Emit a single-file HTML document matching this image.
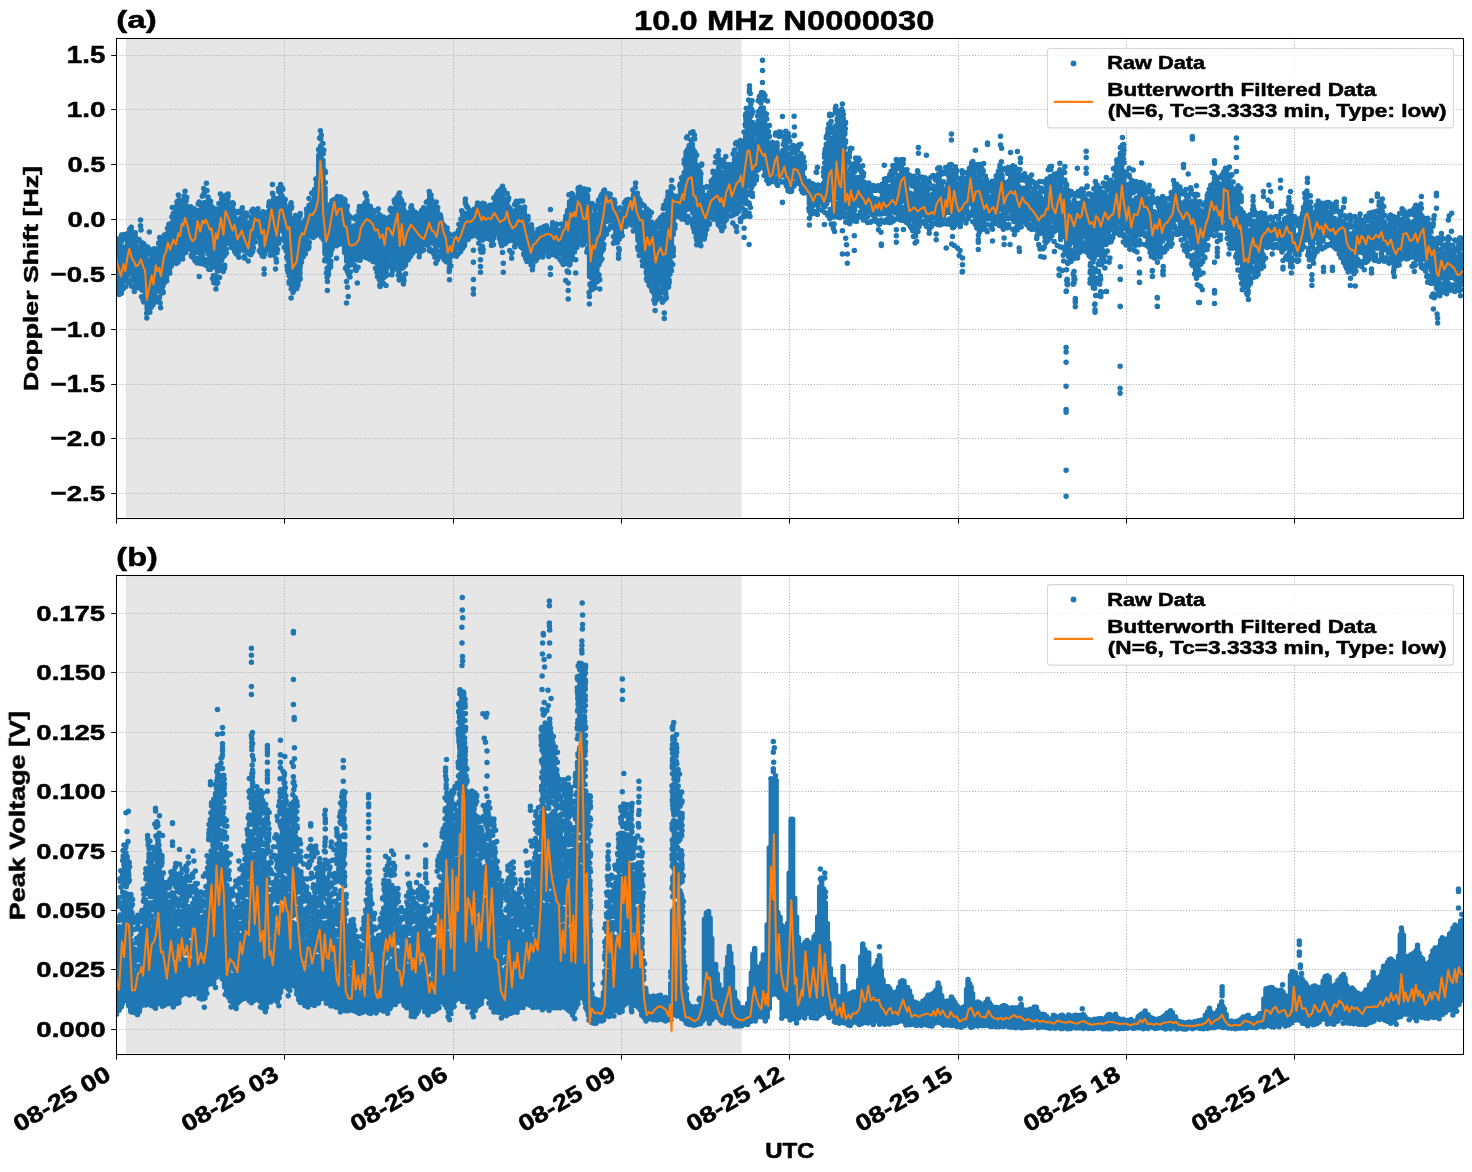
<!DOCTYPE html>
<html><head><meta charset="utf-8"><title>10.0 MHz N0000030</title><style>html,body{margin:0;padding:0;background:#fff}svg{display:block}</style></head><body>
<svg width="1472" height="1172" viewBox="0 0 1472 1172" font-family="Liberation Sans, sans-serif" font-weight="bold" fill="#000">
<rect width="1472" height="1172" fill="#fff"/>
<rect x="116.5" y="38.5" width="1347.0" height="480.0" fill="#fff"/>
<rect x="126.1" y="38.5" width="615.5" height="478.7" fill="#e6e6e6"/>
<rect x="126.0" y="38.5" width="1" height="478.7" fill="#dfdfdf"/>
<path d="M284.50 38.5V518.5M453.50 38.5V518.5M621.50 38.5V518.5M789.50 38.5V518.5M958.50 38.5V518.5M1126.50 38.5V518.5M1294.50 38.5V518.5M116.5 55.50H1463.5M116.5 109.50H1463.5M116.5 164.50H1463.5M116.5 219.50H1463.5M116.5 274.50H1463.5M116.5 329.50H1463.5M116.5 384.50H1463.5M116.5 438.50H1463.5M116.5 493.50H1463.5" stroke="#b0b0b0" stroke-width="1.1" stroke-dasharray="1.1 1.83" fill="none"/>
<rect x="116.5" y="575.5" width="1347.0" height="479.0" fill="#fff"/>
<rect x="126.1" y="575.5" width="615.5" height="477.7" fill="#e6e6e6"/>
<rect x="126.0" y="575.5" width="1" height="477.7" fill="#dfdfdf"/>
<path d="M284.50 575.5V1054.5M453.50 575.5V1054.5M621.50 575.5V1054.5M789.50 575.5V1054.5M958.50 575.5V1054.5M1126.50 575.5V1054.5M1294.50 575.5V1054.5M116.5 613.50H1463.5M116.5 672.50H1463.5M116.5 732.50H1463.5M116.5 791.50H1463.5M116.5 851.50H1463.5M116.5 910.50H1463.5M116.5 969.50H1463.5M116.5 1029.50H1463.5" stroke="#b0b0b0" stroke-width="1.1" stroke-dasharray="1.1 1.83" fill="none"/>
<clipPath id="ca"><rect x="116.6" y="38.4" width="1346.9" height="480"/></clipPath><g clip-path="url(#ca)" fill="none" stroke-linecap="round" stroke-linejoin="round"><path d="M116.8 246.5V279.9M118.3 246.7V282.6M119.8 246.8V286.3M121.6 247.0V287.2M123.5 247.3V281.2M125.6 247.6V279.9M127.5 239.4V275.7M129.7 234.0V273.2M131.3 235.6V272.8M133.3 238.8V279.4M135.1 242.0V281.7M137.1 248.7V279.1M138.6 247.3V280.1M140.3 247.0V281.2M142.1 248.2V285.9M143.7 251.8V290.3M145.5 254.2V298.6M147.2 263.4V308.9M148.6 261.8V301.6M150.6 259.7V300.6M152.0 257.4V297.1M154.0 260.4V292.1M155.6 255.0V290.3M157.1 253.0V291.1M159.0 251.9V290.9M161.0 250.3V292.4M162.8 246.0V286.2M164.2 242.1V273.4M166.4 242.7V271.7M168.0 233.3V266.7M169.8 230.4V264.7M171.8 222.9V260.8M173.3 221.3V256.0M175.4 217.1V257.6M177.5 214.3V253.1M179.3 210.8V249.7M181.0 209.0V247.9M182.6 208.2V245.7M184.3 206.0V241.8M186.4 206.0V243.4M188.3 208.9V241.9M190.2 216.1V248.1M191.9 221.0V250.5M193.6 220.9V253.2M195.6 220.7V252.4M197.1 212.7V250.5M198.8 210.4V252.7M200.6 209.7V253.8M202.3 205.9V251.4M204.2 202.8V249.8M206.1 202.6V250.4M208.1 206.1V253.9M210.2 211.3V258.1M212.0 215.6V261.5M213.7 219.5V266.5M215.8 217.2V266.8M217.5 215.2V271.2M219.6 209.5V262.2M221.2 206.7V256.9M222.9 209.9V257.3M224.4 203.7V255.7M226.3 199.9V243.2M227.8 200.4V234.8M229.4 208.7V238.3M231.4 209.1V242.2M232.9 212.9V243.6M234.4 212.4V244.0M236.4 219.6V249.1M238.6 220.3V252.2M240.6 218.1V248.4M242.3 215.5V247.5M244.2 219.4V250.8M245.8 222.0V248.5M247.9 227.9V252.9M250.0 222.5V248.5M251.8 217.6V240.3M253.3 214.6V240.8M254.8 211.3V235.8M256.8 212.7V232.8M258.9 213.6V237.7M260.9 217.9V246.1M262.9 218.1V249.0M264.6 221.7V254.0M266.8 219.8V250.6M268.9 211.1V246.7M270.5 205.8V235.9M272.4 204.1V236.8M274.2 204.5V248.2M275.8 208.0V252.0M277.3 203.8V240.0M278.8 198.6V227.6M280.9 193.8V230.2M282.4 196.6V231.0M284.5 203.2V240.7M286.2 209.3V250.9M287.9 213.3V259.8M289.4 212.1V266.1M291.1 220.0V281.4M293.2 229.4V283.4M294.6 230.3V282.0M296.1 229.4V279.5M298.2 226.8V273.6M300.1 222.9V266.9M301.9 223.1V253.1M303.4 222.6V250.4M305.1 220.0V247.3M307.0 212.1V238.5M309.1 205.3V235.3M311.2 204.1V231.7M312.8 201.9V231.1M314.8 194.0V230.4M316.6 183.3V225.8M318.8 155.1V213.4M320.8 145.8V214.2M322.9 160.2V236.1M325.0 188.0V253.7M326.9 215.7V260.8M328.6 215.3V262.2M330.6 210.2V254.8M332.2 206.6V240.3M333.7 202.8V232.8M335.2 199.9V234.7M337.0 201.8V235.6M338.7 203.9V229.5M340.7 200.9V230.7M342.7 205.4V241.8M344.7 208.1V252.5M346.7 211.3V261.2M348.7 220.9V266.1M350.5 231.5V263.3M352.2 230.2V258.2M353.9 225.9V259.8M355.9 225.7V253.7M357.6 223.8V259.7M359.4 218.6V254.7M361.5 219.1V250.0M362.9 211.5V244.0M365.0 202.9V246.0M366.7 206.5V246.6M368.5 208.6V247.3M370.0 216.8V248.6M371.9 214.7V246.7M373.7 217.6V252.5M375.5 217.2V257.4M377.6 217.0V263.8M379.7 221.1V268.8M381.7 224.4V270.4M383.3 228.2V269.2M384.8 226.2V268.1M386.7 224.3V264.5M388.6 217.7V255.1M390.5 216.5V252.7M392.7 213.2V260.6M394.8 208.0V252.8M396.3 206.5V252.1M397.9 203.0V259.5M399.6 209.0V266.8M401.7 210.8V262.7M403.3 214.3V267.5M405.4 221.6V265.3M407.1 221.0V255.6M408.7 217.4V249.5M410.8 212.1V246.4M412.6 215.0V243.9M414.1 217.9V243.2M415.6 218.0V244.4M417.7 221.4V244.5M419.8 219.8V249.0M421.9 218.7V246.0M423.8 218.0V244.6M425.8 212.2V244.4M427.5 208.7V245.2M429.5 203.2V243.0M431.1 206.2V242.3M432.6 210.6V243.3M434.1 210.1V240.6M435.9 211.6V250.9M437.4 214.7V245.8M439.0 217.9V243.5M441.0 218.1V244.0M442.5 223.8V248.6M444.3 225.8V252.3M446.3 232.8V256.8M447.8 237.6V261.5M449.5 240.4V263.8M451.3 240.8V256.3M453.2 240.0V252.2M455.0 235.9V249.7M456.6 235.8V246.7M458.5 230.3V247.5M460.4 225.0V246.5M462.4 219.9V242.8M464.3 213.5V232.9M466.4 214.7V235.6M468.4 213.0V233.8M469.9 215.8V232.1M471.9 218.5V231.5M473.9 212.6V229.4M475.5 209.6V227.6M477.1 206.3V225.1M478.9 206.7V232.4M480.9 208.9V239.6M482.7 207.7V240.1M484.5 208.0V237.6M486.4 209.7V232.1M488.1 209.4V228.3M489.9 212.9V233.1M491.8 207.3V236.4M493.6 204.5V237.7M495.5 202.1V230.3M497.1 202.6V226.8M498.8 200.5V229.4M500.3 199.4V236.1M502.1 199.3V239.8M503.6 198.6V242.2M505.1 199.7V239.4M506.8 200.6V233.1M508.5 206.8V235.6M510.3 208.7V240.5M512.3 214.5V237.2M514.3 211.5V241.3M516.3 209.8V237.0M518.4 207.4V236.3M520.0 207.4V238.2M522.1 211.0V241.8M524.2 211.7V246.3M526.0 216.3V250.2M527.8 226.1V252.7M529.7 232.1V258.7M531.4 234.0V261.1M533.0 235.5V256.0M534.6 235.3V256.9M536.2 234.7V253.4M538.0 233.3V252.5M539.8 233.1V251.2M541.4 231.6V250.2M542.9 230.5V248.8M544.7 231.2V245.0M546.9 228.6V246.3M548.9 229.2V248.4M550.7 231.1V248.7M552.7 228.0V248.0M554.8 227.6V247.3M556.3 229.5V246.4M558.2 231.5V248.9M560.2 230.2V253.8M562.1 229.8V253.4M563.6 225.1V253.4M565.7 220.0V256.2M567.6 210.5V260.2M569.6 201.8V254.6M571.6 199.5V244.5M573.0 201.1V244.2M574.7 208.8V240.5M576.3 201.2V238.3M578.3 194.1V232.0M580.3 193.5V231.7M582.2 195.2V235.3M583.7 206.3V236.3M585.7 199.1V241.0M587.5 195.5V238.9M589.6 206.1V276.6M591.7 215.2V278.0M593.5 218.2V275.9M595.3 217.4V276.0M596.8 216.0V271.4M598.8 214.3V265.0M600.3 209.0V261.2M601.8 206.2V251.4M603.3 199.9V238.0M605.4 197.7V220.7M607.2 195.8V221.3M608.8 197.0V220.9M610.6 199.2V218.0M612.1 199.4V220.6M614.2 204.7V227.8M615.8 209.1V233.2M617.8 215.4V236.9M619.3 213.6V239.0M621.3 214.3V235.6M623.2 210.9V226.8M624.9 208.3V224.3M626.9 203.7V216.2M628.4 201.7V216.8M630.0 199.7V217.1M632.2 198.8V220.8M633.7 194.5V219.9M635.8 193.7V228.7M637.9 202.2V240.1M639.3 207.3V243.1M641.3 212.5V248.0M642.8 212.6V252.5M644.6 222.2V263.9M646.5 218.3V268.0M648.2 220.6V270.9M649.7 221.7V269.6M651.7 222.3V276.1M653.4 224.6V278.3M655.1 231.1V287.9M657.0 233.2V285.2M658.9 233.3V280.0M661.0 224.8V283.4M662.7 224.4V288.8M664.4 221.8V290.6M665.9 215.3V285.2M668.0 205.8V270.1M669.5 202.4V265.5M671.4 196.7V256.1M673.2 197.4V234.6M675.1 196.1V217.2M677.2 196.8V207.3M679.0 196.6V212.1M680.6 188.6V211.8M682.1 183.2V210.4M684.3 172.6V213.2M686.1 151.9V209.0M687.5 149.8V209.3M689.2 145.4V208.2M690.8 144.7V205.0M692.8 148.5V212.8M694.8 151.7V217.5M696.2 165.1V225.8M698.4 172.8V230.4M700.3 176.9V227.4M702.3 187.5V231.5M704.0 198.0V225.3M705.5 195.8V226.8M707.0 195.4V222.4M709.2 192.6V217.9M711.3 186.3V213.9M713.4 179.1V211.7M715.0 173.1V211.4M717.0 171.4V209.9M718.6 167.2V215.9M720.5 171.7V219.8M722.1 172.6V221.4M723.9 174.2V222.3M725.8 170.5V212.9M727.4 170.5V205.8M729.4 170.7V202.4M731.0 171.5V208.8M733.2 164.2V215.1M734.7 158.4V209.8M736.6 157.4V213.4M738.5 154.5V211.4M740.5 151.9V207.2M742.1 156.0V202.4M744.0 147.8V200.0M745.6 136.0V190.7M747.5 126.2V180.8M749.2 118.2V180.3M750.8 122.8V182.0M752.3 127.5V181.7M754.3 146.6V176.5M756.2 141.7V171.0M758.1 121.3V159.9M759.6 121.4V158.5M761.4 119.7V159.5M763.2 122.2V162.6M764.8 123.2V164.2M766.9 128.1V172.4M769.1 143.3V174.0M771.2 154.4V178.6M773.1 156.3V176.3M775.1 146.5V171.5M777.0 143.0V168.2M779.0 153.7V178.4M780.8 154.8V176.1M782.9 150.4V172.9M784.6 152.3V173.1M786.2 152.5V179.6M788.3 154.4V181.8M789.7 157.4V187.8M791.6 163.4V181.9M793.7 158.1V175.7M795.6 158.4V176.4M797.2 156.7V174.9M799.1 159.2V177.6M800.9 168.3V185.1M802.4 165.8V186.8M804.2 177.8V188.2M805.8 182.4V188.3M807.9 188.6V192.7M809.4 190.3V203.7M811.3 189.7V205.4M813.1 194.3V205.6M814.9 191.0V202.8M817.0 189.9V204.1M818.5 190.2V198.7M820.0 192.1V199.7M821.7 191.0V201.7M823.5 183.4V205.6M825.1 177.3V206.4M826.8 160.3V203.6M828.4 148.4V194.7M829.9 141.4V195.5M831.6 138.7V199.9M833.7 153.1V217.0M835.8 141.7V195.9M837.9 138.0V197.4M840.0 142.3V202.7M841.8 137.6V197.5M843.4 131.1V188.6M845.0 154.6V207.2M847.1 173.1V207.1M849.2 177.9V212.6M850.7 174.9V204.5M852.5 177.3V209.2M854.6 181.4V210.3M856.2 177.5V204.9M857.9 182.0V204.7M859.9 177.3V205.8M861.8 180.9V207.6M863.5 192.3V205.1M865.1 192.8V210.4M866.9 193.1V210.8M868.8 194.0V210.5M870.9 195.4V213.3M872.5 200.5V215.0M874.3 198.6V216.1M875.9 198.7V213.9M877.5 200.3V212.1M879.0 203.7V214.0M880.7 198.9V214.0M882.4 195.0V213.8M884.2 191.6V213.4M886.1 194.3V213.6M887.8 192.8V214.2M889.9 189.7V212.4M891.4 186.2V210.1M892.9 183.1V206.6M894.6 181.6V212.5M896.4 180.1V211.1M898.0 175.8V209.1M899.9 175.3V204.4M901.7 170.1V199.8M903.5 169.7V201.0M905.0 174.5V198.7M906.8 180.4V209.4M908.7 193.1V216.0M910.5 193.3V219.2M912.3 197.7V212.9M914.2 194.5V222.9M916.2 190.6V224.5M917.8 190.6V221.6M919.8 191.7V217.3M921.7 194.0V215.3M923.4 192.1V215.1M925.5 193.3V215.1M927.1 194.2V219.5M929.1 195.5V220.7M931.0 195.0V219.0M933.1 194.2V217.2M934.6 192.2V217.3M936.2 189.9V215.3M938.2 183.7V212.3M939.6 182.6V212.8M941.7 185.7V214.8M943.6 191.4V218.7M945.6 189.8V212.7M947.6 184.4V211.4M949.2 179.1V207.0M950.7 185.1V208.0M952.7 183.5V216.2M954.8 179.6V210.8M956.6 186.4V216.5M958.5 195.2V217.9M960.7 191.2V217.4M962.8 187.7V215.2M964.8 189.1V211.9M966.5 187.1V212.6M968.1 182.8V198.3M969.6 177.2V203.4M971.2 173.2V203.3M973.2 180.3V211.7M975.1 176.7V210.4M976.7 177.4V210.4M978.4 180.8V214.6M979.9 177.9V215.3M981.4 180.1V216.1M983.3 182.9V217.7M985.0 189.5V218.4M986.7 192.9V216.7M988.5 199.2V219.1M990.3 197.1V218.6M991.8 196.8V217.7M993.5 193.0V217.5M995.2 196.9V217.0M996.9 190.5V214.1M998.8 183.1V209.5M1000.5 174.1V206.1M1002.0 174.9V208.1M1003.5 182.3V213.0M1005.2 184.1V215.7M1007.3 182.6V211.8M1009.2 180.7V210.9M1010.7 177.4V206.6M1012.6 178.4V211.3M1014.3 182.4V214.0M1015.9 181.3V214.4M1017.6 184.0V216.6M1019.4 187.2V218.7M1021.4 190.0V214.4M1023.3 188.2V211.6M1024.9 188.3V213.2M1026.4 189.5V213.7M1027.9 189.7V216.3M1029.7 192.2V218.6M1031.4 193.2V215.8M1033.4 197.1V220.6M1035.2 197.1V222.2M1037.0 200.2V230.5M1038.5 198.8V227.6M1040.6 197.0V233.3M1042.7 200.8V232.9M1044.6 199.4V231.1M1046.6 193.8V227.5M1048.3 188.6V225.2M1050.4 176.5V213.3M1051.9 181.9V219.1M1053.7 188.8V221.9M1055.3 194.6V221.7M1057.0 189.8V217.4M1058.6 184.8V216.1M1060.7 183.5V219.9M1062.7 188.7V236.5M1064.7 189.4V235.9M1066.8 209.5V250.7M1068.8 202.0V240.5M1070.9 204.4V239.6M1072.3 206.3V242.5M1074.2 208.6V239.6M1075.7 207.0V241.2M1077.2 203.6V237.0M1079.1 203.6V236.0M1080.8 203.0V231.9M1083.0 198.5V231.1M1084.9 196.5V225.1M1087.0 200.6V233.7M1088.8 203.8V244.9M1090.7 208.5V253.4M1092.6 206.8V255.4M1094.2 211.0V258.5M1095.8 196.2V251.1M1097.9 198.6V254.5M1099.8 204.3V252.8M1101.5 207.5V251.6M1103.6 199.5V244.5M1105.5 195.3V239.8M1107.1 197.0V237.7M1108.8 198.4V231.4M1110.9 194.9V229.7M1112.9 191.6V227.1M1114.7 184.3V220.7M1116.7 176.8V212.0M1118.2 181.8V218.8M1120.1 173.9V219.6M1121.7 164.8V215.2M1123.8 171.6V220.2M1125.8 186.2V228.6M1127.7 192.0V231.5M1129.5 192.4V232.8M1131.2 202.9V239.5M1132.9 201.0V235.7M1134.8 199.9V226.5M1136.4 197.9V235.4M1138.1 198.1V231.8M1139.7 193.0V230.8M1141.4 190.7V217.3M1143.4 194.2V219.5M1145.5 198.2V223.1M1147.4 198.0V226.8M1148.8 198.4V229.1M1150.4 199.9V236.8M1152.1 211.6V244.4M1153.9 211.8V241.7M1155.7 214.0V242.7M1157.8 212.8V242.5M1159.4 208.4V235.6M1161.0 209.4V242.2M1163.0 211.6V240.5M1164.9 211.1V237.7M1166.6 212.9V235.8M1168.4 209.7V235.6M1169.9 208.7V232.0M1171.5 204.8V228.0M1173.1 196.7V225.1M1174.8 188.7V219.9M1176.7 187.2V219.1M1178.2 196.0V219.8M1180.3 202.7V224.3M1181.9 204.7V228.8M1183.5 203.2V233.8M1185.1 201.5V232.2M1186.6 200.9V235.2M1188.6 202.4V235.4M1190.3 203.7V238.7M1192.2 204.7V243.8M1193.8 204.3V247.3M1195.5 209.5V243.4M1197.2 212.9V255.9M1198.8 217.9V256.0M1200.5 217.1V248.5M1202.6 219.2V247.8M1204.3 219.3V246.0M1206.1 214.1V237.3M1207.6 207.5V231.7M1209.4 201.1V223.7M1211.1 194.1V216.0M1212.6 191.5V219.9M1214.4 189.9V222.9M1216.4 188.9V222.6M1218.4 196.5V227.2M1220.2 195.6V227.9M1221.9 195.3V227.3M1224.0 179.4V210.4M1226.1 178.0V212.6M1227.8 178.7V217.3M1229.8 190.6V227.9M1231.9 196.4V233.7M1233.9 206.3V239.6M1235.4 206.6V240.3M1237.2 203.3V245.2M1238.9 207.8V253.0M1240.7 209.2V255.8M1242.7 227.1V268.4M1244.6 237.9V275.6M1246.7 236.5V275.5M1248.4 236.4V278.3M1250.3 230.8V267.5M1252.4 224.5V259.5M1254.3 225.4V261.4M1256.0 228.1V261.5M1258.0 230.9V262.2M1259.9 229.9V261.1M1261.6 224.4V255.2M1263.6 225.5V245.8M1265.6 223.5V245.8M1267.2 223.3V237.9M1269.2 226.1V235.1M1271.0 229.7V239.8M1272.6 224.5V239.6M1274.6 223.7V236.4M1276.3 224.3V238.6M1278.2 225.2V238.9M1280.3 223.6V241.7M1282.4 222.9V244.7M1284.4 221.8V244.9M1286.1 218.4V243.3M1288.0 217.0V244.6M1289.5 219.8V248.7M1291.2 219.4V249.5M1293.3 228.1V250.2M1295.2 235.5V253.9M1297.3 236.4V254.9M1299.0 234.4V255.1M1300.7 230.1V249.7M1302.1 224.0V244.1M1303.6 221.7V236.3M1305.6 203.3V235.0M1307.5 202.2V236.8M1308.9 204.1V239.8M1310.6 210.6V243.2M1312.4 217.5V246.6M1314.5 216.7V238.4M1316.2 213.9V236.5M1318.1 213.9V238.2M1319.7 213.9V239.1M1321.4 214.6V237.1M1323.0 217.3V241.0M1325.0 214.6V235.6M1327.0 213.4V233.3M1328.8 219.2V235.9M1330.6 216.2V237.5M1332.6 217.9V237.9M1334.6 218.4V239.6M1336.4 220.4V241.9M1338.4 220.8V240.8M1339.8 219.3V243.1M1341.4 221.4V240.7M1343.5 221.2V245.7M1345.1 223.7V246.7M1346.7 231.4V252.3M1348.6 235.5V261.3M1350.4 234.1V264.3M1352.4 234.2V262.3M1354.2 232.2V263.1M1355.7 234.4V260.7M1357.7 225.0V252.3M1359.7 228.0V252.0M1361.6 225.6V252.0M1363.4 230.4V253.2M1365.3 231.3V253.1M1367.3 226.6V249.1M1369.4 225.9V247.2M1370.9 226.0V246.3M1372.5 230.1V249.3M1374.3 222.4V248.2M1376.0 217.4V243.1M1377.6 217.8V248.3M1379.2 217.8V246.2M1381.2 217.2V247.4M1382.7 220.4V249.4M1384.7 222.4V249.5M1386.6 225.9V248.3M1388.4 227.6V252.9M1390.6 228.2V252.7M1392.0 230.8V254.9M1393.7 232.4V260.1M1395.5 235.2V259.4M1397.2 239.0V258.9M1398.8 230.3V253.6M1400.3 228.6V255.4M1402.1 225.7V249.1M1403.9 222.3V244.5M1405.4 222.8V246.1M1406.8 225.6V246.2M1408.3 225.2V249.0M1410.3 226.2V252.6M1412.2 223.6V251.8M1414.1 221.3V252.8M1415.9 220.3V251.2M1417.7 224.0V251.6M1419.6 228.9V250.9M1421.7 221.6V249.7M1423.8 224.4V251.4M1425.3 232.6V259.2M1427.4 236.8V266.6M1429.1 236.5V265.1M1431.2 237.7V270.6M1433.1 238.7V277.5M1434.7 239.8V276.1M1436.7 255.0V284.3M1438.8 255.8V285.1M1440.9 249.8V275.6M1442.8 253.8V277.5M1444.8 252.8V279.4M1446.4 253.9V278.8M1448.1 251.3V278.0M1449.6 249.5V277.1M1451.3 250.9V277.2M1453.4 252.9V276.2M1455.1 259.1V279.1M1457.0 259.0V282.8M1458.9 255.6V278.9M1460.3 254.6V285.3M1462.5 254.3V284.1" stroke="#1f77b4" stroke-width="5.5"/><path d="M116.8 286.5h0M117.0 288.9h0M118.7 241.9h0M118.3 241.9h0M118.9 288.9h0M119.5 292.0h0M119.2 294.4h0M121.2 242.3h0M121.3 240.0h0M122.0 239.9h0M121.7 236.1h0M122.1 234.7h0M121.4 290.9h0M123.3 288.7h0M125.0 238.8h0M125.9 237.5h0M125.2 234.6h0M127.8 233.4h0M127.5 281.1h0M127.0 281.3h0M129.7 229.2h0M129.7 282.0h0M131.2 228.7h0M131.3 227.2h0M131.6 280.1h0M131.7 286.2h0M132.8 232.9h0M132.9 286.4h0M135.2 235.9h0M134.5 287.2h0M134.7 288.4h0M137.5 285.3h0M138.2 283.9h0M139.9 241.5h0M140.3 288.6h0M141.7 243.4h0M142.6 242.9h0M142.2 290.2h0M141.5 296.7h0M141.7 296.8h0M143.3 244.4h0M143.7 300.4h0M143.8 302.0h0M145.3 250.7h0M147.5 247.7h0M146.6 313.2h0M148.2 253.5h0M150.2 254.3h0M150.5 249.8h0M150.8 304.5h0M150.6 305.8h0M151.0 307.4h0M151.9 305.9h0M154.4 253.5h0M154.0 248.7h0M154.2 299.9h0M153.6 300.2h0M155.4 296.1h0M156.0 297.5h0M156.1 301.8h0M156.6 248.9h0M157.5 299.5h0M158.7 243.8h0M158.7 243.4h0M159.5 297.4h0M158.7 300.2h0M160.6 247.2h0M160.5 239.2h0M163.1 242.1h0M163.3 241.7h0M163.3 239.7h0M162.5 290.5h0M162.3 293.1h0M164.3 238.1h0M163.7 283.5h0M166.5 233.9h0M166.6 277.4h0M167.5 228.3h0M169.5 270.7h0M169.5 272.5h0M171.9 216.8h0M171.3 265.2h0M171.3 266.3h0M173.7 217.2h0M173.8 214.4h0M173.3 213.4h0M173.9 260.5h0M173.7 261.2h0M175.9 211.1h0M175.8 209.6h0M175.9 208.9h0M175.1 208.7h0M177.1 204.6h0M177.0 201.8h0M177.2 261.8h0M178.0 262.2h0M179.2 204.7h0M179.0 202.9h0M179.5 202.8h0M179.4 200.1h0M179.1 199.7h0M179.0 255.8h0M180.4 204.5h0M181.0 201.6h0M181.2 254.1h0M182.5 203.5h0M183.1 200.3h0M182.8 250.6h0M182.1 250.8h0M183.1 253.6h0M182.9 254.6h0M184.5 199.8h0M184.7 250.6h0M186.1 201.0h0M186.7 197.6h0M186.6 197.3h0M186.4 247.9h0M186.7 248.7h0M187.0 248.9h0M188.6 248.8h0M191.7 215.1h0M192.4 214.6h0M192.1 254.6h0M191.5 256.6h0M193.5 215.3h0M193.7 215.2h0M194.0 211.6h0M193.3 210.3h0M193.7 257.1h0M193.8 258.3h0M196.0 210.1h0M195.4 259.4h0M195.1 261.0h0M197.7 259.6h0M197.1 260.4h0M198.2 203.9h0M198.5 258.3h0M199.1 260.4h0M200.0 204.6h0M200.7 203.4h0M200.6 263.5h0M202.9 195.5h0M202.5 255.6h0M202.2 258.4h0M202.2 258.4h0M202.2 260.9h0M204.2 193.1h0M204.4 259.6h0M204.1 264.2h0M206.5 260.6h0M205.9 265.3h0M208.5 199.7h0M208.0 197.2h0M208.1 196.9h0M207.9 259.8h0M207.5 264.1h0M210.3 202.6h0M209.8 201.3h0M209.7 262.7h0M210.2 269.6h0M212.2 207.1h0M212.1 265.7h0M212.1 266.7h0M212.3 267.5h0M214.1 212.0h0M214.1 211.8h0M213.6 275.6h0M214.0 281.3h0M213.8 282.7h0M215.9 208.9h0M215.4 275.9h0M216.1 276.5h0M216.1 278.4h0M216.1 279.8h0M217.0 209.8h0M216.9 208.9h0M217.1 282.5h0M217.7 282.7h0M219.8 266.0h0M219.5 266.4h0M219.4 268.9h0M219.3 269.7h0M219.5 277.5h0M221.7 198.8h0M221.5 260.5h0M221.0 267.5h0M221.3 270.2h0M223.4 203.3h0M222.5 203.3h0M222.4 199.2h0M222.5 196.6h0M223.4 268.7h0M222.4 269.0h0M223.8 200.2h0M224.7 196.4h0M224.6 265.3h0M224.5 268.2h0M226.1 249.2h0M226.4 253.3h0M228.2 196.2h0M228.0 194.1h0M228.0 243.2h0M231.3 247.4h0M232.8 208.5h0M233.4 203.9h0M232.9 203.7h0M234.0 248.8h0M236.1 212.0h0M236.2 253.8h0M238.5 212.5h0M241.8 209.9h0M242.3 207.8h0M244.0 214.6h0M244.2 256.6h0M244.7 257.4h0M246.3 216.8h0M247.4 215.5h0M250.6 254.7h0M251.4 211.2h0M251.8 253.0h0M252.8 210.9h0M252.9 246.6h0M253.5 247.9h0M255.3 242.1h0M254.7 242.2h0M260.5 252.4h0M263.3 212.4h0M262.3 255.9h0M264.0 214.4h0M264.4 213.7h0M266.8 213.0h0M268.7 206.2h0M269.0 203.3h0M270.3 249.5h0M271.0 251.8h0M272.3 245.2h0M272.2 251.6h0M274.0 200.7h0M273.6 198.7h0M273.9 197.8h0M273.9 255.0h0M275.7 199.9h0M276.1 259.1h0M276.4 262.1h0M276.7 199.9h0M277.3 198.8h0M277.6 249.6h0M278.8 191.5h0M279.3 189.6h0M278.9 238.9h0M279.0 240.9h0M278.5 241.5h0M278.8 243.2h0M280.7 188.4h0M280.6 184.4h0M282.9 189.2h0M282.4 188.2h0M284.2 247.3h0M286.7 257.5h0M287.5 270.0h0M288.1 271.9h0M289.9 205.8h0M289.0 273.5h0M289.1 275.7h0M289.1 281.5h0M289.2 283.3h0M291.3 208.3h0M290.9 284.6h0M291.2 288.9h0M292.7 224.7h0M292.9 224.1h0M293.2 223.7h0M293.2 218.8h0M292.8 288.0h0M293.6 291.3h0M294.1 224.2h0M294.8 223.0h0M294.7 286.8h0M294.0 289.8h0M295.6 222.1h0M296.4 221.8h0M295.9 221.3h0M295.6 219.7h0M295.7 219.5h0M296.7 216.6h0M296.4 285.5h0M296.2 286.7h0M296.7 288.5h0M298.6 219.1h0M298.4 216.7h0M298.2 281.8h0M298.0 285.2h0M299.7 216.4h0M300.0 215.2h0M299.8 270.7h0M300.0 273.6h0M299.6 276.1h0M300.2 278.9h0M301.7 257.9h0M301.5 262.0h0M305.0 252.1h0M305.2 252.6h0M305.3 254.1h0M306.8 249.5h0M309.0 198.4h0M309.2 242.2h0M309.0 242.4h0M309.3 242.6h0M308.5 242.6h0M308.6 243.1h0M308.9 246.5h0M312.7 193.7h0M313.2 192.8h0M313.3 235.6h0M313.0 237.4h0M314.6 189.5h0M315.1 236.1h0M316.8 230.9h0M316.4 233.5h0M319.2 150.6h0M319.0 149.9h0M318.6 149.4h0M319.1 223.4h0M318.7 226.4h0M320.8 139.0h0M321.3 135.3h0M320.6 217.8h0M320.2 218.2h0M320.4 218.5h0M321.0 224.0h0M320.5 231.7h0M321.3 233.0h0M323.2 153.8h0M322.9 143.5h0M323.3 239.6h0M325.3 182.6h0M325.5 172.4h0M325.1 171.1h0M325.3 259.1h0M327.0 207.3h0M327.3 205.9h0M327.1 205.2h0M327.1 268.3h0M327.5 271.2h0M326.4 273.0h0M329.2 208.9h0M328.7 267.1h0M328.6 269.4h0M328.2 271.9h0M328.5 274.8h0M331.1 203.8h0M330.9 261.3h0M330.2 263.1h0M330.5 264.6h0M330.6 266.5h0M330.2 267.6h0M332.1 200.7h0M332.3 247.3h0M331.9 249.5h0M333.9 237.4h0M333.3 241.0h0M335.8 242.0h0M335.6 244.1h0M335.5 245.6h0M337.0 198.0h0M337.4 196.6h0M337.3 244.4h0M336.5 245.8h0M339.1 237.3h0M338.4 241.0h0M338.7 242.2h0M339.2 242.9h0M341.0 196.9h0M340.3 237.3h0M341.0 238.2h0M340.7 240.0h0M340.5 244.1h0M345.0 204.1h0M344.7 203.6h0M344.1 201.3h0M345.0 200.0h0M346.7 208.3h0M347.3 206.1h0M346.8 266.4h0M346.4 269.1h0M347.2 271.1h0M349.1 215.9h0M348.3 215.1h0M348.2 273.6h0M349.3 276.3h0M350.3 272.1h0M352.2 264.5h0M354.4 265.0h0M356.0 216.5h0M355.3 269.5h0M357.7 216.7h0M358.0 267.3h0M359.2 212.7h0M359.9 211.8h0M358.9 211.1h0M359.4 209.5h0M361.6 214.7h0M362.0 253.9h0M361.5 257.0h0M362.4 207.4h0M363.2 206.0h0M362.7 251.7h0M363.2 254.2h0M363.4 255.9h0M364.5 256.3h0M367.0 200.4h0M366.8 249.6h0M367.1 253.5h0M367.2 256.2h0M366.2 257.7h0M368.0 204.9h0M369.1 252.0h0M368.2 257.0h0M370.0 207.0h0M370.3 207.0h0M370.4 206.6h0M370.0 206.5h0M370.0 252.6h0M369.9 254.4h0M369.6 259.2h0M371.3 255.8h0M371.4 255.9h0M372.1 260.1h0M373.6 212.7h0M374.2 261.7h0M375.7 210.9h0M375.5 268.2h0M377.9 209.6h0M377.3 268.8h0M377.0 272.3h0M378.0 275.2h0M377.5 276.7h0M379.6 214.8h0M380.0 274.6h0M380.0 274.7h0M379.4 280.0h0M379.5 280.1h0M381.2 218.3h0M381.2 277.2h0M382.2 282.4h0M383.6 219.8h0M383.4 217.1h0M383.2 275.0h0M383.2 277.9h0M384.9 219.8h0M384.6 276.0h0M384.4 276.9h0M386.7 268.6h0M386.2 272.9h0M386.8 275.3h0M388.6 260.5h0M388.0 261.8h0M388.1 263.3h0M388.6 266.6h0M390.4 210.6h0M390.1 209.5h0M390.1 264.9h0M393.0 210.1h0M392.1 263.6h0M392.5 266.4h0M392.1 266.5h0M392.3 267.6h0M392.7 269.4h0M392.4 271.3h0M394.6 202.7h0M394.2 200.3h0M395.1 260.4h0M394.4 261.5h0M396.7 200.8h0M395.7 200.1h0M396.1 198.7h0M396.6 260.1h0M395.8 264.5h0M396.6 265.7h0M396.8 266.4h0M397.6 197.7h0M397.6 197.6h0M397.7 196.6h0M398.1 270.1h0M398.3 275.2h0M400.1 198.3h0M399.1 272.6h0M400.1 278.5h0M401.7 202.4h0M401.6 200.5h0M401.3 267.6h0M401.8 268.3h0M402.0 275.9h0M401.7 276.8h0M403.4 210.4h0M403.7 209.7h0M403.2 208.2h0M403.7 204.4h0M403.5 278.4h0M402.9 278.8h0M406.0 215.4h0M405.8 212.4h0M405.6 273.8h0M406.8 217.9h0M408.6 212.8h0M409.2 255.2h0M408.1 259.6h0M408.2 260.1h0M410.8 207.8h0M411.2 252.3h0M410.7 255.9h0M412.5 209.7h0M412.3 209.4h0M412.3 248.2h0M412.5 248.9h0M412.5 249.1h0M412.8 253.0h0M414.2 212.1h0M414.7 250.3h0M413.9 250.4h0M415.2 212.2h0M415.9 249.2h0M417.7 214.3h0M417.2 250.8h0M419.6 215.6h0M419.6 253.1h0M421.8 215.2h0M421.8 251.1h0M423.6 209.9h0M423.7 207.7h0M426.4 202.3h0M427.5 201.4h0M429.5 199.2h0M429.8 196.2h0M429.6 195.4h0M429.7 195.1h0M429.7 248.8h0M430.7 201.7h0M431.5 199.3h0M431.7 250.2h0M431.1 251.2h0M430.8 251.3h0M433.8 205.4h0M433.9 253.9h0M436.0 207.3h0M436.2 258.0h0M437.3 211.5h0M437.7 207.5h0M437.8 256.6h0M437.8 259.1h0M437.7 259.5h0M437.3 260.1h0M438.6 214.1h0M438.9 251.3h0M441.1 253.5h0M443.0 253.9h0M442.0 254.3h0M443.0 257.2h0M446.8 228.5h0M446.7 260.7h0M446.2 261.7h0M447.6 234.1h0M447.5 232.6h0M447.8 232.6h0M449.4 267.8h0M449.4 270.1h0M454.6 254.6h0M457.1 254.4h0M456.4 256.2h0M458.2 253.8h0M460.9 218.9h0M462.6 214.2h0M462.7 212.4h0M462.8 247.9h0M462.3 248.4h0M464.2 242.8h0M464.4 245.8h0M467.0 207.0h0M467.0 206.4h0M466.5 205.8h0M466.0 205.1h0M468.0 208.0h0M468.3 239.2h0M469.7 211.4h0M470.3 210.8h0M469.8 236.3h0M472.2 234.6h0M472.3 234.8h0M472.3 235.6h0M474.2 209.3h0M474.1 235.5h0M475.3 232.9h0M477.0 232.2h0M478.8 237.7h0M478.8 243.3h0M480.3 249.0h0M481.1 251.9h0M482.9 203.3h0M482.1 246.2h0M482.5 246.7h0M482.1 249.2h0M483.1 249.5h0M484.5 203.9h0M486.3 238.3h0M487.6 234.1h0M488.6 234.6h0M488.3 235.2h0M490.1 205.2h0M489.8 239.2h0M490.0 239.4h0M492.4 241.0h0M491.9 243.6h0M491.4 245.4h0M493.8 197.9h0M493.5 244.7h0M494.9 197.1h0M496.0 196.4h0M496.8 194.3h0M497.7 193.7h0M498.4 193.0h0M499.2 238.5h0M500.9 194.6h0M500.4 190.0h0M500.6 189.3h0M500.6 242.5h0M502.3 191.9h0M501.6 190.9h0M501.5 190.3h0M502.4 245.0h0M501.7 245.7h0M503.3 192.3h0M503.7 191.6h0M504.0 190.1h0M505.0 193.2h0M505.4 243.4h0M505.2 243.5h0M507.3 193.4h0M506.5 242.0h0M508.2 200.1h0M509.7 250.5h0M514.7 246.3h0M514.7 247.0h0M515.9 202.7h0M516.4 201.3h0M516.5 242.2h0M518.7 201.9h0M520.1 201.1h0M520.1 242.6h0M520.4 243.9h0M520.3 244.4h0M520.2 245.2h0M522.6 200.9h0M522.4 246.8h0M522.4 248.2h0M524.5 208.4h0M524.6 252.8h0M523.7 254.0h0M526.1 254.9h0M525.4 256.5h0M525.4 256.8h0M525.7 258.5h0M528.0 219.8h0M528.0 259.4h0M531.9 228.4h0M531.1 264.4h0M531.1 265.1h0M532.7 265.9h0M538.0 229.4h0M537.4 258.3h0M539.9 255.2h0M540.8 228.1h0M543.3 253.5h0M542.5 254.4h0M545.3 226.6h0M544.4 226.5h0M546.4 225.8h0M546.9 249.6h0M546.3 250.4h0M546.6 251.8h0M548.9 253.0h0M549.4 254.9h0M548.4 256.1h0M548.7 256.4h0M552.6 224.7h0M552.2 253.7h0M553.0 254.6h0M554.9 224.1h0M554.3 251.9h0M556.7 223.9h0M556.4 252.6h0M555.9 254.9h0M560.1 259.7h0M562.7 258.6h0M561.9 262.1h0M563.5 257.8h0M563.1 261.0h0M565.7 263.3h0M567.2 271.0h0M567.8 272.0h0M569.3 259.2h0M569.1 259.2h0M569.8 263.0h0M569.9 264.2h0M569.4 265.1h0M571.8 193.6h0M571.7 252.6h0M573.1 197.0h0M572.5 251.1h0M574.1 248.3h0M574.5 251.9h0M576.3 197.7h0M576.7 242.0h0M576.8 243.0h0M576.8 247.5h0M578.3 188.1h0M578.8 238.1h0M578.7 238.4h0M577.9 244.0h0M580.0 187.2h0M580.1 240.5h0M580.6 242.8h0M582.6 189.1h0M581.6 239.6h0M581.9 243.7h0M583.2 194.1h0M583.3 241.9h0M583.3 243.7h0M583.8 244.2h0M586.0 194.0h0M585.9 193.0h0M586.2 192.4h0M587.3 190.6h0M587.7 248.6h0M587.2 251.3h0M586.9 252.3h0M590.2 283.7h0M589.9 284.4h0M589.1 292.5h0M592.0 203.4h0M592.1 283.5h0M591.6 284.1h0M592.0 286.8h0M591.2 287.0h0M591.3 289.4h0M594.0 207.1h0M593.6 279.8h0M594.0 285.3h0M595.0 214.3h0M595.1 209.7h0M595.0 205.8h0M595.0 287.8h0M596.6 207.9h0M597.0 274.7h0M596.5 278.3h0M598.9 206.0h0M598.6 200.0h0M599.1 275.0h0M600.5 199.6h0M600.6 196.8h0M602.1 196.5h0M601.7 194.4h0M602.3 194.2h0M601.9 259.0h0M603.9 192.8h0M603.5 191.2h0M603.9 244.5h0M602.9 246.7h0M603.2 247.6h0M605.6 228.8h0M606.7 230.8h0M608.3 193.7h0M608.3 229.8h0M612.4 226.9h0M612.5 227.4h0M614.3 199.9h0M616.0 242.4h0M617.2 208.5h0M617.3 242.5h0M625.1 201.7h0M626.6 200.1h0M627.3 223.7h0M627.9 220.8h0M628.5 222.1h0M632.5 224.1h0M631.8 225.3h0M633.3 231.0h0M635.3 187.4h0M638.4 198.0h0M637.6 247.2h0M639.7 201.2h0M639.9 200.2h0M639.1 249.1h0M639.2 255.4h0M641.1 204.2h0M641.7 203.9h0M641.3 253.8h0M641.0 255.4h0M641.4 255.5h0M643.3 205.0h0M642.3 261.0h0M643.0 261.7h0M645.0 213.5h0M646.0 212.3h0M646.9 210.7h0M646.7 209.1h0M646.3 271.8h0M646.3 273.2h0M647.0 274.8h0M646.5 278.7h0M648.1 214.9h0M648.7 210.7h0M647.8 276.7h0M649.7 216.3h0M649.6 214.8h0M649.8 214.3h0M649.1 278.2h0M649.5 279.2h0M649.9 281.5h0M649.1 284.9h0M649.6 285.0h0M650.0 286.2h0M651.4 212.5h0M651.6 279.4h0M651.9 290.5h0M653.5 286.1h0M653.0 288.7h0M652.9 291.9h0M655.7 225.8h0M654.6 295.3h0M655.3 299.5h0M655.5 301.0h0M654.8 303.2h0M656.8 227.1h0M656.6 226.9h0M656.7 225.7h0M656.9 225.5h0M657.0 225.4h0M656.9 225.4h0M656.6 225.0h0M657.3 290.0h0M657.2 294.2h0M657.3 297.9h0M656.9 299.7h0M656.4 299.8h0M659.4 225.3h0M658.8 223.5h0M658.4 222.8h0M659.0 220.0h0M658.5 289.4h0M659.3 293.6h0M658.6 295.5h0M661.3 220.2h0M660.7 217.4h0M660.5 290.5h0M660.6 291.5h0M660.6 293.2h0M661.2 298.4h0M663.1 214.9h0M662.4 302.3h0M664.1 214.9h0M664.4 207.5h0M664.5 206.4h0M663.9 205.3h0M664.0 300.1h0M666.0 207.8h0M666.2 200.8h0M665.7 290.0h0M665.8 293.7h0M665.8 294.8h0M666.3 297.7h0M666.1 298.3h0M668.4 201.3h0M668.1 201.1h0M667.6 200.7h0M667.8 196.2h0M667.5 275.6h0M668.0 277.2h0M668.4 283.9h0M668.5 287.0h0M669.1 193.4h0M668.9 272.8h0M669.9 274.3h0M669.3 274.5h0M669.1 280.0h0M671.0 193.3h0M671.5 188.0h0M671.3 186.6h0M670.9 262.0h0M671.0 264.5h0M671.1 269.5h0M671.5 270.8h0M673.1 247.5h0M673.3 247.9h0M673.3 248.7h0M673.3 251.2h0M673.3 255.7h0M675.0 224.8h0M674.9 228.3h0M678.6 216.4h0M681.0 184.3h0M680.3 183.9h0M681.1 216.8h0M681.9 178.8h0M681.5 177.7h0M681.8 216.4h0M682.1 216.8h0M684.2 163.4h0M684.2 160.0h0M684.2 219.2h0M685.7 217.0h0M687.1 137.7h0M687.2 136.8h0M687.5 216.4h0M688.1 216.8h0M691.0 140.2h0M691.2 219.6h0M692.4 144.5h0M693.4 139.0h0M693.0 131.8h0M692.4 221.7h0M692.7 225.1h0M692.9 226.0h0M694.6 139.1h0M694.7 225.1h0M694.3 232.0h0M696.4 155.6h0M696.6 155.0h0M695.8 230.6h0M696.7 235.7h0M696.0 237.3h0M698.3 169.3h0M698.7 233.3h0M698.8 236.0h0M700.9 173.7h0M700.0 171.7h0M700.2 236.2h0M700.2 237.8h0M700.3 239.2h0M700.0 242.5h0M699.9 242.5h0M704.4 237.2h0M703.5 238.0h0M704.2 238.9h0M705.0 233.2h0M705.3 234.5h0M705.1 234.5h0M706.8 187.2h0M706.9 186.4h0M706.8 229.2h0M709.5 223.5h0M711.6 182.6h0M713.1 172.5h0M713.0 171.3h0M713.3 218.7h0M713.8 219.3h0M715.3 162.4h0M715.5 216.9h0M714.6 217.8h0M716.4 216.1h0M718.6 162.3h0M718.1 158.7h0M718.9 220.8h0M718.1 222.6h0M718.3 224.7h0M720.6 162.8h0M720.6 162.0h0M720.7 161.7h0M720.6 160.0h0M720.6 227.3h0M722.7 166.5h0M722.4 163.5h0M721.7 227.3h0M724.3 166.0h0M723.6 162.3h0M723.7 225.9h0M724.0 226.9h0M725.8 166.6h0M726.2 219.8h0M725.2 220.4h0M727.8 166.8h0M727.5 164.9h0M726.9 164.7h0M727.5 210.6h0M727.1 212.0h0M729.0 166.1h0M729.7 209.7h0M733.1 154.0h0M732.8 222.9h0M734.8 151.0h0M734.4 149.9h0M736.8 144.1h0M737.1 142.6h0M736.3 142.5h0M736.4 226.8h0M738.4 145.9h0M739.1 143.3h0M740.0 147.9h0M740.1 145.3h0M740.1 141.2h0M740.4 218.8h0M742.3 150.7h0M742.1 146.9h0M741.8 144.6h0M742.1 207.9h0M742.5 217.2h0M744.6 144.3h0M744.2 141.9h0M744.0 131.9h0M744.0 213.1h0M745.5 126.1h0M745.6 125.9h0M745.1 124.5h0M745.8 123.4h0M746.0 120.4h0M745.8 118.5h0M745.4 115.7h0M745.9 113.8h0M745.9 199.8h0M745.8 203.6h0M745.2 210.2h0M747.6 120.7h0M748.0 119.2h0M747.4 117.6h0M747.5 115.7h0M748.0 114.5h0M748.0 112.8h0M747.8 185.3h0M746.9 195.0h0M748.6 114.0h0M748.6 99.9h0M749.3 92.1h0M749.6 192.5h0M749.3 192.6h0M749.0 202.9h0M749.3 204.2h0M749.0 204.4h0M750.8 116.2h0M750.2 115.3h0M750.5 112.4h0M750.3 107.6h0M750.8 104.1h0M750.2 93.6h0M751.3 188.0h0M751.2 194.9h0M752.5 122.4h0M751.9 113.9h0M752.7 111.8h0M751.8 109.5h0M752.0 100.8h0M752.3 186.1h0M752.2 192.9h0M754.5 142.0h0M753.7 134.6h0M754.4 132.1h0M754.7 130.7h0M754.0 129.2h0M754.7 180.8h0M754.1 183.8h0M756.2 133.2h0M755.8 131.5h0M756.1 125.4h0M756.6 176.5h0M755.8 179.2h0M757.7 115.9h0M758.3 112.1h0M758.1 100.7h0M758.3 169.7h0M759.1 111.6h0M759.1 111.6h0M759.1 111.3h0M759.7 101.6h0M760.2 101.1h0M759.8 96.1h0M760.0 163.8h0M761.4 109.2h0M760.8 108.6h0M760.9 102.9h0M761.5 92.5h0M761.6 163.4h0M761.9 164.1h0M761.1 167.3h0M762.7 115.4h0M763.8 114.6h0M762.7 110.3h0M762.8 109.5h0M763.4 107.9h0M763.3 93.0h0M765.1 115.9h0M764.9 115.2h0M764.3 112.5h0M764.4 99.6h0M764.9 95.5h0M764.5 168.9h0M765.1 170.9h0M765.3 174.7h0M765.2 175.9h0M766.8 119.0h0M766.4 114.1h0M767.5 177.3h0M766.7 177.3h0M766.8 180.5h0M769.4 136.4h0M768.6 131.8h0M769.4 125.4h0M768.5 183.6h0M771.5 149.2h0M771.6 146.6h0M773.6 151.1h0M773.5 149.8h0M773.4 146.5h0M775.3 135.0h0M775.7 133.1h0M774.9 178.9h0M777.4 179.0h0M776.8 184.0h0M779.2 136.6h0M780.9 135.2h0M780.4 134.5h0M780.3 132.0h0M783.3 144.4h0M782.7 136.0h0M785.0 145.7h0M785.1 143.7h0M785.0 143.4h0M784.3 140.2h0M785.0 136.3h0M785.0 181.5h0M785.8 147.9h0M785.8 147.4h0M785.9 145.0h0M785.7 138.8h0M786.7 136.9h0M786.6 184.0h0M786.0 184.0h0M786.1 184.7h0M787.7 137.9h0M788.7 136.9h0M788.2 133.5h0M788.7 190.2h0M788.0 190.3h0M788.0 190.7h0M789.3 148.1h0M789.8 141.2h0M789.8 191.2h0M791.9 152.7h0M791.4 149.4h0M792.1 146.5h0M791.7 189.1h0M793.7 152.2h0M793.3 145.4h0M793.2 183.6h0M794.0 185.9h0M795.5 152.2h0M795.4 149.7h0M797.4 149.7h0M797.3 146.5h0M797.6 180.1h0M796.7 182.1h0M798.8 147.1h0M800.8 155.2h0M801.1 153.8h0M800.9 144.2h0M801.2 189.4h0M802.1 161.1h0M801.9 159.0h0M802.4 192.2h0M803.8 168.5h0M804.4 168.2h0M804.5 166.1h0M803.7 191.4h0M804.3 191.5h0M808.2 182.0h0M809.9 183.8h0M809.9 183.3h0M808.9 208.2h0M809.2 208.4h0M809.2 211.1h0M809.8 211.2h0M810.9 184.1h0M811.6 209.3h0M810.9 214.2h0M813.1 186.7h0M812.6 183.8h0M812.6 211.7h0M813.0 212.3h0M814.7 187.4h0M814.9 211.6h0M815.1 212.1h0M818.4 185.3h0M818.1 206.0h0M818.6 209.6h0M823.7 176.3h0M823.5 172.0h0M823.9 168.0h0M824.7 162.8h0M824.5 157.2h0M824.5 154.2h0M825.2 149.1h0M824.9 212.4h0M826.8 149.2h0M826.6 146.4h0M826.3 144.2h0M826.3 138.0h0M826.4 136.2h0M828.9 142.9h0M828.3 136.0h0M827.8 132.7h0M828.0 128.7h0M828.8 124.0h0M828.7 213.3h0M830.3 131.6h0M829.4 128.7h0M830.0 124.6h0M829.7 114.3h0M830.2 209.2h0M830.5 217.5h0M829.7 218.6h0M831.1 132.3h0M831.6 132.1h0M831.3 130.5h0M831.1 130.4h0M831.6 129.5h0M831.6 128.2h0M831.1 121.6h0M831.9 115.0h0M831.2 224.0h0M831.8 224.7h0M833.7 149.0h0M833.3 148.1h0M834.2 147.8h0M834.1 145.7h0M834.1 139.4h0M834.0 137.6h0M834.2 134.4h0M834.2 128.0h0M833.5 224.1h0M834.1 224.1h0M833.3 228.6h0M835.5 133.4h0M835.4 133.4h0M836.0 132.1h0M836.3 132.1h0M836.3 127.5h0M835.9 125.8h0M835.4 112.5h0M835.4 111.6h0M835.4 108.8h0M835.4 108.3h0M835.8 207.3h0M836.1 210.2h0M836.4 214.4h0M837.9 131.7h0M838.4 128.6h0M838.4 123.3h0M838.1 122.4h0M837.3 120.5h0M837.8 120.4h0M837.7 119.1h0M837.4 118.8h0M838.2 116.7h0M838.2 111.3h0M838.0 203.3h0M837.7 204.4h0M838.3 211.0h0M837.6 212.1h0M837.9 217.1h0M839.8 138.8h0M839.5 136.9h0M839.8 129.3h0M839.7 127.8h0M840.1 115.7h0M839.6 206.2h0M839.9 208.3h0M839.6 209.0h0M839.5 209.4h0M839.7 210.3h0M840.1 212.2h0M842.0 133.4h0M842.0 130.9h0M841.5 128.7h0M841.4 126.8h0M842.4 125.2h0M842.0 124.0h0M841.7 109.2h0M841.4 201.5h0M841.8 212.2h0M841.3 215.1h0M843.8 120.9h0M843.0 119.2h0M843.2 118.4h0M843.0 115.6h0M843.3 114.5h0M843.8 194.0h0M843.2 194.4h0M843.2 196.4h0M843.4 200.6h0M843.7 205.3h0M843.9 205.9h0M843.7 210.5h0M843.3 212.3h0M845.1 147.7h0M845.5 142.5h0M845.6 140.9h0M844.9 133.9h0M844.8 132.6h0M845.3 128.8h0M844.5 124.3h0M845.6 123.3h0M845.5 122.3h0M845.2 216.9h0M846.8 158.2h0M847.4 154.3h0M847.7 214.0h0M846.7 214.2h0M846.9 215.0h0M849.0 162.3h0M849.5 157.1h0M849.5 152.7h0M849.6 217.9h0M849.7 218.3h0M849.1 221.4h0M850.5 169.2h0M850.9 166.5h0M851.3 164.8h0M850.8 218.0h0M850.4 221.5h0M852.9 173.9h0M852.9 168.1h0M852.2 167.6h0M852.6 166.1h0M852.9 214.8h0M852.7 215.0h0M852.3 217.3h0M854.5 171.8h0M854.6 171.5h0M855.1 165.2h0M854.6 163.5h0M854.3 214.8h0M854.8 217.1h0M856.6 161.2h0M856.2 217.3h0M857.4 168.7h0M858.3 166.8h0M858.4 166.3h0M857.4 162.9h0M857.4 215.8h0M859.9 169.9h0M860.3 169.3h0M860.4 212.1h0M859.3 217.1h0M861.6 172.4h0M862.0 171.5h0M861.9 217.4h0M864.0 182.1h0M863.2 176.2h0M863.6 216.6h0M865.7 185.6h0M865.2 185.3h0M865.5 214.6h0M865.2 217.7h0M865.4 219.9h0M866.9 188.7h0M867.0 188.7h0M866.5 184.8h0M867.3 217.1h0M870.6 190.2h0M870.7 186.1h0M870.4 222.0h0M870.6 222.2h0M872.5 190.6h0M872.7 190.3h0M872.8 185.5h0M874.8 190.2h0M873.7 189.1h0M874.1 189.0h0M874.5 219.9h0M875.7 190.5h0M876.3 189.5h0M875.4 218.9h0M875.8 219.6h0M876.4 221.7h0M877.6 222.5h0M878.7 190.2h0M878.7 222.5h0M879.6 224.3h0M881.2 191.4h0M881.2 219.9h0M881.0 222.0h0M882.2 188.9h0M882.4 187.5h0M882.4 184.0h0M884.1 186.6h0M883.9 183.2h0M884.5 178.9h0M886.2 189.0h0M885.8 184.4h0M886.5 219.7h0M888.2 186.8h0M888.0 186.4h0M887.8 180.5h0M887.3 178.3h0M887.8 219.4h0M887.6 220.5h0M887.4 222.1h0M890.0 179.3h0M889.8 174.5h0M889.7 218.2h0M889.8 219.4h0M891.5 176.6h0M891.2 175.8h0M891.4 174.9h0M891.2 171.2h0M891.8 217.4h0M891.0 219.3h0M891.2 222.2h0M893.2 178.3h0M892.4 176.3h0M893.4 169.5h0M893.3 220.9h0M895.1 172.3h0M896.0 167.7h0M896.0 167.3h0M896.0 165.3h0M896.7 160.5h0M897.6 168.3h0M897.7 168.2h0M897.6 213.7h0M898.0 215.3h0M899.5 168.6h0M900.0 168.4h0M899.7 166.6h0M899.3 164.3h0M899.5 161.2h0M900.4 159.7h0M899.8 212.8h0M900.4 215.1h0M900.4 219.9h0M901.4 166.6h0M901.7 208.0h0M902.3 209.9h0M903.1 163.7h0M903.4 159.6h0M903.9 208.4h0M903.2 214.4h0M903.3 219.5h0M904.5 207.2h0M905.4 209.9h0M905.2 214.4h0M904.4 214.7h0M906.7 174.5h0M906.5 174.0h0M906.3 172.7h0M907.0 169.8h0M907.1 218.7h0M906.9 221.1h0M906.6 222.5h0M908.6 183.1h0M909.1 177.7h0M908.1 176.3h0M908.6 219.3h0M908.2 220.5h0M910.9 180.4h0M910.9 179.9h0M910.1 178.2h0M910.5 226.5h0M911.0 227.3h0M912.3 186.0h0M912.6 180.8h0M912.6 180.5h0M911.9 228.4h0M912.4 228.7h0M912.7 230.7h0M914.0 186.2h0M913.6 184.2h0M914.2 181.3h0M913.9 228.0h0M916.5 186.3h0M916.7 184.8h0M916.6 179.0h0M916.2 232.1h0M917.8 185.2h0M917.9 184.2h0M918.0 183.4h0M918.3 178.8h0M918.0 172.4h0M918.0 231.5h0M920.2 186.5h0M919.5 177.1h0M919.7 220.2h0M920.3 221.3h0M919.7 221.9h0M921.5 187.9h0M921.7 183.8h0M921.6 222.5h0M924.0 186.7h0M923.8 184.6h0M923.3 181.8h0M923.2 223.0h0M925.4 181.3h0M925.0 177.7h0M925.7 220.7h0M925.1 220.8h0M927.7 190.3h0M926.7 189.3h0M927.0 188.3h0M927.3 186.5h0M927.2 183.2h0M926.6 226.4h0M929.2 182.6h0M929.6 226.7h0M931.1 188.0h0M931.1 177.2h0M931.4 224.4h0M930.7 225.7h0M931.3 226.8h0M933.3 188.9h0M933.3 186.1h0M933.7 223.3h0M935.0 176.0h0M935.7 180.0h0M936.6 218.7h0M936.3 223.6h0M937.8 178.3h0M938.4 175.2h0M938.5 174.2h0M937.6 168.7h0M938.2 168.0h0M938.6 216.7h0M938.2 221.0h0M938.3 224.7h0M939.2 178.9h0M939.7 175.4h0M939.8 174.3h0M939.4 218.3h0M941.8 174.0h0M942.2 172.6h0M941.5 171.8h0M941.8 221.6h0M943.5 181.7h0M943.6 173.6h0M943.3 223.7h0M945.9 172.2h0M948.2 175.3h0M947.6 170.8h0M947.7 168.7h0M947.9 168.0h0M948.0 220.7h0M948.1 223.3h0M948.7 168.9h0M949.7 164.8h0M949.3 212.4h0M949.3 218.9h0M950.9 179.5h0M950.6 179.3h0M951.1 177.5h0M951.1 175.8h0M951.3 170.0h0M950.4 223.0h0M950.6 224.4h0M953.0 175.8h0M952.1 171.0h0M952.7 222.6h0M952.7 224.0h0M952.7 227.7h0M954.5 174.3h0M954.7 173.9h0M955.1 173.3h0M954.8 216.6h0M954.2 218.1h0M955.0 222.5h0M954.7 225.7h0M956.9 177.3h0M956.0 172.4h0M956.4 171.3h0M956.3 169.9h0M956.4 220.1h0M956.8 222.2h0M958.3 188.9h0M958.4 183.8h0M958.8 183.7h0M958.4 222.4h0M958.9 222.9h0M960.1 185.4h0M961.0 183.9h0M960.6 180.6h0M960.3 221.7h0M960.4 223.7h0M963.4 183.1h0M963.0 181.7h0M962.2 177.7h0M962.6 173.4h0M965.0 182.2h0M965.1 179.1h0M964.5 218.9h0M966.0 223.0h0M968.0 176.2h0M967.8 172.4h0M968.6 216.0h0M968.0 218.8h0M969.4 168.3h0M970.0 216.0h0M971.4 166.3h0M971.6 164.3h0M971.2 212.3h0M973.7 175.7h0M973.4 174.1h0M972.9 169.9h0M972.8 161.6h0M973.1 215.1h0M975.7 171.0h0M974.7 164.7h0M975.3 219.9h0M975.4 224.5h0M977.1 167.8h0M976.4 216.5h0M978.2 168.9h0M978.6 222.3h0M978.5 222.5h0M978.4 235.3h0M979.4 174.4h0M979.9 172.4h0M979.8 169.9h0M979.9 164.4h0M979.5 220.6h0M980.5 225.6h0M979.4 232.1h0M981.9 169.3h0M981.6 168.9h0M981.7 168.9h0M981.9 168.8h0M981.1 164.7h0M981.2 220.0h0M981.0 224.0h0M982.9 174.4h0M983.3 170.8h0M983.0 221.6h0M982.9 225.4h0M983.0 227.1h0M984.5 184.8h0M984.9 184.3h0M985.4 175.9h0M984.5 223.5h0M985.4 224.3h0M984.9 229.4h0M986.7 181.8h0M986.3 179.4h0M986.7 224.5h0M986.6 230.5h0M988.0 189.8h0M988.2 186.5h0M988.5 185.8h0M990.5 190.8h0M990.6 189.7h0M990.5 184.3h0M992.1 189.6h0M991.5 186.3h0M992.1 181.2h0M991.6 224.5h0M991.2 227.1h0M991.6 227.5h0M993.3 221.1h0M995.4 188.9h0M995.7 188.2h0M995.4 184.2h0M994.7 223.6h0M996.6 185.9h0M997.1 182.1h0M996.5 178.7h0M997.4 174.9h0M997.2 220.2h0M997.5 224.0h0M998.5 175.6h0M998.9 173.1h0M998.4 171.2h0M998.5 220.9h0M998.4 223.9h0M999.9 167.0h0M1000.0 165.1h0M1000.5 215.4h0M1000.6 216.0h0M1000.6 217.2h0M1000.7 226.0h0M1001.6 220.0h0M1002.5 225.8h0M1003.2 169.7h0M1003.2 219.7h0M1003.9 220.4h0M1003.1 224.8h0M1003.3 229.2h0M1005.7 169.7h0M1005.0 224.2h0M1005.5 226.9h0M1007.7 173.6h0M1007.0 170.5h0M1007.4 225.2h0M1007.5 227.7h0M1009.7 169.9h0M1008.7 218.6h0M1008.7 224.6h0M1010.3 173.2h0M1011.0 172.3h0M1010.1 167.7h0M1010.8 216.0h0M1012.3 171.6h0M1012.1 216.6h0M1012.2 218.3h0M1012.6 229.3h0M1014.2 173.7h0M1013.9 167.5h0M1014.5 166.8h0M1013.7 220.8h0M1013.9 221.6h0M1014.4 230.2h0M1015.8 177.7h0M1016.4 174.0h0M1015.3 174.0h0M1016.1 218.9h0M1016.4 221.0h0M1016.1 228.1h0M1017.7 179.6h0M1018.1 178.6h0M1017.7 224.9h0M1017.3 229.9h0M1019.4 174.4h0M1019.5 226.4h0M1021.4 180.1h0M1021.3 176.7h0M1021.7 221.7h0M1021.0 226.6h0M1022.9 215.5h0M1023.4 215.7h0M1023.8 217.5h0M1023.8 218.1h0M1023.1 218.4h0M1023.7 221.4h0M1025.4 180.8h0M1024.8 180.3h0M1024.4 176.4h0M1026.8 181.3h0M1026.7 177.3h0M1026.4 223.1h0M1026.8 224.7h0M1027.8 184.2h0M1027.6 179.0h0M1027.4 220.5h0M1029.4 187.1h0M1029.4 184.9h0M1029.3 177.6h0M1031.7 182.4h0M1031.6 180.8h0M1031.1 180.4h0M1030.8 224.7h0M1031.6 224.9h0M1031.8 229.6h0M1033.8 188.5h0M1033.5 182.2h0M1035.0 192.5h0M1034.7 189.3h0M1035.1 189.0h0M1035.2 188.3h0M1035.5 186.4h0M1035.8 186.0h0M1035.0 183.0h0M1037.0 193.2h0M1036.9 185.3h0M1037.0 235.8h0M1037.0 236.2h0M1036.7 238.6h0M1038.8 194.1h0M1038.8 244.4h0M1038.9 245.3h0M1040.4 192.0h0M1040.9 190.1h0M1040.9 189.7h0M1040.5 188.0h0M1043.0 191.5h0M1042.9 190.1h0M1042.9 189.0h0M1043.1 248.8h0M1044.1 191.0h0M1045.0 237.2h0M1045.0 241.4h0M1046.1 188.4h0M1046.2 184.8h0M1046.4 182.7h0M1046.3 181.4h0M1047.0 178.9h0M1047.1 230.9h0M1047.1 231.5h0M1046.7 233.4h0M1047.1 237.6h0M1046.1 242.4h0M1048.3 169.8h0M1048.0 232.0h0M1047.8 232.8h0M1047.8 238.2h0M1048.0 240.4h0M1050.8 169.4h0M1050.3 228.1h0M1050.4 228.5h0M1050.9 228.5h0M1050.4 230.9h0M1051.5 166.2h0M1052.1 226.9h0M1051.9 235.6h0M1053.7 184.9h0M1053.2 180.2h0M1054.0 179.8h0M1053.1 179.4h0M1054.3 174.3h0M1055.4 187.9h0M1054.9 182.5h0M1055.7 175.4h0M1055.8 225.8h0M1055.3 230.3h0M1055.6 230.5h0M1057.1 185.3h0M1057.2 184.5h0M1056.6 183.1h0M1056.7 179.1h0M1057.0 173.5h0M1057.5 223.5h0M1057.4 227.0h0M1058.4 179.3h0M1058.8 172.6h0M1059.1 172.5h0M1059.0 222.8h0M1058.6 222.9h0M1059.0 230.1h0M1061.2 176.1h0M1060.7 171.8h0M1060.8 233.8h0M1060.7 237.1h0M1060.6 239.6h0M1060.2 247.0h0M1062.8 181.9h0M1063.3 181.6h0M1063.2 180.4h0M1062.6 247.3h0M1062.2 247.6h0M1063.2 255.2h0M1064.9 182.7h0M1065.1 182.2h0M1064.7 180.1h0M1064.6 172.6h0M1065.2 250.8h0M1065.0 251.0h0M1066.9 204.7h0M1066.9 199.2h0M1066.4 199.0h0M1066.2 189.2h0M1066.5 184.4h0M1068.3 197.4h0M1069.2 195.1h0M1068.5 192.1h0M1068.3 190.5h0M1069.3 245.2h0M1068.9 250.1h0M1068.2 254.5h0M1068.7 256.9h0M1069.4 257.2h0M1068.7 262.1h0M1070.4 195.2h0M1071.3 250.0h0M1070.7 251.2h0M1071.1 254.4h0M1072.2 252.4h0M1072.1 252.9h0M1071.9 256.4h0M1074.3 204.0h0M1074.1 200.1h0M1074.0 251.7h0M1074.0 256.1h0M1074.0 258.6h0M1075.2 195.2h0M1075.6 246.2h0M1075.9 253.7h0M1076.3 254.3h0M1076.7 241.9h0M1076.8 244.0h0M1077.0 246.2h0M1076.8 250.8h0M1077.7 254.4h0M1077.5 256.8h0M1078.8 196.1h0M1079.6 242.4h0M1079.4 243.4h0M1079.4 243.6h0M1079.3 244.1h0M1079.3 244.4h0M1079.1 247.6h0M1078.7 253.2h0M1080.8 240.6h0M1080.4 244.9h0M1080.4 250.0h0M1080.2 251.8h0M1082.5 193.3h0M1083.2 191.5h0M1082.9 236.1h0M1082.6 244.8h0M1085.1 232.6h0M1085.3 234.9h0M1084.9 235.4h0M1085.2 235.6h0M1085.0 236.8h0M1085.3 243.0h0M1084.7 247.5h0M1086.7 187.3h0M1087.0 239.8h0M1087.1 240.1h0M1087.3 246.5h0M1086.5 251.1h0M1087.6 252.7h0M1088.5 193.7h0M1089.0 251.7h0M1089.2 255.7h0M1091.0 202.3h0M1090.4 201.2h0M1091.2 196.1h0M1090.5 194.7h0M1090.4 193.9h0M1091.0 257.5h0M1090.5 263.5h0M1090.3 265.8h0M1090.4 270.7h0M1090.8 271.3h0M1090.2 272.8h0M1090.2 279.3h0M1092.7 200.6h0M1092.8 200.0h0M1092.9 261.9h0M1092.8 268.1h0M1092.9 269.7h0M1092.9 271.8h0M1092.6 274.1h0M1092.7 279.5h0M1092.1 280.8h0M1094.3 200.2h0M1094.8 194.8h0M1094.8 271.8h0M1094.3 279.6h0M1094.7 281.9h0M1094.1 285.1h0M1096.1 191.0h0M1096.4 184.6h0M1095.4 181.5h0M1095.4 269.3h0M1095.8 278.3h0M1097.4 193.3h0M1097.6 192.8h0M1098.4 191.6h0M1098.3 191.4h0M1098.5 191.1h0M1097.6 185.4h0M1098.3 263.8h0M1098.4 264.5h0M1098.4 271.3h0M1098.4 271.7h0M1097.5 281.5h0M1099.4 199.4h0M1100.2 197.2h0M1099.5 196.2h0M1100.0 193.0h0M1099.6 261.0h0M1100.0 262.8h0M1100.3 275.7h0M1101.2 192.8h0M1100.9 191.7h0M1101.7 256.4h0M1101.4 264.8h0M1103.3 195.8h0M1104.2 194.2h0M1103.2 192.5h0M1103.8 251.2h0M1103.6 258.9h0M1104.9 186.6h0M1106.0 244.4h0M1105.0 244.6h0M1105.1 255.1h0M1107.4 189.9h0M1107.5 186.0h0M1107.1 183.7h0M1107.3 251.0h0M1107.1 251.2h0M1106.9 251.3h0M1108.3 190.0h0M1109.2 242.2h0M1110.9 191.8h0M1111.2 191.8h0M1111.3 191.2h0M1110.9 189.7h0M1110.5 189.5h0M1111.1 189.4h0M1110.5 189.3h0M1111.5 187.0h0M1111.0 183.1h0M1110.3 180.4h0M1111.0 180.2h0M1110.7 236.6h0M1111.5 239.0h0M1111.4 240.7h0M1113.3 187.3h0M1113.1 183.2h0M1112.8 237.6h0M1114.4 175.4h0M1114.7 175.1h0M1115.2 174.7h0M1114.3 229.2h0M1114.5 233.5h0M1116.4 172.7h0M1116.4 172.6h0M1116.2 166.9h0M1117.1 164.8h0M1117.2 164.0h0M1117.0 161.9h0M1116.5 220.0h0M1116.6 223.6h0M1116.7 226.9h0M1116.8 227.8h0M1116.6 230.3h0M1117.8 178.4h0M1118.1 168.4h0M1118.5 168.3h0M1118.3 160.7h0M1118.8 160.3h0M1118.4 159.9h0M1118.2 230.4h0M1120.1 161.4h0M1120.1 157.3h0M1120.3 153.6h0M1120.3 229.4h0M1120.5 230.0h0M1119.7 235.0h0M1121.9 154.8h0M1121.9 154.2h0M1121.7 148.7h0M1121.9 218.8h0M1121.7 219.2h0M1122.2 219.9h0M1121.5 221.7h0M1121.9 222.6h0M1121.9 223.8h0M1121.3 227.6h0M1121.3 228.6h0M1122.0 228.9h0M1121.9 233.6h0M1124.1 162.7h0M1123.3 158.8h0M1123.5 154.2h0M1123.9 150.2h0M1123.6 148.4h0M1124.1 235.1h0M1123.6 236.2h0M1126.2 172.6h0M1126.3 237.0h0M1125.9 237.8h0M1125.8 242.6h0M1126.0 244.9h0M1128.0 184.6h0M1128.0 175.2h0M1128.3 240.2h0M1127.2 241.7h0M1127.9 242.8h0M1127.1 243.5h0M1129.0 187.1h0M1129.3 184.0h0M1129.5 176.9h0M1129.7 238.0h0M1130.1 246.3h0M1130.1 248.5h0M1130.1 249.3h0M1130.7 192.0h0M1130.8 189.7h0M1131.7 181.6h0M1131.8 180.4h0M1131.3 243.5h0M1131.0 243.7h0M1133.2 192.7h0M1133.1 189.3h0M1133.2 186.5h0M1132.9 186.3h0M1132.3 185.0h0M1133.2 241.0h0M1135.4 191.1h0M1135.3 188.6h0M1135.4 183.7h0M1134.6 239.1h0M1135.1 245.4h0M1136.1 187.4h0M1136.0 241.2h0M1136.2 243.3h0M1136.4 244.7h0M1137.0 252.1h0M1138.1 191.0h0M1138.4 186.0h0M1138.4 240.7h0M1138.1 241.0h0M1138.6 241.4h0M1139.6 188.5h0M1139.8 234.7h0M1139.9 234.7h0M1139.4 240.4h0M1139.2 244.8h0M1141.1 186.5h0M1142.0 183.9h0M1141.2 182.6h0M1141.7 228.5h0M1141.0 229.9h0M1141.9 232.5h0M1143.7 188.7h0M1142.8 186.2h0M1143.3 184.8h0M1142.9 183.8h0M1143.6 223.9h0M1143.6 225.5h0M1143.1 228.8h0M1146.1 193.1h0M1144.9 192.4h0M1145.6 233.4h0M1145.1 234.9h0M1145.1 236.0h0M1147.8 188.1h0M1147.0 236.6h0M1147.7 237.1h0M1147.9 240.8h0M1147.9 242.4h0M1148.9 191.4h0M1148.4 190.3h0M1149.2 185.3h0M1148.9 235.5h0M1149.2 235.6h0M1149.2 247.3h0M1150.7 192.4h0M1150.4 242.2h0M1149.9 245.0h0M1150.7 247.2h0M1150.0 248.9h0M1150.1 252.6h0M1151.7 200.5h0M1152.3 196.5h0M1152.0 192.3h0M1152.3 247.7h0M1151.6 249.1h0M1152.0 251.7h0M1151.9 251.9h0M1151.7 253.5h0M1154.2 202.3h0M1153.8 199.6h0M1153.4 248.4h0M1153.5 248.8h0M1154.4 248.9h0M1153.9 249.3h0M1153.5 253.5h0M1155.2 246.0h0M1156.0 246.0h0M1156.0 247.9h0M1155.3 251.9h0M1155.5 253.6h0M1158.3 205.9h0M1157.9 203.0h0M1157.2 247.4h0M1159.2 203.8h0M1159.4 202.0h0M1159.0 250.3h0M1159.5 251.7h0M1159.0 251.8h0M1159.6 257.0h0M1160.6 204.8h0M1160.9 202.3h0M1161.0 200.7h0M1160.4 246.9h0M1160.6 253.2h0M1163.2 207.6h0M1163.2 205.8h0M1162.8 248.5h0M1162.8 251.6h0M1162.5 252.7h0M1165.4 204.2h0M1164.9 202.3h0M1165.3 198.8h0M1164.5 250.0h0M1164.7 251.8h0M1166.4 207.8h0M1166.6 245.7h0M1167.9 205.3h0M1168.8 205.1h0M1168.7 205.1h0M1168.5 239.6h0M1168.1 244.4h0M1169.4 198.9h0M1171.3 199.4h0M1171.1 196.8h0M1171.2 192.5h0M1171.6 236.9h0M1171.3 238.7h0M1172.1 243.7h0M1174.4 184.5h0M1174.4 226.1h0M1174.3 227.3h0M1174.2 233.6h0M1176.6 184.2h0M1176.2 230.2h0M1178.2 191.4h0M1177.9 187.0h0M1178.1 228.7h0M1178.3 231.8h0M1178.4 234.3h0M1180.4 193.4h0M1180.3 189.7h0M1179.7 188.2h0M1180.4 230.5h0M1182.5 193.8h0M1182.3 192.7h0M1183.4 193.5h0M1183.2 245.3h0M1183.0 245.6h0M1185.4 194.5h0M1184.7 192.3h0M1184.8 238.6h0M1185.4 246.9h0M1184.5 250.3h0M1186.5 196.5h0M1187.1 243.0h0M1186.8 252.2h0M1188.5 197.0h0M1188.5 247.4h0M1188.2 249.4h0M1189.0 255.4h0M1188.1 255.7h0M1190.7 193.5h0M1190.6 187.8h0M1189.9 248.8h0M1190.6 256.1h0M1192.2 201.3h0M1192.6 247.3h0M1191.9 258.3h0M1192.6 262.5h0M1193.9 194.4h0M1194.2 255.1h0M1194.1 257.4h0M1193.3 258.8h0M1194.2 264.4h0M1195.4 200.7h0M1195.0 195.9h0M1195.6 260.0h0M1195.6 269.8h0M1195.1 273.3h0M1197.7 207.6h0M1197.2 206.0h0M1197.7 195.0h0M1196.8 194.2h0M1196.8 262.8h0M1197.1 264.7h0M1198.4 210.8h0M1198.7 209.0h0M1198.4 263.3h0M1198.5 264.9h0M1200.5 211.5h0M1200.4 203.2h0M1200.5 253.9h0M1200.0 261.0h0M1200.8 264.2h0M1203.0 214.1h0M1202.5 211.5h0M1202.2 211.1h0M1202.2 254.3h0M1203.0 259.9h0M1202.5 261.7h0M1204.8 210.8h0M1204.0 250.2h0M1204.7 257.1h0M1204.9 257.8h0M1206.6 207.6h0M1205.6 205.0h0M1206.6 203.8h0M1205.9 202.0h0M1206.6 246.4h0M1208.2 198.3h0M1207.3 198.1h0M1207.2 195.5h0M1207.6 237.6h0M1207.1 238.6h0M1208.0 245.6h0M1209.9 194.9h0M1209.8 194.5h0M1209.3 189.2h0M1209.7 234.8h0M1211.5 186.3h0M1210.8 185.3h0M1211.7 222.9h0M1211.6 228.0h0M1210.9 231.8h0M1212.7 184.5h0M1212.9 225.6h0M1213.0 226.0h0M1214.3 183.7h0M1214.1 182.6h0M1214.7 179.1h0M1214.4 178.4h0M1214.6 175.6h0M1217.0 186.0h0M1215.9 184.1h0M1216.7 181.4h0M1216.4 178.0h0M1216.7 229.3h0M1215.9 230.6h0M1218.6 193.0h0M1218.1 191.4h0M1218.1 188.9h0M1217.8 187.2h0M1218.3 185.7h0M1218.3 183.2h0M1218.7 235.2h0M1218.4 235.3h0M1220.1 188.6h0M1220.5 235.3h0M1220.3 239.6h0M1219.8 239.8h0M1222.0 192.3h0M1222.4 191.9h0M1221.4 190.8h0M1221.7 190.2h0M1221.9 188.8h0M1221.3 184.7h0M1221.6 176.3h0M1222.1 174.9h0M1223.6 171.9h0M1224.1 215.0h0M1226.6 173.8h0M1226.0 219.0h0M1225.9 225.1h0M1227.4 169.3h0M1227.4 220.3h0M1227.9 221.2h0M1228.1 221.4h0M1227.8 222.0h0M1227.7 222.4h0M1228.1 224.5h0M1227.4 229.0h0M1227.6 233.3h0M1229.9 182.3h0M1230.1 181.9h0M1230.3 176.6h0M1230.1 175.1h0M1230.3 236.2h0M1230.1 236.3h0M1231.3 187.0h0M1231.9 174.8h0M1231.6 240.2h0M1234.4 202.8h0M1233.7 202.2h0M1234.1 197.6h0M1234.0 195.5h0M1233.4 193.8h0M1233.8 191.7h0M1233.3 243.3h0M1233.9 245.9h0M1235.7 194.5h0M1235.6 189.1h0M1235.8 246.2h0M1235.7 256.8h0M1237.0 200.1h0M1237.7 199.9h0M1236.9 190.6h0M1237.5 249.6h0M1237.8 250.2h0M1236.7 254.1h0M1237.0 258.5h0M1237.4 263.0h0M1238.7 201.8h0M1239.3 200.5h0M1238.7 198.5h0M1239.0 193.6h0M1239.0 191.1h0M1238.9 190.1h0M1239.2 270.1h0M1241.2 201.5h0M1241.2 198.3h0M1241.1 195.8h0M1241.2 260.7h0M1240.5 271.0h0M1240.7 276.1h0M1241.2 277.8h0M1242.9 222.9h0M1242.7 222.1h0M1243.1 220.4h0M1242.3 218.6h0M1242.6 217.3h0M1242.7 213.5h0M1242.8 212.4h0M1242.7 212.3h0M1242.3 274.6h0M1242.6 274.7h0M1242.4 282.6h0M1243.2 286.0h0M1244.8 231.4h0M1244.1 227.6h0M1244.6 225.2h0M1244.5 217.6h0M1244.2 279.6h0M1244.0 283.9h0M1244.7 285.0h0M1246.7 231.3h0M1246.2 229.1h0M1246.5 224.5h0M1246.4 224.4h0M1246.8 280.4h0M1246.3 282.2h0M1246.3 286.5h0M1247.2 287.9h0M1246.7 293.2h0M1248.1 232.8h0M1249.0 231.3h0M1248.3 222.7h0M1248.6 221.6h0M1248.3 219.1h0M1248.2 216.7h0M1248.2 282.5h0M1248.3 282.6h0M1248.7 285.6h0M1248.1 290.6h0M1250.3 224.2h0M1249.9 223.2h0M1250.1 219.1h0M1250.6 214.5h0M1250.7 271.4h0M1250.7 278.7h0M1250.5 280.6h0M1250.5 283.2h0M1252.5 213.0h0M1252.6 209.7h0M1252.9 268.8h0M1252.2 269.9h0M1252.9 271.0h0M1252.4 271.8h0M1254.1 222.1h0M1253.8 221.9h0M1254.7 221.2h0M1254.2 215.0h0M1254.8 211.7h0M1253.9 273.1h0M1254.4 274.8h0M1256.3 265.6h0M1256.4 274.4h0M1256.1 276.6h0M1256.3 276.6h0M1257.6 226.5h0M1257.7 220.7h0M1258.5 217.5h0M1257.4 267.8h0M1257.9 271.4h0M1257.5 271.4h0M1257.5 272.8h0M1260.0 225.7h0M1259.3 223.8h0M1259.9 219.3h0M1260.0 218.2h0M1260.4 213.7h0M1259.4 266.1h0M1262.2 220.5h0M1262.2 218.0h0M1261.3 212.7h0M1261.6 261.6h0M1261.8 262.0h0M1262.0 262.7h0M1261.3 265.5h0M1261.2 268.5h0M1263.7 214.5h0M1263.1 254.8h0M1263.3 260.7h0M1263.1 265.3h0M1265.6 219.7h0M1265.1 217.3h0M1265.6 257.9h0M1267.4 218.2h0M1267.1 247.4h0M1268.9 241.6h0M1268.8 241.9h0M1269.3 242.9h0M1268.6 243.9h0M1269.5 245.9h0M1270.6 216.9h0M1270.4 246.6h0M1272.3 220.3h0M1272.1 219.6h0M1272.0 244.7h0M1274.3 245.1h0M1276.2 244.5h0M1278.4 219.0h0M1278.7 217.7h0M1278.5 217.5h0M1278.3 216.4h0M1280.9 213.4h0M1279.9 247.0h0M1282.0 248.7h0M1283.0 250.0h0M1281.9 251.1h0M1284.6 219.0h0M1283.8 248.0h0M1283.8 248.8h0M1284.3 249.0h0M1286.5 256.3h0M1287.4 211.7h0M1288.3 204.6h0M1287.9 254.7h0M1287.6 255.6h0M1287.8 256.8h0M1288.2 258.5h0M1288.3 259.4h0M1289.8 208.8h0M1289.6 208.1h0M1289.7 205.6h0M1289.4 252.7h0M1289.1 255.1h0M1289.8 257.3h0M1290.0 259.1h0M1291.2 215.3h0M1290.8 213.9h0M1290.9 210.4h0M1291.3 208.6h0M1291.4 206.8h0M1291.4 258.1h0M1290.8 260.1h0M1290.6 262.9h0M1291.3 263.0h0M1294.7 223.0h0M1294.9 222.4h0M1295.7 220.0h0M1295.1 218.4h0M1295.2 260.0h0M1297.5 219.6h0M1297.3 261.3h0M1298.5 225.9h0M1299.3 218.9h0M1298.6 260.5h0M1300.1 222.3h0M1300.2 218.5h0M1302.6 213.2h0M1301.8 249.0h0M1301.9 249.2h0M1303.7 209.7h0M1303.4 207.8h0M1303.9 207.0h0M1303.6 246.6h0M1306.2 199.2h0M1306.0 199.0h0M1305.7 199.0h0M1305.8 239.9h0M1307.0 197.0h0M1307.6 194.5h0M1306.9 191.1h0M1307.9 254.6h0M1308.7 248.2h0M1308.7 251.2h0M1308.8 254.9h0M1309.0 255.7h0M1310.8 207.4h0M1310.6 202.1h0M1310.9 253.6h0M1311.0 254.8h0M1312.4 255.0h0M1312.3 255.5h0M1312.2 257.0h0M1312.1 257.8h0M1314.2 212.7h0M1314.2 250.1h0M1314.3 250.4h0M1314.5 254.2h0M1314.5 254.7h0M1316.7 210.1h0M1316.1 249.4h0M1318.4 208.4h0M1317.7 205.7h0M1318.2 201.1h0M1318.4 242.5h0M1318.0 243.3h0M1319.4 209.5h0M1319.9 208.0h0M1319.4 205.5h0M1320.0 244.0h0M1319.5 247.2h0M1321.0 205.0h0M1321.4 247.9h0M1321.2 248.8h0M1323.1 210.4h0M1323.3 203.4h0M1325.2 210.1h0M1324.9 206.2h0M1325.4 206.0h0M1324.7 247.3h0M1327.2 205.0h0M1326.9 202.4h0M1326.9 244.7h0M1329.2 206.4h0M1331.1 213.3h0M1330.2 211.7h0M1330.9 204.3h0M1330.8 243.7h0M1332.8 209.7h0M1333.0 207.4h0M1332.2 204.6h0M1332.7 241.5h0M1332.2 245.6h0M1334.7 211.5h0M1334.8 207.1h0M1336.2 210.0h0M1336.4 209.3h0M1336.2 206.4h0M1336.2 206.0h0M1335.8 204.3h0M1336.4 246.2h0M1336.9 248.6h0M1335.8 248.8h0M1338.2 211.5h0M1338.3 247.1h0M1338.7 249.2h0M1338.8 249.9h0M1340.4 216.1h0M1340.3 213.9h0M1339.9 247.0h0M1340.4 248.1h0M1339.8 251.0h0M1340.2 251.0h0M1341.1 215.4h0M1342.0 250.8h0M1340.9 257.5h0M1342.9 250.3h0M1342.9 252.3h0M1343.6 255.1h0M1343.5 255.8h0M1343.9 259.9h0M1343.5 261.7h0M1344.8 215.7h0M1345.6 256.7h0M1345.3 258.3h0M1345.1 261.2h0M1345.5 265.7h0M1346.3 218.6h0M1346.2 266.1h0M1346.4 266.6h0M1346.5 268.2h0M1348.7 227.3h0M1348.6 226.4h0M1349.1 225.7h0M1349.0 225.5h0M1349.0 224.4h0M1348.8 265.9h0M1348.1 271.9h0M1350.0 226.3h0M1349.9 224.0h0M1350.6 221.6h0M1350.3 218.9h0M1350.3 216.2h0M1350.0 270.2h0M1350.8 270.6h0M1352.1 227.1h0M1352.5 268.1h0M1352.2 269.5h0M1352.6 269.6h0M1352.9 271.4h0M1354.8 227.2h0M1354.7 266.3h0M1355.1 225.6h0M1356.0 222.8h0M1355.9 218.9h0M1356.1 266.2h0M1355.9 271.2h0M1358.2 220.2h0M1357.6 219.5h0M1357.9 259.4h0M1357.8 264.4h0M1359.9 223.6h0M1359.4 218.8h0M1359.6 218.4h0M1359.9 262.1h0M1361.9 220.3h0M1361.3 264.8h0M1361.7 266.4h0M1363.6 224.0h0M1363.8 223.1h0M1363.4 261.2h0M1365.2 257.0h0M1365.4 259.4h0M1364.9 262.3h0M1367.2 220.7h0M1366.8 255.7h0M1367.2 260.7h0M1367.4 261.3h0M1369.0 217.6h0M1369.9 252.3h0M1371.0 221.4h0M1371.3 216.7h0M1371.1 212.7h0M1370.4 253.3h0M1371.3 255.7h0M1373.0 220.8h0M1372.8 252.3h0M1373.0 252.5h0M1372.6 257.0h0M1373.0 257.8h0M1374.0 215.5h0M1374.7 255.7h0M1374.7 256.9h0M1376.2 211.8h0M1375.4 254.8h0M1375.4 257.2h0M1377.1 211.1h0M1379.5 213.1h0M1378.9 211.9h0M1379.0 205.6h0M1379.2 261.0h0M1381.3 211.6h0M1380.9 211.2h0M1380.7 209.1h0M1381.2 208.0h0M1381.4 203.8h0M1381.5 252.4h0M1381.2 253.6h0M1381.6 254.6h0M1381.3 258.0h0M1382.2 215.2h0M1382.3 211.5h0M1382.2 205.4h0M1382.6 257.8h0M1385.0 215.4h0M1384.5 259.7h0M1386.1 257.7h0M1386.2 259.3h0M1388.7 218.5h0M1388.0 259.2h0M1388.2 261.6h0M1390.3 222.2h0M1391.0 216.9h0M1391.1 258.3h0M1390.0 259.5h0M1392.5 225.2h0M1392.1 223.2h0M1392.1 222.7h0M1392.4 221.5h0M1391.7 218.4h0M1391.5 260.0h0M1392.5 261.2h0M1393.4 226.4h0M1393.4 224.8h0M1393.8 221.5h0M1394.0 219.6h0M1394.2 263.7h0M1394.1 267.3h0M1395.8 230.6h0M1395.0 226.7h0M1395.1 226.2h0M1395.7 222.9h0M1395.1 218.9h0M1395.6 218.2h0M1395.7 266.1h0M1397.0 219.6h0M1397.6 217.6h0M1397.8 217.6h0M1397.6 262.4h0M1398.5 224.1h0M1398.5 221.7h0M1399.2 264.9h0M1400.4 220.0h0M1400.5 219.7h0M1399.8 260.2h0M1402.0 212.4h0M1402.4 209.2h0M1402.1 208.8h0M1402.7 255.5h0M1401.5 257.9h0M1404.2 216.7h0M1404.1 211.0h0M1405.8 212.9h0M1405.4 253.9h0M1405.8 257.5h0M1405.1 257.5h0M1407.0 219.1h0M1407.0 218.8h0M1406.2 214.4h0M1406.3 250.7h0M1406.7 259.1h0M1408.7 221.6h0M1408.3 214.7h0M1408.0 252.6h0M1408.4 255.1h0M1409.8 214.2h0M1409.8 211.4h0M1410.8 257.1h0M1411.8 213.4h0M1412.2 212.2h0M1412.0 266.3h0M1414.4 215.3h0M1414.3 208.4h0M1414.6 257.4h0M1413.9 263.5h0M1414.5 263.5h0M1414.5 265.8h0M1416.4 210.4h0M1415.3 206.6h0M1415.8 205.2h0M1416.0 256.3h0M1416.1 258.4h0M1417.8 218.6h0M1417.2 218.4h0M1418.1 214.4h0M1418.2 214.2h0M1417.9 256.3h0M1417.5 259.3h0M1419.7 218.5h0M1419.4 218.4h0M1420.1 218.1h0M1420.0 212.8h0M1419.8 212.2h0M1419.4 212.2h0M1420.2 260.3h0M1421.8 218.2h0M1422.0 216.0h0M1421.3 254.6h0M1421.2 257.5h0M1421.4 267.2h0M1421.8 267.5h0M1423.4 217.9h0M1423.8 259.1h0M1423.6 265.6h0M1423.4 268.7h0M1425.2 222.2h0M1425.1 219.9h0M1424.8 269.5h0M1425.5 270.9h0M1427.3 231.4h0M1427.8 228.8h0M1427.5 225.6h0M1426.9 225.2h0M1427.6 218.3h0M1426.8 276.5h0M1428.9 228.6h0M1429.7 223.9h0M1429.7 276.5h0M1429.2 279.7h0M1431.0 231.9h0M1431.2 227.8h0M1431.5 276.1h0M1430.7 283.2h0M1432.9 226.3h0M1433.3 224.0h0M1433.0 281.0h0M1433.1 283.3h0M1433.0 294.0h0M1434.2 280.8h0M1435.2 295.1h0M1436.2 247.0h0M1436.5 287.8h0M1436.9 289.1h0M1438.9 249.5h0M1439.0 243.1h0M1438.9 239.4h0M1438.4 292.3h0M1441.2 243.5h0M1441.1 240.7h0M1440.6 238.7h0M1441.3 289.4h0M1440.7 293.0h0M1440.4 293.2h0M1443.0 246.5h0M1442.6 239.1h0M1442.3 284.3h0M1443.2 289.1h0M1442.8 292.0h0M1445.0 285.6h0M1446.3 248.3h0M1446.5 244.4h0M1446.8 283.4h0M1446.1 286.9h0M1447.5 245.3h0M1448.2 243.6h0M1447.9 240.3h0M1448.0 282.4h0M1447.9 289.4h0M1449.4 238.8h0M1449.2 285.0h0M1449.5 285.5h0M1449.9 287.4h0M1451.4 285.6h0M1450.9 288.4h0M1450.7 290.3h0M1452.9 245.3h0M1453.1 284.9h0M1455.4 250.3h0M1454.7 248.7h0M1457.6 250.8h0M1456.7 249.3h0M1457.5 241.6h0M1456.9 286.8h0M1457.4 287.2h0M1459.4 246.9h0M1458.9 245.3h0M1458.8 245.2h0M1459.1 290.6h0M1460.5 249.0h0M1460.4 244.1h0M1460.3 243.9h0M1460.9 242.4h0M1460.7 238.1h0M1459.8 238.0h0M1459.7 289.3h0M1460.7 289.9h0M1462.6 244.2h0M116.8 238.8h0M121.4 235.3h0M125.6 235.4h0M131.2 227.2h0M135.3 232.7h0M139.0 239.6h0M144.0 244.1h0M147.7 247.0h0M151.7 251.1h0M158.7 243.0h0M164.3 235.0h0M168.9 224.3h0M174.5 207.8h0M178.9 200.2h0M184.1 196.0h0M190.5 206.8h0M193.6 208.6h0M199.2 202.0h0M202.3 196.3h0M207.0 190.6h0M210.6 201.3h0M213.6 209.5h0M218.9 203.5h0M222.3 195.8h0M225.9 195.2h0M232.6 202.7h0M237.9 211.4h0M241.7 210.2h0M246.0 213.0h0M253.0 209.3h0M258.0 208.7h0M263.2 211.7h0M269.4 201.7h0M272.8 194.1h0M278.5 188.5h0M285.2 199.5h0M291.7 206.7h0M295.4 215.4h0M300.2 213.4h0M306.5 209.3h0M311.7 193.1h0M315.8 179.1h0M319.6 138.1h0M323.8 149.9h0M330.2 205.5h0M334.1 199.6h0M340.0 198.7h0M344.3 199.2h0M350.7 217.4h0M355.0 219.1h0M359.4 206.4h0M362.8 206.6h0M366.4 195.8h0M372.9 210.3h0M378.2 209.0h0M384.6 220.1h0M390.7 208.3h0M394.6 200.3h0M399.0 193.9h0M402.9 204.2h0M406.3 214.2h0M411.5 205.8h0M417.2 213.5h0M421.7 210.5h0M426.4 202.2h0M431.0 195.1h0M436.2 201.9h0M440.4 215.1h0M447.1 227.9h0M450.6 235.1h0M454.9 234.1h0M458.9 224.2h0M465.3 202.5h0M470.7 214.4h0M477.5 203.1h0M481.5 204.1h0M488.2 207.0h0M494.9 197.1h0M498.1 191.4h0M502.3 187.9h0M508.7 197.9h0M514.7 204.5h0M517.9 202.2h0M524.6 207.1h0M528.0 216.6h0M531.4 224.7h0M534.6 233.2h0M540.0 229.2h0M546.7 227.7h0M552.6 222.7h0M557.0 224.6h0M561.5 224.0h0M565.8 216.2h0M568.9 194.7h0M572.5 194.3h0M578.1 189.6h0M584.8 189.1h0M588.5 189.7h0M594.7 206.1h0M598.3 201.2h0M604.5 190.1h0M610.2 194.2h0M614.9 202.7h0M620.1 207.8h0M624.4 203.2h0M628.0 199.5h0M632.8 190.0h0M637.4 193.2h0M644.3 206.1h0M650.5 212.2h0M657.4 221.7h0M663.2 208.5h0M668.0 192.1h0M672.9 188.0h0M679.8 186.1h0M686.5 137.8h0M690.8 132.7h0M694.4 135.0h0M700.1 165.7h0M706.6 187.0h0M711.2 180.9h0M718.1 155.1h0M723.6 160.3h0M729.5 164.8h0M735.5 143.8h0M740.5 140.4h0M746.3 108.2h0M749.5 88.9h0M754.9 129.3h0M759.3 96.8h0M762.8 92.9h0M767.5 101.1h0M772.3 142.2h0M779.0 132.0h0M785.7 131.3h0M792.7 147.7h0M798.7 144.9h0M803.3 156.9h0M808.8 181.2h0M814.8 185.1h0M818.0 184.9h0M821.7 185.5h0M824.9 151.7h0M829.6 115.7h0M835.9 106.2h0M842.8 110.9h0M849.5 152.6h0M855.6 158.1h0M859.5 160.0h0M863.6 173.5h0M868.8 183.1h0M873.9 185.7h0M878.2 185.7h0M881.6 186.2h0M886.6 178.7h0M892.9 165.6h0M896.3 159.4h0M902.9 159.8h0M909.4 174.9h0M914.0 176.2h0M917.5 170.8h0M921.8 177.1h0M928.7 178.9h0M933.0 175.6h0M939.9 167.7h0M945.7 167.5h0M951.3 164.6h0M955.3 166.7h0M961.9 170.7h0M966.5 172.5h0M971.6 163.1h0M978.0 164.6h0M983.7 163.4h0M990.6 184.8h0M996.2 176.0h0M1001.4 161.7h0M1004.9 168.4h0M1008.2 167.6h0M1012.9 165.8h0M1016.1 168.7h0M1019.9 169.6h0M1024.7 173.8h0M1031.6 175.0h0M1035.3 183.2h0M1039.7 181.6h0M1042.8 181.8h0M1049.7 166.7h0M1055.9 176.2h0M1059.9 169.7h0M1063.4 171.3h0M1066.7 185.3h0M1071.2 191.5h0M1075.0 193.7h0M1078.3 191.6h0M1081.7 188.9h0M1087.2 185.9h0M1093.8 188.7h0M1099.8 188.1h0M1103.3 183.0h0M1106.3 177.4h0M1109.7 180.6h0M1113.4 168.7h0M1116.8 160.1h0M1120.4 147.4h0M1123.7 144.5h0M1129.2 174.9h0M1132.6 181.6h0M1135.8 181.6h0M1138.9 182.6h0M1143.6 183.9h0M1148.7 187.2h0M1152.6 191.0h0M1157.7 198.6h0M1162.7 196.4h0M1168.8 198.5h0M1173.5 180.6h0M1179.9 187.0h0M1185.9 189.5h0M1191.3 189.7h0M1196.4 185.7h0M1200.0 201.8h0M1203.1 205.1h0M1208.1 193.4h0M1213.5 173.1h0M1219.4 177.4h0M1225.4 168.3h0M1229.4 167.1h0M1233.1 182.1h0M1237.2 187.8h0M1243.2 212.8h0M1246.8 215.9h0M1250.3 214.4h0M1253.7 208.8h0M1258.6 213.8h0M1264.8 213.8h0M1270.0 218.4h0M1275.8 216.5h0M1281.1 211.3h0M1284.9 210.9h0M1289.1 201.4h0M1294.5 216.4h0M1301.3 217.6h0M1305.0 197.7h0M1310.3 195.8h0M1316.1 205.5h0M1321.8 203.3h0M1328.6 202.6h0M1331.7 204.2h0M1336.3 202.1h0M1341.0 211.2h0M1346.2 217.5h0M1349.9 215.2h0M1354.8 216.5h0M1360.1 214.1h0M1365.9 216.4h0M1369.2 213.2h0M1373.8 212.1h0M1379.2 201.9h0M1383.8 206.5h0M1390.5 214.9h0M1393.9 216.8h0M1399.5 213.6h0M1406.0 214.0h0M1409.9 211.3h0M1413.9 209.0h0M1419.5 208.0h0M1424.6 218.8h0M1428.0 218.8h0M1433.7 219.3h0M1437.9 238.0h0M1443.1 238.5h0M1448.4 236.9h0M1454.8 240.0h0M1461.2 239.8h0M116.8 292.6h0M121.4 293.3h0M125.8 286.5h0M129.7 283.0h0M136.3 287.7h0M143.0 299.9h0M149.8 312.2h0M153.0 304.7h0M157.8 299.1h0M163.3 292.4h0M166.7 281.0h0M169.7 273.2h0M176.4 263.4h0M179.4 258.1h0M182.5 255.4h0M185.7 252.5h0M191.3 255.2h0M197.2 263.1h0M200.3 263.1h0M203.4 264.0h0M208.7 269.2h0M212.5 278.5h0M216.8 283.8h0M223.2 271.4h0M227.8 242.8h0M234.7 251.7h0M238.8 257.2h0M244.4 257.9h0M248.2 261.0h0M252.7 251.2h0M259.3 250.8h0M263.7 256.4h0M270.3 255.2h0M276.9 252.7h0M280.8 239.3h0M287.0 266.1h0M293.0 292.4h0M296.6 288.2h0M303.1 256.9h0M308.7 248.2h0M312.5 237.3h0M316.5 235.0h0M321.5 237.3h0M324.6 260.8h0M327.7 273.2h0M334.6 244.5h0M340.2 243.0h0M345.5 268.3h0M350.0 277.1h0M356.1 270.5h0M360.1 260.3h0M366.9 256.0h0M372.9 261.6h0M379.8 285.2h0M383.3 283.5h0M387.1 274.7h0M394.0 267.8h0M399.3 279.9h0M404.0 280.5h0M409.3 257.6h0M413.8 250.6h0M419.2 256.7h0M423.8 249.9h0M429.6 250.8h0M434.9 257.3h0M441.4 256.1h0M444.4 260.0h0M450.8 266.0h0M456.7 255.0h0M460.6 251.8h0M464.6 243.9h0M467.8 239.5h0M471.8 236.2h0M477.6 232.4h0M482.9 251.9h0M488.0 233.9h0M492.0 245.1h0M496.7 233.8h0M502.5 252.4h0M507.7 240.1h0M512.1 252.7h0M515.7 244.2h0M520.7 246.7h0M523.9 254.8h0M526.9 261.6h0M532.8 265.2h0M535.8 260.7h0M542.7 257.0h0M548.6 256.0h0M553.6 252.7h0M556.8 256.6h0M563.2 264.4h0M568.7 272.6h0M572.2 256.8h0M578.6 244.2h0M582.1 245.1h0M586.8 252.0h0M592.3 289.4h0M597.1 281.8h0M603.4 249.0h0M606.5 234.3h0M610.5 225.9h0M614.8 241.0h0M618.7 248.3h0M622.2 235.8h0M625.8 226.6h0M632.3 224.4h0M638.3 250.1h0M642.6 265.7h0M647.1 280.5h0M653.9 299.7h0M658.6 296.1h0M662.5 301.8h0M669.2 282.8h0M672.8 264.6h0M676.3 213.9h0M681.8 219.0h0M687.4 222.5h0M693.5 228.5h0M698.8 239.8h0M704.3 237.8h0M709.2 224.5h0M715.2 217.8h0M721.8 230.7h0M726.6 217.6h0M730.8 216.0h0M735.7 226.5h0M740.6 221.5h0M745.5 216.2h0M750.4 207.4h0M756.3 179.9h0M760.6 166.2h0M764.1 175.6h0M768.5 182.5h0M771.8 181.7h0M777.7 185.4h0M782.1 182.1h0M787.0 186.8h0M791.5 191.2h0M797.3 183.2h0M803.7 193.1h0M806.9 192.8h0M812.7 213.5h0M817.3 214.4h0M822.3 210.6h0M827.7 215.2h0M834.5 231.4h0M840.0 217.8h0M845.7 222.3h0M849.6 223.8h0M853.3 220.7h0M856.5 221.6h0M863.3 220.0h0M867.5 222.6h0M872.3 221.1h0M878.9 224.2h0M884.6 222.2h0M890.0 222.7h0M896.7 219.1h0M903.0 220.4h0M909.1 224.4h0M915.6 236.1h0M919.0 226.7h0M925.4 224.4h0M929.3 229.2h0M935.4 223.8h0M940.5 224.8h0M946.9 224.1h0M953.4 227.6h0M960.3 226.6h0M966.0 221.5h0M972.8 221.8h0M976.8 228.0h0M981.0 230.1h0M987.2 231.8h0M992.5 229.3h0M999.3 225.5h0M1002.9 227.1h0M1008.6 226.3h0M1014.4 234.5h0M1021.2 227.0h0M1025.8 223.2h0M1029.2 228.0h0M1034.8 228.7h0M1040.0 249.0h0M1044.2 247.0h0M1050.1 238.0h0M1054.2 231.5h0M1058.5 228.6h0M1063.6 261.1h0M1067.8 263.6h0M1071.0 261.6h0M1077.5 258.0h0M1083.7 250.9h0M1090.6 279.5h0M1095.1 283.9h0M1100.1 280.0h0M1104.9 261.4h0M1111.0 241.7h0M1117.3 229.1h0M1123.3 242.1h0M1129.8 249.2h0M1134.6 250.5h0M1141.3 243.9h0M1147.7 246.3h0M1151.3 256.5h0M1154.4 257.9h0M1160.2 257.0h0M1166.7 248.9h0M1170.8 246.2h0M1176.2 234.3h0M1181.2 240.1h0M1187.9 256.1h0M1192.7 265.8h0M1198.7 269.8h0M1202.5 261.9h0M1207.1 249.5h0M1214.1 235.8h0M1217.3 241.5h0M1224.0 228.2h0M1227.1 238.4h0M1232.6 248.3h0M1237.9 270.1h0M1241.5 283.5h0M1247.3 294.7h0M1254.0 277.2h0M1258.1 274.5h0M1263.6 266.5h0M1268.3 245.9h0M1273.4 248.0h0M1278.6 247.8h0M1282.0 252.0h0M1285.5 257.6h0M1292.3 267.1h0M1297.4 261.6h0M1303.6 247.0h0M1307.8 255.3h0M1312.8 259.4h0M1317.1 251.4h0M1322.0 248.9h0M1327.4 245.8h0M1330.4 243.9h0M1334.2 246.9h0M1339.2 254.0h0M1343.6 262.6h0M1350.5 278.3h0M1354.1 273.7h0M1360.9 266.0h0M1365.7 262.6h0M1369.2 259.2h0M1374.7 260.4h0M1378.8 261.5h0M1384.3 261.3h0M1389.0 263.3h0M1393.9 269.4h0M1397.9 264.4h0M1403.5 258.1h0M1408.5 258.3h0M1415.2 265.3h0M1420.5 263.7h0M1427.3 275.2h0M1434.3 297.7h0M1439.8 295.8h0M1446.7 293.8h0M1451.7 289.4h0M1454.8 291.5h0M1460.5 295.7h0M140.5 219.9h0M140.5 225.7h0M141.0 229.9h0M149.3 231.9h0M159.6 237.4h0M172.3 207.4h0M178.4 194.9h0M185.1 191.3h0M206.4 183.3h0M203.7 188.6h0M220.4 194.1h0M272.5 184.6h0M272.5 193.2h0M134.3 291.5h0M160.6 307.8h0M160.1 303.1h0M182.6 259.0h0M200.1 263.2h0M199.2 276.5h0M264.1 269.0h0M264.1 274.0h0M275.5 269.0h0M291.1 298.1h0M288.3 268.1h0M327.1 277.3h0M327.4 281.5h0M327.4 290.6h0M336.5 258.2h0M346.5 303.1h0M348.2 296.4h0M347.4 287.3h0M346.5 281.5h0M357.3 283.1h0M355.7 268.1h0M291.1 202.7h0M320.4 130.8h0M215.9 289.0h0M146.8 318.1h0M465.4 199.1h0M461.7 210.7h0M550.4 209.6h0M503.3 263.2h0M503.3 272.3h0M473.4 250.2h0M473.4 262.3h0M473.4 279.5h0M473.4 289.0h0M473.4 293.9h0M480.5 266.5h0M480.5 272.3h0M480.5 259.8h0M449.5 279.8h0M449.2 271.5h0M370.2 258.2h0M550.4 268.1h0M550.4 274.5h0M568.2 283.1h0M568.2 290.6h0M568.2 298.9h0M565.7 280.6h0M575.7 273.1h0M575.7 259.8h0M571.6 259.8h0M589.4 296.4h0M589.4 303.9h0M599.8 289.0h0M599.8 279.8h0M511.6 253.2h0M511.6 258.2h0M532.4 269.8h0M380.1 286.5h0M386.0 285.6h0M403.4 284.0h0M429.2 191.6h0M365.2 193.2h0M399.6 192.9h0M502.5 186.3h0M391.8 274.8h0M435.9 263.2h0M635.6 182.9h0M671.7 180.3h0M718.4 150.8h0M715.9 156.6h0M725.8 156.6h0M664.3 318.4h0M655.1 310.6h0M664.3 313.1h0M618.5 254.0h0M618.5 258.2h0M619.3 249.8h0M613.5 243.2h0M613.5 236.5h0M696.7 239.9h0M696.7 244.8h0M700.9 245.7h0M736.7 231.5h0M744.1 228.2h0M744.1 237.4h0M749.1 244.5h0M750.0 216.6h0M749.1 213.2h0M782.4 202.4h0M809.4 224.9h0M809.4 218.2h0M824.4 224.5h0M842.4 230.7h0M845.7 238.2h0M846.5 244.8h0M842.4 254.0h0M847.3 254.0h0M847.3 263.2h0M817.4 167.5h0M816.6 172.4h0M794.1 135.8h0M804.1 161.6h0M850.7 148.3h0M701.7 165.0h0M752.5 196.6h0M762.5 82.4h0M762.5 70.4h0M762.5 60.3h0M782.4 116.5h0M794.1 116.2h0M794.4 127.0h0M794.4 135.3h0M782.4 202.2h0M842.4 104.0h0M850.7 149.0h0M817.4 167.3h0M816.1 172.3h0M701.7 164.0h0M749.5 85.7h0M851.8 148.6h0M884.3 165.2h0M918.4 147.4h0M918.4 153.3h0M926.4 155.3h0M951.4 134.1h0M951.4 139.9h0M987.5 142.9h0M987.5 144.6h0M975.5 150.3h0M1000.5 136.3h0M1000.5 144.9h0M1001.6 148.3h0M1010.5 152.4h0M1017.4 151.6h0M1020.4 158.3h0M1020.4 162.4h0M1077.4 168.2h0M1086.2 151.3h0M1086.2 157.4h0M1086.2 168.2h0M1086.2 173.2h0M854.3 235.7h0M854.3 250.6h0M878.5 229.8h0M881.0 232.3h0M881.3 244.0h0M881.3 245.6h0M896.3 229.8h0M896.3 235.7h0M896.3 242.3h0M903.4 229.5h0M913.4 236.5h0M915.1 243.1h0M916.7 241.5h0M929.2 233.2h0M936.2 234.0h0M936.2 239.8h0M952.5 236.5h0M951.7 244.0h0M946.2 248.1h0M954.2 245.6h0M957.5 248.1h0M960.0 250.6h0M959.2 255.6h0M962.5 258.1h0M962.5 264.8h0M962.5 271.4h0M978.3 239.8h0M978.3 242.3h0M978.3 249.5h0M992.5 241.1h0M1004.1 238.1h0M1004.1 244.5h0M1010.0 244.5h0M1019.1 248.1h0M1019.4 251.5h0M1040.7 256.5h0M1044.1 257.3h0M1054.1 241.5h0M1057.4 245.6h0M1054.4 251.5h0M1059.1 268.9h0M1062.4 270.6h0M1066.5 269.8h0M1059.4 275.6h0M1074.0 271.4h0M1074.0 278.9h0M1067.4 279.8h0M1067.4 284.8h0M1074.0 283.1h0M1066.2 291.4h0M858.5 158.3h0M862.7 165.7h0M1059.9 163.2h0M1064.9 166.6h0M1122.4 137.5h0M1122.4 145.0h0M1141.6 162.9h0M1129.1 168.3h0M1133.2 169.9h0M1192.3 136.6h0M1192.3 139.1h0M1183.5 164.6h0M1183.5 167.4h0M1188.2 174.1h0M1212.3 172.4h0M1214.5 160.8h0M1214.5 163.3h0M1236.4 138.0h0M1236.4 147.5h0M1236.4 157.5h0M1236.4 171.6h0M1238.1 185.7h0M1240.6 188.2h0M1253.1 196.6h0M1253.1 200.7h0M1253.1 205.7h0M1263.4 191.6h0M1263.4 196.6h0M1268.9 184.9h0M1270.6 191.6h0M1268.1 199.9h0M1271.4 203.2h0M1271.4 206.6h0M1280.5 180.3h0M1280.5 187.9h0M1290.5 191.6h0M1288.9 197.4h0M1288.9 201.6h0M1304.7 193.2h0M1096.6 295.6h0M1100.8 296.4h0M1106.6 291.4h0M1101.6 292.3h0M1095.0 303.9h0M1095.0 309.7h0M1095.0 312.2h0M1104.9 268.1h0M1109.9 258.1h0M1109.1 262.3h0M1120.3 266.8h0M1120.3 279.5h0M1120.3 306.4h0M1139.4 259.0h0M1139.4 272.3h0M1139.4 282.3h0M1144.9 244.8h0M1152.4 270.6h0M1152.4 276.5h0M1157.4 262.3h0M1163.2 266.5h0M1163.2 270.6h0M1163.2 274.8h0M1157.4 298.1h0M1157.4 306.4h0M1191.5 264.0h0M1197.3 284.8h0M1200.6 286.4h0M1202.3 289.8h0M1196.5 273.1h0M1199.8 274.8h0M1203.1 273.1h0M1199.5 302.6h0M1214.5 290.6h0M1214.5 293.1h0M1214.5 303.6h0M1214.5 262.3h0M1217.3 248.2h0M1217.3 252.3h0M1217.3 256.5h0M1228.9 244.0h0M1230.1 248.2h0M1228.9 254.0h0M1248.4 299.4h0M1248.1 293.1h0M1242.3 289.8h0M1272.2 254.0h0M1283.0 260.6h0M1283.0 267.3h0M1283.0 269.0h0M1291.4 273.1h0M1290.5 266.5h0M1066.3 291.1h0M1075.3 298.9h0M1075.3 302.3h0M1075.3 306.4h0M1066.7 280.6h0M1067.5 283.9h0M1074.1 271.5h0M1074.1 276.5h0M1073.3 283.1h0M1090.0 283.1h0M1093.3 288.1h0M1307.4 178.3h0M1307.4 182.4h0M1306.1 194.1h0M1344.3 199.1h0M1344.3 201.6h0M1343.5 207.4h0M1371.5 200.7h0M1377.3 194.1h0M1377.3 196.6h0M1382.3 199.1h0M1421.4 196.6h0M1420.9 204.1h0M1421.4 208.2h0M1436.4 193.2h0M1436.4 195.7h0M1436.4 208.2h0M1434.2 215.7h0M1441.4 233.5h0M1449.2 215.7h0M1451.7 213.2h0M1448.4 219.9h0M1451.4 231.2h0M1309.4 253.2h0M1309.4 259.8h0M1309.4 266.5h0M1313.6 257.3h0M1313.6 263.2h0M1311.9 274.8h0M1311.9 279.8h0M1311.9 285.6h0M1323.5 267.3h0M1323.5 271.5h0M1332.4 267.3h0M1332.4 270.6h0M1350.2 285.6h0M1355.2 286.0h0M1364.3 269.8h0M1371.5 269.0h0M1371.5 273.1h0M1394.3 276.5h0M1393.4 272.3h0M1414.3 271.5h0M1427.6 282.3h0M1433.4 308.9h0M1437.1 313.9h0M1437.6 318.1h0M1437.6 323.1h0M1431.7 296.4h0M1066.1 347.4h0M1066.1 351.9h0M1066.1 362.3h0M1066.1 386.2h0M1066.1 409.6h0M1066.1 412.2h0M1066.1 470.3h0M1066.1 496.2h0M1120.1 366.2h0M1120.1 388.2h0M1120.1 393.3h0M1120.1 306.3h0M1120.1 279.2h0M962.2 272.0h0M1059.0 275.1h0M1067.1 279.2h0M1067.1 284.3h0M1066.1 291.4h0M1073.2 284.3h0M1074.9 279.2h0M1075.3 298.5h0M1075.3 301.6h0M1075.3 306.7h0M1073.2 274.1h0M1090.5 283.2h0M1094.6 288.3h0M1095.6 295.5h0M1100.7 296.5h0M1100.7 291.4h0M1106.2 291.4h0M1094.6 304.6h0M1095.0 309.7h0M1095.0 311.8h0M1099.7 284.3h0M1100.7 279.2h0M1091.6 276.1h0M1095.6 278.2h0M1139.5 273.1h0M1139.5 282.6h0M1152.3 276.5h0M1152.3 271.0h0M1157.2 297.5h0M1157.2 306.3h0M1162.9 274.1h0M1162.9 271.0h0M1198.6 285.3h0M1198.6 302.6h0M1196.5 278.2h0M1194.5 274.1h0" stroke="#1f77b4" stroke-width="5.5"/><path d="M116.0 258.2L118.5 267.9L121.0 276.3L123.5 264.1L125.2 271.3L127.7 255.9L129.3 249.1L131.8 258.2L134.3 261.8L136.0 266.3L138.5 264.6L141.0 259.3L143.5 267.6L145.1 270.1L146.8 299.9L149.3 287.1L151.8 275.2L153.5 284.5L155.9 265.2L157.6 271.2L159.3 267.9L160.9 276.2L164.3 255.0L165.9 252.8L167.9 242.5L170.1 249.6L173.4 239.5L175.9 244.6L178.4 233.4L180.1 236.0L181.7 223.7L183.4 225.4L185.1 217.7L187.6 226.0L190.1 236.9L192.6 241.2L195.1 239.0L197.6 221.1L200.1 231.4L202.6 220.6L204.2 223.3L205.9 219.6L208.4 225.7L210.0 229.9L211.7 228.3L214.2 249.9L215.9 233.3L217.5 238.6L220.9 217.9L223.4 234.8L225.5 211.1L227.5 215.4L230.0 222.8L232.5 230.6L234.5 224.9L237.5 239.5L241.7 230.7L245.0 240.4L248.3 248.4L250.8 230.1L252.5 229.9L255.0 218.6L257.5 220.8L259.1 219.9L261.6 233.7L264.1 230.0L264.6 246.3L268.3 229.7L271.6 209.2L274.1 223.5L276.6 235.8L279.9 210.1L282.1 209.3L284.1 216.7L287.4 229.2L289.4 226.9L292.4 268.7L296.6 261.7L299.9 238.0L302.1 233.2L304.1 234.6L307.4 223.1L309.9 214.2L312.4 215.1L315.7 209.7L318.2 199.8L320.4 160.9L321.6 171.5L323.2 214.0L326.1 241.6L329.0 232.1L331.5 216.6L334.4 201.9L336.5 215.0L339.0 209.0L341.5 208.5L344.0 225.5L346.5 227.1L349.0 244.4L351.5 245.7L355.7 244.0L359.0 239.3L361.0 227.6L361.0 227.7L363.5 223.4L366.8 219.2L370.2 221.2L372.7 223.9L375.1 230.5L377.6 229.4L380.1 238.0L382.6 234.3L384.6 244.9L386.8 228.0L388.5 228.0L390.1 230.2L392.6 235.4L395.1 223.5L397.6 213.3L399.8 245.9L401.8 224.1L403.9 245.1L406.8 233.5L410.9 224.5L414.3 228.6L419.3 235.4L423.9 239.3L426.7 231.4L429.2 222.8L431.7 230.4L434.2 231.9L436.7 236.9L439.2 222.8L441.4 221.3L443.4 232.1L445.9 238.2L447.6 252.8L450.0 246.1L451.7 251.7L454.2 239.8L456.2 236.6L458.4 241.2L460.9 235.3L465.0 223.2L467.5 221.1L470.0 222.2L472.5 220.4L475.0 217.1L477.2 208.5L480.0 216.6L481.7 220.2L483.3 216.7L485.8 219.8L488.3 217.8L490.8 219.2L494.2 212.9L496.7 216.7L500.0 222.2L502.5 220.5L505.0 219.0L507.0 211.5L509.1 221.3L512.5 228.5L515.8 225.6L518.3 220.2L520.8 221.9L522.8 220.4L525.8 233.3L528.3 242.8L530.8 253.1L533.3 244.6L535.8 243.1L538.3 239.4L540.8 236.5L543.3 236.0L545.8 234.2L548.3 234.0L551.6 235.1L554.1 239.2L556.1 235.8L558.2 240.9L560.7 238.9L563.2 231.0L564.9 229.4L566.6 221.6L568.2 230.6L570.4 213.3L572.4 216.7L574.0 212.1L575.7 216.3L577.9 201.4L580.7 206.2L583.2 219.0L585.7 219.0L587.7 205.2L589.4 236.0L590.7 261.5L592.7 245.3L594.9 248.7L597.4 238.0L599.8 234.9L603.2 216.6L606.0 196.7L606.0 196.0L608.0 202.8L611.0 199.7L613.5 209.9L616.0 213.7L618.5 219.9L621.3 230.0L623.5 217.5L626.0 216.4L628.5 207.1L630.6 201.1L632.3 209.9L634.3 196.6L636.8 212.3L640.1 220.3L642.6 220.2L645.1 250.3L647.3 237.2L649.6 245.5L652.6 237.0L655.6 262.7L657.9 253.0L660.6 247.7L662.9 254.9L665.6 253.6L668.4 229.6L670.6 239.1L672.6 200.1L675.1 201.8L677.6 202.0L680.1 203.2L682.6 193.7L683.9 199.9L685.9 185.9L688.4 178.5L691.7 177.3L693.4 195.0L695.9 197.1L697.5 206.6L700.0 203.4L703.4 213.6L705.5 218.3L707.9 211.2L710.9 201.0L714.2 198.1L717.5 195.4L720.0 201.8L721.7 198.1L723.8 206.5L726.2 192.4L729.5 184.2L731.7 196.5L734.2 189.8L736.7 183.1L739.2 181.4L740.8 175.4L742.8 186.7L745.0 168.2L747.5 150.9L749.5 150.8L752.1 170.0L754.1 165.8L756.1 165.0L758.3 145.1L760.8 151.3L763.3 155.8L765.0 153.6L767.5 166.4L769.9 176.8L772.4 174.3L774.9 161.5L777.1 156.1L779.4 178.2L781.6 174.3L784.4 166.5L786.6 177.0L788.3 177.5L790.8 186.1L793.7 169.0L797.4 170.0L799.9 175.8L802.4 183.7L805.7 187.9L808.2 191.7L810.7 194.9L813.2 201.5L815.7 194.8L819.0 193.7L822.0 196.1L824.0 202.0L826.5 193.9L829.0 174.1L831.5 170.0L834.0 212.6L836.5 161.5L839.0 183.3L841.0 187.2L843.2 148.8L845.2 202.0L847.3 193.6L849.0 205.3L851.0 190.4L851.0 191.9L853.5 200.8L856.0 198.3L858.5 190.9L861.0 195.9L863.5 199.0L866.0 204.4L868.5 198.5L871.0 202.9L873.1 211.4L875.6 204.8L877.6 208.3L879.3 202.5L881.3 209.8L883.5 202.3L886.0 206.8L888.5 205.2L892.6 199.9L895.6 204.7L898.4 195.2L900.9 181.2L904.3 177.3L906.8 195.7L909.3 211.1L911.8 209.6L914.2 207.3L917.6 211.5L920.9 208.8L924.2 206.9L926.7 213.6L929.2 214.1L931.7 212.2L934.2 214.3L936.7 203.6L940.9 197.3L943.4 216.7L945.5 200.1L947.2 206.9L949.2 186.6L951.4 212.9L954.2 190.8L956.7 204.7L958.9 211.5L961.7 208.8L964.2 203.6L967.5 201.5L970.5 178.4L973.3 201.8L975.8 191.7L979.2 191.0L981.7 199.7L984.2 208.9L986.7 204.9L989.1 212.4L991.6 208.7L993.6 207.2L995.8 213.7L998.3 201.3L1001.6 182.1L1004.1 203.6L1006.6 196.3L1010.8 191.2L1013.3 193.9L1014.9 191.1L1017.4 201.0L1019.4 206.9L1022.4 197.1L1024.9 202.4L1027.4 203.2L1029.9 208.1L1032.4 210.2L1035.8 215.1L1038.7 220.5L1041.6 215.9L1044.1 215.7L1046.6 208.7L1048.2 209.3L1050.4 185.6L1052.4 206.9L1055.4 213.5L1057.4 204.5L1060.4 194.1L1062.4 213.2L1064.0 199.8L1066.5 239.9L1068.7 214.2L1070.7 216.1L1074.0 226.2L1077.4 213.7L1079.9 217.9L1081.5 216.0L1084.0 201.9L1086.5 213.4L1089.8 224.1L1092.3 222.0L1094.3 227.5L1096.0 215.8L1096.0 216.2L1098.3 218.6L1100.8 226.7L1104.9 212.3L1108.3 219.6L1110.8 215.5L1113.3 214.2L1116.6 193.9L1119.1 217.7L1121.9 185.4L1124.1 203.9L1126.6 220.1L1128.6 207.0L1131.2 227.4L1134.1 214.2L1137.4 215.0L1139.6 207.5L1141.6 198.0L1144.1 207.0L1146.6 206.7L1149.9 213.5L1152.4 235.5L1154.9 224.2L1157.4 229.1L1159.5 219.1L1162.0 232.8L1164.5 224.5L1167.4 222.5L1169.9 218.2L1172.4 215.0L1175.7 194.4L1178.2 209.8L1180.7 213.5L1183.2 219.2L1186.5 212.4L1189.0 215.2L1191.5 224.3L1193.2 219.5L1195.7 228.2L1198.1 243.3L1200.6 228.5L1203.1 237.5L1205.6 224.7L1208.1 218.2L1211.5 201.5L1214.0 210.1L1216.1 206.1L1219.0 215.6L1220.6 211.0L1222.3 224.2L1223.9 188.8L1226.4 191.1L1227.8 191.0L1229.8 218.3L1232.3 219.6L1233.9 226.6L1236.4 216.5L1238.9 228.5L1240.6 225.5L1242.8 246.5L1243.9 261.9L1246.4 258.7L1248.4 262.5L1250.6 248.3L1253.1 238.0L1254.7 246.3L1256.7 245.6L1258.9 251.8L1261.4 238.2L1263.9 233.9L1266.4 231.8L1268.1 228.1L1270.6 232.1L1273.0 231.0L1275.0 227.6L1277.2 237.2L1279.4 229.5L1281.4 236.8L1283.9 235.3L1286.7 226.3L1288.9 232.7L1291.4 232.9L1293.0 243.0L1294.7 242.4L1297.7 251.3L1299.7 245.1L1302.2 235.0L1305.0 218.7L1305.2 216.6L1307.2 213.3L1309.4 221.1L1312.2 238.5L1314.4 232.0L1316.9 222.2L1319.4 228.9L1321.5 226.2L1323.5 234.7L1325.5 224.0L1328.2 229.2L1331.0 231.0L1333.2 228.7L1335.2 234.3L1337.7 230.6L1340.2 228.6L1342.3 227.2L1344.8 229.6L1346.8 242.6L1349.3 248.1L1351.8 250.3L1353.8 250.2L1355.2 254.2L1357.2 236.2L1359.3 244.2L1361.5 235.7L1363.5 238.0L1366.0 244.3L1368.1 235.7L1370.5 238.7L1373.1 239.3L1376.0 234.9L1378.8 237.8L1381.5 231.9L1383.5 240.1L1386.0 241.1L1387.6 245.1L1390.9 239.5L1393.4 248.4L1395.9 254.3L1398.4 248.5L1400.9 249.3L1403.4 234.0L1406.8 233.2L1410.1 241.0L1413.1 239.4L1415.4 233.5L1417.6 242.5L1420.1 235.0L1423.4 228.6L1425.1 242.7L1426.7 259.8L1428.7 246.2L1431.7 255.4L1434.2 249.9L1436.7 273.5L1438.4 275.9L1441.4 260.5L1444.2 269.6L1447.5 263.2L1450.9 265.2L1454.2 268.1L1457.5 275.0L1460.0 274.4L1463.0 270.7" stroke="#ff7f0e" stroke-width="2.1"/></g>
<path d="M116.50 518.5v5.1M284.50 518.5v5.1M453.50 518.5v5.1M621.50 518.5v5.1M789.50 518.5v5.1M958.50 518.5v5.1M1126.50 518.5v5.1M1294.50 518.5v5.1M116.5 55.50h-5.3M116.5 109.50h-5.3M116.5 164.50h-5.3M116.5 219.50h-5.3M116.5 274.50h-5.3M116.5 329.50h-5.3M116.5 384.50h-5.3M116.5 438.50h-5.3M116.5 493.50h-5.3" stroke="#000" stroke-width="1" fill="none"/>
<rect x="116.5" y="38.5" width="1347.0" height="480.0" fill="none" stroke="#000" stroke-width="1.05"/>
<rect x="1047.5" y="48.5" width="405.9000000000001" height="79.4" rx="2.8" fill="#fff" fill-opacity="0.8" stroke="#ccc" stroke-opacity="0.8" stroke-width="1.1"/>
<circle cx="1073.5" cy="63.4" r="2.9" fill="#1f77b4"/>
<path d="M1053.9 101.9H1093.1" stroke="#ff7f0e" stroke-width="2.1" fill="none"/>
<clipPath id="cb"><rect x="116.6" y="575.4" width="1346.9" height="478.8"/></clipPath><g clip-path="url(#cb)" fill="none" stroke-linecap="round" stroke-linejoin="round"><path d="M116.6 982.5V1008.9M118.7 972.2V1007.4M120.6 971.9V1006.9M122.4 962.0V1003.6M124.1 954.2V1000.8M125.7 953.4V1000.0M127.1 952.5V999.4M128.7 955.1V1002.4M130.7 969.9V1009.9M132.5 981.9V1011.4M134.0 982.8V1009.7M136.1 982.9V1012.0M137.9 985.7V1010.3M139.7 981.6V1008.5M141.7 977.3V1005.6M143.7 970.5V1002.7M145.5 964.7V1001.7M147.1 957.1V1001.6M148.9 959.0V999.6M150.4 954.0V999.8M152.0 954.2V1001.5M154.0 950.9V1000.6M155.9 940.5V1001.9M157.7 947.4V1002.6M159.5 949.0V1003.2M161.4 955.9V1003.9M162.9 960.6V1004.6M164.5 969.1V1004.9M166.3 973.8V1002.7M168.1 973.5V1003.7M169.9 969.7V1002.3M171.7 965.9V1002.2M173.3 969.2V1002.3M175.4 964.7V1000.9M176.9 966.4V1001.9M178.8 961.8V999.2M180.6 960.0V995.7M182.4 959.6V994.4M184.5 960.9V993.2M186.1 960.3V993.6M187.6 962.8V992.4M189.4 960.1V995.0M191.4 962.0V991.2M193.2 960.9V991.7M194.8 958.3V989.4M196.5 957.4V989.2M198.4 960.9V990.1M199.9 962.9V994.2M201.8 964.6V995.3M203.5 967.8V998.7M205.7 971.1V991.5M207.7 942.1V985.0M209.2 932.3V981.3M211.0 930.8V978.7M212.6 919.7V978.5M214.1 917.0V979.1M215.6 914.4V977.6M217.3 913.1V974.1M219.0 909.1V969.1M221.1 909.7V970.7M222.7 913.9V977.9M224.6 919.0V986.9M226.6 933.6V992.7M228.6 965.3V997.2M230.4 981.1V1001.0M231.9 975.5V1001.5M234.0 975.7V1005.8M235.8 973.3V1005.1M237.7 971.4V1002.9M239.6 967.7V1001.0M241.1 964.3V999.7M242.9 968.1V998.7M244.4 954.6V997.6M245.8 951.6V997.7M247.9 943.2V995.4M249.6 930.5V997.3M251.5 925.1V997.9M253.3 937.0V997.7M254.9 928.2V998.9M257.1 926.3V999.1M259.2 929.2V1000.4M260.9 927.8V1001.8M262.6 936.2V1003.5M264.2 935.8V1004.2M266.3 942.1V1003.5M267.8 945.0V1002.6M269.8 957.0V1000.0M271.5 963.8V997.1M273.4 969.2V999.7M275.1 963.4V998.0M276.8 952.5V997.4M278.6 944.1V998.3M280.5 928.4V992.5M282.2 925.3V986.7M284.0 918.2V981.5M285.7 920.2V983.8M287.9 928.8V988.4M289.5 931.2V985.5M291.5 934.1V985.6M293.2 922.8V983.5M295.3 933.0V986.4M297.0 924.2V991.5M299.1 941.3V997.1M300.8 955.7V998.3M302.8 970.7V1001.4M304.6 972.4V1001.4M306.7 969.4V1004.1M308.5 969.0V1004.7M310.0 975.3V1003.8M312.0 964.5V1001.9M313.7 972.2V999.7M315.2 964.0V1001.3M316.9 958.6V999.8M319.0 956.6V1000.1M320.6 958.1V999.0M322.5 957.9V998.3M324.1 959.2V998.5M325.9 958.9V999.5M327.6 957.4V1000.4M329.3 957.6V999.9M331.4 963.9V1002.9M332.8 968.2V1003.8M334.9 974.3V1006.2M337.0 961.2V1007.3M339.1 949.7V1007.6M341.0 936.7V1006.1M342.7 935.7V1006.2M344.4 937.4V1006.8M345.9 970.8V1007.7M348.1 994.6V1008.4M349.8 979.3V1007.8M351.4 984.8V1009.7M353.3 983.6V1010.4M354.8 980.9V1011.0M356.5 993.6V1011.8M358.4 981.5V1012.7M360.5 986.7V1012.4M362.3 984.1V1011.2M364.3 982.7V1010.6M366.0 977.6V1009.7M367.8 972.3V1008.9M369.9 968.8V1009.2M371.6 977.3V1009.0M373.7 980.9V1008.0M375.3 982.4V1009.1M376.9 980.7V1009.6M378.8 979.7V1008.3M380.4 981.9V1009.1M382.2 976.2V1010.0M384.1 967.5V1008.9M385.7 968.9V1009.3M387.3 968.7V1009.1M389.1 965.8V1008.0M390.7 962.6V1006.7M392.2 960.9V1004.6M394.3 957.6V1002.7M396.2 962.4V1001.3M398.1 973.7V1001.2M399.9 972.2V999.2M401.9 975.7V1001.1M404.0 975.1V1002.8M405.7 979.2V1004.5M407.7 971.3V1005.2M409.7 969.8V1005.8M411.4 972.2V1012.3M413.2 975.4V1012.8M414.8 972.0V1013.8M416.7 970.4V1013.4M418.2 967.8V1011.1M420.1 974.4V1006.6M421.9 967.4V1004.7M423.6 968.2V1005.1M425.7 975.4V1008.3M427.6 979.7V1010.8M429.3 984.0V1012.1M431.2 986.2V1011.5M432.8 980.3V1009.5M434.5 987.1V1007.7M436.0 968.5V1007.7M437.7 954.3V1004.9M439.4 952.0V1002.8M441.5 946.3V998.0M443.4 944.5V1001.4M444.8 933.9V1004.7M446.6 932.9V1007.5M448.4 936.7V1011.7M449.9 934.8V1012.0M451.4 934.1V1008.5M453.3 932.6V1003.6M454.8 926.5V1001.0M456.8 926.2V998.7M458.6 892.9V997.8M460.1 886.4V998.2M461.9 886.5V995.5M463.3 889.4V997.9M465.0 888.7V998.8M466.5 922.9V1001.8M468.6 930.8V1002.6M470.0 929.8V1004.9M471.6 931.1V1006.6M473.1 931.6V1009.1M474.7 930.6V1009.3M476.5 932.8V1007.0M478.0 942.1V1004.5M479.9 940.9V1004.3M481.6 940.0V999.8M483.8 932.3V996.5M485.8 926.1V993.2M487.7 932.5V996.5M489.2 930.9V998.1M491.3 936.5V1003.9M493.3 948.2V1007.4M495.1 944.2V1008.7M497.1 954.3V1010.1M498.9 966.8V1012.5M500.8 969.4V1012.8M502.6 991.3V1012.4M504.7 982.6V1012.8M506.6 979.7V1011.8M508.7 972.8V1013.6M510.5 973.1V1013.3M512.6 978.2V1012.6M514.0 974.6V1010.9M516.0 974.2V1008.4M517.7 971.8V1008.8M519.8 971.3V1007.1M522.0 969.5V1006.1M523.7 966.6V1003.0M525.4 971.5V1003.0M527.2 966.9V1003.6M529.0 965.2V1004.7M530.8 970.0V1005.2M532.7 964.1V1004.9M534.6 968.1V1005.6M536.3 949.0V1005.1M537.9 933.0V1003.6M539.6 954.4V1006.0M541.7 904.5V1005.6M543.5 907.4V1004.2M545.1 905.6V1005.2M546.9 904.7V1005.7M548.7 906.1V1006.1M550.2 906.9V1006.1M551.7 907.3V1006.1M553.4 912.8V1005.6M555.1 918.3V1004.6M556.8 920.7V1004.8M558.4 934.6V1004.5M560.0 926.5V1005.6M562.1 930.7V1005.4M564.2 925.4V1004.5M566.1 927.0V1004.2M568.2 931.0V1006.9M570.3 930.5V1006.8M572.0 943.0V1008.8M573.9 945.6V1011.4M575.8 923.8V1007.7M577.7 880.6V1000.7M579.8 876.5V991.6M581.5 877.3V995.4M583.2 881.9V997.6M585.1 883.4V1003.2M587.0 934.9V1010.1M588.5 938.4V1015.2M590.1 939.2V1017.0M591.8 992.7V1022.6M593.9 998.4V1023.2M596.0 999.4V1023.2M597.8 1000.9V1021.3M599.9 1000.3V1020.4M601.7 1003.3V1020.9M603.5 992.7V1016.3M605.1 987.4V1015.8M606.7 976.7V1012.6M608.7 971.6V1011.7M610.3 972.8V1009.8M612.0 970.3V1006.7M613.5 978.0V1010.6M615.7 964.2V1010.6M617.5 971.7V1009.5M619.0 950.0V1009.5M620.8 942.3V1009.8M622.5 937.5V1007.0M624.0 934.8V1004.5M626.1 937.0V999.6M627.9 929.9V996.4M629.5 933.2V1000.2M631.5 937.9V1004.8M633.0 944.6V1005.6M634.7 951.0V1004.0M636.7 957.7V1000.4M638.6 962.6V1003.1M640.1 972.8V1009.4M641.8 994.1V1015.2M644.0 988.8V1017.2M646.0 992.5V1021.1M648.2 997.8V1017.2M649.7 996.7V1018.6M651.4 1000.9V1019.0M653.4 996.0V1019.7M655.2 998.1V1017.3M656.8 998.0V1020.1M658.5 995.7V1019.5M660.4 995.3V1012.5M662.4 999.2V1019.6M663.9 1002.0V1015.3M665.4 997.6V1021.0M667.0 998.3V1020.3M668.7 1002.3V1017.9M670.8 983.4V1015.4M672.6 911.1V1013.7M674.3 909.0V1013.8M676.4 911.4V1012.4M678.0 931.5V1014.6M679.9 937.1V1015.9M681.6 946.3V1016.4M683.1 979.7V1015.4M684.8 984.8V1017.8M686.3 993.8V1023.3M687.9 1002.7V1024.1M690.0 1006.1V1024.6M691.8 1006.8V1024.1M693.6 1009.5V1025.2M695.6 1008.7V1024.8M697.4 1008.3V1024.2M699.0 1008.3V1023.0M700.5 1005.0V1023.6M702.4 1001.7V1020.9M704.5 919.3V1018.0M706.4 912.8V1018.5M708.5 911.5V1017.9M710.1 918.1V1018.2M711.7 938.5V1016.4M713.5 967.9V1017.5M715.6 964.6V1016.6M717.2 974.1V1016.6M718.9 984.4V1018.2M720.7 991.7V1020.8M722.2 992.4V1022.3M724.2 989.6V1021.9M726.2 968.9V1017.4M727.8 956.9V1018.7M729.3 946.5V1019.7M730.8 953.6V1020.4M732.4 967.2V1019.2M734.4 992.0V1025.9M735.9 1000.2V1025.4M737.8 1002.8V1026.0M739.7 1008.4V1025.7M741.7 1007.7V1025.7M743.8 1008.1V1023.9M745.5 1008.5V1024.0M747.7 1003.4V1024.5M749.5 988.8V1016.5M751.4 972.7V1018.8M752.9 954.0V1017.9M754.7 948.4V1018.2M756.5 966.5V1015.1M758.4 971.6V1016.7M759.8 975.3V1016.5M761.8 963.2V1016.8M763.4 955.0V1016.0M765.5 970.3V1016.3M767.2 924.8V1016.9M769.3 847.8V1008.2M771.3 781.7V994.3M772.8 781.6V988.3M774.2 780.1V990.8M776.1 780.6V991.9M777.9 912.6V992.4M780.0 917.2V994.1M782.1 925.8V1014.5M784.3 939.1V1014.2M786.0 934.5V1012.7M787.6 923.4V1012.9M789.2 873.0V1013.9M791.1 819.3V1016.0M792.6 819.2V1017.7M794.7 898.2V1018.1M796.5 917.1V1016.6M798.3 937.6V1017.3M800.0 953.2V1016.2M802.1 951.6V1014.7M803.5 944.8V1014.9M805.1 942.4V1014.3M807.1 940.5V1013.1M808.8 945.3V1012.3M810.2 944.9V1013.3M812.0 942.8V1013.2M814.1 936.7V1013.6M815.9 934.5V1012.5M817.7 917.1V1012.7M819.7 887.1V1012.9M821.6 877.9V1011.5M823.7 889.1V1011.4M825.3 902.9V1011.1M827.3 923.6V1014.0M828.8 943.3V1013.2M830.3 968.4V1015.6M832.0 978.8V1014.1M833.8 979.4V1016.7M835.6 985.1V1022.3M837.4 996.2V1021.0M839.3 998.5V1023.3M841.0 996.4V1022.2M843.1 966.4V1019.9M844.7 985.1V1020.1M846.7 999.1V1019.0M848.3 998.2V1025.1M850.2 993.4V1025.4M851.8 993.1V1023.3M853.4 992.1V1018.9M855.3 993.7V1014.0M856.8 991.7V1022.4M858.8 979.9V1020.7M860.8 957.1V1019.8M862.8 944.1V1019.0M864.7 949.6V1020.0M866.7 953.0V1020.1M868.7 953.0V1019.6M870.8 970.5V1020.0M872.7 969.7V1019.8M874.5 967.8V1017.4M876.2 965.2V1019.5M877.8 960.3V1019.9M879.8 957.8V1019.9M881.3 970.6V1018.3M883.0 980.0V1018.1M884.7 987.6V1024.2M886.5 986.7V1023.0M888.0 986.4V1023.8M889.6 988.5V1024.0M891.4 991.8V1021.1M893.0 993.9V1022.4M894.9 995.5V1022.5M896.5 991.8V1022.4M898.6 987.4V1021.6M900.5 982.1V1017.1M902.1 980.7V1019.4M904.0 981.3V1019.2M905.9 992.2V1025.0M907.5 987.6V1023.8M909.5 991.1V1024.7M911.2 996.5V1024.2M912.7 1004.5V1023.0M914.7 1002.0V1024.6M916.2 1005.3V1025.6M917.7 1003.2V1024.8M919.5 1004.1V1024.5M921.2 1004.3V1025.5M923.0 1001.0V1023.2M924.6 1001.1V1023.8M926.1 998.8V1024.7M928.0 995.2V1025.2M930.1 994.9V1025.7M932.0 994.0V1026.0M933.5 995.5V1019.5M935.1 991.5V1023.0M936.6 989.7V1021.2M938.1 983.1V1021.0M939.6 987.4V1021.2M941.7 995.8V1023.4M943.7 1003.8V1025.3M945.5 1001.4V1021.2M947.6 1001.1V1024.9M949.2 1002.8V1023.9M951.4 997.1V1025.5M953.1 999.4V1022.8M954.9 1002.4V1025.6M957.0 1005.8V1026.5M959.2 1009.2V1024.7M961.1 1008.0V1027.2M962.6 1007.5V1026.0M964.7 1006.6V1025.8M966.6 989.4V1022.3M968.0 979.6V1021.6M969.7 983.8V1021.5M971.1 986.9V1027.3M972.6 993.7V1026.7M974.1 1002.4V1023.5M975.9 1004.6V1025.0M977.9 1001.9V1026.1M979.9 1003.0V1024.5M981.8 1005.0V1025.6M984.0 1005.6V1025.4M985.8 1002.2V1025.2M987.7 999.3V1024.6M989.4 1002.7V1026.1M990.9 1005.3V1026.4M993.1 1007.1V1026.2M994.9 1008.4V1023.5M996.4 1007.4V1026.7M998.2 1007.9V1026.4M1000.1 1010.9V1026.6M1001.9 1006.6V1025.7M1003.6 1005.4V1026.6M1005.7 1006.3V1022.3M1007.2 1007.6V1023.3M1008.7 1010.3V1027.1M1010.2 1009.6V1024.3M1012.1 1007.8V1027.2M1014.2 1008.6V1026.5M1015.9 1008.0V1027.7M1017.5 1010.6V1027.1M1019.6 1007.1V1026.0M1021.2 1004.2V1027.7M1022.8 1009.6V1027.8M1024.9 1010.4V1027.2M1026.8 1010.3V1027.3M1028.5 1010.0V1027.3M1030.2 1009.2V1024.8M1032.2 1009.9V1026.9M1034.3 1007.1V1024.9M1036.2 1007.2V1024.9M1037.9 1011.7V1027.8M1039.8 1014.1V1027.3M1041.5 1015.2V1024.5M1043.0 1014.2V1027.0M1044.6 1014.7V1027.0M1046.7 1016.5V1027.6M1048.7 1019.1V1028.1M1050.3 1019.0V1028.3M1051.9 1021.5V1026.2M1053.5 1015.2V1021.3M1055.1 1016.1V1028.3M1056.9 1017.2V1027.2M1058.6 1017.8V1025.6M1060.8 1015.4V1028.6M1062.4 1015.3V1028.4M1064.0 1016.9V1026.8M1065.4 1017.4V1026.6M1067.2 1020.0V1028.7M1068.7 1015.1V1028.6M1070.7 1015.9V1028.6M1072.7 1016.2V1027.6M1074.4 1015.5V1023.4M1076.2 1015.3V1028.0M1078.1 1016.9V1027.8M1079.7 1015.4V1027.8M1081.6 1015.3V1025.2M1083.3 1014.5V1028.5M1085.0 1016.7V1026.7M1086.6 1019.4V1027.6M1088.6 1019.6V1028.5M1090.6 1021.0V1028.0M1092.6 1019.9V1028.6M1094.4 1019.2V1028.2M1096.5 1021.1V1027.0M1098.2 1018.7V1027.8M1099.7 1020.1V1026.7M1101.2 1018.6V1027.8M1102.9 1019.4V1028.7M1104.9 1019.0V1028.4M1106.4 1017.0V1028.6M1108.2 1014.7V1028.8M1109.9 1014.4V1028.8M1111.9 1017.0V1028.4M1113.6 1016.5V1028.0M1115.4 1014.2V1027.5M1117.3 1017.8V1026.5M1119.3 1019.0V1028.7M1121.4 1020.1V1027.6M1123.1 1019.2V1028.6M1125.2 1020.2V1028.1M1127.3 1020.4V1028.3M1129.0 1020.4V1027.6M1131.0 1019.6V1027.0M1132.9 1022.6V1028.2M1134.5 1023.5V1028.3M1136.5 1020.4V1027.1M1138.2 1016.8V1027.7M1139.8 1015.6V1023.1M1141.6 1014.0V1028.0M1143.3 1013.7V1028.7M1145.1 1011.0V1022.1M1146.6 1015.4V1027.3M1148.1 1014.8V1028.6M1150.2 1017.6V1025.8M1151.6 1017.9V1026.2M1153.2 1018.6V1027.5M1155.2 1019.6V1028.4M1156.7 1020.4V1027.5M1158.2 1019.1V1028.0M1160.1 1018.4V1026.1M1161.9 1018.0V1027.5M1163.6 1016.6V1028.2M1165.6 1014.9V1028.9M1167.3 1013.0V1025.8M1168.8 1012.6V1027.1M1170.5 1010.8V1028.8M1172.3 1012.8V1026.5M1173.9 1017.9V1027.5M1175.5 1016.9V1028.0M1177.0 1021.0V1029.0M1179.0 1021.5V1026.9M1180.5 1021.9V1028.2M1182.1 1022.3V1028.7M1184.1 1023.2V1028.9M1186.0 1022.7V1029.1M1187.6 1022.8V1028.3M1189.2 1022.1V1027.1M1190.8 1022.5V1027.2M1192.5 1022.9V1028.7M1194.4 1021.7V1025.3M1196.5 1024.3V1027.8M1198.2 1020.7V1027.1M1200.3 1020.4V1028.5M1201.9 1020.0V1027.4M1203.4 1020.7V1028.7M1205.4 1015.3V1027.8M1207.5 1012.1V1028.4M1209.4 1008.3V1021.3M1211.0 1012.2V1027.4M1212.8 1015.7V1027.4M1214.8 1014.1V1027.6M1216.4 1012.9V1026.8M1217.9 1010.6V1024.0M1219.7 1005.7V1026.4M1221.2 1004.0V1023.8M1222.6 1006.2V1027.6M1224.2 1008.8V1027.2M1226.1 1014.4V1026.6M1227.9 1020.9V1028.1M1229.8 1027.3V1027.3M1231.5 1020.9V1028.2M1233.5 1022.2V1027.7M1235.5 1021.7V1028.7M1237.4 1021.1V1028.2M1239.1 1020.7V1027.9M1241.2 1019.1V1027.9M1243.2 1016.9V1026.8M1244.7 1017.7V1027.9M1246.4 1016.2V1028.3M1248.2 1015.2V1026.9M1250.3 1018.7V1027.3M1252.3 1018.7V1027.3M1254.1 1018.4V1024.7M1256.2 1017.9V1027.8M1257.9 1016.3V1026.8M1259.8 1013.7V1025.3M1261.9 1017.7V1026.3M1263.9 998.9V1026.7M1266.0 988.8V1025.8M1267.5 990.2V1024.1M1269.0 988.1V1024.4M1270.6 987.6V1026.3M1272.3 987.8V1026.5M1273.9 990.1V1027.0M1275.5 990.1V1025.6M1277.4 992.1V1021.0M1279.2 990.7V1026.7M1281.1 989.9V1023.7M1283.0 992.1V1019.7M1285.2 995.5V1025.9M1286.9 996.9V1022.8M1288.5 998.3V1024.9M1290.5 975.3V1020.3M1292.0 971.6V1020.1M1293.8 972.3V1020.1M1295.4 973.1V1020.0M1297.2 977.5V1019.6M1298.9 980.7V1018.7M1300.5 978.3V1018.9M1302.0 978.8V1018.5M1304.1 982.0V1020.0M1305.8 983.7V1020.5M1307.7 986.8V1025.8M1309.6 995.1V1022.1M1311.6 992.7V1023.8M1313.2 986.3V1024.8M1315.1 986.0V1024.0M1317.1 988.0V1023.6M1319.2 987.5V1022.0M1321.1 992.1V1019.6M1323.2 980.8V1017.4M1325.1 976.7V1019.2M1327.2 975.7V1020.0M1329.1 977.2V1020.2M1330.5 985.4V1022.8M1332.4 987.2V1023.7M1333.9 986.0V1024.3M1336.0 984.6V1021.6M1337.9 980.7V1017.8M1339.9 979.0V1018.2M1341.4 976.5V1017.8M1343.5 974.5V1016.7M1345.0 978.2V1018.4M1346.8 985.7V1022.8M1348.4 992.4V1023.0M1350.1 989.7V1023.3M1352.1 988.1V1022.6M1353.7 990.1V1023.7M1355.5 991.9V1018.9M1357.0 993.0V1022.6M1358.5 993.4V1024.2M1360.2 994.4V1024.2M1362.0 997.5V1018.4M1364.1 992.9V1024.5M1365.9 990.0V1024.5M1367.7 989.9V1023.4M1369.5 984.9V1022.5M1371.6 982.0V1017.9M1373.5 978.8V1016.8M1375.2 977.8V1017.7M1376.7 978.3V1016.3M1378.3 978.8V1014.5M1380.1 976.5V1016.6M1382.1 971.8V1016.8M1383.6 966.3V1017.7M1385.5 967.9V1018.2M1387.5 962.7V1018.3M1389.2 959.7V1019.6M1390.8 958.9V1020.0M1392.7 961.0V1020.5M1394.7 965.9V1020.5M1396.6 962.8V1017.1M1398.6 956.1V1017.1M1400.3 934.7V1015.9M1401.8 931.4V1013.1M1403.4 935.2V1014.0M1405.4 956.4V1011.8M1407.3 957.9V1014.0M1409.3 955.9V1014.3M1410.9 954.7V1014.6M1412.6 954.0V1015.9M1414.1 953.0V1015.3M1416.0 951.0V1016.6M1417.5 948.0V1015.9M1419.1 953.3V1016.4M1421.1 957.6V1016.4M1422.7 959.1V1017.0M1424.2 962.9V1015.9M1426.1 971.5V1015.1M1427.8 971.8V1014.0M1429.6 962.0V1013.9M1431.1 956.2V1013.2M1432.9 950.7V1015.1M1435.1 947.9V1015.3M1437.0 953.3V1015.9M1438.9 947.1V1014.7M1440.7 940.6V1013.9M1442.3 937.8V1012.6M1444.0 939.6V1011.8M1446.1 941.4V1011.3M1447.5 938.7V1008.8M1449.6 933.9V1009.3M1451.2 932.7V1010.1M1453.0 928.0V1010.3M1455.1 924.9V1008.5M1457.2 926.9V1005.3M1459.0 927.2V1004.3M1460.7 921.1V1000.5M1462.5 920.3V999.1" stroke="#1f77b4" stroke-width="5.5"/><path d="M116.6 978.5h0M116.1 977.3h0M116.0 975.5h0M116.1 973.9h0M116.5 973.7h0M116.1 968.8h0M116.8 968.1h0M116.7 959.6h0M117.2 958.0h0M117.0 957.8h0M116.2 956.7h0M116.4 956.3h0M116.2 950.8h0M116.8 947.8h0M116.7 946.1h0M116.1 945.9h0M116.8 945.0h0M116.4 943.0h0M116.5 939.6h0M117.0 938.2h0M116.3 933.4h0M116.6 929.7h0M116.9 920.3h0M119.1 967.7h0M118.7 967.2h0M118.9 967.1h0M118.8 963.3h0M118.5 957.6h0M118.9 954.2h0M118.7 951.6h0M119.3 946.1h0M118.9 944.1h0M119.0 943.9h0M119.3 940.6h0M118.5 934.9h0M118.9 933.2h0M118.7 933.1h0M118.3 932.5h0M119.1 932.3h0M118.4 931.8h0M119.2 930.0h0M118.7 929.7h0M119.2 926.8h0M119.2 920.5h0M118.6 919.2h0M119.2 917.4h0M118.3 904.3h0M118.4 903.4h0M118.7 902.1h0M118.5 897.7h0M118.6 897.7h0M120.8 959.0h0M121.1 958.8h0M121.0 954.8h0M120.5 950.4h0M120.1 949.0h0M120.1 946.1h0M120.2 945.9h0M120.4 945.4h0M120.0 945.2h0M120.1 944.7h0M120.0 943.4h0M120.7 937.3h0M120.3 936.8h0M120.4 935.5h0M121.0 935.0h0M120.6 919.4h0M120.1 917.0h0M120.4 916.7h0M121.0 915.5h0M120.0 914.9h0M120.6 903.8h0M120.6 903.1h0M120.6 903.0h0M121.0 887.2h0M120.3 881.4h0M120.2 879.1h0M122.1 954.5h0M123.0 950.0h0M122.8 944.8h0M122.7 940.1h0M122.4 939.3h0M121.9 938.0h0M122.2 938.0h0M122.6 937.1h0M122.4 927.8h0M123.0 919.2h0M122.3 908.9h0M122.1 908.0h0M122.1 907.2h0M122.9 903.6h0M122.4 896.7h0M122.8 892.5h0M122.6 892.1h0M122.8 882.2h0M122.4 875.8h0M122.8 874.9h0M122.8 872.9h0M123.7 949.7h0M124.6 949.3h0M123.7 944.9h0M124.7 940.2h0M124.0 937.2h0M123.7 934.9h0M124.7 934.9h0M124.2 931.9h0M124.1 923.9h0M124.5 917.6h0M123.8 916.9h0M123.8 915.8h0M123.9 912.9h0M123.7 911.1h0M124.0 903.0h0M124.2 900.9h0M124.0 892.4h0M124.1 882.8h0M124.2 879.7h0M124.1 879.6h0M123.5 878.7h0M123.7 871.8h0M124.4 868.8h0M123.9 865.0h0M124.2 861.4h0M125.4 947.9h0M125.7 944.0h0M126.0 941.7h0M125.6 935.1h0M125.7 932.4h0M125.9 930.3h0M125.7 928.5h0M126.2 926.6h0M126.1 923.0h0M125.4 914.3h0M126.2 911.6h0M125.2 905.6h0M125.6 905.1h0M125.3 904.9h0M125.9 904.6h0M126.1 899.3h0M125.9 898.7h0M125.2 894.8h0M126.2 886.7h0M126.2 885.7h0M125.6 883.7h0M126.1 864.9h0M125.6 864.0h0M125.5 860.4h0M125.4 859.3h0M127.3 946.7h0M126.6 944.8h0M127.5 933.5h0M126.6 923.3h0M126.6 922.4h0M126.8 917.8h0M127.0 917.4h0M127.5 909.7h0M126.7 908.7h0M127.2 900.3h0M126.6 896.0h0M127.3 895.7h0M126.6 893.7h0M127.3 883.2h0M126.6 876.6h0M126.6 868.2h0M127.1 858.9h0M127.2 856.8h0M128.4 950.1h0M128.3 949.8h0M128.4 949.6h0M128.5 948.6h0M128.5 944.8h0M128.4 942.9h0M128.2 941.7h0M128.2 940.9h0M128.8 937.2h0M128.7 936.6h0M128.3 928.7h0M128.7 923.6h0M129.1 921.4h0M128.8 919.8h0M129.3 916.1h0M129.1 914.7h0M128.9 910.6h0M128.6 908.8h0M128.3 908.6h0M129.0 908.4h0M128.3 907.3h0M129.2 907.0h0M128.9 899.8h0M128.4 898.6h0M128.7 897.3h0M128.7 896.6h0M129.3 895.4h0M128.8 881.5h0M129.3 880.3h0M128.6 878.6h0M128.6 878.6h0M128.7 875.7h0M128.8 874.7h0M128.5 874.7h0M128.6 874.2h0M128.2 874.0h0M128.4 872.3h0M128.8 868.1h0M131.2 962.9h0M130.9 962.5h0M130.1 959.8h0M131.1 954.9h0M130.9 952.2h0M130.2 947.4h0M130.7 945.2h0M131.0 939.9h0M130.8 934.5h0M130.9 927.4h0M130.3 923.4h0M130.2 923.3h0M130.2 921.7h0M130.7 915.3h0M130.8 911.6h0M130.6 907.2h0M131.0 907.2h0M130.7 901.7h0M130.8 898.4h0M130.9 898.1h0M130.1 896.9h0M130.9 895.5h0M130.9 894.5h0M132.7 976.2h0M132.6 972.3h0M131.9 969.5h0M132.2 969.0h0M132.2 965.2h0M131.9 962.7h0M132.2 962.6h0M132.7 959.2h0M132.2 955.7h0M132.4 953.4h0M132.0 951.4h0M132.1 943.9h0M133.0 930.1h0M132.4 930.1h0M133.0 922.8h0M132.2 920.0h0M133.0 918.9h0M132.6 917.7h0M132.5 916.9h0M133.7 972.6h0M134.0 966.2h0M133.4 966.2h0M133.9 964.0h0M133.6 962.9h0M133.8 961.5h0M133.4 955.2h0M134.4 949.6h0M134.5 949.0h0M136.0 978.1h0M136.2 960.2h0M136.0 958.7h0M135.5 957.6h0M136.5 957.3h0M136.6 956.1h0M135.8 955.1h0M135.7 952.6h0M136.6 950.9h0M136.5 942.8h0M136.6 938.5h0M138.2 978.2h0M137.7 975.4h0M138.4 975.3h0M137.9 974.9h0M137.7 973.8h0M138.5 970.1h0M138.1 969.2h0M138.0 968.2h0M137.5 966.7h0M137.6 966.2h0M137.9 959.2h0M138.4 958.4h0M137.9 940.3h0M137.5 939.7h0M137.7 939.4h0M137.6 939.0h0M138.0 937.8h0M138.2 929.0h0M137.8 926.6h0M137.8 923.1h0M137.4 921.0h0M138.5 919.4h0M139.4 971.2h0M139.4 970.3h0M139.7 968.9h0M140.1 960.3h0M139.1 954.0h0M140.0 953.9h0M139.7 946.6h0M139.1 943.5h0M140.2 941.7h0M140.1 935.3h0M139.4 921.1h0M139.3 920.5h0M139.9 916.9h0M141.1 969.9h0M141.4 965.8h0M141.9 958.8h0M141.2 957.7h0M141.8 956.9h0M141.2 953.3h0M141.7 953.1h0M141.5 950.3h0M141.8 949.5h0M141.4 949.5h0M142.2 947.5h0M142.1 944.1h0M141.4 942.0h0M142.2 941.0h0M141.4 936.7h0M141.7 936.6h0M141.6 932.5h0M141.9 931.4h0M141.3 921.2h0M141.5 921.1h0M141.9 918.7h0M142.0 917.6h0M141.7 911.4h0M142.2 910.2h0M144.0 966.4h0M144.2 965.5h0M143.3 963.7h0M143.6 963.0h0M144.2 960.0h0M143.6 959.6h0M144.3 958.9h0M143.2 958.5h0M143.6 958.3h0M144.2 951.9h0M144.3 948.0h0M143.5 939.8h0M144.2 939.1h0M143.1 934.5h0M143.6 930.7h0M143.5 929.0h0M143.1 928.4h0M143.5 927.2h0M143.3 915.5h0M143.4 901.3h0M144.1 899.0h0M145.1 955.2h0M145.9 954.0h0M145.4 953.9h0M145.8 949.2h0M144.9 949.1h0M146.0 948.9h0M145.8 948.1h0M145.3 941.4h0M146.0 940.5h0M145.2 937.5h0M145.2 933.5h0M144.9 932.5h0M146.0 927.8h0M146.0 924.4h0M145.1 924.3h0M146.0 922.0h0M145.3 911.0h0M145.4 909.8h0M146.0 907.0h0M145.8 906.2h0M145.8 900.5h0M145.6 893.8h0M145.2 891.9h0M145.8 889.6h0M145.1 889.2h0M147.1 954.1h0M147.7 953.1h0M147.7 947.4h0M146.6 946.5h0M147.1 946.3h0M147.0 942.8h0M147.0 942.1h0M147.3 939.3h0M147.5 935.4h0M146.6 932.1h0M146.8 926.6h0M146.9 923.9h0M146.7 919.6h0M146.8 918.7h0M147.5 918.1h0M146.9 915.2h0M147.7 913.5h0M146.8 911.0h0M147.3 905.2h0M146.6 887.7h0M147.5 884.9h0M147.6 876.6h0M146.8 876.4h0M146.7 875.8h0M148.6 948.0h0M149.5 944.0h0M149.1 943.7h0M148.6 941.1h0M148.5 939.8h0M148.6 939.2h0M149.1 936.6h0M148.3 936.0h0M149.2 934.8h0M148.7 934.3h0M149.3 933.6h0M148.4 931.3h0M148.8 931.0h0M149.1 928.7h0M148.5 928.4h0M148.8 924.8h0M148.7 923.8h0M148.7 914.4h0M148.8 911.7h0M149.4 909.9h0M148.8 890.7h0M149.2 889.8h0M148.3 889.0h0M148.8 879.8h0M148.8 872.4h0M148.9 862.6h0M148.4 861.7h0M149.1 857.5h0M150.4 947.6h0M150.2 947.2h0M151.0 945.2h0M150.4 944.9h0M151.0 940.5h0M150.0 939.9h0M151.0 932.0h0M149.9 930.1h0M150.3 922.5h0M150.6 915.3h0M150.0 909.6h0M150.1 904.5h0M150.9 902.7h0M150.1 896.5h0M150.3 895.6h0M150.3 892.9h0M150.1 892.4h0M150.9 887.5h0M150.5 887.3h0M149.9 881.7h0M150.0 874.1h0M150.5 870.1h0M150.2 865.5h0M150.5 862.9h0M150.6 860.2h0M150.4 857.1h0M150.6 857.0h0M152.0 947.3h0M151.6 947.0h0M151.6 945.5h0M152.1 944.0h0M152.2 943.8h0M152.3 943.6h0M152.1 939.6h0M152.1 939.4h0M152.6 938.1h0M152.5 937.7h0M152.3 922.2h0M151.7 917.1h0M152.0 904.5h0M152.5 893.8h0M152.4 893.1h0M151.5 883.2h0M152.4 881.4h0M152.5 880.7h0M152.4 879.4h0M152.1 878.8h0M151.7 868.3h0M152.1 866.9h0M151.5 865.1h0M151.6 864.1h0M154.3 942.0h0M154.0 941.7h0M153.8 939.0h0M154.0 933.5h0M154.4 931.1h0M154.6 930.8h0M153.9 928.0h0M153.7 923.5h0M154.1 910.0h0M154.3 908.6h0M153.6 906.7h0M153.4 902.4h0M153.7 896.8h0M154.6 893.3h0M154.2 890.3h0M153.4 888.9h0M153.6 888.8h0M153.9 885.4h0M154.5 882.8h0M153.7 882.3h0M153.4 878.3h0M153.8 878.3h0M153.8 877.9h0M154.1 876.9h0M153.6 873.4h0M153.9 869.6h0M154.5 869.0h0M153.6 867.8h0M154.1 867.4h0M154.3 858.9h0M153.7 856.6h0M154.2 856.6h0M153.8 852.8h0M153.9 847.9h0M155.8 935.0h0M155.4 934.3h0M155.4 930.3h0M156.5 928.1h0M155.6 927.7h0M156.0 925.1h0M156.3 922.3h0M155.7 921.7h0M155.4 920.7h0M156.3 914.5h0M155.4 910.8h0M156.2 905.2h0M156.2 903.3h0M155.6 901.4h0M155.6 901.1h0M155.7 901.0h0M156.2 896.6h0M156.2 890.6h0M156.0 889.6h0M156.3 887.7h0M155.7 885.2h0M156.5 881.6h0M156.4 880.8h0M155.7 880.7h0M156.2 879.8h0M156.2 869.5h0M156.4 868.0h0M155.6 866.5h0M156.1 857.3h0M156.1 852.5h0M155.9 836.1h0M156.2 827.3h0M157.5 939.2h0M157.8 938.6h0M158.2 938.4h0M157.1 937.9h0M158.2 937.6h0M157.3 936.5h0M157.2 936.4h0M157.9 933.2h0M158.0 930.0h0M157.8 929.8h0M158.1 928.5h0M158.2 923.7h0M158.1 923.5h0M158.2 916.5h0M157.3 916.1h0M157.1 915.8h0M158.1 910.1h0M158.1 907.0h0M157.4 903.9h0M157.2 903.5h0M157.3 899.0h0M157.6 897.7h0M157.4 897.7h0M158.0 896.6h0M157.5 895.0h0M157.7 883.8h0M157.8 876.9h0M157.6 876.8h0M158.0 874.6h0M157.9 873.0h0M157.4 870.0h0M157.2 862.1h0M157.3 854.8h0M157.3 854.8h0M158.3 848.4h0M157.7 848.4h0M158.1 845.2h0M157.7 844.2h0M158.1 842.1h0M158.2 840.6h0M157.4 838.9h0M159.7 941.9h0M159.7 937.7h0M159.4 936.5h0M160.0 935.1h0M160.0 934.9h0M159.1 934.8h0M160.0 934.0h0M159.4 932.0h0M159.2 925.9h0M159.5 924.1h0M159.8 919.9h0M159.3 916.8h0M159.1 915.6h0M159.7 909.8h0M159.1 905.5h0M159.8 903.6h0M159.1 900.7h0M160.0 898.6h0M159.1 897.6h0M159.7 896.4h0M159.1 889.9h0M159.2 889.2h0M159.5 887.8h0M159.3 887.1h0M160.1 886.3h0M159.0 881.4h0M159.0 868.7h0M160.1 866.6h0M159.8 859.6h0M159.1 857.0h0M159.0 852.1h0M159.4 851.0h0M159.4 850.8h0M161.4 948.8h0M161.6 948.4h0M161.7 947.0h0M161.4 940.6h0M161.7 938.2h0M161.1 936.7h0M161.9 933.0h0M161.7 928.6h0M161.7 922.9h0M161.4 919.7h0M161.6 918.5h0M161.3 918.2h0M161.7 913.3h0M161.1 910.0h0M161.4 908.1h0M161.3 904.8h0M162.0 900.8h0M161.6 900.1h0M161.3 894.6h0M162.0 892.0h0M161.5 891.8h0M161.8 891.2h0M161.5 880.1h0M161.5 879.6h0M161.7 876.3h0M161.6 873.1h0M161.5 865.0h0M162.0 862.4h0M161.7 861.2h0M161.8 858.6h0M162.0 857.9h0M162.8 955.6h0M162.7 952.5h0M162.6 951.6h0M163.4 947.9h0M162.6 945.9h0M162.8 941.3h0M162.5 940.6h0M163.3 936.2h0M162.9 933.2h0M162.6 930.7h0M162.7 920.3h0M163.3 916.9h0M162.9 911.0h0M163.0 909.8h0M163.3 909.3h0M163.3 907.7h0M162.8 906.5h0M162.8 905.4h0M162.3 904.6h0M162.7 899.7h0M162.7 898.6h0M162.8 896.0h0M163.1 891.8h0M163.4 889.9h0M162.4 881.4h0M163.4 873.0h0M163.9 959.3h0M165.0 959.2h0M164.2 956.4h0M164.0 956.1h0M164.8 955.4h0M164.0 954.2h0M164.8 947.7h0M164.9 947.2h0M164.8 944.4h0M164.9 941.2h0M164.9 936.4h0M164.7 935.7h0M164.8 933.3h0M164.9 931.5h0M164.2 928.8h0M164.0 927.9h0M163.9 925.6h0M164.0 923.5h0M164.5 921.1h0M164.9 918.3h0M164.9 918.3h0M164.5 916.0h0M164.9 911.9h0M164.4 910.1h0M164.0 897.2h0M164.6 892.6h0M164.6 892.5h0M165.0 887.0h0M165.0 884.9h0M166.1 962.8h0M166.1 957.5h0M166.3 955.7h0M165.9 951.5h0M166.2 949.9h0M166.6 947.5h0M166.6 946.4h0M166.3 944.9h0M166.3 943.9h0M166.4 932.5h0M166.0 927.1h0M166.0 925.7h0M166.4 922.5h0M165.7 916.7h0M166.7 911.6h0M165.7 908.2h0M165.7 906.6h0M166.8 905.7h0M166.4 901.4h0M166.7 894.0h0M168.3 965.2h0M167.8 962.1h0M168.1 959.0h0M167.7 955.0h0M167.6 954.4h0M168.6 950.0h0M168.0 946.7h0M168.5 941.3h0M167.8 938.6h0M168.0 937.3h0M168.1 936.0h0M168.7 932.4h0M168.2 932.2h0M167.7 932.1h0M168.2 926.1h0M168.1 916.3h0M168.0 916.3h0M168.7 912.4h0M169.5 965.0h0M169.3 965.0h0M169.5 961.9h0M169.4 952.8h0M169.5 946.9h0M170.2 946.8h0M170.2 946.0h0M169.4 945.3h0M170.2 940.7h0M170.2 934.5h0M170.1 934.2h0M169.9 930.0h0M169.6 920.5h0M170.2 907.4h0M169.3 907.4h0M170.3 902.6h0M169.7 902.2h0M169.5 895.8h0M171.8 961.8h0M171.9 960.3h0M172.1 959.8h0M171.9 958.6h0M171.6 955.9h0M172.1 954.6h0M172.0 946.5h0M171.5 944.0h0M172.3 943.8h0M172.1 940.1h0M171.8 938.9h0M172.1 926.9h0M171.5 923.7h0M172.2 921.7h0M171.9 919.9h0M172.2 916.5h0M171.4 910.1h0M171.4 910.1h0M171.8 907.8h0M172.2 900.6h0M172.1 900.4h0M172.1 892.7h0M173.2 955.3h0M173.4 955.0h0M173.0 950.6h0M173.9 946.7h0M173.5 945.9h0M173.3 942.6h0M173.1 941.9h0M173.7 937.6h0M172.8 935.7h0M173.7 930.5h0M173.4 929.6h0M173.8 921.9h0M173.3 919.3h0M173.0 916.0h0M173.0 915.2h0M173.2 910.6h0M173.2 907.2h0M172.9 904.2h0M173.9 904.0h0M172.9 902.0h0M173.7 897.5h0M173.5 896.8h0M173.4 894.8h0M172.8 894.7h0M175.1 958.1h0M175.3 954.1h0M175.7 946.1h0M176.0 941.1h0M174.9 940.2h0M175.0 939.5h0M174.9 939.3h0M175.9 936.8h0M175.9 934.9h0M174.9 927.2h0M175.3 924.2h0M176.0 923.7h0M175.5 922.7h0M176.0 919.1h0M175.3 915.1h0M175.0 912.9h0M176.0 899.9h0M174.9 898.8h0M175.2 897.5h0M175.9 887.1h0M176.3 948.6h0M177.2 948.2h0M177.1 940.2h0M177.0 939.1h0M176.4 934.8h0M176.6 933.6h0M176.9 933.2h0M176.6 932.6h0M177.1 932.1h0M177.1 932.0h0M176.3 931.3h0M176.5 922.9h0M177.3 913.4h0M176.4 905.1h0M176.4 902.7h0M177.3 891.6h0M176.8 886.8h0M177.3 884.7h0M178.2 958.0h0M178.8 954.7h0M179.2 954.2h0M178.7 953.4h0M178.5 952.9h0M178.6 947.9h0M178.8 947.4h0M179.3 946.3h0M179.3 946.0h0M179.2 945.8h0M178.4 942.6h0M178.5 940.7h0M178.4 939.8h0M179.4 938.5h0M179.3 919.5h0M178.5 919.1h0M178.2 911.0h0M178.5 906.1h0M178.2 890.6h0M178.6 882.7h0M178.2 881.9h0M180.7 956.1h0M180.2 955.7h0M180.8 951.8h0M180.1 951.2h0M180.7 950.9h0M180.3 949.0h0M180.7 948.4h0M181.0 945.0h0M180.2 942.5h0M180.9 942.3h0M180.9 940.7h0M181.0 940.6h0M181.0 939.4h0M180.6 933.4h0M181.1 933.4h0M181.0 931.4h0M180.2 930.4h0M180.4 924.7h0M180.4 924.1h0M180.0 921.0h0M180.5 918.5h0M180.1 915.9h0M181.0 911.4h0M180.4 903.8h0M180.5 898.7h0M180.1 892.7h0M181.1 883.2h0M181.8 952.9h0M182.1 943.7h0M181.9 943.2h0M182.8 942.3h0M181.9 942.3h0M182.0 938.8h0M182.5 938.7h0M182.4 936.2h0M181.9 932.5h0M182.7 926.2h0M182.0 926.1h0M182.4 923.8h0M181.9 922.7h0M182.0 921.0h0M182.8 917.9h0M182.5 917.3h0M182.0 912.5h0M182.9 906.0h0M182.3 904.0h0M182.4 896.7h0M182.9 894.4h0M182.2 887.7h0M182.2 886.4h0M183.0 883.5h0M185.0 952.0h0M184.2 944.7h0M184.7 943.2h0M184.5 941.9h0M184.4 941.7h0M183.9 939.7h0M185.1 939.2h0M185.0 934.8h0M184.9 931.8h0M185.0 925.1h0M184.7 924.9h0M184.7 923.9h0M184.6 922.9h0M184.6 914.2h0M184.5 913.1h0M185.0 911.0h0M184.3 909.8h0M184.0 905.8h0M185.0 902.2h0M184.2 899.2h0M184.5 896.5h0M184.0 895.8h0M184.3 895.2h0M184.2 892.9h0M184.0 891.6h0M184.9 887.9h0M184.6 883.3h0M186.1 952.8h0M186.0 950.3h0M185.8 949.3h0M186.1 948.6h0M186.2 947.3h0M185.9 947.2h0M185.8 941.7h0M186.1 939.4h0M186.7 938.4h0M186.4 937.4h0M185.6 936.9h0M186.0 930.7h0M186.0 930.5h0M186.4 928.7h0M185.8 928.3h0M186.4 918.0h0M185.9 917.4h0M186.3 915.8h0M186.5 912.4h0M186.1 906.0h0M186.4 900.6h0M186.1 894.6h0M186.3 887.6h0M187.6 952.6h0M187.7 943.8h0M188.0 942.3h0M187.7 936.3h0M187.6 934.9h0M187.9 933.0h0M187.5 931.9h0M187.5 929.4h0M188.0 928.1h0M187.6 922.0h0M187.2 920.0h0M187.2 918.7h0M187.7 915.7h0M188.1 915.4h0M188.0 914.0h0M188.2 907.2h0M187.5 906.3h0M187.0 896.7h0M187.7 896.5h0M188.1 893.4h0M187.7 886.5h0M189.3 952.5h0M189.5 951.3h0M190.0 950.1h0M189.5 947.1h0M189.3 946.8h0M189.5 945.3h0M189.9 942.9h0M189.4 933.3h0M189.6 931.5h0M189.2 913.9h0M189.8 911.1h0M189.2 910.4h0M189.8 895.6h0M189.0 892.3h0M191.0 953.5h0M191.4 952.6h0M191.0 950.7h0M191.5 950.2h0M191.2 947.7h0M191.5 933.6h0M191.3 933.5h0M191.1 928.6h0M190.8 924.8h0M191.8 923.6h0M191.6 920.6h0M191.4 919.9h0M191.1 917.1h0M191.4 913.3h0M191.5 891.4h0M190.9 888.9h0M191.7 888.0h0M190.9 887.5h0M191.4 886.5h0M192.7 953.9h0M193.0 950.0h0M193.1 946.6h0M193.0 946.1h0M193.7 945.8h0M193.1 943.3h0M193.1 941.6h0M193.7 941.5h0M193.8 938.9h0M193.4 937.2h0M192.7 936.4h0M193.7 928.3h0M193.7 927.1h0M193.0 921.5h0M193.8 918.4h0M193.8 915.9h0M193.1 914.9h0M192.9 910.2h0M193.7 908.8h0M193.6 906.2h0M192.9 905.1h0M192.9 903.3h0M193.0 888.4h0M194.3 953.5h0M194.6 948.9h0M194.4 948.1h0M194.5 947.2h0M195.0 947.1h0M194.4 946.0h0M194.3 942.6h0M195.2 941.6h0M194.7 941.3h0M195.1 936.0h0M194.6 935.5h0M194.6 931.6h0M194.4 921.5h0M194.8 911.1h0M194.7 910.1h0M195.0 909.6h0M195.2 908.4h0M194.6 904.9h0M194.9 903.7h0M195.2 902.7h0M194.8 902.1h0M194.5 898.8h0M194.6 892.2h0M194.9 887.0h0M196.9 953.9h0M196.7 952.9h0M196.6 952.6h0M196.5 951.4h0M196.0 950.5h0M196.2 949.4h0M196.8 949.1h0M196.4 948.2h0M196.8 941.5h0M196.9 935.3h0M196.2 934.8h0M196.7 934.7h0M196.3 931.4h0M196.7 929.7h0M196.2 925.8h0M196.3 919.4h0M196.1 915.9h0M197.0 915.4h0M196.7 910.4h0M195.9 910.3h0M196.1 909.6h0M196.3 908.1h0M196.3 908.0h0M196.1 903.8h0M196.6 895.9h0M196.2 889.9h0M198.2 953.1h0M198.8 953.0h0M197.9 950.4h0M198.0 949.7h0M198.1 945.3h0M198.7 938.2h0M198.7 937.9h0M198.7 936.4h0M198.2 930.8h0M199.0 930.5h0M198.9 928.7h0M198.7 924.7h0M198.6 918.5h0M197.9 916.3h0M198.3 911.7h0M198.9 908.8h0M198.7 908.2h0M198.7 908.0h0M198.1 901.1h0M199.0 897.4h0M198.5 892.5h0M199.5 957.6h0M199.5 956.7h0M200.1 953.4h0M199.6 952.6h0M199.8 950.6h0M199.7 942.9h0M200.4 941.8h0M200.0 941.3h0M200.3 940.1h0M200.2 937.7h0M200.1 937.1h0M199.9 934.2h0M200.3 929.4h0M199.7 929.0h0M199.6 927.5h0M199.6 927.3h0M200.1 926.5h0M199.4 924.4h0M199.9 923.0h0M199.5 921.4h0M199.3 921.1h0M200.2 903.1h0M200.2 902.7h0M201.8 961.0h0M202.3 960.9h0M201.9 958.2h0M201.9 950.8h0M201.4 950.0h0M201.2 949.6h0M202.2 945.2h0M201.4 944.2h0M202.2 941.1h0M201.4 932.9h0M202.1 927.7h0M201.5 922.9h0M202.1 922.1h0M201.6 920.7h0M201.6 917.6h0M201.4 910.5h0M201.8 910.3h0M202.1 905.9h0M202.2 900.3h0M203.3 962.9h0M203.0 960.6h0M203.1 957.4h0M204.1 955.8h0M203.0 955.5h0M203.2 953.9h0M203.0 950.3h0M204.0 944.9h0M203.5 940.2h0M203.7 939.1h0M203.5 936.8h0M203.5 935.4h0M203.9 931.7h0M203.1 923.6h0M203.5 922.3h0M203.4 919.1h0M203.1 918.2h0M203.5 916.6h0M204.0 902.1h0M205.9 960.1h0M205.4 957.6h0M206.2 955.3h0M205.9 953.5h0M205.5 952.5h0M205.1 946.4h0M205.9 945.8h0M205.2 944.0h0M205.5 940.8h0M205.6 938.1h0M205.8 935.6h0M205.2 934.0h0M206.2 933.3h0M205.2 930.6h0M205.4 923.7h0M205.7 923.4h0M205.7 922.3h0M205.4 919.2h0M205.2 915.8h0M205.8 912.9h0M205.6 912.5h0M205.6 912.2h0M205.8 903.5h0M207.9 926.7h0M208.1 926.4h0M207.3 925.0h0M207.8 915.8h0M207.2 911.2h0M207.1 906.5h0M207.5 905.6h0M207.8 905.6h0M207.4 904.8h0M207.6 900.7h0M207.8 893.2h0M207.8 885.8h0M208.1 876.1h0M208.0 875.4h0M208.0 873.6h0M208.1 868.7h0M207.5 868.1h0M208.2 862.0h0M207.1 855.7h0M209.4 920.7h0M208.8 919.9h0M209.6 918.3h0M208.7 915.9h0M208.7 915.8h0M208.8 911.3h0M208.9 909.0h0M209.0 905.6h0M209.6 905.1h0M209.4 902.8h0M209.7 897.8h0M209.0 897.8h0M209.2 897.2h0M209.5 890.8h0M208.8 890.6h0M209.4 885.1h0M209.2 883.4h0M209.6 882.8h0M209.6 881.0h0M208.7 877.7h0M208.8 876.3h0M209.3 868.2h0M208.8 868.0h0M209.1 866.3h0M209.1 862.9h0M208.6 861.2h0M209.0 857.6h0M209.1 857.6h0M208.6 839.5h0M209.4 838.7h0M208.9 837.1h0M208.9 833.6h0M210.4 907.4h0M211.3 905.1h0M211.3 899.3h0M211.2 896.3h0M210.7 895.0h0M211.5 890.2h0M211.2 881.6h0M211.3 880.4h0M211.0 876.0h0M210.8 872.6h0M210.9 869.9h0M210.8 869.7h0M211.6 868.3h0M210.8 866.0h0M210.7 865.0h0M210.6 863.4h0M211.5 863.4h0M210.9 861.2h0M210.8 858.1h0M210.5 857.4h0M210.8 856.0h0M211.1 851.0h0M210.8 840.0h0M211.1 828.9h0M210.6 828.5h0M211.6 824.3h0M211.3 822.1h0M211.4 819.3h0M211.0 818.9h0M212.9 915.4h0M212.5 914.8h0M212.8 914.2h0M212.8 908.9h0M212.9 908.3h0M212.8 899.3h0M213.0 899.0h0M212.5 893.1h0M212.3 892.6h0M213.1 890.4h0M213.2 887.3h0M212.4 886.6h0M212.8 882.4h0M212.9 880.7h0M212.1 879.4h0M212.1 877.7h0M212.4 874.6h0M212.8 872.4h0M212.6 871.4h0M213.2 871.3h0M213.2 868.6h0M212.8 868.4h0M212.4 864.0h0M212.2 863.7h0M213.0 863.1h0M213.0 862.8h0M212.7 860.9h0M212.7 857.7h0M212.8 853.9h0M212.9 852.4h0M212.9 851.3h0M213.0 845.8h0M213.0 844.4h0M212.6 829.4h0M212.7 828.0h0M212.2 815.4h0M212.6 815.4h0M213.0 810.1h0M213.2 807.7h0M213.0 806.4h0M212.1 805.9h0M213.7 910.4h0M214.0 902.9h0M213.7 902.5h0M214.6 898.8h0M213.6 898.3h0M213.8 894.0h0M214.1 882.5h0M213.9 879.4h0M214.1 874.5h0M214.6 873.2h0M214.4 872.9h0M214.3 872.6h0M214.6 871.0h0M214.2 870.8h0M214.6 869.1h0M214.3 859.7h0M213.8 858.8h0M214.0 857.7h0M213.8 856.8h0M214.3 851.9h0M214.7 850.6h0M214.2 849.7h0M214.6 849.1h0M213.8 841.7h0M214.5 836.3h0M213.9 835.0h0M214.6 832.4h0M214.3 831.7h0M214.1 827.9h0M214.6 824.3h0M214.6 823.3h0M214.5 821.4h0M213.7 812.6h0M214.7 803.3h0M213.6 801.5h0M214.7 800.9h0M214.6 800.8h0M214.4 800.0h0M213.7 799.4h0M216.2 905.0h0M215.3 904.9h0M215.9 900.7h0M215.6 900.6h0M215.6 899.9h0M215.1 899.5h0M215.4 886.6h0M215.2 880.4h0M215.2 878.4h0M215.2 876.7h0M215.2 873.1h0M215.6 868.9h0M215.5 868.5h0M216.1 866.3h0M215.3 864.9h0M216.1 853.7h0M215.4 849.1h0M215.4 848.4h0M215.1 848.2h0M215.5 845.6h0M215.5 842.7h0M215.9 842.6h0M215.7 838.7h0M215.9 835.7h0M216.1 820.0h0M215.5 814.5h0M215.5 812.8h0M215.5 796.4h0M215.5 793.9h0M216.2 793.1h0M215.8 793.1h0M216.9 906.8h0M216.8 906.2h0M217.6 901.3h0M216.7 894.8h0M217.0 891.5h0M217.3 888.5h0M217.8 887.5h0M217.6 887.5h0M217.3 881.9h0M217.9 879.2h0M217.4 878.4h0M217.1 874.3h0M217.1 870.5h0M217.4 868.1h0M217.0 864.5h0M217.3 861.3h0M217.4 860.4h0M217.7 859.4h0M217.5 857.3h0M217.2 854.8h0M216.8 853.9h0M217.3 844.9h0M217.3 842.2h0M216.9 836.0h0M217.6 835.2h0M217.4 832.8h0M217.7 825.9h0M216.7 817.6h0M217.7 815.5h0M216.8 808.0h0M217.0 807.2h0M217.1 806.7h0M217.3 799.0h0M216.8 796.0h0M217.9 793.4h0M219.2 904.3h0M219.0 903.1h0M218.9 902.4h0M218.9 901.3h0M218.7 901.2h0M218.5 899.0h0M219.3 898.5h0M218.8 897.6h0M219.4 896.8h0M219.2 896.6h0M218.7 891.2h0M219.4 889.7h0M218.9 887.0h0M219.0 886.8h0M219.3 885.5h0M218.9 884.5h0M219.4 881.5h0M218.9 880.2h0M219.5 877.7h0M219.6 877.0h0M218.9 873.3h0M218.8 869.9h0M219.3 869.7h0M219.1 868.2h0M219.5 866.0h0M218.5 861.5h0M219.0 858.6h0M219.4 856.5h0M219.0 854.7h0M218.9 847.2h0M219.0 844.8h0M219.2 838.5h0M218.9 833.5h0M219.2 833.3h0M219.3 830.2h0M218.6 824.4h0M218.5 823.3h0M218.5 816.2h0M219.3 815.8h0M218.5 812.2h0M219.3 807.0h0M218.5 803.9h0M218.9 798.3h0M219.6 793.8h0M221.1 905.5h0M221.7 905.5h0M220.8 904.6h0M220.8 903.6h0M221.2 898.4h0M221.0 896.5h0M220.9 896.3h0M221.5 890.8h0M220.8 885.3h0M220.6 884.6h0M220.9 882.4h0M221.1 880.5h0M220.9 877.9h0M220.7 873.0h0M221.2 865.3h0M220.9 865.1h0M221.0 862.6h0M220.9 859.9h0M221.4 858.8h0M221.3 857.7h0M221.2 852.2h0M221.6 850.1h0M221.5 848.1h0M221.0 847.9h0M220.5 844.2h0M220.6 837.0h0M220.7 833.6h0M221.2 823.6h0M221.1 816.9h0M221.3 812.0h0M220.7 810.4h0M220.7 802.0h0M222.6 903.0h0M222.4 900.0h0M222.9 893.5h0M222.1 893.0h0M222.1 889.7h0M222.4 884.4h0M222.8 883.6h0M222.7 882.5h0M223.2 882.0h0M223.1 880.8h0M223.0 880.3h0M222.5 868.4h0M222.5 868.3h0M222.3 865.0h0M222.2 862.5h0M223.0 860.4h0M222.9 858.5h0M223.1 858.1h0M223.2 857.6h0M223.2 838.7h0M222.4 835.9h0M223.0 834.2h0M223.2 831.5h0M222.7 831.1h0M222.8 823.1h0M222.2 819.9h0M222.4 819.2h0M223.1 809.5h0M223.2 808.3h0M222.8 808.2h0M222.5 792.1h0M224.5 915.1h0M224.9 914.3h0M224.9 913.8h0M224.1 912.8h0M224.1 910.7h0M224.9 908.5h0M224.5 906.0h0M224.6 905.9h0M224.8 905.7h0M224.7 905.3h0M224.4 904.1h0M224.2 901.1h0M225.1 900.6h0M225.0 899.4h0M224.6 893.6h0M224.1 893.1h0M224.1 887.0h0M224.6 885.0h0M224.6 884.6h0M224.6 884.0h0M224.4 881.9h0M224.5 881.2h0M224.1 880.5h0M225.0 879.7h0M225.1 877.6h0M225.1 877.5h0M224.9 875.4h0M224.8 872.8h0M224.9 871.9h0M224.3 871.4h0M224.5 871.3h0M224.3 869.0h0M224.1 861.8h0M224.3 858.9h0M224.9 855.8h0M224.1 851.5h0M224.7 850.5h0M224.0 836.0h0M224.8 832.2h0M224.4 825.6h0M224.5 818.7h0M224.0 807.7h0M224.5 794.6h0M224.1 792.0h0M226.2 927.6h0M226.4 927.0h0M227.2 917.1h0M226.5 912.8h0M226.9 910.8h0M226.9 904.0h0M226.2 901.0h0M227.0 898.1h0M226.1 893.4h0M226.4 889.5h0M227.1 888.9h0M226.9 885.3h0M227.0 884.9h0M227.0 875.8h0M227.0 871.1h0M226.7 865.4h0M226.9 863.3h0M227.0 857.6h0M227.1 856.3h0M227.1 853.3h0M227.1 852.8h0M226.3 846.7h0M226.2 839.1h0M226.5 838.2h0M226.5 837.0h0M226.8 826.3h0M226.4 820.3h0M229.0 952.2h0M228.1 950.8h0M229.0 947.8h0M228.7 946.6h0M228.9 941.3h0M228.6 941.3h0M228.1 941.3h0M228.5 936.2h0M228.5 933.3h0M228.2 931.9h0M229.0 930.5h0M228.3 927.3h0M228.3 927.0h0M228.5 922.8h0M228.9 919.0h0M228.8 918.5h0M229.0 918.3h0M228.3 917.6h0M228.4 905.6h0M229.0 904.5h0M229.0 900.4h0M228.6 898.1h0M230.4 966.7h0M230.0 966.7h0M230.3 959.0h0M230.1 954.4h0M229.9 953.1h0M230.8 950.7h0M230.2 948.5h0M230.8 940.4h0M229.9 936.8h0M230.3 933.4h0M230.2 922.1h0M230.5 917.7h0M230.4 915.6h0M230.9 910.7h0M230.2 907.4h0M231.9 965.2h0M232.2 963.6h0M232.1 957.6h0M231.3 953.6h0M231.4 952.4h0M232.3 943.3h0M232.0 942.8h0M231.3 940.0h0M232.2 938.3h0M231.6 934.8h0M231.6 929.7h0M231.8 926.7h0M232.0 911.9h0M232.1 904.3h0M234.1 969.4h0M234.3 964.8h0M233.6 963.6h0M234.4 961.6h0M234.3 961.1h0M233.8 960.6h0M233.7 960.4h0M234.5 959.0h0M233.6 949.7h0M234.5 948.5h0M233.8 947.8h0M233.5 946.0h0M233.9 945.0h0M234.5 943.5h0M233.6 942.4h0M233.9 934.5h0M234.2 928.0h0M233.8 922.2h0M234.3 921.5h0M234.1 918.9h0M234.3 914.2h0M233.8 912.7h0M235.5 967.1h0M235.3 963.2h0M235.9 958.3h0M236.3 957.1h0M235.5 956.2h0M235.9 955.9h0M236.0 951.8h0M236.2 950.2h0M235.6 949.8h0M236.4 946.6h0M236.0 943.4h0M235.7 938.6h0M236.1 928.9h0M235.7 927.3h0M235.6 920.9h0M236.3 920.1h0M235.8 916.9h0M236.3 912.0h0M235.6 911.4h0M235.7 911.0h0M236.2 907.8h0M238.0 962.4h0M237.2 957.4h0M238.0 954.3h0M238.1 952.2h0M238.0 945.4h0M237.8 940.0h0M237.2 933.1h0M237.9 928.7h0M237.4 925.2h0M237.8 925.0h0M237.4 918.3h0M237.3 917.3h0M237.9 916.8h0M238.0 901.3h0M239.4 960.0h0M239.8 960.0h0M239.3 959.5h0M239.5 959.4h0M240.0 957.2h0M240.0 957.0h0M239.3 956.7h0M239.4 953.9h0M239.7 952.8h0M240.0 952.1h0M240.0 951.4h0M239.7 946.6h0M239.9 946.5h0M239.6 946.4h0M239.1 944.7h0M239.9 941.6h0M239.5 938.8h0M239.7 936.5h0M240.1 935.6h0M240.0 917.3h0M239.4 904.1h0M241.4 956.9h0M240.9 955.3h0M241.0 954.7h0M240.7 953.8h0M241.1 950.2h0M240.7 948.6h0M240.7 945.1h0M241.2 944.2h0M241.7 940.6h0M241.6 936.4h0M241.4 928.5h0M240.6 924.2h0M240.5 923.4h0M241.4 916.5h0M240.8 912.7h0M240.7 911.0h0M241.7 907.1h0M240.6 905.6h0M240.9 904.8h0M241.5 895.1h0M240.6 892.2h0M240.7 891.6h0M243.2 947.3h0M243.3 945.5h0M242.4 945.1h0M242.9 942.8h0M242.6 942.2h0M243.4 942.1h0M243.4 938.6h0M242.8 927.2h0M242.7 923.0h0M243.3 917.6h0M242.3 917.1h0M243.0 916.3h0M242.3 914.7h0M243.2 908.5h0M242.3 906.3h0M242.9 898.1h0M242.7 897.8h0M243.3 893.9h0M243.0 891.1h0M242.6 890.2h0M242.7 880.0h0M243.0 879.4h0M242.5 878.8h0M243.0 875.8h0M243.1 870.7h0M244.6 947.3h0M244.1 943.9h0M244.6 941.1h0M243.9 939.4h0M244.5 932.7h0M244.1 932.5h0M244.0 920.0h0M244.7 918.4h0M244.5 912.9h0M243.8 908.4h0M244.9 908.1h0M243.8 902.5h0M244.1 902.4h0M244.0 892.8h0M244.9 888.6h0M244.9 884.5h0M244.0 883.2h0M244.7 883.2h0M244.9 882.7h0M244.0 877.5h0M244.0 870.2h0M243.9 866.8h0M244.8 859.2h0M246.2 941.9h0M246.0 940.1h0M246.2 937.6h0M245.3 937.4h0M245.6 935.3h0M245.2 933.9h0M245.2 930.1h0M246.2 925.0h0M245.4 923.2h0M245.5 920.1h0M245.3 918.4h0M245.9 907.0h0M245.3 905.6h0M246.2 901.3h0M245.3 894.8h0M245.6 893.2h0M245.4 888.0h0M246.4 884.5h0M245.2 878.9h0M245.3 878.6h0M245.9 873.8h0M245.8 870.7h0M245.9 868.5h0M246.3 863.9h0M246.2 857.8h0M247.8 932.3h0M247.5 926.7h0M247.8 918.7h0M247.6 915.2h0M247.7 914.1h0M247.4 913.0h0M248.4 911.2h0M248.4 908.0h0M248.3 903.6h0M248.2 887.4h0M247.6 886.3h0M247.3 884.4h0M248.3 883.5h0M247.6 874.4h0M248.2 868.8h0M248.2 860.1h0M247.4 857.0h0M247.6 849.4h0M247.7 844.9h0M248.4 841.2h0M247.9 840.3h0M247.9 835.1h0M250.1 918.6h0M249.2 918.3h0M250.1 917.4h0M249.3 917.4h0M250.2 914.0h0M249.5 913.5h0M249.8 910.4h0M249.9 906.6h0M249.3 905.8h0M249.8 905.7h0M249.3 905.1h0M249.8 895.7h0M249.8 893.1h0M249.8 890.5h0M249.1 889.4h0M249.0 889.2h0M249.2 887.8h0M249.6 887.5h0M249.8 877.0h0M249.9 876.0h0M249.1 875.4h0M249.5 874.2h0M249.5 870.5h0M249.1 866.3h0M249.4 857.4h0M249.0 851.3h0M249.3 845.0h0M250.0 838.0h0M249.3 833.8h0M249.2 833.7h0M249.2 824.6h0M249.7 820.3h0M249.2 815.7h0M249.1 815.1h0M249.4 797.6h0M249.7 792.6h0M249.1 791.3h0M250.0 791.2h0M250.1 790.5h0M251.6 920.8h0M251.2 920.5h0M251.3 916.3h0M251.9 915.0h0M251.2 914.3h0M251.4 913.6h0M251.7 912.4h0M252.0 910.6h0M251.7 910.5h0M251.2 905.5h0M251.5 905.4h0M251.5 905.1h0M251.1 901.6h0M251.5 901.3h0M251.2 900.7h0M251.1 899.1h0M251.4 898.9h0M252.1 897.0h0M251.0 894.7h0M251.8 894.0h0M252.0 891.5h0M252.0 881.8h0M252.1 881.5h0M251.2 879.2h0M252.0 878.6h0M251.0 877.8h0M252.1 876.9h0M251.8 874.9h0M251.5 874.7h0M251.2 873.5h0M251.4 870.0h0M252.1 869.6h0M251.2 867.5h0M251.7 867.4h0M251.0 865.1h0M251.8 862.9h0M251.2 860.4h0M251.7 858.0h0M251.1 854.4h0M252.1 848.7h0M252.0 843.9h0M252.0 842.2h0M251.2 841.5h0M252.0 838.1h0M251.2 837.8h0M251.5 837.6h0M251.2 837.1h0M251.6 831.8h0M251.4 820.8h0M251.0 816.1h0M251.2 803.5h0M251.6 800.5h0M253.0 919.7h0M253.0 914.9h0M253.3 893.9h0M253.9 893.2h0M253.2 892.0h0M253.5 890.8h0M253.2 890.7h0M253.7 890.2h0M253.5 890.2h0M253.3 889.3h0M253.6 886.8h0M253.0 886.4h0M253.9 886.0h0M252.9 885.5h0M253.4 883.3h0M252.8 876.6h0M252.9 875.7h0M253.3 873.0h0M253.8 871.3h0M253.8 867.8h0M253.1 857.5h0M253.2 847.7h0M253.8 847.5h0M252.8 847.1h0M253.1 845.9h0M253.8 833.5h0M253.4 831.4h0M253.7 824.0h0M253.4 819.7h0M253.0 819.1h0M253.4 814.6h0M253.8 807.7h0M253.0 793.0h0M253.8 792.6h0M254.9 921.3h0M254.4 918.3h0M255.1 914.7h0M255.1 913.0h0M254.3 908.6h0M255.1 906.8h0M255.1 903.4h0M255.5 902.8h0M254.6 898.4h0M255.5 896.8h0M254.8 896.1h0M255.4 886.7h0M255.2 885.9h0M255.1 884.5h0M254.5 880.1h0M254.6 879.3h0M254.4 878.3h0M254.8 877.9h0M254.4 876.2h0M255.4 873.4h0M254.7 870.6h0M254.8 866.7h0M254.9 866.1h0M255.1 866.0h0M254.8 865.4h0M255.2 854.6h0M255.1 848.3h0M255.2 844.7h0M254.5 832.3h0M254.7 826.6h0M255.3 825.4h0M255.3 821.7h0M255.0 813.1h0M254.3 812.1h0M255.2 808.8h0M254.4 807.4h0M254.5 807.4h0M254.3 802.0h0M254.6 800.8h0M255.5 795.0h0M254.4 794.9h0M257.1 922.1h0M257.0 921.1h0M256.8 919.3h0M256.6 919.2h0M256.6 918.7h0M257.3 916.1h0M257.4 915.3h0M256.9 911.7h0M256.7 909.9h0M257.1 902.6h0M256.6 902.4h0M256.9 899.1h0M256.7 895.4h0M257.4 890.8h0M257.2 890.5h0M257.3 889.8h0M257.4 885.0h0M256.6 884.2h0M257.1 880.9h0M256.7 880.4h0M256.6 877.7h0M256.7 874.5h0M257.0 873.6h0M257.3 871.1h0M257.3 871.0h0M256.8 870.2h0M257.3 866.9h0M257.5 863.8h0M256.8 863.0h0M256.8 859.4h0M256.7 858.8h0M257.4 853.8h0M257.6 849.3h0M256.8 843.7h0M257.3 842.3h0M257.2 842.1h0M256.5 841.8h0M256.6 839.1h0M257.5 829.0h0M256.7 826.5h0M257.1 826.0h0M256.9 823.1h0M257.1 817.9h0M256.6 811.6h0M256.9 811.3h0M256.8 808.4h0M256.7 803.5h0M257.0 801.7h0M257.4 796.0h0M257.0 793.7h0M258.9 921.4h0M259.7 921.3h0M258.7 914.9h0M259.3 913.2h0M258.6 912.2h0M259.5 908.4h0M258.7 906.8h0M258.7 905.4h0M258.6 896.0h0M259.5 895.1h0M258.7 894.6h0M258.8 894.4h0M259.6 892.2h0M258.8 891.6h0M259.1 887.3h0M258.7 886.1h0M259.7 885.2h0M258.9 884.9h0M259.6 880.7h0M259.1 873.5h0M259.3 863.4h0M259.1 862.3h0M259.4 858.1h0M258.8 857.6h0M258.7 846.7h0M259.0 840.6h0M258.9 839.5h0M259.8 837.2h0M259.6 836.6h0M258.8 835.1h0M259.0 829.9h0M259.1 829.0h0M259.6 822.2h0M258.6 818.7h0M259.3 812.7h0M259.7 802.7h0M259.6 800.9h0M258.9 793.0h0M259.0 790.8h0M261.4 924.1h0M261.0 922.7h0M261.2 916.9h0M261.4 916.1h0M261.5 911.7h0M261.2 908.1h0M260.6 903.4h0M260.7 900.4h0M260.4 895.1h0M260.7 892.8h0M260.7 887.8h0M261.3 882.2h0M260.4 875.6h0M261.2 866.8h0M261.1 863.1h0M261.3 862.9h0M260.8 860.2h0M261.2 858.8h0M261.3 853.6h0M260.7 852.8h0M260.4 851.8h0M260.3 850.4h0M260.5 844.7h0M260.4 844.4h0M260.5 839.5h0M260.8 837.2h0M261.4 831.0h0M261.0 829.6h0M260.8 820.7h0M261.2 811.2h0M261.3 809.6h0M260.4 805.9h0M261.3 801.9h0M260.9 798.5h0M261.3 796.0h0M260.5 790.8h0M262.0 919.0h0M262.5 916.6h0M262.5 913.1h0M262.6 912.9h0M262.9 908.1h0M262.2 906.9h0M262.9 903.1h0M263.0 902.4h0M262.5 888.4h0M262.8 887.0h0M262.2 878.9h0M262.4 877.8h0M262.2 873.6h0M262.6 871.1h0M262.1 867.5h0M263.2 857.2h0M262.9 854.3h0M263.1 853.6h0M262.9 850.8h0M262.4 843.6h0M262.2 834.2h0M262.6 834.1h0M263.1 825.3h0M262.6 812.9h0M262.6 801.2h0M262.7 800.5h0M262.5 793.0h0M264.2 930.8h0M263.7 929.2h0M264.0 929.1h0M264.5 925.8h0M263.9 925.0h0M263.8 923.1h0M264.7 920.6h0M264.3 919.9h0M264.5 916.4h0M264.5 912.9h0M264.6 912.0h0M263.7 904.6h0M264.1 896.1h0M263.7 895.8h0M264.4 890.9h0M264.2 890.4h0M264.8 887.2h0M264.5 885.9h0M263.8 885.0h0M264.1 884.4h0M264.0 881.3h0M263.9 880.7h0M263.8 880.4h0M264.2 879.2h0M264.2 878.5h0M264.8 876.5h0M264.7 874.3h0M263.8 872.1h0M263.8 869.0h0M263.7 868.4h0M264.8 864.1h0M264.0 862.3h0M264.0 860.3h0M264.1 855.9h0M264.6 855.3h0M263.6 852.1h0M264.5 844.8h0M264.4 843.1h0M264.1 832.8h0M264.0 830.3h0M264.4 826.8h0M264.7 820.8h0M264.0 820.0h0M264.6 811.0h0M264.4 806.5h0M266.8 937.0h0M265.8 932.7h0M266.3 931.7h0M266.2 929.8h0M266.1 923.7h0M266.8 921.6h0M266.3 918.7h0M266.2 917.5h0M266.7 914.8h0M266.2 914.0h0M266.2 912.5h0M266.4 905.3h0M266.1 904.3h0M265.9 899.0h0M265.7 895.3h0M265.8 894.6h0M265.9 889.3h0M265.8 888.4h0M266.6 887.4h0M266.8 883.1h0M266.4 873.0h0M265.8 863.6h0M266.2 853.5h0M266.6 852.6h0M266.2 844.4h0M266.8 844.0h0M266.4 837.7h0M267.2 941.8h0M267.9 938.5h0M267.4 938.2h0M267.9 937.7h0M268.4 934.7h0M268.4 933.4h0M267.7 931.9h0M267.5 931.1h0M268.4 920.9h0M267.4 917.3h0M267.4 916.7h0M268.1 915.4h0M267.8 915.2h0M267.2 911.8h0M268.1 910.0h0M267.7 907.3h0M267.9 900.6h0M267.7 899.2h0M268.2 889.7h0M267.9 881.1h0M267.4 880.5h0M268.0 878.7h0M268.2 878.7h0M267.8 872.9h0M268.1 872.8h0M268.0 870.7h0M268.1 867.4h0M268.3 865.2h0M268.3 852.3h0M267.6 847.9h0M267.5 845.6h0M269.6 947.3h0M269.5 943.5h0M269.4 940.9h0M269.8 935.5h0M270.3 934.6h0M270.3 934.3h0M269.4 930.2h0M269.9 926.0h0M269.9 918.8h0M270.3 917.0h0M270.1 916.7h0M269.5 916.3h0M270.2 915.9h0M270.1 914.0h0M270.1 913.1h0M269.3 909.6h0M270.1 907.3h0M270.0 906.4h0M269.6 905.3h0M270.3 896.4h0M269.7 873.2h0M270.2 869.3h0M269.7 862.4h0M271.1 951.8h0M271.1 948.2h0M271.0 945.1h0M271.6 932.7h0M271.1 928.7h0M271.4 925.5h0M271.9 924.6h0M271.5 924.5h0M272.0 924.2h0M271.0 917.1h0M271.5 915.0h0M271.8 910.6h0M272.0 909.1h0M271.1 908.4h0M271.1 902.3h0M271.5 901.5h0M271.1 899.9h0M271.5 889.6h0M271.2 883.0h0M271.2 871.8h0M273.8 955.6h0M272.9 954.0h0M273.8 947.4h0M273.7 944.2h0M273.4 943.4h0M274.0 938.4h0M273.0 930.6h0M273.5 927.0h0M273.0 925.2h0M273.4 924.8h0M273.1 922.5h0M273.5 920.9h0M273.5 915.9h0M273.9 915.3h0M274.0 913.6h0M273.0 898.8h0M274.0 895.0h0M273.5 892.9h0M272.8 891.1h0M273.0 890.1h0M273.6 888.5h0M273.9 884.5h0M275.2 950.5h0M275.3 945.2h0M275.2 944.0h0M275.7 943.0h0M275.7 942.2h0M274.5 942.0h0M274.8 939.8h0M274.7 937.7h0M275.3 932.5h0M275.6 929.0h0M275.3 914.0h0M274.5 909.7h0M275.0 909.6h0M274.9 897.1h0M274.5 893.7h0M275.6 891.5h0M275.5 887.8h0M274.8 887.7h0M275.5 886.9h0M275.6 886.4h0M275.6 885.0h0M274.9 881.8h0M276.4 936.3h0M276.6 932.4h0M276.7 932.0h0M277.4 928.9h0M277.4 914.0h0M277.0 910.9h0M277.1 910.3h0M276.7 907.7h0M276.6 900.0h0M276.4 899.4h0M277.0 898.9h0M276.4 893.1h0M276.9 890.5h0M276.7 887.4h0M276.3 884.4h0M276.8 884.1h0M277.2 883.0h0M277.2 881.9h0M276.4 880.8h0M276.7 878.1h0M277.2 876.4h0M277.0 875.3h0M276.8 867.6h0M277.4 864.4h0M276.5 860.0h0M276.3 859.6h0M276.4 857.6h0M279.1 938.5h0M278.2 937.7h0M278.4 936.8h0M278.8 930.3h0M278.2 928.8h0M278.1 928.6h0M278.8 923.4h0M278.7 922.9h0M278.6 922.7h0M278.1 921.6h0M278.8 917.6h0M278.2 915.5h0M278.5 912.2h0M278.1 908.9h0M278.0 901.6h0M278.5 900.8h0M278.1 900.1h0M279.2 896.2h0M278.3 894.9h0M278.3 891.1h0M278.8 889.3h0M278.2 887.3h0M278.6 887.1h0M279.1 870.4h0M278.6 870.0h0M278.2 867.3h0M278.6 862.7h0M278.3 855.7h0M279.0 843.4h0M278.2 840.2h0M278.1 836.7h0M280.9 920.2h0M280.3 919.9h0M280.6 919.7h0M280.3 916.3h0M280.4 913.1h0M280.3 909.6h0M280.5 898.9h0M280.0 898.9h0M281.0 895.1h0M280.1 892.1h0M280.8 885.8h0M280.4 885.5h0M279.9 882.0h0M280.4 881.8h0M281.1 875.2h0M281.0 873.9h0M281.0 868.8h0M281.1 865.7h0M281.1 862.1h0M280.2 859.2h0M280.5 856.5h0M280.4 855.0h0M280.6 852.4h0M280.3 851.4h0M280.5 848.8h0M280.7 846.7h0M280.6 845.9h0M280.9 844.6h0M280.9 839.8h0M280.2 836.8h0M280.5 826.0h0M280.3 823.9h0M280.8 821.5h0M280.5 813.6h0M280.2 807.1h0M280.4 804.0h0M281.9 915.5h0M282.6 914.8h0M282.4 912.0h0M282.5 909.2h0M281.7 908.4h0M281.7 907.1h0M282.3 898.1h0M282.8 894.8h0M281.9 890.0h0M281.8 888.8h0M282.5 884.0h0M282.1 881.9h0M282.2 880.9h0M282.7 877.0h0M282.7 870.9h0M282.1 869.0h0M282.8 867.7h0M281.8 867.1h0M282.7 865.9h0M282.0 859.4h0M282.7 852.6h0M281.9 850.5h0M282.1 845.0h0M282.7 844.5h0M282.1 842.2h0M281.9 838.7h0M282.1 838.6h0M281.6 836.7h0M282.5 834.8h0M282.4 833.1h0M281.9 829.0h0M282.4 828.9h0M282.0 824.8h0M282.7 823.8h0M281.9 813.0h0M282.3 808.7h0M281.7 806.8h0M282.4 804.8h0M283.9 913.7h0M283.6 907.6h0M283.7 895.9h0M283.7 890.3h0M283.9 887.7h0M284.4 887.6h0M283.8 882.6h0M284.0 878.0h0M283.5 864.3h0M283.7 862.7h0M284.4 859.3h0M284.1 852.9h0M284.4 851.1h0M283.7 850.7h0M284.0 845.6h0M283.5 826.7h0M283.7 824.0h0M283.5 824.0h0M283.9 823.6h0M284.0 821.1h0M284.3 819.6h0M284.6 816.3h0M284.1 815.4h0M283.9 812.2h0M283.7 802.7h0M285.8 913.9h0M285.2 913.0h0M285.6 904.7h0M285.9 904.3h0M285.5 902.2h0M286.1 901.1h0M285.6 900.0h0M285.6 891.1h0M285.3 889.5h0M285.9 886.3h0M285.6 884.5h0M286.1 883.7h0M286.1 881.8h0M286.0 880.4h0M285.4 880.3h0M286.0 870.2h0M285.7 866.5h0M285.4 864.4h0M285.9 863.7h0M285.4 859.7h0M285.3 856.1h0M285.3 852.7h0M285.5 850.2h0M285.3 847.2h0M285.9 844.7h0M285.5 844.2h0M285.8 839.9h0M286.1 836.1h0M285.4 832.7h0M286.1 830.3h0M286.0 826.8h0M285.7 824.8h0M286.1 809.7h0M285.3 804.5h0M285.2 799.7h0M288.3 922.3h0M287.3 920.3h0M287.8 914.5h0M288.1 909.6h0M288.3 907.5h0M288.4 906.8h0M287.3 905.7h0M287.4 904.5h0M288.0 904.3h0M287.5 903.9h0M287.6 902.9h0M288.4 895.6h0M288.5 889.5h0M288.2 887.7h0M288.4 886.7h0M288.2 881.5h0M287.4 880.7h0M287.9 872.3h0M288.3 869.0h0M288.1 868.5h0M288.2 866.3h0M287.5 864.2h0M287.6 853.0h0M288.3 847.8h0M288.1 846.7h0M287.5 844.7h0M288.4 843.7h0M287.9 841.9h0M287.3 839.0h0M288.2 833.1h0M287.7 824.0h0M287.7 822.9h0M288.1 816.6h0M287.9 814.0h0M288.4 813.2h0M287.9 809.9h0M289.8 924.1h0M289.2 923.8h0M289.4 921.2h0M289.6 919.9h0M289.4 919.2h0M289.8 919.2h0M289.9 918.4h0M289.6 916.3h0M289.0 913.6h0M289.2 909.4h0M289.8 903.7h0M289.8 900.4h0M289.7 898.7h0M289.1 889.5h0M289.4 889.2h0M289.0 886.9h0M289.9 886.1h0M289.0 884.6h0M289.6 883.9h0M289.4 883.2h0M289.4 880.7h0M289.9 878.4h0M290.0 878.3h0M288.9 877.6h0M289.5 872.6h0M289.1 869.9h0M289.2 864.5h0M289.1 859.8h0M289.6 856.6h0M289.4 854.8h0M289.6 854.5h0M289.0 849.9h0M289.7 846.6h0M289.9 846.2h0M288.9 837.7h0M289.0 836.4h0M289.0 835.1h0M289.2 832.0h0M289.4 830.4h0M289.8 828.2h0M289.0 822.0h0M288.9 820.7h0M289.0 818.6h0M291.4 913.9h0M291.3 906.8h0M290.9 905.8h0M291.5 897.6h0M291.4 895.9h0M291.9 891.6h0M291.1 889.7h0M291.9 888.2h0M291.7 886.6h0M291.4 884.1h0M291.2 881.4h0M291.9 878.9h0M291.3 878.6h0M292.0 871.9h0M291.6 871.9h0M291.9 868.6h0M291.0 866.5h0M291.7 865.3h0M291.1 860.8h0M291.6 857.2h0M290.9 853.4h0M291.2 851.3h0M291.3 847.9h0M291.7 847.4h0M291.8 846.1h0M291.5 844.7h0M291.0 838.4h0M290.9 833.1h0M290.9 821.7h0M291.3 815.9h0M291.3 815.0h0M291.4 811.7h0M291.5 811.1h0M292.0 809.3h0M291.4 806.9h0M292.0 805.6h0M291.6 803.6h0M292.7 915.7h0M293.1 915.5h0M292.8 910.1h0M293.5 908.5h0M292.8 907.6h0M293.1 905.6h0M293.7 897.9h0M293.3 897.1h0M292.6 895.6h0M293.7 893.9h0M293.3 892.8h0M292.7 889.2h0M292.7 881.5h0M293.4 880.4h0M293.0 880.3h0M293.2 879.9h0M292.8 879.8h0M292.7 879.0h0M292.8 878.8h0M292.7 876.5h0M293.1 871.0h0M292.9 870.0h0M292.6 864.0h0M292.7 859.3h0M293.1 849.2h0M293.6 845.8h0M292.7 845.4h0M293.3 840.9h0M292.9 835.9h0M292.8 833.1h0M292.9 830.7h0M292.9 827.0h0M293.4 825.6h0M293.5 825.2h0M292.9 822.2h0M293.2 821.7h0M293.4 818.5h0M293.1 816.4h0M292.9 805.9h0M295.4 914.2h0M295.9 913.6h0M295.6 910.8h0M294.8 908.6h0M294.9 903.1h0M295.4 902.3h0M295.2 901.6h0M294.8 898.1h0M294.8 895.0h0M295.4 893.1h0M294.7 889.6h0M295.8 889.0h0M295.2 887.5h0M295.5 886.1h0M295.4 882.0h0M295.3 880.4h0M294.9 878.1h0M295.8 868.6h0M295.9 863.5h0M295.7 861.4h0M295.6 860.4h0M295.8 856.0h0M295.7 849.6h0M295.6 848.4h0M295.0 846.0h0M295.6 844.2h0M295.7 837.0h0M294.9 832.6h0M295.3 831.9h0M295.1 830.9h0M294.9 830.4h0M294.9 825.1h0M295.1 816.8h0M295.0 807.9h0M295.1 806.4h0M295.2 806.3h0M294.7 803.9h0M296.6 913.0h0M296.4 912.2h0M297.2 911.9h0M297.0 909.5h0M296.7 908.7h0M296.8 899.0h0M297.4 885.8h0M297.4 885.3h0M297.2 885.3h0M297.2 880.1h0M297.4 877.6h0M297.0 877.1h0M296.9 876.1h0M297.2 875.4h0M297.3 872.6h0M297.1 869.3h0M297.3 860.8h0M296.8 857.8h0M296.8 848.4h0M296.8 848.0h0M297.5 843.4h0M297.2 839.3h0M297.3 828.3h0M296.9 825.7h0M296.8 819.5h0M297.1 819.0h0M296.7 811.4h0M297.4 805.8h0M296.5 805.1h0M296.8 801.6h0M299.7 936.6h0M298.6 936.1h0M298.6 934.5h0M299.0 932.8h0M299.0 924.5h0M299.5 919.1h0M298.8 916.6h0M299.1 915.5h0M299.3 914.1h0M298.9 912.0h0M299.7 909.2h0M298.9 908.5h0M298.6 908.5h0M299.0 908.3h0M299.4 902.8h0M299.5 892.1h0M299.2 889.1h0M299.0 889.1h0M299.3 888.0h0M299.2 887.8h0M299.1 886.2h0M298.7 884.4h0M299.5 879.7h0M298.7 876.4h0M299.6 873.0h0M299.4 856.6h0M299.6 856.4h0M298.9 851.7h0M299.5 840.4h0M300.5 949.6h0M300.9 945.8h0M300.8 944.7h0M300.8 937.5h0M300.8 930.5h0M300.2 916.0h0M300.8 914.0h0M301.3 909.7h0M300.7 906.3h0M300.8 902.7h0M301.3 898.3h0M300.5 898.2h0M300.2 890.3h0M300.2 884.0h0M301.1 879.5h0M300.6 878.3h0M301.0 877.1h0M300.9 873.6h0M300.9 871.8h0M302.6 959.1h0M302.4 954.8h0M303.1 952.6h0M302.2 944.9h0M302.7 944.0h0M302.3 935.9h0M302.6 930.1h0M303.3 927.4h0M302.5 927.2h0M302.3 926.6h0M303.0 925.4h0M302.3 922.4h0M302.8 916.7h0M303.1 916.1h0M302.4 909.6h0M303.1 898.4h0M302.2 897.2h0M303.1 887.9h0M303.1 887.4h0M304.4 954.2h0M305.2 949.0h0M304.9 947.9h0M305.1 944.4h0M304.4 941.8h0M304.7 940.9h0M305.1 940.4h0M304.3 933.4h0M304.9 929.3h0M305.0 928.8h0M304.4 923.6h0M304.4 923.2h0M304.6 917.6h0M304.2 910.8h0M304.5 910.3h0M304.2 901.1h0M305.0 900.7h0M304.8 900.2h0M304.3 899.8h0M306.4 964.3h0M307.0 960.1h0M306.8 955.9h0M306.3 952.6h0M306.5 951.1h0M307.0 950.2h0M306.5 949.5h0M307.2 948.5h0M306.7 945.4h0M307.2 944.0h0M306.7 935.3h0M307.2 932.5h0M306.4 931.5h0M306.7 931.1h0M306.3 926.0h0M307.3 924.0h0M306.6 921.5h0M307.2 914.5h0M306.3 912.6h0M307.0 908.3h0M306.9 897.0h0M306.7 895.2h0M309.0 958.2h0M308.5 951.1h0M308.0 941.4h0M308.6 933.4h0M308.4 926.5h0M307.9 909.7h0M308.9 901.7h0M308.9 899.6h0M308.8 898.4h0M308.4 895.3h0M308.8 894.2h0M310.1 961.6h0M310.5 955.7h0M309.8 953.0h0M309.5 952.6h0M310.1 950.6h0M310.6 948.9h0M309.8 947.3h0M309.6 945.7h0M310.1 937.4h0M309.9 934.9h0M309.8 934.0h0M309.9 931.7h0M310.1 918.8h0M309.4 917.9h0M309.8 917.2h0M310.4 911.4h0M310.3 910.3h0M310.0 907.9h0M309.4 904.7h0M310.2 904.4h0M309.8 899.3h0M312.1 960.7h0M311.7 957.9h0M312.0 957.8h0M312.3 957.7h0M311.7 955.0h0M311.7 953.4h0M311.6 952.8h0M312.0 948.1h0M311.8 944.5h0M312.1 939.7h0M311.9 936.4h0M311.6 933.8h0M312.2 922.2h0M312.2 919.5h0M311.8 919.1h0M312.4 918.1h0M311.9 918.1h0M312.4 910.6h0M311.8 905.6h0M312.3 904.5h0M312.3 903.1h0M312.3 901.2h0M312.4 897.5h0M313.8 958.6h0M314.0 957.3h0M313.4 956.3h0M313.8 952.2h0M313.7 948.4h0M314.1 948.3h0M313.7 947.6h0M313.4 947.6h0M314.0 944.5h0M313.7 941.5h0M313.9 937.6h0M313.8 936.9h0M314.0 934.1h0M313.5 933.4h0M313.2 932.1h0M314.0 930.8h0M313.3 928.0h0M313.3 923.7h0M313.3 919.0h0M313.4 918.6h0M313.4 916.0h0M314.3 908.2h0M314.0 906.9h0M313.8 902.2h0M314.3 901.0h0M313.1 887.8h0M313.5 885.9h0M313.6 884.8h0M314.6 955.7h0M314.9 949.7h0M314.7 949.0h0M314.7 947.7h0M314.9 947.2h0M315.1 944.8h0M315.2 943.7h0M315.5 939.5h0M315.7 938.2h0M315.3 933.6h0M315.0 931.6h0M315.6 931.1h0M314.7 928.2h0M315.6 919.8h0M315.4 919.7h0M315.2 918.8h0M315.0 912.6h0M315.4 910.1h0M315.3 909.3h0M315.8 907.2h0M315.4 906.4h0M314.9 906.2h0M314.8 905.8h0M314.8 902.9h0M314.7 896.6h0M315.6 892.4h0M314.8 891.8h0M315.1 885.4h0M317.3 945.7h0M316.9 945.0h0M316.4 937.1h0M317.2 931.6h0M317.0 927.3h0M317.4 927.0h0M317.2 926.6h0M316.6 922.6h0M316.8 918.8h0M316.3 914.1h0M316.7 904.6h0M316.8 898.5h0M316.6 891.8h0M316.3 888.4h0M316.4 885.5h0M317.1 876.6h0M317.4 873.8h0M319.3 950.5h0M318.4 948.0h0M318.9 940.9h0M319.4 938.4h0M318.4 937.4h0M318.7 929.9h0M318.6 929.8h0M319.3 913.6h0M318.6 912.8h0M319.2 904.8h0M318.6 901.6h0M319.5 899.5h0M318.9 899.5h0M319.6 899.3h0M319.5 898.8h0M319.3 891.6h0M319.2 891.4h0M319.0 888.5h0M319.0 887.8h0M318.6 880.8h0M318.9 870.9h0M320.6 948.0h0M321.2 946.1h0M320.0 945.4h0M320.4 944.3h0M320.5 943.9h0M321.1 943.8h0M321.1 942.0h0M320.9 938.6h0M320.4 934.4h0M320.3 930.5h0M320.7 928.1h0M320.2 923.4h0M321.0 922.0h0M321.2 916.7h0M320.3 916.3h0M320.9 915.9h0M320.8 911.2h0M320.6 905.8h0M321.1 902.7h0M320.8 898.7h0M320.6 895.2h0M320.7 889.4h0M320.5 888.8h0M320.5 886.4h0M320.4 882.7h0M320.5 880.4h0M321.2 878.2h0M320.0 877.7h0M320.5 871.4h0M321.9 953.3h0M323.0 947.8h0M322.4 946.9h0M321.9 945.8h0M322.9 939.6h0M322.2 938.8h0M322.8 935.4h0M322.3 933.5h0M322.8 932.7h0M322.9 926.6h0M322.6 926.2h0M322.7 912.8h0M322.0 910.7h0M322.8 910.5h0M322.8 910.2h0M322.4 906.2h0M323.0 897.9h0M322.0 894.1h0M322.4 890.3h0M323.0 889.1h0M322.0 883.3h0M322.3 882.1h0M322.3 878.1h0M322.8 875.2h0M322.7 874.2h0M323.0 872.1h0M324.3 951.6h0M323.6 950.5h0M324.2 950.1h0M323.9 949.6h0M324.6 947.0h0M323.9 945.0h0M323.9 942.5h0M323.7 938.2h0M324.1 937.3h0M323.7 930.3h0M323.7 929.6h0M323.9 928.9h0M324.5 927.3h0M324.1 925.7h0M324.5 924.1h0M324.1 916.5h0M323.8 907.8h0M324.2 893.7h0M324.0 888.9h0M323.7 887.5h0M324.0 877.7h0M325.5 953.6h0M326.1 952.6h0M325.3 950.5h0M325.8 947.1h0M325.6 946.9h0M326.3 946.3h0M325.7 944.1h0M325.7 943.3h0M325.7 942.3h0M326.3 937.9h0M326.4 934.4h0M325.5 931.2h0M325.5 931.1h0M326.0 930.2h0M326.0 924.8h0M325.6 923.0h0M326.2 910.0h0M325.4 908.5h0M325.6 893.8h0M325.5 886.0h0M325.7 881.2h0M327.7 944.2h0M327.3 941.0h0M327.1 940.1h0M327.0 928.1h0M327.4 925.1h0M327.5 924.4h0M327.3 915.9h0M327.7 915.2h0M327.6 911.5h0M328.0 910.8h0M327.2 910.4h0M327.6 909.4h0M327.6 907.1h0M328.0 902.3h0M327.0 899.9h0M327.0 892.9h0M327.1 891.3h0M327.9 887.4h0M327.3 886.8h0M327.8 878.3h0M327.8 877.7h0M329.1 951.6h0M328.9 951.2h0M328.9 949.9h0M329.4 948.5h0M329.2 946.3h0M328.8 941.9h0M329.8 940.8h0M329.8 935.0h0M329.4 930.7h0M329.4 926.0h0M329.0 925.6h0M329.8 925.2h0M329.2 924.0h0M328.8 921.5h0M329.7 917.5h0M329.8 912.1h0M328.9 910.8h0M329.5 905.7h0M329.1 904.0h0M329.7 903.4h0M329.7 901.0h0M329.1 899.4h0M329.6 896.6h0M329.1 888.0h0M329.2 882.8h0M329.6 873.7h0M329.1 869.6h0M331.9 956.6h0M331.8 956.5h0M331.5 954.5h0M331.3 952.4h0M330.9 950.2h0M330.9 943.2h0M331.6 942.8h0M331.8 939.9h0M331.9 936.4h0M330.8 936.2h0M331.7 935.4h0M331.4 934.9h0M331.0 930.4h0M331.9 928.1h0M331.3 923.6h0M331.1 921.5h0M331.7 910.6h0M331.2 906.4h0M331.4 901.3h0M331.2 894.9h0M331.6 885.8h0M331.5 883.0h0M331.4 875.1h0M332.8 956.5h0M332.4 951.4h0M333.1 950.2h0M332.7 945.4h0M333.0 930.5h0M332.4 930.3h0M332.9 930.1h0M332.5 928.8h0M332.3 926.9h0M333.2 918.9h0M332.8 916.0h0M333.0 914.7h0M333.4 913.1h0M333.1 901.5h0M332.3 894.2h0M332.6 893.6h0M332.7 893.0h0M334.6 963.5h0M334.9 963.4h0M335.1 962.5h0M335.0 960.3h0M335.2 959.3h0M335.1 956.1h0M334.8 954.4h0M334.3 953.4h0M335.0 951.7h0M335.3 951.1h0M335.3 945.0h0M334.9 940.0h0M334.6 939.4h0M335.5 935.2h0M334.3 934.8h0M334.7 933.4h0M334.4 930.4h0M334.7 924.1h0M334.7 915.7h0M334.5 914.3h0M335.0 901.2h0M334.3 893.4h0M335.2 889.6h0M337.6 957.0h0M337.5 955.0h0M336.4 954.2h0M336.7 946.3h0M336.8 944.0h0M337.5 941.5h0M337.4 933.0h0M337.4 932.1h0M336.9 932.0h0M336.7 923.1h0M337.1 921.6h0M337.2 920.7h0M336.5 917.1h0M336.5 908.4h0M336.8 904.0h0M336.5 903.5h0M337.3 880.1h0M337.3 877.2h0M339.4 934.6h0M339.5 931.5h0M339.2 930.0h0M338.7 924.7h0M338.5 919.0h0M339.2 916.7h0M339.6 916.2h0M338.7 914.4h0M339.2 912.8h0M338.5 911.1h0M339.3 910.8h0M338.8 910.3h0M339.5 905.2h0M338.7 898.3h0M339.4 898.2h0M338.9 895.2h0M339.0 895.1h0M339.2 894.2h0M338.7 880.6h0M339.3 880.3h0M338.8 879.9h0M339.7 877.7h0M338.9 876.2h0M338.7 873.7h0M339.3 871.6h0M339.4 870.1h0M338.6 869.3h0M339.0 865.2h0M338.6 854.8h0M339.3 848.6h0M338.6 846.3h0M339.4 841.7h0M339.1 838.5h0M340.9 932.0h0M341.4 929.9h0M341.0 915.9h0M340.6 914.8h0M341.3 912.0h0M341.2 911.2h0M340.8 890.7h0M340.9 882.0h0M341.4 878.6h0M340.8 877.8h0M340.5 864.2h0M340.9 862.9h0M341.1 858.0h0M341.2 848.3h0M340.5 848.3h0M340.9 848.2h0M341.0 848.1h0M340.6 844.2h0M340.9 836.6h0M340.8 823.5h0M341.0 819.2h0M341.3 817.8h0M340.7 817.8h0M341.4 816.0h0M340.4 812.8h0M341.1 811.1h0M340.5 803.1h0M343.2 918.8h0M343.0 911.9h0M342.3 908.5h0M343.1 908.4h0M342.8 905.2h0M342.4 904.1h0M342.7 896.7h0M342.5 896.7h0M342.2 895.4h0M343.2 883.9h0M342.1 878.5h0M342.2 876.7h0M343.1 872.5h0M343.0 867.3h0M342.1 866.9h0M343.1 866.5h0M342.7 860.5h0M343.1 859.5h0M342.5 859.1h0M343.3 859.1h0M343.0 857.1h0M342.8 851.3h0M343.0 835.3h0M343.2 824.7h0M343.0 824.4h0M342.5 823.3h0M343.3 821.5h0M342.6 821.2h0M343.3 820.6h0M342.9 817.6h0M343.0 814.3h0M342.6 812.4h0M342.9 806.2h0M344.4 926.4h0M344.4 925.0h0M343.9 924.8h0M343.9 923.8h0M344.6 923.6h0M344.5 920.1h0M344.6 919.5h0M344.5 914.7h0M344.4 914.0h0M344.1 912.6h0M344.8 912.1h0M344.9 909.3h0M344.1 908.8h0M343.8 906.8h0M344.4 905.7h0M344.8 903.8h0M344.5 901.3h0M344.7 898.8h0M343.8 897.4h0M344.7 885.7h0M343.9 885.3h0M344.5 884.5h0M343.8 884.1h0M343.8 881.9h0M344.2 881.0h0M343.8 880.3h0M344.0 879.3h0M344.3 878.0h0M344.1 876.6h0M344.8 876.6h0M344.3 872.2h0M344.0 872.2h0M344.3 864.6h0M344.7 863.8h0M343.9 856.2h0M344.4 853.7h0M344.1 853.3h0M344.6 849.8h0M344.5 846.2h0M343.8 844.4h0M344.8 844.4h0M344.8 836.8h0M344.7 836.5h0M344.2 835.8h0M344.8 834.9h0M344.8 828.2h0M344.9 826.2h0M344.4 824.9h0M344.0 820.3h0M343.9 818.2h0M344.0 811.3h0M344.1 810.7h0M344.5 806.1h0M344.8 802.6h0M344.0 796.0h0M346.4 966.2h0M345.4 963.3h0M346.0 962.7h0M345.3 960.6h0M346.0 960.4h0M345.4 957.8h0M345.6 953.6h0M346.0 951.1h0M346.5 949.8h0M345.8 948.3h0M346.3 946.0h0M346.2 932.4h0M346.2 929.8h0M346.5 926.2h0M346.2 913.3h0M346.0 912.3h0M345.6 909.8h0M345.6 903.2h0M345.9 897.4h0M346.2 894.6h0M347.8 970.6h0M348.1 967.6h0M348.0 959.5h0M347.5 958.0h0M348.1 956.0h0M347.6 954.7h0M347.6 952.5h0M348.0 951.8h0M348.1 950.3h0M347.9 947.5h0M347.5 947.0h0M348.6 943.8h0M347.9 942.4h0M348.4 940.8h0M348.4 937.9h0M347.6 937.9h0M347.9 936.8h0M347.9 934.4h0M350.2 972.0h0M349.3 970.9h0M349.9 962.2h0M349.3 959.5h0M349.7 955.1h0M349.6 951.4h0M349.7 942.1h0M350.3 940.6h0M349.6 939.5h0M350.4 936.3h0M351.3 977.9h0M351.7 973.9h0M351.0 969.5h0M351.2 963.2h0M351.4 958.0h0M351.4 950.7h0M351.0 949.7h0M350.9 947.1h0M351.9 946.5h0M351.9 943.2h0M351.4 942.5h0M350.9 940.0h0M351.9 938.7h0M351.4 933.2h0M351.9 928.7h0M352.9 980.0h0M353.4 978.1h0M353.2 976.4h0M353.5 976.0h0M353.1 973.9h0M353.8 968.8h0M353.9 961.3h0M353.2 961.1h0M353.0 959.2h0M353.8 954.8h0M353.3 954.3h0M353.8 942.5h0M352.8 940.1h0M353.3 937.6h0M352.9 931.0h0M353.9 929.4h0M353.4 929.4h0M353.6 928.9h0M353.8 926.2h0M353.7 924.9h0M354.6 977.7h0M354.6 968.3h0M354.2 964.6h0M354.8 962.3h0M354.9 962.0h0M354.6 960.1h0M355.0 954.3h0M354.3 953.8h0M354.5 953.6h0M355.3 950.0h0M355.2 936.8h0M355.1 936.2h0M356.1 976.6h0M356.7 974.1h0M356.0 968.7h0M357.1 968.7h0M356.3 967.8h0M356.1 961.8h0M357.0 956.6h0M356.7 953.6h0M356.7 953.6h0M356.9 950.0h0M356.1 947.1h0M356.7 946.0h0M356.1 945.6h0M356.9 944.4h0M356.4 940.8h0M358.8 975.8h0M358.3 974.6h0M359.0 972.2h0M358.0 969.3h0M358.2 966.7h0M358.7 964.8h0M358.4 964.7h0M358.5 963.5h0M358.4 958.0h0M358.1 954.4h0M358.4 953.3h0M358.1 950.4h0M358.4 944.5h0M358.1 942.5h0M359.9 974.4h0M360.7 969.1h0M360.4 967.9h0M360.1 964.4h0M360.8 963.0h0M360.6 959.3h0M360.1 958.9h0M359.9 957.9h0M360.6 954.3h0M360.6 944.5h0M362.2 978.7h0M362.3 971.3h0M362.1 971.3h0M362.4 970.7h0M362.2 968.6h0M362.6 960.9h0M361.7 960.6h0M362.4 956.7h0M362.3 953.1h0M362.2 953.0h0M362.4 946.5h0M361.8 946.4h0M362.3 937.1h0M362.5 936.3h0M364.7 975.7h0M363.9 974.6h0M364.6 969.2h0M363.8 969.2h0M364.9 966.9h0M364.8 964.1h0M364.4 963.8h0M364.1 963.2h0M364.3 962.7h0M364.5 962.6h0M364.8 959.4h0M363.8 955.0h0M364.4 948.4h0M364.3 939.0h0M364.6 938.7h0M364.9 937.9h0M364.8 934.9h0M364.1 932.2h0M364.6 927.7h0M364.1 925.0h0M364.6 922.5h0M363.9 921.3h0M364.5 918.1h0M364.1 917.8h0M365.5 970.2h0M366.4 968.4h0M365.4 964.4h0M366.1 961.0h0M366.2 959.1h0M365.6 957.0h0M365.5 953.5h0M366.4 952.4h0M366.0 949.9h0M366.0 946.1h0M366.0 944.5h0M365.8 944.4h0M366.6 944.3h0M366.1 936.5h0M366.4 935.9h0M366.3 934.8h0M366.1 931.1h0M365.7 926.1h0M366.0 919.1h0M366.4 913.2h0M365.9 911.9h0M365.5 909.9h0M366.2 900.2h0M367.8 961.2h0M367.5 959.4h0M368.0 958.7h0M368.3 957.6h0M368.4 951.2h0M367.8 950.3h0M367.6 950.0h0M367.8 949.7h0M368.1 940.6h0M367.5 939.2h0M367.3 930.9h0M368.2 924.7h0M368.3 924.5h0M367.7 920.8h0M367.9 918.8h0M368.2 916.1h0M367.6 907.6h0M368.1 907.6h0M368.0 903.4h0M367.3 903.1h0M367.6 893.4h0M368.4 890.4h0M368.0 889.3h0M367.9 889.0h0M367.4 882.4h0M370.5 957.6h0M370.0 954.2h0M370.3 949.4h0M370.1 946.6h0M369.7 946.0h0M370.4 944.9h0M369.7 940.4h0M369.4 925.1h0M369.7 924.9h0M370.5 924.6h0M369.8 923.1h0M370.0 916.5h0M369.9 912.9h0M370.5 910.6h0M370.0 909.4h0M369.5 906.9h0M369.9 906.3h0M369.8 900.1h0M370.5 899.8h0M370.4 899.2h0M370.1 899.0h0M369.6 898.3h0M370.2 896.0h0M369.8 893.6h0M370.0 891.3h0M370.5 889.8h0M369.5 888.8h0M369.8 885.2h0M369.4 879.0h0M371.7 967.0h0M371.8 966.2h0M371.9 964.7h0M371.6 963.8h0M371.9 961.6h0M371.5 958.7h0M371.2 958.5h0M371.3 958.0h0M371.8 957.4h0M372.1 956.3h0M371.3 955.5h0M371.2 954.9h0M371.7 951.6h0M372.0 950.7h0M371.5 947.4h0M371.8 944.5h0M371.1 942.7h0M372.2 941.3h0M371.8 939.8h0M372.0 939.5h0M371.5 933.0h0M371.6 931.4h0M371.3 930.4h0M371.9 929.9h0M372.2 927.3h0M372.1 915.4h0M372.0 903.7h0M371.2 903.6h0M373.6 973.2h0M373.3 971.7h0M373.4 969.5h0M374.1 969.2h0M374.2 966.8h0M373.8 965.8h0M374.1 964.9h0M373.9 964.2h0M373.5 961.8h0M373.7 961.6h0M374.1 959.4h0M373.3 958.7h0M374.1 957.6h0M373.9 956.8h0M373.2 956.7h0M373.7 952.9h0M373.7 952.5h0M373.6 943.3h0M373.6 940.4h0M373.2 937.8h0M373.8 929.7h0M373.4 927.9h0M374.2 927.1h0M373.6 919.1h0M373.8 914.6h0M373.1 913.5h0M375.4 977.1h0M375.8 974.6h0M375.3 971.7h0M375.8 971.6h0M375.7 969.8h0M375.7 969.6h0M374.9 967.8h0M374.8 966.3h0M374.9 963.7h0M374.9 960.0h0M375.4 956.3h0M375.8 952.2h0M375.5 950.9h0M375.7 949.1h0M375.6 942.8h0M375.0 939.1h0M375.8 929.1h0M377.4 970.6h0M376.9 966.2h0M377.3 964.7h0M377.0 961.5h0M376.4 954.8h0M376.9 954.8h0M377.4 954.4h0M377.4 954.1h0M376.5 953.1h0M377.2 947.8h0M377.1 945.6h0M377.5 942.0h0M379.0 975.1h0M379.1 968.1h0M378.6 965.9h0M378.3 965.6h0M379.2 963.3h0M378.4 957.1h0M379.1 952.4h0M379.2 950.1h0M378.6 949.3h0M379.0 946.5h0M378.5 944.1h0M378.6 935.6h0M380.2 974.3h0M380.4 971.3h0M380.9 971.3h0M380.4 970.3h0M380.0 961.4h0M380.0 961.2h0M380.8 960.7h0M379.8 958.5h0M380.4 957.5h0M380.1 956.9h0M380.3 949.5h0M380.5 948.5h0M380.4 948.1h0M379.9 944.5h0M380.1 941.6h0M380.5 936.5h0M380.5 927.0h0M380.0 926.1h0M380.7 920.5h0M380.3 920.2h0M380.3 918.5h0M382.1 967.5h0M382.3 965.8h0M381.8 962.8h0M381.8 957.8h0M382.6 956.7h0M382.1 944.5h0M381.7 934.7h0M381.9 923.9h0M382.5 923.8h0M382.5 923.1h0M381.8 923.1h0M381.7 921.3h0M382.0 918.8h0M382.2 913.3h0M382.6 898.8h0M382.7 897.8h0M383.8 962.4h0M383.7 961.7h0M383.9 959.2h0M384.2 955.3h0M383.6 950.4h0M384.1 945.1h0M383.7 942.2h0M383.9 938.6h0M384.2 934.6h0M383.8 934.2h0M383.5 929.7h0M384.1 926.4h0M383.9 922.2h0M384.0 919.9h0M383.6 915.0h0M383.8 912.4h0M383.8 909.0h0M383.7 908.1h0M383.9 899.3h0M384.3 890.2h0M384.1 888.8h0M384.6 888.7h0M383.6 884.0h0M384.1 880.3h0M386.2 955.6h0M386.0 954.7h0M386.2 949.3h0M386.1 949.1h0M386.1 948.3h0M385.7 945.0h0M386.1 938.3h0M386.3 922.8h0M386.0 919.9h0M385.6 916.1h0M385.7 913.7h0M385.4 912.8h0M386.1 906.1h0M385.9 901.5h0M385.8 898.7h0M385.1 894.2h0M386.3 891.7h0M385.7 890.7h0M385.4 890.4h0M385.2 882.7h0M386.1 875.1h0M387.3 958.0h0M387.4 950.1h0M386.9 946.9h0M387.1 946.9h0M387.7 946.6h0M387.9 945.7h0M387.0 942.5h0M387.1 938.9h0M386.8 936.7h0M387.7 931.3h0M387.6 928.6h0M386.9 927.2h0M387.6 926.0h0M386.9 923.3h0M387.3 922.4h0M386.8 922.3h0M386.9 920.3h0M386.9 912.9h0M387.7 908.0h0M387.4 906.6h0M387.5 888.4h0M387.9 886.2h0M387.9 884.9h0M387.2 883.2h0M387.5 881.4h0M387.6 871.3h0M387.9 870.2h0M389.5 954.2h0M388.6 951.2h0M388.9 949.5h0M389.0 946.9h0M389.2 945.1h0M389.6 942.6h0M388.9 941.7h0M388.7 941.1h0M389.6 935.6h0M389.0 935.2h0M389.6 928.1h0M389.7 915.9h0M388.6 914.7h0M389.1 913.7h0M388.8 913.6h0M389.4 911.4h0M388.7 910.8h0M388.6 909.3h0M388.7 908.8h0M389.6 903.0h0M389.5 902.8h0M389.3 895.7h0M389.5 894.3h0M388.6 893.9h0M388.8 881.2h0M389.4 869.7h0M388.7 869.5h0M390.4 954.1h0M390.3 952.4h0M390.8 946.9h0M390.8 943.6h0M391.1 943.4h0M390.7 939.1h0M390.7 936.5h0M390.7 932.3h0M390.7 931.3h0M390.1 930.6h0M391.1 928.3h0M390.3 924.3h0M390.8 922.0h0M390.6 919.2h0M390.9 916.8h0M390.7 909.5h0M390.9 904.0h0M390.4 903.5h0M390.5 902.1h0M390.4 899.5h0M391.0 875.6h0M390.9 873.4h0M392.6 950.2h0M391.8 949.1h0M392.1 944.6h0M392.2 943.4h0M392.7 939.7h0M392.6 932.5h0M392.1 931.9h0M391.9 931.9h0M391.9 930.7h0M391.8 928.7h0M392.1 925.4h0M392.5 924.5h0M391.7 923.2h0M392.5 917.3h0M392.0 910.2h0M392.5 909.1h0M392.8 908.6h0M392.3 904.8h0M392.0 904.6h0M392.8 902.5h0M392.4 901.9h0M392.8 901.6h0M392.6 896.4h0M391.9 890.9h0M391.7 889.7h0M391.7 886.3h0M391.8 885.4h0M392.6 874.3h0M392.8 872.7h0M391.8 871.8h0M392.6 869.4h0M392.6 868.9h0M393.8 953.7h0M394.3 950.4h0M393.9 946.5h0M393.9 945.6h0M394.5 940.3h0M394.5 939.8h0M394.2 939.7h0M394.6 938.9h0M394.5 935.2h0M393.7 934.6h0M394.5 931.6h0M394.7 931.5h0M394.1 924.6h0M394.4 922.3h0M394.4 914.0h0M394.6 911.5h0M393.7 909.1h0M394.2 906.3h0M394.1 904.8h0M394.0 903.9h0M394.7 898.8h0M394.7 896.5h0M394.3 895.9h0M394.6 890.5h0M393.9 888.5h0M394.4 874.8h0M394.1 869.6h0M394.3 869.0h0M394.7 866.3h0M396.3 942.8h0M395.9 940.2h0M396.5 939.9h0M396.4 936.1h0M396.2 935.2h0M396.4 930.7h0M395.7 923.0h0M395.7 918.0h0M396.3 914.6h0M396.1 914.3h0M396.7 910.3h0M396.3 910.0h0M395.8 903.9h0M396.8 895.0h0M395.9 893.2h0M395.9 892.5h0M396.5 890.0h0M398.3 961.8h0M398.0 961.8h0M397.6 961.7h0M397.6 957.3h0M398.1 956.4h0M397.5 954.3h0M398.3 954.0h0M397.6 952.5h0M397.9 950.7h0M397.5 928.4h0M397.6 927.7h0M398.6 924.9h0M397.6 919.4h0M397.9 916.4h0M398.3 901.5h0M397.8 897.1h0M398.1 894.2h0M399.9 967.8h0M400.3 964.1h0M399.8 960.4h0M399.6 956.9h0M399.3 954.1h0M399.5 953.5h0M400.2 952.2h0M400.4 952.1h0M400.5 951.8h0M400.1 942.7h0M400.5 936.5h0M400.4 934.4h0M400.3 934.3h0M400.3 930.4h0M399.4 929.8h0M400.1 926.9h0M399.5 922.3h0M400.5 918.7h0M400.3 917.4h0M401.8 970.1h0M401.3 969.7h0M401.5 968.9h0M401.7 962.7h0M401.9 956.7h0M402.3 949.7h0M401.8 945.6h0M401.9 944.6h0M402.2 943.3h0M402.0 943.1h0M401.8 941.6h0M402.4 938.8h0M401.7 919.6h0M404.0 966.4h0M404.5 962.4h0M404.2 959.6h0M403.5 957.3h0M403.5 955.4h0M404.6 954.7h0M403.5 953.2h0M403.5 951.4h0M403.7 948.3h0M404.1 947.5h0M403.4 938.4h0M404.1 933.4h0M403.9 930.6h0M403.8 930.5h0M403.8 927.1h0M406.0 967.4h0M405.7 965.6h0M405.2 960.4h0M405.1 959.7h0M405.6 957.7h0M406.2 948.5h0M405.7 946.8h0M406.0 946.4h0M405.3 944.0h0M405.1 936.8h0M405.6 936.1h0M405.2 914.5h0M406.0 912.9h0M406.2 910.9h0M405.4 910.8h0M408.1 958.6h0M407.7 958.5h0M407.3 957.8h0M408.0 957.0h0M407.3 954.5h0M407.2 953.5h0M408.0 945.9h0M408.3 943.9h0M407.4 931.7h0M407.3 930.6h0M407.8 927.0h0M408.0 924.3h0M407.5 921.4h0M408.3 917.0h0M407.7 916.8h0M408.0 916.2h0M408.1 913.8h0M408.3 909.0h0M407.8 905.0h0M410.2 965.8h0M410.2 965.6h0M409.9 958.4h0M409.9 950.2h0M409.8 946.2h0M409.2 945.4h0M409.7 941.3h0M409.8 940.8h0M409.4 939.9h0M409.9 933.2h0M410.1 928.6h0M409.7 926.6h0M409.6 924.5h0M410.2 919.1h0M410.0 917.7h0M409.1 916.8h0M410.1 912.2h0M410.3 910.6h0M409.5 905.3h0M410.1 899.0h0M410.2 898.3h0M409.5 895.5h0M409.8 893.2h0M411.3 966.2h0M410.8 960.9h0M410.8 960.5h0M411.4 958.3h0M411.4 957.6h0M410.8 957.5h0M411.8 948.2h0M411.6 948.0h0M411.4 945.8h0M411.6 940.2h0M411.6 931.0h0M410.9 922.5h0M411.2 916.0h0M411.7 905.9h0M411.7 891.0h0M413.3 968.7h0M413.5 966.5h0M413.3 965.3h0M413.1 961.8h0M413.7 958.6h0M413.2 957.3h0M413.6 955.4h0M412.9 954.5h0M413.4 953.1h0M413.8 952.6h0M413.5 950.6h0M412.6 949.0h0M413.3 947.5h0M413.8 947.2h0M413.2 944.5h0M412.9 944.5h0M413.4 943.2h0M413.2 942.6h0M413.3 941.6h0M413.2 937.9h0M413.4 933.4h0M413.4 933.1h0M413.5 930.9h0M413.0 921.3h0M412.9 914.2h0M412.6 910.1h0M413.1 902.8h0M413.2 900.1h0M412.9 898.0h0M413.4 892.5h0M412.9 892.2h0M415.4 960.7h0M414.5 960.3h0M414.8 959.8h0M415.1 958.8h0M414.3 952.8h0M414.4 952.7h0M414.4 951.6h0M414.7 950.0h0M415.4 946.1h0M414.8 934.5h0M414.4 931.1h0M415.3 927.9h0M414.4 920.4h0M415.3 919.7h0M415.2 915.2h0M415.0 914.9h0M415.1 914.8h0M414.6 908.7h0M415.1 908.6h0M417.1 965.5h0M416.6 956.3h0M417.3 955.6h0M416.7 954.0h0M417.0 953.0h0M416.7 941.4h0M416.6 935.4h0M417.1 933.6h0M417.0 922.0h0M417.1 917.7h0M417.3 908.3h0M416.6 905.3h0M416.8 905.2h0M416.1 903.4h0M416.5 882.4h0M418.2 961.0h0M418.6 960.7h0M418.2 956.9h0M418.5 954.6h0M418.2 952.7h0M418.5 950.8h0M418.0 947.0h0M418.0 942.6h0M418.0 939.3h0M418.7 932.2h0M418.0 927.3h0M418.1 925.9h0M417.6 922.7h0M418.7 920.0h0M418.7 919.7h0M418.8 916.7h0M418.4 912.0h0M418.1 906.7h0M418.6 906.2h0M418.5 897.7h0M418.2 896.7h0M418.0 893.5h0M418.1 890.5h0M419.7 956.0h0M419.9 952.0h0M420.2 949.4h0M419.8 945.6h0M419.9 942.3h0M420.1 937.7h0M420.7 934.5h0M419.5 933.5h0M420.1 926.2h0M420.5 922.7h0M419.9 915.0h0M419.9 898.9h0M420.5 893.3h0M420.0 891.2h0M419.9 889.1h0M420.5 886.5h0M420.7 886.2h0M421.8 956.7h0M421.6 954.8h0M422.3 954.0h0M421.9 951.1h0M421.5 948.2h0M421.7 948.2h0M421.5 945.7h0M421.7 943.4h0M422.2 942.5h0M422.2 941.2h0M421.8 937.0h0M422.3 936.9h0M422.0 934.3h0M422.0 930.6h0M421.3 922.8h0M422.1 910.5h0M422.4 908.5h0M422.0 899.4h0M422.1 899.3h0M422.0 897.0h0M421.5 888.9h0M423.1 964.6h0M423.6 963.8h0M423.2 956.3h0M423.4 955.4h0M423.4 952.5h0M423.2 949.3h0M423.7 949.2h0M423.1 945.4h0M423.8 945.3h0M424.1 945.1h0M423.2 941.5h0M423.0 939.9h0M423.4 939.6h0M424.1 933.0h0M423.7 928.3h0M423.6 925.3h0M423.6 921.5h0M424.0 919.6h0M423.5 918.3h0M424.1 914.0h0M423.5 912.3h0M423.2 910.2h0M423.9 908.4h0M423.6 907.6h0M423.7 906.2h0M423.1 899.8h0M423.2 896.7h0M423.8 891.8h0M423.3 890.5h0M423.4 888.6h0M425.6 968.2h0M425.2 960.2h0M425.3 958.8h0M425.4 953.5h0M425.1 951.6h0M425.7 948.1h0M425.9 943.1h0M425.4 938.8h0M425.8 937.8h0M426.2 937.6h0M425.6 933.4h0M425.1 931.8h0M426.0 929.0h0M425.2 928.5h0M425.6 924.3h0M425.5 918.4h0M426.1 902.2h0M425.7 900.3h0M425.6 896.0h0M427.6 971.9h0M427.7 969.9h0M428.0 969.8h0M427.2 968.2h0M427.7 963.0h0M427.9 959.2h0M428.1 956.3h0M427.4 956.2h0M427.8 955.6h0M427.0 954.9h0M427.2 954.4h0M427.5 952.1h0M427.0 950.2h0M427.3 947.8h0M427.1 947.5h0M427.5 947.0h0M427.6 946.4h0M427.9 945.8h0M427.4 939.0h0M428.2 938.8h0M427.8 938.5h0M427.6 933.6h0M427.2 925.5h0M428.1 920.4h0M428.0 910.9h0M427.6 908.2h0M429.8 980.1h0M429.1 979.1h0M429.5 969.3h0M428.8 967.7h0M429.1 966.3h0M429.2 957.5h0M429.0 945.8h0M429.8 945.6h0M429.7 945.3h0M429.1 942.0h0M429.2 935.0h0M431.0 969.2h0M431.4 965.8h0M430.6 962.6h0M431.5 958.8h0M430.7 958.1h0M431.2 957.8h0M431.6 957.5h0M431.7 955.6h0M431.1 950.8h0M431.1 950.0h0M431.6 946.2h0M433.2 974.7h0M433.0 970.2h0M432.4 965.3h0M433.0 956.4h0M432.4 956.1h0M432.6 952.6h0M432.6 942.8h0M432.8 940.0h0M434.6 975.4h0M434.9 967.5h0M434.5 963.5h0M434.2 963.3h0M434.0 960.1h0M434.3 956.9h0M434.9 955.3h0M434.8 949.2h0M434.5 947.1h0M435.0 931.7h0M434.0 927.5h0M436.2 961.7h0M436.5 961.3h0M436.1 944.1h0M436.3 931.8h0M436.3 929.6h0M436.2 920.0h0M435.8 919.7h0M435.8 915.1h0M435.9 914.4h0M435.9 913.8h0M436.2 913.4h0M436.5 912.5h0M436.1 912.0h0M435.6 907.8h0M436.0 903.7h0M435.6 899.4h0M436.4 896.4h0M435.7 891.8h0M436.4 889.7h0M435.9 889.5h0M438.1 951.2h0M437.5 949.6h0M437.2 948.0h0M438.1 947.8h0M437.3 944.0h0M437.2 942.9h0M437.7 941.9h0M437.7 938.0h0M438.3 932.7h0M437.2 930.2h0M437.9 929.8h0M438.2 929.4h0M437.2 929.2h0M437.6 912.9h0M437.8 910.2h0M437.5 909.7h0M438.0 908.2h0M437.9 903.0h0M437.7 902.3h0M437.3 893.4h0M437.8 891.8h0M437.1 871.2h0M437.7 865.8h0M438.1 862.1h0M437.8 861.6h0M438.0 859.7h0M439.7 946.6h0M439.1 938.7h0M439.8 935.5h0M439.9 934.6h0M440.0 933.5h0M440.0 931.0h0M439.8 924.7h0M439.4 923.3h0M439.8 920.6h0M439.9 919.0h0M439.5 918.2h0M439.1 917.7h0M438.9 916.6h0M439.6 914.0h0M439.8 912.3h0M439.7 909.8h0M439.2 909.5h0M439.0 909.4h0M439.0 903.1h0M439.3 899.9h0M439.9 896.0h0M440.0 889.5h0M439.3 876.5h0M439.8 857.6h0M439.2 855.9h0M441.7 937.4h0M441.4 935.0h0M441.4 933.7h0M441.4 930.2h0M441.9 926.7h0M440.9 926.4h0M441.1 918.2h0M441.4 913.2h0M440.9 912.4h0M441.6 910.6h0M440.9 910.5h0M442.0 909.4h0M441.2 905.0h0M441.4 903.3h0M441.2 899.2h0M441.5 897.7h0M441.4 896.8h0M441.5 892.0h0M441.3 891.8h0M441.2 888.8h0M441.6 887.0h0M441.1 885.3h0M441.0 877.6h0M441.0 868.2h0M441.6 864.8h0M441.6 862.4h0M441.3 852.8h0M441.1 852.5h0M443.5 935.2h0M443.0 928.7h0M443.6 927.5h0M443.3 920.9h0M442.9 916.5h0M443.2 913.5h0M443.1 910.0h0M443.1 909.4h0M443.6 905.5h0M443.3 897.9h0M443.7 897.7h0M443.6 896.8h0M443.3 894.6h0M443.0 894.5h0M443.3 889.9h0M443.7 882.7h0M443.9 880.0h0M443.3 880.0h0M442.8 877.3h0M442.9 869.8h0M443.1 866.5h0M443.3 864.6h0M443.0 863.2h0M443.5 858.8h0M443.9 858.5h0M443.0 858.0h0M443.2 856.6h0M443.9 853.8h0M443.5 853.4h0M443.1 849.1h0M443.3 847.2h0M443.7 837.4h0M442.9 834.2h0M443.7 831.9h0M443.2 829.0h0M444.4 925.5h0M445.3 924.0h0M444.9 923.2h0M444.9 922.1h0M444.7 920.7h0M445.1 913.7h0M444.6 895.3h0M444.7 893.4h0M444.7 887.3h0M444.5 883.8h0M444.6 881.4h0M444.7 873.6h0M444.9 863.6h0M444.9 862.2h0M445.1 853.0h0M444.9 846.7h0M444.4 843.2h0M445.0 836.4h0M444.6 832.3h0M444.9 826.6h0M445.4 825.0h0M445.1 818.8h0M445.1 810.9h0M445.4 808.7h0M445.0 797.8h0M446.6 927.6h0M446.1 923.3h0M446.3 921.9h0M446.5 919.4h0M447.1 916.8h0M446.2 915.4h0M447.0 915.4h0M446.6 913.6h0M446.2 913.5h0M447.1 913.5h0M446.4 913.4h0M446.7 911.6h0M446.8 910.9h0M447.2 908.0h0M446.4 907.7h0M446.4 907.4h0M446.1 906.7h0M446.4 902.0h0M447.0 898.1h0M446.1 893.4h0M447.1 890.7h0M446.8 887.7h0M447.0 886.0h0M446.5 883.6h0M446.6 881.5h0M446.8 880.9h0M446.8 875.2h0M446.5 875.1h0M446.2 870.5h0M446.9 868.1h0M446.4 865.6h0M446.9 865.5h0M446.8 864.9h0M446.9 862.4h0M447.2 862.0h0M447.1 857.3h0M446.9 856.6h0M446.9 854.9h0M446.5 850.7h0M446.6 840.1h0M446.9 837.7h0M447.1 837.1h0M447.1 835.6h0M446.2 835.0h0M446.3 831.5h0M446.3 829.2h0M446.9 824.1h0M446.2 819.3h0M446.7 819.1h0M446.9 818.8h0M447.2 815.4h0M446.8 808.1h0M446.6 800.3h0M446.1 798.7h0M446.8 792.9h0M448.3 925.8h0M449.0 925.4h0M448.9 921.5h0M448.4 910.0h0M448.4 909.5h0M448.3 907.6h0M448.1 903.1h0M448.1 892.9h0M448.8 891.9h0M448.7 891.1h0M448.3 890.1h0M448.1 888.2h0M449.0 882.9h0M448.0 874.7h0M448.4 874.7h0M448.5 870.3h0M449.0 859.6h0M448.2 855.6h0M447.9 853.8h0M448.7 852.1h0M448.1 850.7h0M448.9 847.9h0M448.0 844.2h0M448.1 842.1h0M448.3 835.8h0M448.9 833.6h0M448.4 832.2h0M448.2 816.9h0M448.6 813.6h0M448.6 811.8h0M448.8 809.5h0M448.7 805.9h0M448.7 802.1h0M448.0 799.8h0M448.2 797.7h0M448.8 797.7h0M448.4 794.2h0M449.9 926.4h0M450.4 917.2h0M449.7 915.8h0M450.3 914.2h0M450.2 912.5h0M450.2 899.2h0M450.2 897.1h0M450.0 895.1h0M450.5 893.4h0M450.0 880.3h0M449.5 877.7h0M450.5 875.0h0M450.3 874.1h0M450.2 873.2h0M450.1 872.1h0M449.4 867.2h0M450.0 861.1h0M449.7 860.1h0M450.2 857.4h0M449.4 856.7h0M450.1 855.8h0M450.3 853.9h0M449.8 849.4h0M449.5 846.1h0M450.1 842.7h0M450.1 841.7h0M450.5 841.1h0M450.4 838.2h0M449.6 834.0h0M450.1 828.8h0M450.2 826.9h0M450.2 821.2h0M450.5 820.2h0M449.9 810.2h0M450.5 798.7h0M449.6 796.8h0M449.9 795.4h0M449.6 794.7h0M451.6 927.6h0M451.4 926.8h0M450.8 926.2h0M451.2 920.9h0M451.9 919.9h0M451.4 918.7h0M451.3 918.3h0M451.8 912.6h0M451.9 907.8h0M450.9 907.1h0M451.6 906.7h0M451.2 904.5h0M451.1 900.9h0M451.3 898.2h0M451.7 897.7h0M451.7 897.1h0M451.3 892.9h0M451.0 891.1h0M451.6 890.7h0M451.5 889.3h0M451.1 887.9h0M451.7 887.3h0M451.0 885.6h0M451.0 879.3h0M451.0 878.4h0M451.7 875.8h0M451.9 875.7h0M451.8 871.9h0M451.3 870.1h0M451.1 869.8h0M451.1 863.1h0M451.8 855.3h0M451.0 846.4h0M451.8 844.4h0M451.1 843.1h0M451.4 843.0h0M451.0 840.1h0M451.5 838.9h0M451.7 838.2h0M451.3 830.5h0M451.5 829.9h0M450.9 828.6h0M451.5 823.7h0M451.1 822.4h0M451.9 817.2h0M451.5 815.3h0M451.3 814.3h0M451.2 810.6h0M451.4 806.6h0M450.9 806.4h0M451.0 804.0h0M451.5 800.4h0M451.9 795.9h0M451.7 791.5h0M451.8 790.9h0M453.2 925.0h0M453.6 921.7h0M453.3 915.7h0M453.1 907.9h0M453.2 907.8h0M453.6 905.6h0M452.7 904.9h0M452.9 901.2h0M453.3 895.8h0M453.3 895.4h0M452.9 891.0h0M452.7 881.7h0M453.4 881.2h0M453.4 877.8h0M452.9 869.7h0M453.3 869.6h0M453.1 868.1h0M453.7 866.5h0M453.5 865.4h0M453.0 862.6h0M453.0 854.5h0M452.9 853.3h0M453.5 849.1h0M452.8 847.5h0M453.1 844.3h0M453.4 841.4h0M452.7 841.4h0M453.7 835.1h0M452.9 834.7h0M453.7 832.6h0M453.8 831.2h0M453.7 830.9h0M453.4 830.6h0M453.5 816.8h0M453.1 806.7h0M453.7 793.1h0M453.6 791.6h0M454.9 918.6h0M454.8 911.9h0M454.4 910.3h0M455.3 909.4h0M455.3 908.6h0M454.9 904.1h0M454.3 903.1h0M455.2 902.8h0M455.4 893.8h0M455.4 892.8h0M454.7 891.1h0M455.2 884.1h0M454.6 880.6h0M454.5 880.3h0M454.5 879.3h0M454.6 876.7h0M455.3 876.0h0M454.3 874.5h0M454.9 874.5h0M454.9 874.4h0M454.8 874.3h0M454.9 871.3h0M455.3 870.5h0M455.2 859.0h0M455.4 850.0h0M454.9 848.4h0M455.2 846.5h0M454.5 845.9h0M454.9 843.8h0M454.7 826.9h0M454.7 826.9h0M454.4 818.7h0M455.0 815.7h0M454.6 808.2h0M455.4 804.2h0M454.9 788.4h0M455.0 786.4h0M456.5 919.5h0M456.8 919.2h0M456.5 918.7h0M456.6 917.8h0M457.3 916.4h0M456.8 914.4h0M456.8 913.0h0M456.8 908.5h0M456.6 906.5h0M456.4 905.9h0M456.5 905.7h0M456.7 905.5h0M456.3 903.2h0M456.7 899.2h0M456.7 896.5h0M457.0 891.9h0M456.8 891.6h0M457.1 890.7h0M456.4 889.3h0M457.4 889.2h0M456.5 888.8h0M456.2 881.0h0M456.7 879.4h0M457.1 875.9h0M456.6 864.5h0M456.4 864.2h0M456.5 864.2h0M457.3 861.1h0M456.5 860.7h0M456.9 853.5h0M456.3 851.8h0M456.4 851.6h0M456.2 848.3h0M457.2 845.9h0M456.5 845.8h0M456.9 844.0h0M457.0 839.3h0M456.6 837.2h0M456.7 833.6h0M456.8 823.8h0M457.0 820.3h0M456.8 817.7h0M456.9 813.3h0M456.5 786.5h0M457.3 783.2h0M458.5 888.7h0M458.5 887.2h0M458.6 886.5h0M458.1 884.2h0M458.9 881.3h0M458.3 880.8h0M458.6 880.7h0M458.5 877.7h0M458.7 875.3h0M458.1 875.2h0M459.1 873.3h0M458.6 869.9h0M458.2 869.1h0M458.9 866.3h0M458.1 864.9h0M458.9 864.1h0M458.5 860.0h0M458.5 854.0h0M458.3 853.9h0M458.9 847.8h0M458.4 847.5h0M458.6 846.1h0M459.1 846.0h0M458.3 843.9h0M458.7 843.8h0M458.9 836.1h0M459.1 830.5h0M458.1 827.3h0M458.7 826.2h0M458.3 824.7h0M459.1 824.5h0M458.4 821.2h0M459.1 819.4h0M458.8 818.9h0M459.1 818.1h0M459.2 813.3h0M458.6 811.9h0M458.4 810.7h0M459.2 801.5h0M459.1 785.8h0M458.8 783.6h0M458.5 776.1h0M459.0 768.0h0M458.4 766.9h0M458.2 763.1h0M458.2 762.1h0M459.1 761.8h0M459.0 741.9h0M458.9 739.5h0M458.5 735.5h0M458.2 732.9h0M458.4 731.9h0M458.8 730.4h0M458.3 729.4h0M459.0 722.1h0M459.0 712.4h0M458.6 711.6h0M459.0 705.0h0M458.6 704.1h0M460.2 881.4h0M459.9 879.4h0M460.4 879.2h0M460.0 875.3h0M460.5 871.4h0M460.4 868.2h0M459.5 859.1h0M460.0 851.4h0M460.3 847.2h0M460.2 847.0h0M460.3 846.7h0M459.9 845.5h0M460.4 844.7h0M459.8 841.8h0M459.7 838.1h0M460.2 833.5h0M460.2 829.4h0M460.3 817.4h0M460.2 815.6h0M459.8 813.1h0M460.4 812.1h0M460.6 807.1h0M460.1 803.7h0M460.3 802.2h0M460.6 799.1h0M459.9 795.0h0M459.5 794.1h0M460.0 789.5h0M459.5 788.0h0M460.5 785.9h0M460.4 785.0h0M460.3 780.6h0M459.8 777.9h0M460.2 774.4h0M460.1 763.9h0M460.6 762.5h0M459.9 759.4h0M459.6 756.1h0M460.5 755.4h0M460.4 753.4h0M460.0 752.7h0M460.4 751.8h0M459.9 748.9h0M459.7 747.3h0M460.3 746.5h0M459.6 745.3h0M460.0 743.8h0M459.9 729.3h0M460.6 727.6h0M460.0 723.4h0M459.7 721.6h0M460.0 721.1h0M459.6 717.6h0M459.7 715.4h0M459.9 712.3h0M460.4 708.5h0M459.9 706.7h0M459.7 706.4h0M460.4 703.1h0M460.6 702.5h0M459.9 694.0h0M460.3 691.2h0M459.9 689.8h0M461.4 880.2h0M461.6 878.5h0M461.9 878.0h0M461.9 874.8h0M462.1 873.0h0M462.4 871.5h0M461.3 870.8h0M462.1 868.6h0M461.7 867.3h0M461.5 866.2h0M462.3 862.0h0M461.9 861.1h0M461.4 859.4h0M461.9 855.8h0M462.3 843.0h0M461.6 836.5h0M462.2 836.2h0M462.1 835.9h0M462.1 835.3h0M461.4 835.2h0M461.9 829.5h0M462.4 827.8h0M461.5 823.4h0M461.7 819.9h0M461.6 818.1h0M461.6 817.4h0M461.5 816.5h0M461.7 810.5h0M462.2 808.1h0M461.4 804.7h0M462.4 795.7h0M461.6 790.3h0M462.0 784.9h0M461.7 784.8h0M461.9 781.2h0M462.2 772.1h0M462.4 766.5h0M462.3 765.2h0M462.2 765.2h0M461.9 764.9h0M461.3 763.1h0M462.2 759.9h0M461.5 759.1h0M461.9 754.4h0M461.6 754.3h0M461.6 745.1h0M461.8 744.0h0M462.2 736.9h0M462.1 735.3h0M461.3 735.2h0M462.0 733.7h0M461.3 733.2h0M461.5 726.8h0M461.4 726.6h0M461.6 726.4h0M462.0 723.5h0M461.9 722.3h0M461.9 721.0h0M462.0 720.6h0M462.4 720.6h0M461.9 719.8h0M461.8 719.1h0M462.0 718.0h0M462.3 712.9h0M461.8 700.3h0M461.7 697.5h0M461.9 696.3h0M463.6 882.4h0M463.1 880.6h0M462.7 879.0h0M463.8 878.7h0M463.2 878.5h0M462.8 875.6h0M463.0 868.4h0M463.3 859.6h0M463.5 857.2h0M463.3 857.0h0M463.7 853.2h0M463.6 849.6h0M463.2 849.2h0M462.8 847.2h0M462.9 843.2h0M463.1 840.9h0M463.9 840.4h0M463.6 837.7h0M463.4 835.1h0M462.8 829.3h0M463.0 827.9h0M463.2 825.3h0M463.0 818.1h0M463.8 817.2h0M463.2 813.5h0M463.6 812.1h0M463.6 811.7h0M463.7 810.9h0M463.8 810.7h0M462.8 804.9h0M463.8 804.4h0M463.1 799.4h0M463.4 794.6h0M463.6 793.7h0M462.9 792.1h0M463.6 786.4h0M463.2 785.5h0M463.2 782.1h0M463.4 781.1h0M462.8 772.0h0M463.3 771.1h0M463.9 758.1h0M463.5 758.0h0M463.0 757.6h0M463.3 757.1h0M463.9 741.1h0M463.8 739.6h0M462.8 735.8h0M463.1 728.1h0M462.9 715.3h0M463.3 707.4h0M463.0 704.9h0M463.6 702.6h0M463.9 699.8h0M463.8 697.1h0M463.6 696.6h0M463.8 693.4h0M463.3 691.9h0M465.1 879.9h0M464.4 878.1h0M464.9 874.3h0M464.8 873.6h0M465.4 873.2h0M465.5 868.9h0M464.6 865.9h0M465.6 864.4h0M464.8 864.4h0M464.6 864.0h0M465.1 863.1h0M465.4 862.9h0M464.6 861.4h0M465.0 861.1h0M465.0 859.9h0M464.8 859.6h0M464.5 857.7h0M465.4 855.8h0M464.5 853.3h0M464.5 850.6h0M464.4 850.2h0M464.6 848.1h0M464.5 847.2h0M464.5 840.9h0M465.3 837.8h0M465.1 836.1h0M465.3 835.0h0M464.5 831.7h0M464.5 828.2h0M464.6 826.4h0M465.1 824.5h0M464.7 820.7h0M464.9 820.5h0M465.0 813.4h0M465.3 810.6h0M465.5 807.6h0M465.2 798.5h0M464.5 793.6h0M465.2 792.7h0M465.4 790.1h0M464.8 785.6h0M465.1 785.0h0M465.0 784.7h0M464.8 783.7h0M465.1 780.4h0M464.4 777.5h0M465.2 770.6h0M465.1 763.2h0M465.4 759.9h0M465.1 755.5h0M464.4 755.4h0M465.4 751.4h0M464.6 749.8h0M465.4 747.9h0M464.5 743.4h0M464.6 742.6h0M464.7 738.1h0M464.9 730.9h0M464.9 730.2h0M465.4 729.7h0M464.9 729.6h0M464.4 728.0h0M465.5 727.2h0M464.9 720.6h0M465.4 713.6h0M465.2 706.9h0M465.0 704.0h0M465.1 699.6h0M466.3 909.5h0M466.6 908.2h0M466.2 898.8h0M466.7 893.6h0M466.3 886.5h0M467.0 883.4h0M466.8 877.2h0M466.7 871.9h0M466.2 869.4h0M467.1 867.2h0M466.0 858.4h0M466.2 857.3h0M466.1 851.5h0M466.2 846.9h0M467.1 845.5h0M466.6 845.1h0M466.8 844.0h0M466.7 843.8h0M467.1 842.8h0M466.7 841.5h0M467.1 841.4h0M467.0 838.1h0M466.0 833.6h0M466.4 828.9h0M467.0 828.2h0M466.3 824.4h0M466.7 824.1h0M466.2 823.9h0M466.1 823.7h0M466.2 818.9h0M466.3 803.5h0M466.8 797.4h0M466.7 793.4h0M466.9 792.8h0M466.6 782.6h0M466.0 781.7h0M467.1 780.5h0M466.3 778.9h0M466.0 775.7h0M466.9 769.0h0M466.0 767.4h0M469.1 923.8h0M468.0 921.1h0M468.8 910.5h0M469.0 910.0h0M468.7 907.5h0M468.2 907.4h0M468.0 903.0h0M468.0 902.4h0M468.1 899.9h0M468.5 895.5h0M469.0 891.0h0M468.2 880.5h0M468.9 879.1h0M469.1 877.8h0M468.7 876.5h0M468.8 875.6h0M468.5 874.6h0M468.9 870.5h0M468.2 870.0h0M468.9 869.3h0M468.8 865.6h0M468.2 860.2h0M468.0 857.9h0M468.7 856.5h0M468.9 855.4h0M468.5 854.6h0M468.2 850.7h0M468.4 846.8h0M468.1 846.7h0M468.9 842.9h0M469.0 838.8h0M468.9 834.7h0M468.7 827.9h0M468.1 824.9h0M468.1 823.9h0M468.4 823.4h0M468.6 822.0h0M468.3 815.0h0M469.0 805.6h0M468.7 804.7h0M468.0 803.7h0M468.2 802.6h0M468.0 802.6h0M469.0 795.2h0M470.3 925.8h0M469.8 923.8h0M469.6 923.4h0M470.5 920.1h0M469.7 920.0h0M469.8 918.0h0M470.0 916.2h0M469.6 915.3h0M470.4 913.8h0M470.1 913.4h0M470.1 908.8h0M470.6 907.6h0M470.6 903.4h0M470.0 902.3h0M470.5 900.6h0M470.1 897.8h0M470.5 895.7h0M469.6 894.4h0M469.7 893.9h0M470.6 893.6h0M470.4 891.1h0M470.1 889.3h0M470.5 888.6h0M469.9 886.9h0M470.5 882.8h0M470.0 864.2h0M470.4 862.4h0M469.7 860.5h0M469.8 858.3h0M470.4 857.3h0M470.2 855.8h0M469.6 854.5h0M470.4 849.2h0M470.2 844.8h0M470.0 844.1h0M470.4 837.6h0M470.2 834.2h0M469.5 833.5h0M469.5 826.2h0M469.9 825.0h0M470.3 820.2h0M470.6 811.8h0M469.7 810.5h0M469.8 809.9h0M470.6 809.4h0M470.0 805.7h0M470.5 805.4h0M470.4 804.1h0M469.8 803.1h0M470.1 802.4h0M470.1 800.9h0M469.7 795.1h0M470.1 794.4h0M470.0 792.0h0M471.8 924.6h0M471.8 921.5h0M471.2 919.6h0M471.6 912.9h0M471.3 911.2h0M472.2 909.9h0M472.0 908.5h0M471.7 908.1h0M471.3 907.2h0M471.5 906.2h0M471.5 903.2h0M471.2 897.6h0M471.5 891.9h0M471.5 887.2h0M472.1 886.3h0M471.9 883.2h0M471.9 880.9h0M471.9 871.1h0M471.4 859.8h0M472.1 858.6h0M472.1 852.4h0M471.5 850.4h0M471.2 839.9h0M471.2 839.3h0M471.5 837.9h0M471.6 836.1h0M471.4 835.9h0M471.1 833.2h0M472.1 830.7h0M472.1 826.6h0M471.6 818.7h0M471.1 818.6h0M472.0 815.1h0M471.2 813.4h0M471.6 807.3h0M471.2 804.5h0M471.7 800.8h0M472.1 795.1h0M472.0 794.8h0M471.5 792.9h0M472.0 790.9h0M473.0 927.1h0M472.5 925.5h0M473.6 925.1h0M473.7 923.1h0M473.6 921.0h0M473.0 917.8h0M472.7 917.7h0M473.3 913.4h0M472.7 912.4h0M473.6 909.6h0M473.7 908.8h0M472.7 906.7h0M473.3 906.1h0M472.7 898.7h0M472.7 897.9h0M472.8 897.2h0M472.8 895.7h0M472.8 892.5h0M473.0 891.6h0M472.6 891.0h0M472.5 890.7h0M472.6 887.4h0M473.6 885.4h0M472.9 882.5h0M473.0 881.0h0M472.6 879.8h0M472.7 879.2h0M472.9 878.5h0M473.2 878.2h0M473.1 877.5h0M473.1 873.8h0M473.4 869.5h0M472.7 867.6h0M473.3 867.5h0M472.8 866.0h0M472.7 865.7h0M473.1 858.4h0M473.5 852.1h0M472.8 851.1h0M472.8 843.6h0M473.6 840.3h0M473.0 838.0h0M473.5 826.5h0M473.3 816.4h0M472.6 815.3h0M473.6 815.2h0M473.6 812.1h0M472.8 799.0h0M475.3 926.6h0M474.6 919.2h0M475.1 917.4h0M475.2 913.0h0M474.4 911.7h0M475.3 909.7h0M475.2 907.1h0M474.7 906.5h0M474.8 899.4h0M475.1 894.9h0M475.0 893.2h0M474.7 889.7h0M475.1 887.5h0M475.3 881.1h0M474.9 879.7h0M475.2 877.2h0M474.7 876.3h0M475.1 875.4h0M474.1 871.5h0M474.3 871.1h0M475.1 868.3h0M474.2 866.9h0M474.9 864.0h0M474.5 862.2h0M474.4 860.8h0M474.6 855.2h0M474.8 850.9h0M474.5 850.0h0M475.2 846.2h0M474.3 837.3h0M474.3 836.2h0M474.6 835.5h0M475.2 830.8h0M474.3 827.4h0M474.3 825.6h0M474.8 824.3h0M474.3 821.6h0M475.2 820.3h0M474.9 816.4h0M474.5 814.8h0M474.1 808.9h0M475.3 804.5h0M474.2 800.1h0M475.1 800.0h0M474.6 799.1h0M474.9 794.4h0M474.9 792.9h0M477.0 925.7h0M477.1 921.6h0M476.7 920.9h0M476.0 920.2h0M477.0 919.1h0M476.3 918.1h0M477.1 911.0h0M476.3 907.0h0M476.0 902.1h0M476.0 902.1h0M476.2 900.9h0M476.4 895.2h0M476.5 889.6h0M476.3 888.2h0M476.5 888.0h0M477.1 878.8h0M476.0 870.3h0M476.9 868.4h0M476.0 867.8h0M476.0 867.1h0M476.8 862.6h0M476.0 847.5h0M476.9 843.1h0M476.0 842.4h0M476.9 827.9h0M476.1 827.6h0M476.1 823.3h0M476.1 821.0h0M476.5 820.6h0M476.9 817.3h0M476.3 817.3h0M476.6 817.0h0M476.3 816.2h0M476.7 801.5h0M476.6 796.4h0M476.7 795.3h0M477.7 933.7h0M478.4 930.8h0M477.6 930.4h0M477.7 928.5h0M478.6 926.6h0M477.9 926.5h0M477.6 925.9h0M478.5 923.5h0M478.1 921.7h0M478.4 918.4h0M477.8 908.8h0M478.5 908.2h0M478.5 905.5h0M478.4 905.0h0M477.6 904.6h0M477.8 904.3h0M478.2 902.7h0M477.9 894.3h0M477.9 891.6h0M477.7 890.0h0M477.7 890.0h0M478.4 885.9h0M477.9 882.1h0M477.6 880.3h0M478.6 879.4h0M477.9 876.4h0M478.0 873.8h0M477.9 872.6h0M478.5 870.6h0M477.8 862.8h0M477.7 860.5h0M477.6 849.1h0M477.4 846.5h0M478.0 843.9h0M477.6 843.9h0M478.0 841.0h0M477.5 839.5h0M477.8 837.8h0M478.1 837.4h0M478.1 836.3h0M477.4 830.9h0M478.2 827.8h0M478.2 817.5h0M480.4 935.8h0M480.4 935.7h0M480.0 934.5h0M479.5 930.2h0M479.3 928.4h0M480.5 928.3h0M479.8 927.6h0M480.4 927.2h0M480.4 925.3h0M479.9 924.4h0M480.0 923.6h0M480.0 920.2h0M479.7 917.7h0M479.4 908.9h0M480.1 908.3h0M480.3 897.5h0M480.5 896.6h0M480.0 894.6h0M480.1 891.2h0M480.4 884.3h0M480.4 883.0h0M480.2 881.7h0M480.1 881.1h0M480.5 879.8h0M479.8 876.0h0M479.5 864.2h0M480.1 858.9h0M479.9 858.8h0M480.5 858.3h0M480.1 857.9h0M479.5 854.8h0M480.0 843.6h0M479.6 839.3h0M479.7 838.5h0M479.6 838.3h0M479.8 835.2h0M479.5 828.4h0M480.0 827.2h0M479.7 821.4h0M479.5 820.1h0M481.5 932.5h0M481.3 928.9h0M482.2 928.8h0M481.4 922.2h0M481.6 921.3h0M482.0 920.6h0M481.9 914.6h0M482.1 913.2h0M481.3 905.2h0M481.2 901.9h0M482.0 888.9h0M481.9 887.2h0M481.1 886.0h0M481.1 883.7h0M482.1 881.6h0M481.4 878.7h0M481.7 877.9h0M482.1 875.4h0M481.6 874.8h0M481.5 872.7h0M481.5 872.0h0M481.3 869.2h0M481.7 867.8h0M481.6 857.4h0M481.1 855.8h0M481.5 852.9h0M481.6 852.4h0M481.5 848.5h0M481.8 843.0h0M481.1 842.8h0M481.8 839.6h0M481.3 836.0h0M481.9 834.1h0M481.7 831.7h0M481.8 830.5h0M481.0 827.5h0M482.0 820.7h0M483.7 923.3h0M483.3 922.3h0M484.0 919.8h0M483.3 915.8h0M483.9 915.2h0M484.2 914.8h0M483.9 907.6h0M483.8 906.7h0M483.6 902.5h0M483.9 899.5h0M484.1 892.4h0M483.8 889.0h0M483.9 882.1h0M483.5 878.4h0M483.8 878.0h0M484.3 877.2h0M484.2 876.4h0M483.4 875.0h0M483.5 872.1h0M483.9 855.0h0M483.5 854.6h0M483.8 854.1h0M483.5 851.3h0M483.7 847.1h0M484.0 840.4h0M484.2 839.2h0M483.4 839.1h0M484.3 838.9h0M484.2 835.8h0M483.3 816.5h0M483.2 805.4h0M486.1 916.3h0M485.5 914.5h0M485.3 914.0h0M485.8 911.9h0M485.8 911.3h0M485.5 911.1h0M485.4 908.0h0M485.3 906.0h0M485.4 899.9h0M486.3 892.2h0M485.5 882.2h0M485.3 878.6h0M486.0 867.1h0M485.3 867.0h0M485.6 866.6h0M486.1 857.2h0M486.1 855.8h0M485.8 855.8h0M485.3 854.0h0M486.0 844.8h0M485.9 824.0h0M485.3 819.7h0M486.2 816.8h0M485.9 813.0h0M485.6 810.1h0M485.4 810.1h0M485.3 809.1h0M486.1 808.8h0M488.1 924.0h0M487.5 923.3h0M487.4 921.3h0M488.0 920.5h0M488.3 916.3h0M487.5 913.4h0M487.8 911.7h0M488.2 909.2h0M488.3 906.8h0M487.7 905.0h0M487.5 904.9h0M487.1 903.0h0M487.3 901.3h0M488.2 900.4h0M487.3 893.2h0M487.7 890.5h0M487.5 890.4h0M487.6 888.0h0M487.2 885.4h0M487.8 882.4h0M487.8 881.8h0M488.2 873.1h0M487.7 869.9h0M487.7 865.2h0M487.6 861.0h0M488.0 858.1h0M487.8 854.9h0M487.5 853.2h0M487.6 849.2h0M487.6 847.0h0M487.9 845.7h0M487.3 837.6h0M487.8 833.3h0M487.9 829.1h0M487.1 826.9h0M487.7 824.9h0M488.2 820.5h0M487.9 815.7h0M488.1 813.6h0M488.2 813.0h0M487.7 809.8h0M487.8 804.0h0M488.9 925.6h0M489.8 924.9h0M489.0 922.9h0M488.9 921.7h0M488.8 920.9h0M489.5 910.8h0M488.8 909.5h0M489.7 899.0h0M489.7 898.7h0M489.8 896.3h0M489.2 894.6h0M489.3 894.5h0M489.7 893.7h0M489.7 892.9h0M489.6 891.7h0M489.8 887.8h0M489.1 885.2h0M488.9 884.2h0M489.0 883.9h0M489.6 882.6h0M489.2 882.6h0M488.8 880.3h0M488.9 876.5h0M488.8 872.0h0M489.0 864.9h0M488.8 864.5h0M488.8 863.7h0M489.8 862.4h0M489.1 860.7h0M488.7 855.7h0M489.7 855.4h0M488.9 853.9h0M489.5 853.2h0M489.1 839.0h0M489.2 833.9h0M489.0 833.0h0M488.9 831.2h0M488.8 824.5h0M489.5 822.3h0M489.8 822.1h0M489.4 817.8h0M488.9 816.8h0M489.8 808.1h0M489.6 808.0h0M488.7 806.9h0M488.8 802.3h0M490.7 929.2h0M490.8 926.0h0M490.9 924.7h0M491.3 924.5h0M491.8 923.5h0M491.6 917.1h0M491.5 915.1h0M491.3 913.9h0M491.2 911.7h0M491.7 910.0h0M491.6 896.9h0M491.1 890.9h0M491.0 890.7h0M491.6 888.5h0M491.8 884.2h0M491.0 879.3h0M491.3 879.1h0M491.7 877.8h0M491.3 869.8h0M491.6 864.5h0M491.2 861.9h0M491.6 850.6h0M491.9 847.3h0M491.6 846.7h0M491.1 843.4h0M491.4 842.9h0M490.9 834.5h0M491.9 824.6h0M491.4 823.6h0M491.1 820.5h0M491.0 819.9h0M493.3 936.1h0M493.2 935.9h0M493.9 933.6h0M493.5 933.4h0M493.9 933.3h0M493.6 932.7h0M493.0 930.0h0M493.2 928.3h0M493.2 927.8h0M493.6 927.6h0M493.4 917.9h0M493.4 916.4h0M493.6 915.9h0M492.9 912.5h0M492.9 911.1h0M492.8 907.6h0M492.8 901.4h0M493.0 895.8h0M493.6 893.4h0M493.8 884.4h0M493.6 883.9h0M492.9 882.0h0M493.9 879.8h0M493.6 879.8h0M493.8 877.1h0M493.0 874.8h0M492.9 868.0h0M493.1 863.7h0M492.9 863.5h0M492.9 856.3h0M492.9 846.3h0M492.8 835.2h0M493.4 830.2h0M493.8 825.9h0M493.9 824.7h0M493.7 820.5h0M493.9 819.0h0M495.6 928.9h0M495.4 925.0h0M495.5 924.5h0M494.6 921.0h0M494.6 920.8h0M495.4 920.1h0M495.3 915.8h0M495.6 914.5h0M494.8 914.0h0M494.8 912.3h0M495.5 908.3h0M494.9 904.1h0M494.9 901.4h0M495.2 898.9h0M495.5 898.4h0M495.4 893.0h0M494.8 892.7h0M495.5 888.1h0M495.6 884.8h0M494.8 882.9h0M494.9 880.6h0M495.5 878.9h0M495.4 877.5h0M494.5 874.3h0M495.6 871.7h0M495.5 867.8h0M495.7 863.9h0M495.0 863.7h0M495.4 862.8h0M495.3 861.5h0M494.5 857.2h0M494.9 853.3h0M495.3 852.1h0M494.8 847.9h0M494.6 842.4h0M495.6 842.2h0M495.6 830.2h0M497.1 947.5h0M497.6 939.9h0M496.7 938.3h0M497.0 936.1h0M497.6 931.5h0M496.6 928.7h0M496.6 926.5h0M497.5 924.2h0M497.0 920.9h0M497.6 920.3h0M497.1 914.1h0M497.3 913.9h0M497.0 912.3h0M496.8 910.8h0M497.3 910.3h0M497.0 907.9h0M497.1 903.4h0M496.8 902.8h0M497.3 900.0h0M497.4 896.6h0M497.4 895.0h0M496.8 891.9h0M497.2 891.4h0M497.6 884.6h0M497.5 878.2h0M496.8 874.6h0M497.5 873.2h0M497.1 871.9h0M496.5 868.6h0M496.7 868.1h0M497.4 861.3h0M496.7 860.9h0M496.7 841.4h0M499.2 955.0h0M499.5 954.9h0M498.9 954.0h0M499.0 952.0h0M498.4 949.7h0M499.0 944.3h0M499.0 944.0h0M498.9 943.4h0M499.3 939.8h0M498.7 939.3h0M499.1 929.1h0M499.1 928.5h0M498.4 927.6h0M498.5 924.2h0M499.2 923.7h0M498.4 912.7h0M498.5 907.8h0M498.4 907.6h0M499.2 907.6h0M498.4 898.9h0M498.4 898.3h0M498.7 896.2h0M499.3 895.4h0M499.1 895.0h0M499.1 894.3h0M498.6 893.8h0M498.7 875.5h0M499.1 872.7h0M501.0 963.4h0M500.6 961.1h0M500.3 956.4h0M500.8 954.2h0M501.1 947.1h0M500.6 946.3h0M500.6 943.6h0M501.4 943.4h0M500.4 941.5h0M500.2 941.0h0M500.4 933.5h0M501.3 930.8h0M500.9 925.9h0M501.0 924.7h0M500.4 919.0h0M500.7 918.0h0M501.3 914.6h0M500.5 911.2h0M500.4 906.1h0M500.2 905.6h0M500.9 902.1h0M500.8 899.4h0M500.4 898.5h0M500.7 894.6h0M501.3 891.4h0M501.1 888.3h0M500.8 888.0h0M500.4 887.7h0M500.6 886.7h0M501.3 885.8h0M500.5 884.0h0M500.6 883.6h0M503.0 981.5h0M502.2 979.9h0M503.0 979.2h0M502.2 979.1h0M502.8 976.4h0M502.8 974.6h0M502.7 973.1h0M502.5 973.0h0M502.7 962.4h0M502.8 961.1h0M502.6 948.8h0M503.0 946.7h0M502.3 939.2h0M502.4 934.4h0M503.0 932.3h0M503.1 930.1h0M504.1 978.1h0M505.1 972.9h0M504.6 971.1h0M504.5 961.2h0M504.2 960.0h0M505.0 952.2h0M505.0 949.7h0M504.9 943.5h0M504.9 943.1h0M504.7 935.5h0M504.9 933.3h0M504.4 932.4h0M505.3 927.6h0M504.9 927.1h0M504.1 924.0h0M504.4 923.2h0M504.2 917.6h0M506.6 972.9h0M506.6 970.5h0M506.4 968.0h0M506.8 967.3h0M506.8 961.6h0M507.1 958.5h0M506.7 957.7h0M506.8 952.5h0M506.6 952.5h0M506.2 947.3h0M507.1 945.7h0M506.6 943.7h0M507.0 940.7h0M507.0 938.6h0M506.5 934.4h0M506.3 931.0h0M506.6 930.8h0M506.3 930.6h0M507.1 923.7h0M506.2 922.8h0M506.5 921.1h0M506.9 920.4h0M506.6 919.7h0M506.7 918.4h0M506.6 917.9h0M506.0 909.9h0M506.1 908.9h0M506.8 900.3h0M508.9 967.8h0M508.1 965.4h0M508.3 965.2h0M509.1 957.3h0M508.1 956.3h0M508.3 953.4h0M509.2 946.9h0M509.0 942.2h0M509.1 937.4h0M508.9 935.8h0M508.9 935.8h0M509.2 933.8h0M508.6 928.6h0M508.8 924.2h0M508.1 920.7h0M508.4 919.7h0M509.2 915.0h0M509.0 911.0h0M508.2 906.8h0M508.8 905.5h0M508.6 899.2h0M508.5 893.6h0M508.3 891.7h0M510.3 966.6h0M510.3 959.1h0M510.7 959.0h0M510.9 957.7h0M510.4 954.5h0M510.7 951.4h0M510.1 950.2h0M510.6 947.0h0M510.1 946.8h0M510.0 945.1h0M510.4 942.7h0M510.8 941.6h0M510.0 937.3h0M511.1 934.3h0M511.1 931.1h0M510.2 930.1h0M510.2 928.7h0M510.2 928.1h0M510.9 925.6h0M510.0 920.1h0M510.7 914.5h0M509.9 913.2h0M510.1 905.1h0M510.3 903.7h0M511.0 896.4h0M512.0 969.1h0M512.1 968.4h0M512.1 968.1h0M512.0 967.1h0M513.0 966.1h0M512.6 965.4h0M512.0 960.2h0M512.6 956.5h0M513.0 956.4h0M512.1 951.8h0M512.7 942.0h0M512.2 938.7h0M512.8 938.6h0M512.2 934.4h0M512.7 934.3h0M512.4 933.0h0M512.6 925.9h0M512.8 925.4h0M512.6 920.6h0M512.5 908.5h0M512.0 903.7h0M512.3 902.0h0M512.6 899.3h0M512.8 898.7h0M512.3 898.4h0M513.6 969.6h0M514.5 965.9h0M513.9 965.7h0M514.3 963.5h0M514.4 962.9h0M514.4 960.3h0M514.2 951.9h0M513.8 948.5h0M513.9 947.6h0M514.1 942.4h0M514.5 941.3h0M514.6 938.9h0M514.3 935.3h0M514.6 933.9h0M514.2 931.6h0M514.1 929.7h0M513.9 929.0h0M514.3 927.0h0M513.7 926.4h0M514.0 922.5h0M513.4 914.1h0M514.4 911.6h0M513.8 905.4h0M513.9 901.9h0M513.5 901.9h0M514.5 900.6h0M513.8 899.5h0M515.8 967.8h0M516.3 967.8h0M515.7 966.5h0M516.0 965.9h0M515.8 965.5h0M515.6 965.2h0M515.8 963.2h0M516.4 962.9h0M515.9 962.7h0M515.4 961.7h0M515.9 960.8h0M515.7 957.5h0M516.4 956.2h0M515.9 953.3h0M516.3 952.6h0M515.7 944.7h0M515.8 938.7h0M515.4 936.6h0M515.7 935.6h0M516.4 934.9h0M515.7 924.6h0M515.7 918.5h0M515.6 915.0h0M516.0 905.2h0M516.3 901.1h0M516.0 897.5h0M518.3 966.3h0M517.2 963.9h0M517.8 963.4h0M518.3 961.4h0M517.2 955.0h0M518.3 950.4h0M518.3 946.3h0M517.9 944.8h0M518.1 941.3h0M518.1 937.3h0M518.1 935.9h0M518.3 932.9h0M517.9 931.6h0M518.1 924.8h0M517.3 920.4h0M517.5 919.8h0M517.2 915.8h0M517.3 911.5h0M517.5 910.6h0M518.0 907.2h0M517.4 894.4h0M518.2 894.0h0M519.7 965.0h0M519.8 964.3h0M520.3 963.4h0M519.5 957.4h0M520.4 934.1h0M520.3 932.5h0M520.1 922.7h0M520.0 921.1h0M519.7 915.6h0M519.4 913.1h0M520.2 912.4h0M520.1 910.9h0M520.1 908.6h0M519.4 907.2h0M519.6 902.5h0M519.8 901.5h0M520.3 898.4h0M519.8 892.8h0M520.0 889.8h0M519.6 889.1h0M521.6 960.3h0M521.4 959.0h0M521.6 955.1h0M522.2 950.2h0M522.0 945.9h0M521.4 945.0h0M521.4 942.3h0M522.3 940.1h0M521.9 939.6h0M521.5 937.1h0M522.1 936.4h0M521.5 935.8h0M522.5 935.0h0M521.5 927.5h0M521.9 924.6h0M521.7 924.5h0M521.4 920.7h0M521.7 908.9h0M522.5 907.2h0M521.5 906.5h0M521.7 903.8h0M522.1 902.1h0M521.9 888.7h0M521.8 888.5h0M523.4 963.0h0M523.5 961.8h0M524.0 958.9h0M523.3 958.8h0M524.2 954.1h0M523.3 949.7h0M523.2 946.3h0M523.4 942.9h0M524.1 937.3h0M524.0 935.3h0M524.2 926.0h0M523.9 922.3h0M523.9 920.7h0M523.7 920.1h0M523.2 919.8h0M523.6 915.7h0M524.3 914.8h0M523.8 913.5h0M523.3 910.9h0M524.0 890.4h0M525.0 962.2h0M524.9 962.0h0M524.8 958.8h0M525.2 957.1h0M524.8 953.5h0M525.9 949.9h0M525.3 948.9h0M525.1 945.0h0M526.0 939.4h0M525.3 938.7h0M525.4 938.2h0M525.9 936.6h0M526.0 932.5h0M525.8 927.0h0M525.6 925.4h0M525.2 925.0h0M525.9 916.1h0M525.4 915.3h0M525.5 913.4h0M525.1 909.9h0M525.3 901.3h0M525.6 894.8h0M526.9 958.0h0M527.6 957.9h0M527.5 954.7h0M526.8 950.2h0M527.4 944.2h0M527.3 935.7h0M526.7 929.3h0M527.2 928.7h0M527.0 925.0h0M527.6 924.7h0M527.6 924.5h0M527.4 923.6h0M526.9 920.4h0M526.9 919.0h0M526.9 916.2h0M526.9 913.3h0M527.4 912.8h0M527.7 911.6h0M526.9 909.6h0M527.7 904.6h0M527.5 902.6h0M527.8 900.9h0M526.6 899.3h0M527.2 899.3h0M526.9 895.0h0M527.1 892.5h0M526.8 890.4h0M527.4 886.5h0M527.6 886.4h0M527.2 884.8h0M527.4 883.5h0M529.0 950.7h0M529.5 949.5h0M529.4 948.5h0M528.6 947.0h0M528.8 944.5h0M529.6 943.8h0M529.0 935.7h0M529.2 930.5h0M528.6 929.3h0M528.7 926.4h0M529.2 921.7h0M529.4 920.8h0M529.0 908.6h0M529.0 894.7h0M529.0 894.7h0M529.5 892.7h0M529.6 889.2h0M528.9 888.3h0M528.5 888.3h0M528.5 882.2h0M530.2 960.2h0M531.0 957.0h0M531.3 956.6h0M531.3 951.2h0M530.9 946.3h0M530.3 942.8h0M530.6 939.7h0M530.6 938.5h0M531.2 938.2h0M530.2 933.8h0M530.2 931.5h0M530.4 928.9h0M530.6 918.2h0M530.5 915.6h0M530.2 906.9h0M530.5 905.5h0M530.6 899.9h0M530.6 891.4h0M530.7 890.8h0M530.4 890.3h0M530.9 886.8h0M530.4 885.6h0M530.7 881.9h0M533.0 956.8h0M532.5 956.4h0M533.2 955.4h0M533.0 953.9h0M532.2 953.7h0M532.9 953.0h0M533.2 951.3h0M532.9 946.5h0M533.3 929.5h0M532.2 922.4h0M532.3 920.6h0M532.7 917.3h0M532.2 916.9h0M532.9 914.7h0M532.7 912.7h0M533.0 908.9h0M532.6 904.1h0M533.2 903.3h0M532.4 903.1h0M532.8 902.2h0M532.2 898.2h0M532.8 895.0h0M532.2 889.8h0M532.4 883.5h0M532.3 881.0h0M534.1 959.3h0M534.1 957.9h0M535.0 957.6h0M534.5 957.6h0M534.9 957.5h0M534.0 944.9h0M535.2 943.6h0M534.4 942.7h0M535.1 929.7h0M534.8 928.1h0M534.4 922.9h0M534.5 922.9h0M535.2 918.8h0M534.5 916.7h0M534.7 914.9h0M535.1 914.8h0M534.0 903.4h0M534.4 903.3h0M534.9 902.7h0M534.7 894.2h0M534.3 881.0h0M536.1 941.0h0M536.1 940.4h0M536.5 939.0h0M536.9 935.0h0M536.0 934.7h0M536.9 933.4h0M536.6 931.7h0M536.3 926.7h0M536.6 925.4h0M536.9 922.4h0M536.9 921.5h0M536.8 919.5h0M536.4 916.5h0M535.8 910.6h0M536.3 909.5h0M535.9 904.1h0M535.8 899.2h0M536.3 897.7h0M536.3 893.5h0M536.5 886.9h0M536.3 885.1h0M536.8 883.3h0M535.9 882.0h0M536.0 880.9h0M536.5 874.7h0M536.2 873.6h0M536.9 864.6h0M536.9 863.5h0M536.9 863.3h0M536.9 861.6h0M536.5 861.5h0M536.7 850.2h0M535.9 846.2h0M536.8 844.8h0M537.7 926.7h0M538.4 926.1h0M538.1 925.8h0M537.9 924.4h0M538.2 918.9h0M537.3 914.8h0M538.3 910.2h0M537.6 910.2h0M538.4 906.5h0M538.4 904.3h0M537.6 904.0h0M538.3 899.1h0M538.0 898.3h0M538.2 896.6h0M537.7 895.1h0M538.2 890.8h0M538.2 889.4h0M537.9 888.5h0M537.7 887.9h0M537.4 886.2h0M537.7 885.0h0M537.9 883.8h0M538.3 876.6h0M537.5 875.4h0M538.4 875.1h0M538.2 870.5h0M537.8 862.6h0M537.4 861.9h0M538.2 860.1h0M537.8 859.8h0M537.6 859.5h0M538.1 856.7h0M537.7 846.6h0M537.4 845.6h0M537.4 844.8h0M537.5 844.8h0M537.9 841.9h0M537.9 832.9h0M537.5 832.5h0M538.5 827.7h0M537.6 822.0h0M537.8 820.2h0M537.7 817.7h0M537.3 817.0h0M538.5 807.7h0M539.4 948.7h0M539.7 944.5h0M539.6 943.8h0M539.3 941.7h0M540.1 940.1h0M540.2 938.5h0M539.2 934.9h0M539.9 927.8h0M539.3 926.1h0M539.3 922.9h0M539.2 921.0h0M540.2 919.4h0M539.6 916.6h0M539.8 913.5h0M539.4 910.6h0M539.8 909.8h0M540.1 901.1h0M539.4 898.8h0M539.1 895.7h0M540.0 893.2h0M539.1 880.7h0M539.6 879.8h0M540.2 876.0h0M539.2 875.6h0M540.0 872.8h0M539.5 872.7h0M539.5 867.4h0M539.1 866.5h0M539.6 860.1h0M539.9 856.4h0M539.5 849.3h0M541.7 897.6h0M541.4 895.6h0M541.5 888.0h0M541.2 886.9h0M542.1 880.9h0M541.3 880.8h0M541.2 879.9h0M542.2 878.0h0M541.7 874.5h0M541.5 863.8h0M541.5 862.7h0M541.7 860.1h0M541.7 859.7h0M542.2 850.0h0M542.2 847.2h0M541.7 845.2h0M541.4 841.7h0M541.7 839.1h0M541.7 838.0h0M541.9 837.4h0M541.7 837.1h0M541.8 836.9h0M542.1 836.6h0M542.1 836.5h0M542.3 835.5h0M541.3 834.3h0M541.4 831.0h0M541.7 825.9h0M541.8 825.0h0M541.5 824.2h0M541.4 823.9h0M541.3 823.2h0M541.7 821.5h0M541.8 818.7h0M541.9 815.2h0M542.2 813.2h0M541.5 812.7h0M542.2 812.7h0M541.6 806.0h0M541.8 800.1h0M542.2 791.5h0M541.5 790.2h0M542.3 788.4h0M541.6 786.3h0M541.6 786.2h0M541.6 777.6h0M542.2 772.2h0M542.0 762.6h0M541.5 760.2h0M542.1 750.2h0M541.2 745.3h0M542.0 741.4h0M541.5 740.9h0M541.4 738.6h0M541.3 738.2h0M541.1 735.9h0M541.6 729.9h0M541.4 728.7h0M541.9 727.2h0M543.8 898.1h0M543.3 898.0h0M543.9 897.7h0M544.0 897.2h0M543.1 896.1h0M543.1 893.0h0M543.4 891.7h0M543.5 889.1h0M543.8 886.1h0M543.6 876.9h0M543.5 875.3h0M543.9 874.1h0M543.7 872.0h0M543.7 867.2h0M543.4 861.1h0M543.9 857.7h0M543.9 855.8h0M543.1 854.8h0M543.5 849.3h0M543.6 839.8h0M543.0 838.9h0M543.2 832.1h0M543.5 831.6h0M543.6 827.8h0M543.8 827.6h0M543.3 824.2h0M543.5 816.4h0M543.0 811.8h0M543.8 810.7h0M543.7 807.0h0M542.9 803.3h0M542.9 797.1h0M543.2 796.2h0M543.0 793.9h0M543.1 792.1h0M543.3 790.7h0M543.8 790.3h0M543.1 790.2h0M543.4 782.9h0M543.3 773.1h0M543.5 770.6h0M544.1 768.8h0M543.8 767.0h0M543.3 764.5h0M544.0 757.9h0M543.6 757.9h0M543.5 752.9h0M543.7 751.0h0M543.5 750.4h0M543.9 749.6h0M543.4 744.0h0M543.5 738.3h0M543.2 734.3h0M543.7 728.7h0M544.8 897.6h0M545.5 893.7h0M545.4 893.2h0M544.8 892.3h0M545.4 891.2h0M545.0 888.4h0M545.5 885.3h0M545.5 884.8h0M545.3 882.8h0M544.8 877.4h0M545.4 875.6h0M545.0 875.6h0M545.1 873.4h0M545.5 871.5h0M545.4 871.2h0M544.6 870.2h0M544.7 868.5h0M544.7 866.8h0M544.7 865.1h0M544.8 849.5h0M545.2 847.8h0M544.7 844.5h0M545.0 839.0h0M545.0 838.7h0M544.9 835.8h0M544.9 831.9h0M545.6 826.8h0M544.6 821.7h0M545.2 820.0h0M544.7 818.5h0M544.7 815.7h0M545.0 815.2h0M545.0 797.2h0M545.3 786.2h0M545.6 782.7h0M545.4 779.8h0M545.5 777.6h0M544.5 770.5h0M544.6 761.1h0M544.6 757.5h0M545.0 752.5h0M545.5 751.9h0M545.6 750.9h0M545.2 749.1h0M545.4 747.0h0M545.1 745.4h0M544.9 744.4h0M544.8 744.0h0M545.3 742.8h0M544.7 742.2h0M545.3 728.8h0M545.5 728.5h0M545.2 723.0h0M547.0 899.9h0M546.4 895.2h0M546.5 895.0h0M547.5 893.8h0M546.4 889.7h0M546.6 887.3h0M546.7 886.6h0M546.7 885.9h0M546.7 885.2h0M547.0 882.7h0M546.7 879.2h0M547.0 879.1h0M546.6 878.1h0M547.5 876.6h0M547.2 874.1h0M547.0 874.0h0M547.4 870.7h0M546.4 866.7h0M546.4 854.3h0M546.9 850.1h0M547.5 842.4h0M546.4 838.4h0M546.5 835.3h0M546.5 833.6h0M546.4 832.6h0M546.4 830.2h0M547.3 829.4h0M547.0 828.3h0M547.1 822.2h0M547.5 817.0h0M546.6 816.1h0M547.4 800.0h0M547.4 798.8h0M546.6 798.5h0M546.5 792.0h0M546.6 785.5h0M546.5 780.6h0M547.0 778.2h0M547.4 775.5h0M547.2 775.3h0M547.0 768.8h0M547.3 767.9h0M546.6 765.9h0M547.3 760.7h0M546.9 754.5h0M546.4 754.5h0M546.4 751.6h0M546.5 748.1h0M546.4 742.6h0M546.6 738.3h0M548.5 896.6h0M548.5 887.1h0M548.5 887.0h0M548.8 885.8h0M549.2 885.6h0M549.0 881.5h0M548.2 869.4h0M549.1 866.1h0M548.6 865.6h0M549.2 864.9h0M549.1 863.1h0M548.8 862.3h0M548.5 858.4h0M548.2 857.5h0M548.6 854.7h0M548.5 854.1h0M548.3 853.0h0M548.3 850.4h0M548.6 849.6h0M549.0 836.7h0M549.1 836.0h0M548.5 827.6h0M548.9 822.8h0M549.2 820.3h0M548.9 816.8h0M548.7 808.2h0M548.1 807.9h0M548.7 803.8h0M549.3 797.1h0M548.4 796.2h0M548.1 793.4h0M548.2 793.0h0M548.6 791.9h0M548.9 791.2h0M549.1 786.5h0M549.0 783.8h0M549.0 778.5h0M548.8 777.2h0M548.4 771.3h0M548.1 769.7h0M548.3 766.6h0M548.3 764.5h0M549.2 764.1h0M549.3 762.7h0M548.8 757.9h0M548.9 755.6h0M548.3 749.6h0M548.4 746.8h0M548.4 746.0h0M549.2 740.3h0M548.3 738.2h0M548.5 737.4h0M549.2 735.7h0M548.7 732.9h0M548.3 729.1h0M548.6 727.4h0M548.5 727.1h0M548.8 723.8h0M550.5 893.3h0M550.0 886.0h0M550.6 882.0h0M549.7 879.3h0M550.1 878.4h0M550.3 876.8h0M549.9 876.2h0M550.1 876.2h0M549.9 875.8h0M550.6 875.8h0M550.2 875.1h0M549.7 872.7h0M550.6 870.5h0M550.4 869.7h0M550.3 866.1h0M550.2 864.9h0M550.1 861.7h0M550.5 857.9h0M550.1 854.0h0M549.8 853.5h0M550.3 852.5h0M550.0 852.3h0M550.3 851.8h0M550.6 851.2h0M550.0 851.0h0M550.6 847.0h0M550.7 845.6h0M550.3 839.4h0M549.8 838.2h0M549.7 834.7h0M549.9 831.5h0M550.3 830.9h0M549.7 829.4h0M550.6 828.9h0M550.5 827.4h0M549.6 824.5h0M550.3 823.2h0M549.8 822.3h0M550.0 797.2h0M550.1 793.7h0M549.9 779.0h0M550.4 778.9h0M550.6 774.8h0M549.8 774.4h0M549.9 772.2h0M549.8 771.7h0M550.1 771.6h0M549.6 771.1h0M550.5 770.7h0M550.0 767.1h0M549.7 761.4h0M550.7 759.5h0M549.8 759.3h0M550.0 756.9h0M550.6 756.7h0M550.3 751.0h0M550.3 749.1h0M550.3 746.5h0M550.6 745.1h0M549.9 742.4h0M550.5 739.1h0M550.0 736.5h0M550.4 733.5h0M550.7 732.7h0M550.1 730.7h0M550.5 727.9h0M549.8 727.2h0M549.6 724.6h0M552.2 902.8h0M551.5 900.3h0M551.8 897.6h0M551.7 897.6h0M552.1 894.4h0M551.2 885.3h0M551.6 883.4h0M552.1 881.8h0M551.8 880.2h0M552.2 876.2h0M551.8 873.8h0M551.6 873.5h0M552.1 872.9h0M551.3 869.8h0M552.2 867.4h0M551.6 862.0h0M551.8 860.7h0M552.3 859.2h0M552.2 853.7h0M551.3 826.2h0M551.6 817.1h0M551.9 816.1h0M551.4 814.5h0M551.4 802.8h0M551.6 802.5h0M552.1 796.8h0M551.6 794.8h0M552.1 794.3h0M551.4 789.5h0M552.2 785.8h0M551.4 784.3h0M551.9 779.6h0M551.1 777.8h0M552.0 776.5h0M551.7 775.7h0M551.6 770.6h0M552.0 770.1h0M551.9 766.0h0M551.6 757.4h0M551.7 754.8h0M551.5 747.6h0M551.6 746.6h0M552.0 740.0h0M552.1 739.2h0M552.8 905.4h0M553.2 900.1h0M553.8 895.5h0M553.7 890.3h0M553.8 886.7h0M553.9 878.9h0M553.2 873.0h0M552.9 865.9h0M553.9 865.3h0M554.0 863.0h0M552.9 861.8h0M553.9 861.4h0M553.3 856.6h0M552.9 853.5h0M553.2 845.3h0M553.4 844.7h0M553.4 842.7h0M553.0 838.9h0M553.2 834.0h0M553.9 832.5h0M553.7 828.3h0M553.3 823.3h0M553.5 822.0h0M553.0 816.0h0M553.4 812.1h0M553.7 802.7h0M553.3 794.2h0M553.1 792.0h0M553.2 791.2h0M553.6 790.4h0M553.7 787.5h0M554.0 782.7h0M553.6 780.0h0M553.4 777.4h0M553.2 775.9h0M553.4 774.4h0M553.5 772.3h0M554.0 768.3h0M554.0 765.1h0M553.6 763.7h0M553.4 760.4h0M553.1 758.1h0M552.9 743.0h0M553.4 736.5h0M555.2 907.2h0M555.3 905.7h0M555.1 903.6h0M554.5 903.3h0M554.5 900.5h0M554.8 898.5h0M554.9 894.9h0M554.7 894.8h0M555.3 893.7h0M555.5 890.4h0M555.2 881.8h0M555.3 881.7h0M555.2 880.5h0M555.0 879.9h0M555.3 879.2h0M554.9 870.9h0M555.2 868.9h0M554.9 864.7h0M555.3 863.8h0M555.1 862.8h0M555.2 859.9h0M554.9 849.2h0M555.0 848.5h0M555.5 841.6h0M554.7 841.4h0M555.4 840.6h0M554.7 837.0h0M555.5 832.1h0M554.9 826.8h0M554.8 821.3h0M554.7 812.6h0M554.9 811.0h0M555.4 805.2h0M555.1 802.7h0M555.2 801.5h0M555.4 801.3h0M555.0 790.7h0M555.2 788.5h0M555.6 786.8h0M555.1 785.9h0M555.4 781.7h0M554.6 780.4h0M554.6 776.1h0M554.5 769.7h0M555.5 761.8h0M555.6 759.0h0M555.3 753.2h0M554.6 752.0h0M554.6 751.5h0M555.3 747.0h0M556.2 906.5h0M556.7 898.2h0M556.5 893.7h0M557.1 891.5h0M557.0 887.9h0M557.3 887.7h0M557.2 887.5h0M556.9 885.1h0M557.1 884.4h0M556.5 880.3h0M556.7 872.6h0M556.5 866.7h0M556.5 865.3h0M556.4 865.2h0M556.8 864.7h0M556.3 862.7h0M557.0 855.0h0M556.5 852.7h0M557.3 851.0h0M556.8 849.3h0M556.7 841.1h0M556.3 834.7h0M556.3 830.6h0M556.3 829.5h0M557.3 822.2h0M556.8 816.7h0M556.8 816.2h0M557.1 808.0h0M557.4 808.0h0M556.9 797.0h0M557.1 796.9h0M556.2 793.2h0M556.2 790.9h0M557.0 790.6h0M556.6 784.9h0M556.5 784.2h0M556.9 783.1h0M557.3 781.8h0M556.5 781.8h0M556.7 777.7h0M556.7 777.4h0M557.2 776.0h0M557.0 774.8h0M556.7 770.1h0M556.8 769.9h0M556.5 769.4h0M557.8 923.5h0M558.8 923.4h0M558.1 917.4h0M558.2 916.3h0M558.1 913.6h0M558.6 911.8h0M557.9 911.0h0M558.5 908.1h0M558.3 908.0h0M558.5 902.9h0M558.9 899.7h0M558.2 899.0h0M558.8 898.6h0M558.8 896.1h0M558.2 893.0h0M558.1 889.4h0M558.5 887.3h0M558.1 882.8h0M558.4 878.6h0M557.9 875.6h0M557.9 873.2h0M558.7 870.1h0M558.3 868.6h0M558.4 865.5h0M558.8 852.9h0M558.2 849.0h0M558.6 848.8h0M558.6 847.9h0M558.8 844.3h0M558.3 844.1h0M558.2 842.6h0M558.8 841.6h0M558.4 839.4h0M558.4 838.9h0M557.9 835.3h0M558.1 833.8h0M557.9 830.9h0M558.2 815.7h0M557.8 805.3h0M558.8 799.5h0M558.2 797.0h0M558.1 792.7h0M558.9 791.5h0M558.4 786.8h0M558.7 783.9h0M559.5 921.4h0M559.8 918.5h0M559.7 917.4h0M559.7 916.6h0M560.0 910.8h0M559.8 908.7h0M560.1 900.2h0M560.2 899.7h0M560.6 899.7h0M559.7 895.9h0M560.5 894.3h0M560.4 890.0h0M559.6 887.4h0M560.1 884.3h0M559.5 883.8h0M560.5 881.6h0M560.2 880.4h0M560.5 880.1h0M559.8 873.4h0M560.3 869.5h0M560.5 867.7h0M559.8 867.6h0M560.4 867.2h0M559.7 862.9h0M560.0 859.5h0M559.9 856.7h0M560.1 854.0h0M559.9 852.7h0M560.2 852.1h0M559.7 846.3h0M559.9 843.2h0M559.5 842.5h0M560.3 842.4h0M559.7 841.9h0M559.6 839.4h0M560.0 836.3h0M560.2 835.4h0M560.6 831.7h0M560.3 830.2h0M560.1 826.7h0M559.8 826.5h0M559.5 824.4h0M560.4 824.0h0M560.1 823.6h0M560.0 822.5h0M559.7 820.6h0M559.7 818.3h0M560.0 807.1h0M560.3 806.5h0M560.3 805.8h0M560.5 799.6h0M560.3 796.5h0M560.4 789.8h0M560.5 785.6h0M559.9 779.4h0M562.6 920.1h0M562.3 916.0h0M561.8 914.9h0M562.3 913.9h0M561.7 912.3h0M562.4 911.8h0M561.7 911.3h0M561.5 909.2h0M561.7 907.8h0M562.1 902.4h0M562.0 900.5h0M562.5 900.5h0M561.5 892.4h0M562.4 890.0h0M562.6 884.5h0M562.5 877.6h0M562.6 877.1h0M562.2 864.4h0M561.8 857.7h0M561.6 855.9h0M562.6 853.8h0M562.0 849.7h0M561.7 848.5h0M561.8 846.6h0M562.1 844.3h0M562.2 842.5h0M562.1 840.7h0M562.5 838.4h0M562.2 830.5h0M561.8 825.3h0M561.8 824.7h0M562.4 824.1h0M562.2 814.9h0M561.6 814.0h0M562.1 808.2h0M562.6 807.6h0M562.6 802.0h0M562.4 785.2h0M563.8 919.5h0M564.5 918.7h0M564.1 909.6h0M564.6 902.2h0M563.8 895.8h0M564.4 894.4h0M564.6 889.6h0M564.4 889.2h0M563.9 889.1h0M564.2 889.0h0M564.4 888.6h0M564.5 887.0h0M564.8 885.9h0M563.7 885.5h0M564.2 883.4h0M563.6 877.9h0M563.9 877.3h0M564.6 875.5h0M563.9 872.2h0M564.5 870.6h0M563.7 868.1h0M563.6 866.7h0M563.9 864.8h0M564.0 863.6h0M563.7 857.2h0M563.7 856.9h0M564.1 855.0h0M564.4 846.2h0M563.7 845.1h0M564.6 842.4h0M564.5 841.5h0M564.7 839.9h0M563.8 828.9h0M564.3 822.9h0M564.2 821.0h0M564.2 812.0h0M564.2 808.7h0M564.5 808.6h0M564.7 808.2h0M564.3 808.1h0M564.4 806.9h0M564.5 802.9h0M564.8 795.8h0M563.8 795.3h0M564.7 792.4h0M563.8 790.2h0M564.0 786.9h0M564.5 786.6h0M564.6 783.8h0M564.0 783.3h0M564.6 782.7h0M564.3 780.0h0M564.1 779.8h0M565.9 912.6h0M566.1 910.7h0M565.6 909.5h0M566.6 909.4h0M566.3 898.7h0M565.8 898.2h0M565.6 897.1h0M565.9 895.9h0M566.5 894.8h0M566.7 892.4h0M565.6 891.4h0M566.4 887.1h0M566.0 882.1h0M565.6 877.0h0M566.4 873.0h0M566.3 870.4h0M566.0 868.4h0M566.3 866.4h0M565.9 860.4h0M566.0 857.7h0M566.4 857.1h0M566.6 857.0h0M565.7 856.9h0M566.0 852.3h0M566.1 851.1h0M566.3 842.0h0M566.7 840.4h0M565.6 839.4h0M566.5 834.6h0M566.0 828.8h0M565.8 824.5h0M566.7 823.3h0M566.7 815.9h0M566.4 812.7h0M566.0 810.9h0M566.4 800.2h0M565.7 788.0h0M566.6 785.6h0M568.1 922.5h0M568.1 922.5h0M568.0 921.9h0M568.4 919.0h0M568.7 913.3h0M568.0 912.3h0M567.9 910.9h0M568.5 905.8h0M568.3 902.8h0M567.9 901.8h0M567.7 897.8h0M567.7 884.2h0M568.5 883.5h0M567.7 876.2h0M568.2 867.6h0M568.2 867.2h0M568.3 866.4h0M568.6 863.3h0M568.6 855.2h0M568.4 851.5h0M568.6 844.7h0M568.7 842.3h0M567.8 831.0h0M568.3 830.1h0M568.1 827.3h0M567.8 824.7h0M568.3 822.7h0M568.4 817.4h0M567.8 817.0h0M568.5 814.5h0M568.4 813.2h0M567.9 812.2h0M567.8 804.7h0M568.2 797.2h0M568.1 797.1h0M567.7 793.8h0M568.1 791.8h0M568.7 789.0h0M568.6 786.9h0M568.4 785.3h0M568.3 784.6h0M568.5 778.4h0M568.4 778.1h0M569.9 921.8h0M570.3 910.3h0M570.8 909.6h0M570.6 905.3h0M570.0 903.7h0M570.7 900.8h0M570.5 897.0h0M570.2 896.8h0M570.3 895.8h0M570.4 892.6h0M570.1 892.5h0M570.2 891.6h0M569.9 890.6h0M570.3 889.8h0M569.9 883.4h0M570.5 873.5h0M570.7 866.4h0M570.8 861.8h0M570.4 861.1h0M569.9 859.6h0M570.5 858.5h0M569.8 858.0h0M570.7 851.7h0M569.9 851.6h0M570.3 851.6h0M569.9 837.3h0M570.2 834.1h0M570.4 829.2h0M569.8 824.2h0M570.6 809.4h0M569.7 808.9h0M570.6 801.8h0M570.8 799.8h0M570.3 795.3h0M570.3 795.2h0M570.2 793.0h0M570.7 791.1h0M569.8 788.9h0M570.7 787.6h0M571.8 934.7h0M572.4 934.3h0M571.8 931.1h0M572.4 928.3h0M571.6 914.1h0M572.2 912.3h0M572.0 910.7h0M571.9 908.9h0M571.9 906.4h0M571.9 905.4h0M571.6 900.9h0M571.7 899.0h0M571.4 891.0h0M572.5 889.6h0M571.7 885.7h0M572.0 881.4h0M571.5 881.1h0M571.7 880.9h0M572.5 879.2h0M572.0 871.9h0M572.1 868.1h0M571.8 862.2h0M571.6 858.4h0M571.7 857.5h0M571.7 855.6h0M571.4 852.1h0M572.1 850.7h0M572.3 844.6h0M572.1 842.4h0M572.5 842.3h0M572.3 837.9h0M571.9 837.4h0M572.4 835.9h0M571.6 830.0h0M571.6 814.9h0M572.1 814.3h0M572.5 811.5h0M572.5 811.3h0M571.8 805.2h0M573.4 941.9h0M574.5 940.8h0M574.0 935.8h0M574.1 933.0h0M574.3 928.8h0M574.5 919.5h0M574.5 918.2h0M573.5 917.4h0M573.4 914.3h0M574.5 908.0h0M573.6 903.0h0M573.4 900.6h0M574.3 898.7h0M573.5 898.0h0M573.7 896.6h0M573.7 895.3h0M574.1 895.0h0M574.1 892.8h0M574.4 891.5h0M574.0 886.4h0M574.4 884.8h0M573.8 882.7h0M573.4 879.8h0M573.4 877.3h0M574.3 868.1h0M573.6 867.6h0M574.0 863.4h0M573.8 861.3h0M573.8 860.3h0M573.4 860.0h0M573.4 858.9h0M573.6 857.8h0M574.0 856.0h0M574.2 836.1h0M574.0 827.8h0M575.7 918.0h0M575.4 916.5h0M575.6 907.2h0M575.7 906.8h0M575.4 905.7h0M575.7 902.4h0M576.4 902.4h0M576.3 902.0h0M575.9 890.0h0M575.2 885.8h0M576.2 885.1h0M575.4 881.7h0M575.3 880.7h0M576.0 876.1h0M575.9 874.8h0M575.5 872.7h0M575.2 870.4h0M576.4 866.5h0M575.7 865.9h0M576.0 863.1h0M575.6 858.5h0M575.7 854.0h0M575.8 849.1h0M576.3 846.3h0M575.8 845.7h0M575.3 844.3h0M575.5 839.2h0M575.4 838.6h0M576.1 833.4h0M575.8 832.0h0M575.8 830.5h0M575.6 830.3h0M575.6 819.1h0M576.0 814.7h0M576.0 812.4h0M575.9 807.9h0M575.6 801.9h0M575.8 800.9h0M575.8 794.7h0M575.8 794.7h0M575.4 785.5h0M575.6 781.9h0M576.1 778.5h0M575.4 776.8h0M576.4 774.2h0M575.6 774.1h0M575.8 773.0h0M577.7 875.0h0M577.5 871.4h0M578.2 871.3h0M578.2 869.4h0M577.5 867.0h0M578.2 866.4h0M577.8 862.6h0M577.4 862.6h0M577.2 861.1h0M577.6 859.4h0M577.7 858.8h0M578.1 850.7h0M577.4 846.0h0M577.6 845.3h0M577.3 838.0h0M578.1 837.7h0M577.7 837.7h0M577.8 826.5h0M577.4 826.5h0M577.9 822.6h0M577.6 822.4h0M577.3 820.6h0M577.4 820.2h0M578.2 818.8h0M578.1 817.7h0M577.6 817.6h0M577.1 817.1h0M577.9 816.2h0M577.4 813.6h0M577.9 809.9h0M577.9 804.3h0M578.0 804.0h0M578.1 795.2h0M577.2 792.2h0M577.7 786.4h0M578.2 782.6h0M577.1 781.9h0M578.1 773.9h0M577.6 773.6h0M577.8 767.9h0M578.3 765.7h0M577.5 765.7h0M578.2 765.2h0M577.4 762.6h0M578.2 756.5h0M578.2 754.6h0M577.9 753.8h0M577.3 738.8h0M578.1 735.1h0M577.4 729.0h0M577.2 727.5h0M578.1 725.3h0M578.1 724.2h0M577.6 723.3h0M578.0 719.9h0M577.5 711.0h0M578.0 709.5h0M578.0 704.4h0M578.1 703.5h0M577.8 698.9h0M577.9 697.6h0M578.0 697.3h0M578.0 695.6h0M577.5 692.7h0M577.7 691.5h0M577.4 691.1h0M577.3 687.8h0M577.7 679.6h0M577.3 678.4h0M577.5 677.3h0M577.4 676.8h0M578.2 665.9h0M579.4 869.4h0M580.3 866.6h0M580.4 859.2h0M580.0 857.7h0M580.1 830.1h0M580.2 824.8h0M580.2 822.5h0M580.2 821.3h0M579.4 819.7h0M580.1 814.9h0M579.8 812.0h0M580.2 811.2h0M580.0 808.1h0M579.2 803.2h0M580.2 798.7h0M579.2 798.3h0M579.5 792.6h0M580.3 790.4h0M579.8 789.7h0M580.2 789.6h0M579.7 783.9h0M579.4 779.3h0M580.2 774.5h0M579.2 770.6h0M580.0 769.6h0M579.8 764.3h0M579.7 760.8h0M579.5 758.2h0M580.2 757.5h0M579.6 755.1h0M579.6 754.0h0M579.4 751.8h0M579.6 750.0h0M579.6 748.5h0M580.3 748.4h0M580.1 747.3h0M579.6 738.4h0M580.0 737.1h0M579.8 728.3h0M579.3 725.0h0M579.7 723.9h0M579.6 720.5h0M580.2 716.3h0M579.8 715.4h0M579.6 715.1h0M580.2 712.3h0M580.1 711.6h0M580.2 708.2h0M579.8 708.0h0M580.1 707.5h0M579.5 703.8h0M580.3 689.0h0M579.4 687.4h0M579.6 682.5h0M579.5 675.9h0M579.6 669.5h0M579.6 666.5h0M579.3 663.2h0M581.5 868.1h0M581.1 860.0h0M581.4 856.5h0M581.3 855.9h0M581.5 854.6h0M581.8 852.8h0M581.4 848.6h0M581.6 844.6h0M581.9 844.5h0M581.7 838.7h0M582.0 836.8h0M581.6 826.0h0M581.5 825.9h0M581.4 825.2h0M581.1 822.7h0M581.5 822.5h0M581.5 819.3h0M582.1 814.6h0M581.3 804.5h0M581.6 802.8h0M582.0 802.1h0M582.0 797.9h0M581.5 796.5h0M581.0 794.4h0M581.7 793.6h0M581.0 786.1h0M581.5 784.9h0M581.2 783.4h0M581.3 782.8h0M581.2 782.7h0M581.9 782.5h0M581.5 779.4h0M581.7 778.3h0M581.9 777.1h0M581.2 771.6h0M581.3 769.5h0M581.2 757.4h0M581.2 757.2h0M581.6 748.7h0M581.5 744.7h0M581.4 741.0h0M581.7 738.7h0M582.0 733.8h0M581.9 730.7h0M581.1 730.1h0M581.0 722.6h0M581.2 720.7h0M581.2 718.2h0M581.0 710.8h0M582.0 705.2h0M581.9 703.5h0M581.2 700.4h0M581.0 698.1h0M581.0 696.9h0M581.9 696.2h0M581.9 693.9h0M581.3 691.9h0M581.3 689.7h0M580.9 677.7h0M581.1 677.0h0M581.3 674.6h0M581.6 674.2h0M581.5 667.0h0M581.5 665.6h0M580.9 664.7h0M581.3 663.5h0M583.6 873.4h0M583.3 873.0h0M583.5 871.1h0M583.0 869.1h0M583.2 861.3h0M583.3 860.8h0M582.7 858.9h0M583.2 858.8h0M583.1 855.4h0M582.9 852.6h0M583.6 849.2h0M583.7 847.1h0M583.1 845.7h0M583.1 845.6h0M583.5 841.7h0M583.2 840.2h0M582.7 837.7h0M583.6 835.6h0M582.7 835.3h0M583.4 833.4h0M583.1 832.1h0M583.8 824.6h0M582.8 813.5h0M582.9 812.5h0M583.4 805.8h0M582.7 803.5h0M583.8 799.0h0M583.0 798.2h0M583.6 798.2h0M582.8 797.4h0M583.4 791.6h0M582.9 789.9h0M583.0 780.9h0M583.4 777.0h0M583.8 775.5h0M582.9 773.9h0M582.7 773.2h0M583.7 771.4h0M583.0 767.6h0M583.6 766.5h0M583.0 761.4h0M582.9 760.5h0M583.2 755.6h0M583.4 752.2h0M583.3 747.3h0M583.4 747.3h0M583.6 746.4h0M583.4 743.8h0M583.6 740.2h0M583.7 735.1h0M582.9 729.7h0M583.0 725.5h0M583.3 721.1h0M582.7 718.4h0M582.8 717.8h0M583.7 717.5h0M583.0 709.9h0M583.3 708.0h0M582.7 704.2h0M582.7 692.8h0M583.5 692.4h0M583.4 691.1h0M583.2 688.4h0M583.6 686.0h0M583.5 684.3h0M583.7 681.4h0M583.0 681.1h0M582.7 681.0h0M583.2 678.4h0M582.8 677.7h0M583.7 677.0h0M583.1 674.3h0M583.1 671.5h0M582.7 669.2h0M584.6 871.3h0M584.7 871.2h0M584.7 870.7h0M585.5 869.4h0M585.3 867.0h0M585.6 865.1h0M584.6 859.5h0M585.6 856.5h0M585.1 851.9h0M584.6 850.6h0M584.6 849.7h0M585.4 849.5h0M584.9 847.6h0M584.9 844.2h0M584.8 837.6h0M584.7 837.0h0M585.5 828.5h0M585.6 827.9h0M585.3 827.8h0M584.8 826.1h0M584.7 823.6h0M585.4 821.5h0M585.6 820.0h0M584.7 813.8h0M584.5 813.1h0M584.6 811.9h0M584.6 810.9h0M584.8 809.0h0M585.4 801.7h0M585.1 800.4h0M584.6 800.2h0M584.6 795.3h0M584.8 794.0h0M584.7 793.3h0M585.6 792.6h0M585.3 791.8h0M585.6 791.0h0M585.1 784.6h0M585.3 776.2h0M585.1 769.6h0M584.6 769.3h0M585.6 763.9h0M585.5 762.3h0M584.9 755.3h0M585.4 751.1h0M584.8 747.8h0M584.9 747.6h0M585.1 746.6h0M585.0 745.3h0M584.6 744.2h0M585.3 743.2h0M585.6 742.2h0M585.0 736.0h0M585.3 734.9h0M585.5 728.2h0M584.7 727.5h0M585.6 727.3h0M585.0 726.3h0M584.8 721.8h0M584.5 717.9h0M584.5 716.3h0M584.8 710.9h0M585.4 705.6h0M584.8 705.3h0M585.3 700.3h0M584.6 698.5h0M584.9 698.0h0M585.3 695.8h0M585.3 689.3h0M585.1 686.7h0M584.5 683.6h0M585.1 683.5h0M585.5 681.7h0M584.9 680.8h0M585.3 679.9h0M584.6 674.6h0M585.3 673.0h0M585.4 668.6h0M585.3 668.0h0M585.5 666.0h0M585.5 665.3h0M586.6 926.1h0M586.8 924.6h0M587.2 922.6h0M586.6 922.5h0M586.9 922.3h0M587.3 919.4h0M586.6 915.9h0M586.4 902.3h0M587.1 901.7h0M586.8 898.6h0M586.9 895.3h0M586.7 894.1h0M586.5 892.4h0M586.6 888.6h0M587.5 886.0h0M587.3 880.7h0M587.3 880.1h0M586.6 880.1h0M587.2 879.0h0M586.6 866.2h0M586.7 863.8h0M586.4 859.4h0M586.7 851.2h0M587.3 850.5h0M587.3 845.7h0M586.9 837.9h0M587.3 835.7h0M586.6 833.1h0M586.9 829.3h0M587.4 823.5h0M586.4 817.0h0M586.9 813.5h0M586.7 813.3h0M587.2 813.3h0M586.6 812.2h0M586.7 803.3h0M587.2 797.9h0M588.3 930.5h0M588.4 929.5h0M588.7 929.4h0M589.0 925.4h0M588.7 924.4h0M588.9 916.8h0M589.0 915.1h0M588.5 912.9h0M588.1 910.5h0M588.5 909.0h0M588.5 904.6h0M589.0 903.4h0M588.1 903.1h0M589.0 901.9h0M588.3 900.0h0M588.1 894.9h0M587.9 890.0h0M589.0 887.2h0M588.1 884.3h0M588.8 883.6h0M589.0 882.6h0M588.0 880.8h0M588.7 876.7h0M587.9 873.1h0M588.4 871.5h0M588.0 863.4h0M588.3 861.5h0M588.4 858.1h0M588.4 856.7h0M587.9 854.0h0M588.2 852.6h0M588.3 851.4h0M588.3 850.3h0M588.1 846.1h0M587.9 834.8h0M588.7 833.5h0M588.2 829.3h0M588.7 828.0h0M588.8 826.1h0M588.0 816.4h0M588.1 811.6h0M588.9 808.0h0M588.9 803.5h0M588.2 801.6h0M588.3 798.0h0M589.6 935.2h0M589.7 932.1h0M590.5 931.3h0M590.0 929.3h0M590.1 928.2h0M589.9 924.2h0M589.7 923.8h0M590.0 920.5h0M589.7 913.1h0M589.9 909.5h0M590.3 908.6h0M589.7 907.5h0M590.0 905.8h0M590.7 905.5h0M589.9 904.0h0M589.7 903.6h0M589.6 903.0h0M590.3 900.7h0M589.8 895.1h0M590.4 890.1h0M589.7 889.9h0M590.5 889.2h0M589.6 885.0h0M589.7 884.1h0M590.0 881.0h0M590.5 871.8h0M589.8 870.7h0M590.0 868.4h0M589.7 863.1h0M590.2 856.2h0M590.6 854.4h0M590.4 852.9h0M590.5 841.1h0M590.0 825.6h0M590.5 819.6h0M590.0 818.1h0M590.4 807.4h0M590.4 805.8h0M589.9 805.3h0M589.8 801.4h0M590.2 801.4h0M590.3 797.0h0M589.6 796.1h0M590.1 795.9h0M589.7 795.7h0M591.7 985.2h0M592.3 984.5h0M603.2 983.0h0M603.9 982.5h0M604.8 980.5h0M605.0 975.7h0M604.9 973.8h0M604.5 972.0h0M605.6 971.9h0M604.9 970.9h0M604.8 959.2h0M605.5 958.9h0M605.2 957.1h0M604.6 955.8h0M605.4 954.9h0M605.3 952.1h0M605.2 947.0h0M604.7 942.3h0M605.0 941.4h0M606.9 965.5h0M606.2 965.2h0M606.3 960.7h0M606.8 960.7h0M607.1 957.3h0M606.8 953.7h0M607.2 952.4h0M606.6 951.5h0M606.8 951.1h0M606.7 947.7h0M606.1 946.2h0M606.1 943.1h0M606.8 938.6h0M606.9 932.0h0M606.4 927.1h0M606.8 916.8h0M606.5 913.7h0M606.8 906.0h0M606.8 902.4h0M607.3 895.3h0M607.2 894.2h0M606.6 892.5h0M608.6 966.1h0M608.1 965.1h0M608.5 957.9h0M608.8 951.0h0M608.3 950.7h0M608.3 949.3h0M609.0 948.9h0M608.3 946.9h0M608.9 944.7h0M608.6 939.2h0M608.1 938.4h0M608.7 935.5h0M608.4 918.3h0M608.7 918.1h0M608.4 913.5h0M608.3 912.2h0M608.8 904.6h0M608.5 903.2h0M608.1 901.9h0M609.0 893.9h0M608.5 892.0h0M610.1 960.5h0M610.1 956.3h0M609.9 945.3h0M610.6 944.7h0M610.3 943.4h0M609.9 937.4h0M610.5 936.6h0M610.3 935.7h0M610.5 934.9h0M609.8 931.4h0M610.8 926.1h0M610.7 924.8h0M610.8 923.5h0M610.6 912.2h0M610.1 910.0h0M610.8 909.2h0M610.6 898.0h0M612.4 964.9h0M611.9 962.1h0M611.7 960.3h0M612.6 958.9h0M612.1 951.9h0M611.8 948.3h0M612.5 945.2h0M612.6 945.0h0M611.5 944.4h0M611.9 944.3h0M611.7 940.2h0M612.3 931.0h0M612.3 930.5h0M612.3 929.7h0M612.4 929.5h0M612.2 928.0h0M612.0 927.8h0M611.6 926.1h0M612.6 924.1h0M612.6 924.0h0M612.4 922.4h0M612.1 916.2h0M612.6 912.5h0M612.4 910.1h0M611.8 907.4h0M613.2 964.0h0M613.0 958.1h0M614.1 954.5h0M614.0 950.4h0M613.8 946.9h0M614.1 939.7h0M613.2 938.2h0M613.1 936.6h0M613.5 928.9h0M613.1 915.7h0M613.7 913.3h0M613.8 911.4h0M613.0 910.2h0M613.6 901.0h0M613.9 899.2h0M613.3 898.7h0M614.0 895.5h0M613.5 891.1h0M615.3 959.9h0M615.6 957.0h0M615.1 956.5h0M616.1 946.9h0M615.7 944.0h0M616.2 942.1h0M616.2 928.4h0M615.8 925.1h0M615.3 916.5h0M615.7 914.2h0M615.8 912.8h0M616.2 909.6h0M615.5 907.3h0M615.1 904.4h0M615.1 904.3h0M616.1 896.2h0M615.4 890.3h0M615.2 886.2h0M615.7 882.7h0M615.2 877.5h0M617.8 952.1h0M618.1 947.6h0M617.3 946.9h0M617.8 940.9h0M617.6 940.5h0M617.9 939.6h0M617.8 939.2h0M617.1 937.8h0M617.9 937.0h0M618.1 928.6h0M618.0 928.5h0M617.4 925.5h0M617.8 925.4h0M617.2 923.1h0M617.0 920.7h0M617.9 911.8h0M618.1 907.4h0M617.5 906.7h0M618.0 896.2h0M617.1 892.5h0M617.6 889.9h0M617.3 887.0h0M617.3 886.0h0M618.1 884.9h0M617.2 884.1h0M617.1 868.1h0M617.4 867.9h0M617.7 864.3h0M618.0 854.8h0M617.9 854.7h0M617.6 853.5h0M619.4 942.6h0M618.6 941.4h0M618.5 938.2h0M619.0 931.1h0M618.6 928.8h0M619.0 926.6h0M618.6 923.6h0M619.1 922.6h0M619.2 918.2h0M619.6 918.2h0M619.2 916.7h0M619.4 904.1h0M618.8 902.7h0M619.0 900.3h0M619.2 899.9h0M618.7 893.8h0M619.1 890.5h0M619.5 889.6h0M619.4 889.1h0M619.5 888.9h0M619.3 887.7h0M619.3 883.9h0M618.8 878.5h0M619.2 876.3h0M618.9 871.6h0M619.2 869.9h0M619.1 869.5h0M619.3 867.4h0M618.5 865.8h0M618.8 860.9h0M618.5 860.6h0M619.0 847.9h0M618.5 847.2h0M619.0 843.4h0M619.1 843.2h0M619.1 839.7h0M618.5 839.2h0M618.4 834.2h0M620.3 932.5h0M621.1 932.1h0M620.9 931.4h0M620.5 930.2h0M620.9 929.0h0M620.6 927.8h0M621.2 926.6h0M621.1 916.5h0M620.6 912.5h0M621.0 908.7h0M620.5 896.0h0M620.8 895.9h0M620.5 892.2h0M620.4 881.0h0M621.2 877.6h0M620.6 863.7h0M620.3 859.0h0M620.3 856.5h0M620.8 851.0h0M621.3 850.8h0M621.2 848.2h0M620.9 838.6h0M621.0 836.3h0M620.4 833.4h0M621.1 833.4h0M621.0 823.1h0M621.2 819.7h0M620.5 817.9h0M621.2 810.8h0M620.8 806.9h0M622.3 929.0h0M622.8 925.8h0M622.1 922.7h0M622.6 921.0h0M621.9 915.1h0M622.1 914.8h0M622.1 910.4h0M622.2 908.2h0M622.4 904.8h0M622.5 903.8h0M622.9 897.2h0M622.7 894.9h0M622.7 887.0h0M622.8 884.0h0M622.6 883.6h0M622.5 882.6h0M622.2 882.3h0M622.9 879.9h0M623.1 867.2h0M622.9 863.8h0M622.0 862.0h0M622.7 860.7h0M622.0 857.7h0M622.7 856.8h0M622.4 846.5h0M623.0 843.6h0M622.7 838.3h0M622.9 835.1h0M621.9 833.5h0M622.7 826.5h0M623.0 826.1h0M622.4 823.4h0M622.1 823.0h0M622.7 815.7h0M622.5 811.7h0M622.8 809.6h0M624.2 927.4h0M623.6 923.3h0M624.0 921.9h0M624.1 921.9h0M624.0 921.4h0M623.5 917.4h0M624.3 909.7h0M623.5 908.4h0M623.9 905.0h0M624.0 888.7h0M623.8 885.7h0M623.9 885.2h0M624.0 884.4h0M624.3 883.5h0M624.2 877.2h0M623.5 876.1h0M623.9 871.5h0M623.5 858.7h0M624.4 855.3h0M623.9 853.9h0M623.4 852.8h0M623.9 840.4h0M623.4 833.4h0M624.0 823.6h0M623.8 815.7h0M623.9 814.4h0M623.8 811.9h0M623.4 811.0h0M623.6 810.9h0M624.4 809.8h0M624.1 804.4h0M623.8 804.0h0M626.2 927.8h0M626.2 925.7h0M625.8 925.6h0M626.1 924.7h0M625.9 923.7h0M626.1 921.9h0M625.9 920.7h0M626.2 918.4h0M626.2 914.7h0M625.9 914.3h0M626.3 911.5h0M626.4 904.8h0M626.2 902.1h0M626.2 901.2h0M625.9 899.9h0M626.6 899.1h0M625.8 888.9h0M625.6 886.6h0M625.8 881.1h0M625.8 874.9h0M626.3 872.5h0M626.6 869.4h0M626.0 864.9h0M625.9 863.1h0M626.5 860.9h0M625.8 860.8h0M625.6 856.5h0M625.9 850.6h0M625.8 842.4h0M626.5 836.5h0M626.2 834.8h0M626.6 828.6h0M626.5 824.8h0M626.6 814.9h0M626.0 813.8h0M626.2 809.2h0M626.2 808.7h0M628.4 925.7h0M627.4 924.2h0M628.0 923.4h0M627.9 922.9h0M628.1 921.1h0M627.5 920.2h0M627.5 918.5h0M627.8 916.3h0M627.5 911.1h0M627.6 909.0h0M627.5 908.5h0M627.9 906.2h0M628.1 903.4h0M628.5 903.2h0M627.6 895.1h0M628.3 894.6h0M628.1 894.3h0M628.5 893.2h0M627.9 892.8h0M627.5 892.3h0M628.2 888.5h0M628.5 888.0h0M627.7 887.5h0M627.6 886.6h0M627.3 883.7h0M628.3 878.5h0M628.1 868.2h0M627.6 867.7h0M628.4 867.2h0M628.2 864.0h0M628.2 858.9h0M627.5 846.3h0M627.9 844.5h0M627.9 840.8h0M627.7 839.6h0M627.4 835.0h0M627.4 827.7h0M628.4 825.2h0M627.9 824.3h0M627.4 823.2h0M628.4 818.9h0M628.4 816.4h0M628.1 814.6h0M627.5 804.7h0M629.4 928.3h0M629.4 923.4h0M629.6 921.0h0M629.5 916.8h0M629.2 910.9h0M629.0 896.7h0M629.6 891.6h0M629.1 885.2h0M629.9 884.9h0M629.3 883.2h0M629.7 877.1h0M629.6 876.4h0M629.0 873.3h0M629.7 870.8h0M630.0 870.1h0M629.6 868.5h0M629.5 867.2h0M629.4 853.6h0M629.3 851.3h0M629.3 849.3h0M630.1 836.8h0M629.9 836.2h0M629.7 826.8h0M629.3 814.4h0M631.8 930.7h0M631.2 923.0h0M631.7 922.9h0M632.0 922.7h0M632.1 917.5h0M631.5 917.1h0M631.8 916.9h0M631.1 916.6h0M631.1 915.9h0M632.1 910.2h0M631.8 906.7h0M631.2 905.1h0M631.0 904.4h0M631.3 904.2h0M631.0 901.8h0M631.5 899.3h0M631.0 898.3h0M632.0 896.7h0M631.8 892.6h0M631.2 891.5h0M631.1 886.9h0M631.4 885.0h0M631.0 884.3h0M631.6 883.1h0M631.9 880.9h0M632.1 877.6h0M631.3 876.7h0M631.1 875.3h0M631.5 874.2h0M631.3 872.5h0M631.8 867.4h0M631.6 858.5h0M631.7 855.3h0M631.3 845.8h0M631.6 838.3h0M631.9 832.3h0M631.7 830.9h0M631.1 828.3h0M632.1 826.2h0M631.1 824.4h0M631.5 819.3h0M631.1 815.0h0M631.5 811.5h0M631.5 807.4h0M632.1 803.4h0M633.4 937.2h0M632.6 937.2h0M632.9 936.5h0M632.5 923.9h0M633.1 922.5h0M632.8 921.8h0M633.2 918.3h0M633.3 913.6h0M632.6 912.4h0M633.2 912.4h0M633.3 907.6h0M632.9 904.7h0M633.0 904.6h0M632.8 904.2h0M633.1 899.6h0M633.5 892.4h0M633.5 888.1h0M633.3 887.5h0M633.1 884.0h0M633.0 883.6h0M633.3 875.2h0M633.4 865.3h0M632.9 865.0h0M633.3 857.6h0M633.0 854.7h0M632.9 852.6h0M633.0 850.7h0M632.6 846.7h0M633.2 845.8h0M633.0 841.9h0M632.9 838.4h0M634.8 945.4h0M634.6 944.4h0M634.5 944.3h0M634.8 942.7h0M634.1 938.7h0M634.4 937.7h0M635.2 936.0h0M634.9 928.6h0M634.7 920.7h0M634.2 917.8h0M634.4 913.8h0M634.4 911.3h0M634.6 909.0h0M634.7 902.2h0M634.4 897.3h0M634.7 894.8h0M634.6 893.5h0M634.3 893.4h0M634.9 892.0h0M634.9 888.8h0M634.3 888.5h0M634.2 878.7h0M634.7 878.0h0M635.1 875.5h0M634.8 867.6h0M634.6 865.0h0M634.2 845.7h0M637.0 945.2h0M637.1 944.7h0M636.1 944.3h0M636.9 941.0h0M636.7 936.7h0M636.1 936.5h0M637.0 933.5h0M637.0 932.2h0M636.6 930.8h0M636.9 927.3h0M636.2 924.1h0M637.0 920.5h0M636.8 916.0h0M636.4 913.0h0M637.2 894.5h0M636.9 893.4h0M636.6 887.8h0M636.5 886.4h0M637.0 885.7h0M637.3 882.6h0M637.2 881.6h0M636.7 877.0h0M636.1 876.4h0M636.2 873.3h0M636.4 868.5h0M638.8 954.6h0M638.4 953.9h0M639.0 950.8h0M638.9 949.4h0M639.1 941.5h0M639.0 938.6h0M638.8 938.4h0M638.4 932.5h0M638.4 926.5h0M638.4 920.5h0M638.7 917.7h0M638.1 917.3h0M638.5 915.7h0M639.1 912.0h0M638.1 901.3h0M638.1 896.2h0M638.1 895.9h0M638.8 885.9h0M638.7 882.3h0M639.6 965.2h0M639.7 963.1h0M639.6 962.9h0M640.7 961.4h0M640.0 961.0h0M639.9 960.0h0M640.0 959.3h0M639.7 948.3h0M640.4 942.9h0M640.3 940.9h0M640.7 938.3h0M640.4 938.1h0M640.3 932.4h0M639.6 920.1h0M640.4 916.4h0M640.1 916.1h0M640.3 909.2h0M640.5 907.1h0M639.8 896.0h0M640.5 894.5h0M642.0 969.6h0M641.3 968.3h0M641.7 968.2h0M641.3 966.6h0M642.3 965.9h0M641.7 961.8h0M642.4 961.5h0M642.2 954.3h0M642.1 950.6h0M641.9 949.5h0M641.6 949.5h0M641.4 948.8h0M641.8 944.4h0M642.2 943.0h0M642.1 939.3h0M641.5 930.4h0M641.3 927.9h0M642.1 922.2h0M641.7 922.0h0M642.2 921.7h0M641.5 917.3h0M643.7 979.6h0M643.7 976.3h0M643.7 970.9h0M644.5 963.7h0M643.4 960.8h0M645.8 989.1h0M645.6 988.2h0M670.9 977.4h0M671.4 977.4h0M670.8 976.5h0M670.7 971.9h0M671.4 971.4h0M672.9 897.1h0M672.7 896.7h0M672.6 896.4h0M672.0 888.2h0M673.1 886.3h0M672.5 886.1h0M673.0 881.6h0M672.7 879.5h0M672.8 877.4h0M672.8 866.7h0M672.2 866.0h0M672.8 864.1h0M672.3 859.6h0M672.1 859.0h0M672.0 854.9h0M672.5 854.9h0M673.1 850.1h0M672.4 849.2h0M672.1 848.9h0M672.9 848.2h0M672.8 844.6h0M672.2 840.2h0M672.6 829.9h0M672.9 829.0h0M672.0 828.1h0M672.1 823.8h0M673.0 809.3h0M673.1 808.0h0M672.6 805.2h0M673.0 804.1h0M672.3 801.1h0M672.3 799.9h0M673.1 798.6h0M672.7 795.8h0M672.0 791.4h0M672.9 788.4h0M673.1 788.1h0M672.0 785.8h0M672.5 773.8h0M673.1 767.8h0M672.3 767.7h0M672.3 765.3h0M672.4 761.0h0M672.5 758.8h0M672.6 753.5h0M673.0 751.7h0M673.2 749.6h0M672.1 749.1h0M673.0 744.8h0M672.4 744.7h0M672.8 739.9h0M672.8 736.9h0M672.7 729.3h0M672.2 727.5h0M672.9 726.0h0M673.7 895.5h0M674.2 894.1h0M673.7 890.9h0M673.7 887.8h0M674.2 887.2h0M673.9 883.3h0M673.7 880.4h0M674.0 879.9h0M674.6 879.7h0M674.7 877.3h0M674.3 875.6h0M674.8 875.5h0M674.4 874.5h0M674.2 869.2h0M674.6 868.0h0M674.8 863.4h0M674.1 862.0h0M674.4 860.0h0M674.7 856.8h0M674.0 854.0h0M674.6 849.7h0M673.8 844.4h0M674.7 842.9h0M673.9 841.5h0M674.5 841.4h0M674.1 841.3h0M673.9 839.5h0M674.5 837.7h0M674.1 837.4h0M674.4 834.2h0M674.0 831.7h0M674.8 830.4h0M674.0 828.4h0M673.8 826.5h0M674.8 823.9h0M673.7 820.7h0M673.9 815.0h0M674.0 814.9h0M673.7 812.6h0M674.2 798.3h0M674.5 798.3h0M673.7 786.1h0M673.8 785.5h0M674.1 784.0h0M674.8 783.9h0M674.0 779.1h0M674.2 775.8h0M674.0 770.4h0M674.5 759.9h0M674.3 756.5h0M673.7 752.8h0M674.2 745.0h0M674.1 744.2h0M674.6 739.6h0M674.1 738.7h0M673.7 722.4h0M676.7 905.2h0M675.9 904.2h0M675.9 895.1h0M676.6 893.4h0M676.3 891.3h0M676.1 887.6h0M676.3 884.4h0M676.8 875.2h0M676.9 874.5h0M676.2 872.8h0M676.0 872.4h0M676.1 872.3h0M676.6 870.9h0M676.6 864.4h0M676.9 855.0h0M676.1 849.2h0M676.5 849.1h0M677.0 847.8h0M676.9 847.7h0M676.6 846.7h0M676.4 842.9h0M676.8 838.6h0M676.8 838.2h0M676.8 825.7h0M676.5 823.0h0M676.5 822.7h0M676.1 821.6h0M676.1 813.4h0M676.8 812.7h0M676.8 810.4h0M676.9 809.8h0M676.9 808.1h0M676.2 805.1h0M675.9 803.7h0M675.9 801.2h0M676.1 793.7h0M676.3 792.4h0M676.9 790.3h0M676.2 790.1h0M676.4 787.5h0M676.4 780.7h0M676.6 777.1h0M676.3 775.5h0M675.9 774.7h0M676.6 763.9h0M676.8 763.5h0M676.3 761.6h0M676.1 756.2h0M676.7 752.2h0M676.0 748.3h0M676.7 747.9h0M676.2 744.5h0M676.5 734.6h0M677.6 913.4h0M677.9 912.8h0M678.1 911.7h0M677.4 911.4h0M677.5 911.2h0M678.3 910.0h0M677.6 907.7h0M678.5 905.2h0M677.5 896.1h0M677.5 892.7h0M677.8 887.0h0M678.5 884.1h0M677.7 882.4h0M678.2 882.2h0M678.2 878.9h0M677.8 878.6h0M677.5 877.7h0M677.6 877.3h0M678.4 871.4h0M677.7 868.6h0M678.4 867.3h0M677.5 866.9h0M677.7 857.8h0M677.7 848.0h0M677.7 847.7h0M678.4 841.2h0M678.0 838.1h0M677.8 836.1h0M677.8 826.6h0M678.1 826.2h0M677.7 824.5h0M678.2 814.2h0M678.5 811.9h0M677.6 811.2h0M677.5 797.7h0M677.7 792.4h0M678.5 792.0h0M677.7 786.9h0M678.2 785.9h0M677.7 780.2h0M677.8 780.0h0M677.7 776.7h0M677.9 770.5h0M678.0 769.4h0M679.6 922.8h0M679.9 922.5h0M680.1 922.0h0M679.6 920.1h0M680.0 913.7h0M680.3 909.5h0M679.6 908.7h0M679.9 907.8h0M679.5 904.1h0M679.3 903.2h0M680.4 898.7h0M680.0 896.2h0M679.7 894.6h0M679.3 893.3h0M679.9 892.5h0M680.1 891.3h0M679.8 890.8h0M679.6 883.2h0M679.3 870.3h0M680.5 859.6h0M680.5 851.8h0M679.9 839.6h0M679.5 834.0h0M679.5 828.1h0M680.2 821.3h0M680.2 817.1h0M680.3 815.7h0M680.1 806.3h0M679.6 802.0h0M680.2 800.0h0M680.0 796.6h0M679.3 796.0h0M680.3 793.4h0M679.5 774.0h0M681.9 932.9h0M681.7 930.7h0M681.1 930.5h0M681.0 924.2h0M682.1 921.6h0M681.6 918.9h0M681.9 915.5h0M681.1 914.5h0M681.7 913.5h0M681.4 912.8h0M681.4 911.0h0M682.1 908.1h0M681.9 905.9h0M682.0 905.1h0M681.1 899.4h0M681.5 899.4h0M681.0 898.6h0M681.9 898.0h0M681.7 896.0h0M681.1 894.0h0M682.1 881.5h0M682.1 879.7h0M681.5 876.1h0M682.1 875.7h0M681.5 875.6h0M681.8 874.3h0M681.0 872.7h0M681.0 871.1h0M682.1 868.2h0M682.1 864.6h0M681.6 861.8h0M681.0 858.9h0M681.5 857.7h0M682.0 855.0h0M681.4 850.7h0M681.7 835.7h0M681.6 835.5h0M681.4 834.1h0M682.0 830.5h0M682.1 825.5h0M681.1 822.2h0M682.0 818.6h0M682.1 817.0h0M681.7 816.7h0M681.7 815.6h0M681.6 814.5h0M682.1 813.6h0M681.6 802.9h0M681.6 802.1h0M682.1 801.1h0M681.1 792.8h0M681.7 792.0h0M682.6 976.1h0M682.5 975.2h0M683.4 971.1h0M683.7 969.1h0M683.2 962.0h0M683.4 961.4h0M683.6 961.4h0M683.3 956.9h0M683.4 956.5h0M683.6 951.8h0M682.9 950.0h0M683.0 943.3h0M683.4 939.6h0M683.2 938.8h0M683.7 932.9h0M682.9 931.9h0M682.7 929.6h0M683.3 929.5h0M683.0 924.3h0M683.0 923.7h0M683.2 923.2h0M682.8 922.9h0M683.1 922.7h0M683.3 912.3h0M682.6 911.7h0M682.6 906.5h0M682.5 902.0h0M683.5 901.5h0M684.8 978.5h0M684.3 974.9h0M684.5 973.3h0M684.7 973.3h0M684.8 970.7h0M684.7 965.9h0M686.5 988.3h0M116.6 1014.2h0M119.1 1010.3h0M121.4 1006.7h0M124.7 999.9h0M126.7 999.9h0M128.5 1005.6h0M130.9 1011.7h0M132.9 1012.2h0M135.5 1012.7h0M137.5 1014.7h0M139.3 1011.4h0M142.4 1002.9h0M145.8 1005.0h0M148.4 1004.1h0M151.2 1005.4h0M153.0 1006.0h0M154.7 1005.8h0M157.2 1003.7h0M160.5 1003.4h0M162.3 1006.3h0M164.1 1005.2h0M167.3 1002.7h0M170.5 1003.3h0M173.2 1007.1h0M175.0 1001.4h0M176.9 1003.4h0M178.9 1002.8h0M181.6 994.8h0M184.6 991.5h0M187.2 992.4h0M189.7 994.5h0M191.9 990.8h0M194.7 993.9h0M197.0 990.9h0M199.1 998.0h0M201.4 998.9h0M203.1 995.8h0M205.0 997.8h0M206.8 993.6h0M209.3 978.8h0M211.6 983.7h0M213.8 983.0h0M216.9 976.5h0M219.2 966.0h0M222.1 978.8h0M225.2 994.4h0M228.1 993.8h0M231.1 1007.0h0M234.4 1005.1h0M236.1 1008.4h0M239.5 1000.5h0M242.1 997.6h0M244.6 998.4h0M247.0 996.1h0M249.4 1000.9h0M251.4 1002.7h0M253.8 1000.6h0M256.0 998.2h0M258.6 998.5h0M260.5 1007.0h0M263.1 1007.9h0M266.4 1007.4h0M268.5 1001.8h0M270.9 1001.8h0M272.6 997.9h0M275.5 998.8h0M277.3 1001.7h0M279.1 997.7h0M282.4 986.2h0M284.2 980.6h0M285.9 986.1h0M288.0 986.2h0M289.8 990.4h0M293.1 981.7h0M295.0 985.0h0M296.7 994.0h0M298.6 999.6h0M300.2 1002.5h0M302.3 998.5h0M304.8 1005.4h0M307.9 1007.0h0M311.2 1004.3h0M314.4 1005.4h0M316.5 999.6h0M318.4 1003.3h0M321.5 998.2h0M323.6 997.9h0M326.3 1003.3h0M328.5 1003.1h0M330.9 1006.1h0M332.9 1005.1h0M335.8 1007.0h0M338.4 1006.8h0M340.4 1011.9h0M343.1 1008.8h0M345.2 1010.7h0M348.3 1010.8h0M350.6 1008.6h0M353.9 1008.0h0M356.6 1010.1h0M359.2 1013.2h0M361.1 1012.7h0M362.7 1012.2h0M366.0 1010.6h0M368.4 1012.7h0M370.5 1013.6h0M372.9 1010.0h0M376.0 1013.1h0M378.3 1009.9h0M381.0 1007.5h0M383.3 1011.0h0M385.8 1010.5h0M387.6 1013.3h0M389.9 1008.7h0M393.2 1001.8h0M395.3 1004.6h0M396.9 1001.7h0M399.7 999.8h0M401.7 999.6h0M404.0 1005.3h0M406.7 1007.7h0M409.6 1004.7h0M411.2 1016.2h0M414.5 1016.7h0M417.5 1010.9h0M420.5 1005.3h0M422.2 1006.9h0M424.8 1011.4h0M428.0 1015.0h0M430.9 1010.8h0M433.6 1011.2h0M436.0 1009.7h0M439.0 1007.8h0M442.0 997.4h0M444.9 1002.4h0M448.0 1016.7h0M450.8 1013.8h0M454.1 1006.5h0M457.4 998.6h0M459.4 998.4h0M462.7 1001.4h0M465.0 998.4h0M467.7 1007.2h0M469.9 1005.6h0M472.2 1012.9h0M475.2 1010.5h0M478.5 1005.2h0M481.4 1003.6h0M484.0 995.2h0M486.7 994.1h0M488.9 1003.3h0M491.2 1007.4h0M493.9 1012.0h0M496.7 1011.7h0M498.4 1010.0h0M501.4 1018.0h0M503.6 1014.5h0M506.4 1015.7h0M508.0 1014.2h0M510.9 1013.0h0M514.3 1010.0h0M517.1 1012.2h0M520.4 1007.2h0M523.1 1007.6h0M525.2 1002.9h0M527.6 1004.1h0M530.6 1005.3h0M532.9 1007.4h0M535.5 1007.1h0M537.9 1007.0h0M540.5 1004.1h0M542.4 1009.7h0M544.8 1007.8h0M547.4 1004.6h0M549.1 1010.4h0M551.3 1004.1h0M552.9 1007.8h0M554.5 1007.5h0M557.2 1007.7h0M560.3 1007.7h0M563.3 1004.2h0M565.7 1007.9h0M568.4 1010.3h0M570.4 1011.5h0M572.5 1015.1h0M575.4 1006.5h0M577.9 1004.0h0M580.6 995.8h0M583.0 998.3h0M585.7 1007.4h0M589.0 1020.2h0M591.2 1021.0h0M603.6 1020.1h0M606.9 1011.2h0M609.1 1016.4h0M611.0 1012.8h0M613.9 1016.0h0M617.2 1008.3h0M619.3 1012.5h0M622.2 1011.3h0M625.0 1004.5h0M626.9 999.3h0M629.3 1002.4h0M631.4 1010.2h0M634.2 1002.3h0M636.9 1000.4h0M639.1 1007.0h0M642.3 1013.9h0M644.8 1017.8h0M671.0 1019.7h0M674.0 1014.6h0M676.9 1016.1h0M678.6 1014.9h0M681.8 1018.4h0M684.8 1020.0h0M704.4 1015.2h0M707.6 1018.7h0M709.4 1023.2h0M711.8 1019.8h0M714.4 1015.1h0M717.5 1016.8h0M725.1 1023.3h0M728.3 1018.3h0M730.3 1023.3h0M732.2 1019.5h0M751.2 1021.2h0M753.0 1015.3h0M755.3 1020.9h0M757.3 1015.1h0M760.6 1015.6h0M763.0 1016.7h0M765.3 1021.0h0M766.9 1016.8h0M769.1 1008.1h0M771.6 994.7h0M773.3 991.7h0M776.2 994.2h0M779.3 997.3h0M781.7 1018.3h0M784.1 1016.0h0M787.2 1016.0h0M790.1 1020.1h0M792.1 1018.6h0M793.9 1018.6h0M796.5 1023.1h0M798.8 1018.1h0M801.9 1015.1h0M804.7 1017.9h0M806.7 1013.8h0M809.4 1011.6h0M811.2 1017.4h0M813.8 1017.8h0M816.7 1018.2h0M819.2 1015.7h0M821.9 1013.8h0M824.4 1011.0h0M826.7 1011.3h0M829.1 1017.5h0M831.2 1012.8h0M834.4 1021.5h0M844.5 1023.0h0M859.2 1024.5h0M861.5 1023.7h0M863.4 1021.5h0M865.4 1022.6h0M867.9 1023.0h0M870.6 1021.4h0M873.2 1024.4h0M876.5 1020.8h0M879.5 1024.2h0M881.6 1017.1h0M903.2 1021.2h0M938.4 1022.3h0M967.7 1023.6h0M970.3 1026.2h0M1291.6 1023.1h0M1294.6 1018.4h0M1298.0 1017.8h0M1300.1 1020.5h0M1302.5 1023.3h0M1305.6 1023.8h0M1324.6 1016.6h0M1327.3 1024.1h0M1330.0 1021.3h0M1337.7 1021.1h0M1339.8 1017.2h0M1343.1 1023.2h0M1345.2 1018.6h0M1371.7 1022.1h0M1374.0 1021.0h0M1376.3 1014.8h0M1379.5 1019.5h0M1382.9 1018.4h0M1385.0 1020.2h0M1387.5 1021.3h0M1390.7 1023.3h0M1393.0 1018.3h0M1396.2 1024.2h0M1398.2 1016.0h0M1400.7 1016.4h0M1403.2 1012.8h0M1405.8 1014.1h0M1409.2 1019.8h0M1412.4 1014.2h0M1414.6 1017.8h0M1416.5 1020.7h0M1419.0 1015.9h0M1421.4 1017.3h0M1423.3 1016.3h0M1425.0 1017.9h0M1428.1 1018.3h0M1431.1 1012.0h0M1433.3 1017.6h0M1436.6 1017.3h0M1439.2 1018.7h0M1442.4 1014.4h0M1445.2 1012.4h0M1447.5 1009.7h0M1450.8 1008.1h0M1452.9 1014.9h0M1454.8 1008.8h0M1456.7 1011.2h0M1459.0 1002.1h0M1461.5 999.7h0M117.6 906.3h0M117.6 902.1h0M119.8 878.8h0M120.8 870.8h0M122.6 860.6h0M123.1 856.1h0M123.1 850.5h0M123.9 845.1h0M125.9 852.8h0M125.7 847.4h0M129.6 866.7h0M129.2 862.3h0M132.0 913.1h0M132.4 904.4h0M132.6 899.5h0M135.1 929.3h0M134.9 921.4h0M135.3 917.9h0M137.8 915.2h0M143.9 894.2h0M143.1 889.1h0M146.0 879.0h0M145.6 873.6h0M145.9 868.7h0M149.0 854.1h0M149.1 848.7h0M148.2 845.0h0M149.9 841.0h0M152.7 847.3h0M154.8 824.1h0M155.6 811.1h0M158.0 836.9h0M159.1 833.3h0M157.8 825.8h0M161.9 855.4h0M162.5 835.5h0M167.2 896.5h0M167.7 888.0h0M166.9 882.5h0M169.4 887.5h0M170.1 879.3h0M172.6 883.8h0M171.8 875.2h0M174.3 880.6h0M175.6 876.0h0M174.0 870.8h0M175.2 867.3h0M175.8 863.6h0M178.0 879.2h0M177.9 874.2h0M181.1 878.0h0M181.2 873.3h0M182.2 869.1h0M183.6 878.7h0M186.4 879.5h0M186.7 875.9h0M186.6 871.2h0M186.1 866.1h0M189.6 880.6h0M190.0 876.6h0M192.7 877.3h0M192.5 874.0h0M195.4 883.5h0M195.3 870.9h0M197.3 883.6h0M201.1 891.9h0M203.6 894.8h0M203.4 876.2h0M206.3 895.9h0M206.3 891.9h0M206.0 886.6h0M205.5 873.6h0M209.3 829.7h0M209.0 824.5h0M216.4 788.0h0M215.6 784.4h0M216.9 780.6h0M216.8 771.3h0M218.6 788.0h0M219.2 779.0h0M218.1 774.4h0M218.0 770.3h0M218.5 765.4h0M221.7 788.0h0M221.1 784.1h0M221.3 780.7h0M220.8 776.2h0M221.0 763.2h0M221.1 758.3h0M224.1 788.0h0M224.4 784.2h0M224.2 779.3h0M223.7 775.2h0M228.4 892.4h0M228.6 888.9h0M229.4 879.3h0M228.3 874.4h0M229.0 870.8h0M229.1 862.4h0M230.5 854.2h0M231.1 896.4h0M232.4 892.8h0M232.1 889.0h0M234.9 894.9h0M238.1 897.9h0M239.4 894.3h0M239.5 888.7h0M239.4 883.1h0M239.4 878.8h0M242.8 869.5h0M242.3 865.7h0M245.3 852.9h0M244.9 849.2h0M247.7 833.1h0M247.1 829.5h0M249.3 778.6h0M252.5 787.0h0M252.6 783.0h0M252.4 777.3h0M252.7 773.5h0M252.5 770.2h0M252.2 764.9h0M253.6 759.8h0M252.5 756.0h0M252.7 743.6h0M252.5 732.6h0M266.9 817.1h0M266.5 812.7h0M266.2 809.3h0M265.6 804.2h0M268.8 840.8h0M268.5 837.1h0M268.8 833.5h0M269.1 828.8h0M268.3 823.4h0M269.1 812.6h0M271.2 862.7h0M271.5 857.3h0M270.7 851.8h0M272.6 873.8h0M274.5 855.4h0M273.5 846.8h0M274.7 837.8h0M277.5 846.9h0M276.1 834.7h0M277.1 816.3h0M279.8 811.3h0M278.7 806.1h0M279.5 801.2h0M279.9 792.3h0M280.0 778.7h0M281.5 793.2h0M283.3 795.7h0M284.3 792.0h0M284.7 787.6h0M284.2 782.9h0M284.3 775.3h0M283.0 771.3h0M286.2 800.9h0M290.4 805.0h0M293.2 782.8h0M292.0 762.6h0M300.6 861.0h0M300.9 856.9h0M300.7 851.3h0M300.6 843.8h0M299.7 839.7h0M303.5 893.9h0M303.5 884.5h0M304.2 878.9h0M303.6 864.0h0M306.4 890.8h0M306.9 887.1h0M307.1 879.0h0M307.1 864.8h0M306.5 856.2h0M308.4 867.2h0M309.5 861.7h0M308.9 848.5h0M310.6 878.2h0M311.4 873.3h0M311.4 860.8h0M311.9 852.3h0M313.2 877.1h0M313.8 856.7h0M313.4 853.1h0M314.1 849.1h0M316.2 868.4h0M317.1 852.8h0M318.8 867.1h0M319.5 862.4h0M319.8 858.8h0M321.7 868.5h0M322.3 864.5h0M324.2 869.3h0M323.6 864.6h0M324.4 851.0h0M324.9 845.7h0M325.1 841.9h0M325.5 838.6h0M327.2 864.4h0M330.0 867.0h0M328.8 861.6h0M331.1 846.5h0M332.3 875.0h0M332.4 860.3h0M335.0 882.2h0M333.8 877.2h0M334.7 873.6h0M335.3 859.6h0M334.0 849.7h0M337.0 863.7h0M337.0 859.1h0M336.9 854.6h0M338.1 849.7h0M336.6 844.4h0M336.9 835.8h0M337.0 832.5h0M336.5 828.8h0M340.1 822.0h0M339.6 816.6h0M341.7 796.7h0M342.4 792.8h0M345.0 792.2h0M346.3 903.3h0M349.9 936.2h0M349.0 931.5h0M350.3 924.8h0M351.0 920.5h0M355.1 930.2h0M357.7 936.8h0M362.3 929.0h0M368.1 871.8h0M369.2 871.4h0M373.8 918.9h0M374.6 913.5h0M378.2 939.6h0M385.3 869.6h0M387.4 865.9h0M389.0 862.5h0M388.9 859.0h0M390.5 863.6h0M393.3 863.2h0M397.9 888.6h0M401.1 911.4h0M401.2 907.8h0M403.9 918.2h0M406.9 902.0h0M408.8 892.2h0M409.8 887.3h0M409.5 883.3h0M427.3 897.1h0M426.7 892.3h0M426.8 882.7h0M429.3 924.0h0M431.9 932.4h0M431.8 927.0h0M432.0 922.6h0M431.6 918.0h0M431.9 904.7h0M434.8 917.7h0M434.5 914.4h0M434.8 910.9h0M435.0 906.8h0M435.2 898.5h0M442.1 836.6h0M442.2 832.7h0M500.4 883.9h0M501.4 880.6h0M503.0 928.8h0M502.7 925.6h0M503.2 920.8h0M503.0 916.9h0M503.0 894.6h0M506.1 898.5h0M506.0 893.3h0M505.8 889.0h0M506.5 884.6h0M508.6 889.7h0M508.2 884.3h0M507.4 880.9h0M511.5 889.7h0M512.2 886.1h0M510.9 881.0h0M510.9 876.5h0M510.6 871.7h0M510.9 863.8h0M514.1 892.8h0M515.2 882.9h0M515.0 879.6h0M521.5 884.9h0M520.8 880.1h0M527.6 880.3h0M527.9 872.7h0M527.2 865.6h0M530.2 862.3h0M533.4 877.9h0M533.5 873.7h0M532.8 869.5h0M532.8 865.4h0M535.2 870.0h0M535.4 866.2h0M535.2 862.9h0M534.7 858.1h0M535.3 853.2h0M535.3 843.7h0M535.5 838.5h0M604.7 928.2h0M605.6 923.8h0M608.4 885.1h0M607.9 880.0h0M607.4 876.6h0M607.9 868.7h0M608.0 865.5h0M607.8 856.8h0M609.8 884.2h0M610.6 878.6h0M611.4 875.3h0M612.8 885.7h0M615.5 869.0h0M614.8 865.6h0M635.1 847.7h0M634.7 842.4h0M635.7 838.4h0M639.0 875.5h0M639.4 872.2h0M638.7 867.6h0M638.5 863.1h0M638.6 855.3h0M640.7 893.4h0M639.8 888.5h0M640.0 878.1h0M640.0 874.6h0M640.0 870.6h0M640.7 866.8h0M642.6 916.1h0M642.3 910.5h0M641.9 905.2h0M641.8 901.3h0M642.6 896.7h0M643.3 893.0h0M641.9 882.9h0M643.3 874.9h0M641.8 862.5h0M642.4 852.5h0M683.4 875.8h0M695.7 1006.7h0M699.1 999.7h0M699.8 998.3h0M462.3 610.1h0M462.7 617.8h0M461.9 627.3h0M462.0 643.1h0M462.5 656.6h0M462.7 660.9h0M462.0 665.6h0M446.5 759.6h0M445.6 767.9h0M445.5 771.5h0M445.6 776.1h0M446.3 779.8h0M446.2 784.4h0M446.2 788.2h0M486.0 716.9h0M484.2 738.3h0M485.5 742.2h0M487.0 750.9h0M487.0 762.5h0M487.1 776.0h0M485.7 788.8h0M487.0 796.2h0M543.2 633.4h0M542.6 643.1h0M542.4 654.1h0M544.1 659.5h0M544.6 667.0h0M542.1 675.9h0M542.0 689.4h0M542.6 709.4h0M544.6 713.3h0M548.0 690.2h0M551.1 698.6h0M544.2 702.4h0M548.3 705.8h0M546.9 710.4h0M543.5 715.1h0M543.2 714.3h0M549.7 719.0h0M549.7 723.1h0M547.7 727.7h0M548.0 728.2h0M543.8 731.1h0M548.8 732.1h0M551.0 736.9h0M545.6 735.5h0M544.0 741.2h0M551.1 745.4h0M550.8 743.6h0M551.5 749.4h0M552.4 757.2h0M547.8 756.3h0M542.2 761.3h0M545.5 761.0h0M551.9 765.4h0M545.0 769.5h0M553.4 774.8h0M547.4 777.4h0M542.7 778.9h0M549.4 605.7h0M549.4 622.9h0M549.4 626.1h0M549.7 629.9h0M549.6 643.1h0M549.1 656.3h0M582.6 615.0h0M582.6 624.4h0M582.4 629.1h0M581.9 640.9h0M581.9 645.4h0M581.8 649.9h0M581.9 652.9h0M622.5 690.6h0M622.4 699.4h0M623.8 773.6h0M622.3 791.7h0M638.9 781.3h0M639.1 788.7h0M639.0 796.5h0M638.7 802.2h0M639.1 810.4h0M638.7 814.5h0M638.3 823.4h0M215.5 987.4h0M220.3 972.8h0M204.3 1007.3h0M155.5 1008.3h0M265.4 1011.7h0M278.8 1005.7h0M288.2 995.8h0M127.0 831.6h0M128.0 841.6h0M126.0 845.0h0M147.6 835.6h0M147.6 839.0h0M148.4 842.4h0M157.5 823.0h0M157.9 835.0h0M158.9 845.0h0M172.5 823.6h0M172.5 842.0h0M172.5 845.6h0M179.5 849.6h0M179.5 864.3h0M188.3 856.9h0M188.3 862.9h0M192.9 851.0h0M193.9 860.9h0M170.9 871.9h0M173.9 874.9h0M179.5 873.9h0M169.5 883.9h0M186.9 869.9h0M235.8 880.9h0M239.8 868.9h0M238.8 860.9h0M243.8 846.0h0M235.8 885.9h0M310.7 826.0h0M310.7 839.6h0M310.7 846.0h0M315.7 846.0h0M310.7 855.9h0M309.7 864.9h0M315.7 850.0h0M325.3 822.0h0M325.3 829.0h0M325.3 838.0h0M331.3 842.0h0M325.3 852.0h0M325.3 859.9h0M368.6 822.0h0M368.6 828.4h0M368.6 837.6h0M368.6 850.4h0M368.6 857.5h0M368.6 864.9h0M368.6 872.9h0M368.6 879.9h0M368.6 885.9h0M368.6 891.9h0M368.6 899.9h0M368.6 905.9h0M391.6 851.0h0M385.6 856.3h0M393.6 854.4h0M407.6 856.9h0M407.6 873.9h0M408.6 883.9h0M406.6 895.9h0M353.3 919.5h0M353.3 923.9h0M353.3 928.8h0M353.3 933.8h0M425.6 845.0h0M425.6 859.9h0M425.6 862.9h0M425.6 866.9h0M425.6 873.9h0M425.6 877.9h0M419.0 874.9h0M507.9 865.9h0M507.9 869.9h0M513.3 861.9h0M513.3 867.9h0M513.3 873.9h0M508.9 877.9h0M525.8 851.0h0M526.8 862.9h0M526.8 872.9h0M527.8 879.9h0M530.8 841.0h0M531.8 846.0h0M535.8 830.0h0M535.8 824.0h0M608.3 845.0h0M608.3 852.0h0M608.3 859.9h0M608.3 867.9h0M608.3 877.9h0M638.7 827.0h0M637.7 836.0h0M641.7 840.0h0M639.7 848.0h0M641.7 855.9h0M641.7 868.9h0M641.7 879.9h0M642.7 885.9h0M642.7 897.9h0M642.7 905.9h0M637.7 1006.7h0M631.7 1011.7h0M631.3 1006.7h0M574.8 1018.7h0M449.5 1019.7h0M473.5 1016.7h0M879.4 946.8h0M879.4 955.8h0M879.4 959.8h0M820.4 868.9h0M824.8 872.9h0M820.4 878.9h0M824.8 877.9h0M825.4 891.9h0M825.4 896.9h0M1222.1 986.8h0M1222.1 989.8h0M1222.1 992.8h0M1222.1 995.8h0M1221.7 1001.7h0M1282.6 984.8h0M1020.4 998.7h0M1082.3 1008.7h0M1299.3 941.1h0M1299.3 944.4h0M1299.3 951.9h0M1299.3 955.2h0M1300.4 965.1h0M1300.4 967.6h0M1301.6 973.4h0M1373.3 972.6h0M1373.3 975.9h0M1458.5 889.0h0M1458.5 891.5h0M1458.5 908.0h0M1461.8 914.3h0M1401.4 927.9h0M1417.5 945.3h0M126.0 812.7h0M128.4 811.3h0M155.5 808.3h0M159.5 815.7h0M156.9 821.7h0M172.5 822.7h0M210.5 781.7h0M210.5 784.7h0M211.5 802.7h0M211.5 805.7h0M210.9 812.7h0M210.3 819.7h0M217.5 709.4h0M217.5 734.2h0M217.5 765.8h0M217.5 769.7h0M217.5 773.7h0M217.5 777.7h0M216.9 786.7h0M217.9 791.7h0M216.9 797.7h0M218.3 803.7h0M217.5 809.7h0M217.9 815.7h0M217.1 821.7h0M222.5 727.4h0M222.5 733.4h0M222.5 743.8h0M222.5 747.8h0M222.5 750.8h0M222.5 754.8h0M221.9 757.4h0M222.5 768.4h0M223.2 781.7h0M223.2 786.7h0M222.9 791.7h0M221.9 796.7h0M223.4 801.7h0M222.5 807.7h0M223.1 812.7h0M223.8 817.7h0M219.9 789.7h0M220.3 795.7h0M219.9 801.7h0M220.7 806.7h0M220.1 813.7h0M219.9 819.7h0M251.4 648.3h0M251.4 655.3h0M251.4 662.3h0M251.4 686.5h0M251.4 694.5h0M251.4 735.4h0M251.8 738.8h0M251.8 742.8h0M251.8 746.8h0M251.8 749.8h0M252.4 755.4h0M252.8 772.1h0M251.8 773.7h0M252.4 781.7h0M252.8 785.7h0M251.8 790.7h0M253.8 793.7h0M252.6 798.7h0M256.8 786.7h0M257.4 791.7h0M255.8 796.7h0M258.2 799.7h0M260.8 800.7h0M258.8 804.7h0M252.2 804.7h0M251.4 807.7h0M255.8 809.7h0M259.8 815.7h0M256.8 814.7h0M248.2 817.7h0M253.8 819.7h0M257.8 821.7h0M267.4 745.4h0M267.4 748.8h0M267.4 751.8h0M267.4 754.8h0M267.4 762.2h0M267.4 771.3h0M267.4 774.7h0M267.4 778.7h0M267.4 782.1h0M267.4 791.3h0M267.4 809.7h0M267.4 813.7h0M267.4 817.7h0M267.4 821.7h0M280.4 740.2h0M280.4 754.8h0M284.8 756.4h0M280.4 762.2h0M280.4 767.8h0M284.4 773.3h0M283.4 778.7h0M284.8 782.7h0M285.4 787.7h0M280.4 789.7h0M280.4 796.7h0M285.8 795.7h0M283.8 791.7h0M280.8 813.7h0M284.8 810.7h0M285.8 815.7h0M277.8 820.7h0M282.8 819.7h0M293.4 631.5h0M293.4 633.1h0M293.4 679.5h0M293.4 704.4h0M294.2 717.4h0M294.2 719.4h0M294.4 747.8h0M294.4 758.8h0M293.4 766.4h0M293.4 776.7h0M293.8 781.7h0M294.7 785.7h0M293.8 789.7h0M292.8 794.7h0M295.3 797.7h0M293.8 801.7h0M294.7 805.7h0M293.4 809.7h0M294.9 813.7h0M293.8 817.7h0M294.4 821.7h0M291.8 807.7h0M296.7 803.7h0M296.1 811.7h0M325.3 810.3h0M324.7 814.7h0M325.3 818.7h0M325.3 822.7h0M310.7 823.7h0M343.3 760.4h0M343.3 767.4h0M343.3 781.3h0M343.3 791.3h0M342.7 795.7h0M342.7 800.7h0M342.1 805.7h0M342.7 810.7h0M342.7 815.7h0M341.3 821.7h0M343.7 798.7h0M343.7 808.7h0M368.6 794.7h0M368.6 797.7h0M368.6 803.7h0M368.6 806.7h0M368.6 814.7h0M368.6 821.7h0M530.4 806.3h0M530.4 810.3h0M535.8 811.7h0M535.8 815.7h0M534.8 822.7h0M557.4 752.2h0M557.4 762.2h0M462.3 597.6h0M549.4 601.0h0M582.2 603.0h0M622.3 678.9h0M543.4 634.9h0M482.9 713.8h0M486.9 713.4h0M773.3 741.4h0M774.3 747.8h0M773.3 752.2h0M773.7 762.2h0M773.3 768.7h0M773.3 771.7h0M775.5 775.7h0M770.9 778.7h0M775.9 780.7h0" stroke="#1f77b4" stroke-width="5.5"/><path d="M116.0 977.8L119.0 989.7L122.0 941.3L124.0 957.1L126.4 923.3L129.0 924.9L132.0 990.4L135.0 990.2L138.0 973.5L140.0 972.1L141.6 966.9L143.0 975.7L147.0 928.8L149.0 969.9L151.6 944.7L153.9 941.9L155.9 935.4L158.3 912.7L160.9 952.5L162.9 951.6L166.9 978.8L170.9 940.8L173.9 961.0L175.9 972.4L178.3 944.5L179.9 960.7L181.9 938.4L183.9 955.6L186.9 945.5L189.5 966.9L192.9 928.6L194.9 928.7L197.9 964.3L200.9 952.9L203.9 963.0L206.9 942.3L211.5 884.4L213.9 935.9L216.5 865.6L218.9 904.9L221.5 868.0L223.8 893.6L226.8 975.5L229.8 959.0L233.8 963.2L237.4 972.4L240.2 942.2L242.2 953.8L245.8 930.8L248.8 935.2L251.8 861.3L254.8 923.4L257.4 886.4L260.2 941.4L262.8 931.1L264.4 958.0L266.8 878.4L269.4 955.3L270.8 951.1L272.8 965.1L276.8 916.0L278.8 934.5L280.8 900.5L282.8 911.8L284.8 897.2L286.8 911.1L288.2 912.0L290.4 948.9L292.8 867.6L295.7 904.0L297.7 921.8L300.7 955.0L304.7 970.6L307.7 947.2L309.7 948.4L312.1 963.7L315.7 947.4L319.7 929.7L322.7 970.8L324.7 934.2L326.7 957.9L328.7 958.8L330.7 939.1L332.7 951.0L334.1 946.0L336.7 979.2L338.7 985.7L342.7 886.4L345.7 991.3L348.7 998.6L351.7 998.8L353.7 960.7L355.7 989.6L358.1 975.6L360.1 990.1L362.7 974.3L364.7 995.9L368.0 914.4L370.6 974.3L372.0 952.8L375.6 992.8L377.6 998.2L379.6 990.4L380.6 997.4L383.6 956.4L386.0 939.3L387.6 951.1L390.0 935.8L392.0 946.8L394.0 932.3L396.6 969.7L399.6 970.9L401.6 985.9L403.6 971.8L406.6 939.2L408.6 958.7L410.0 946.9L410.0 944.3L412.0 969.6L413.6 958.5L415.6 972.6L418.0 932.5L420.0 962.6L422.0 953.0L424.4 956.8L427.0 973.0L429.4 992.7L431.6 981.7L435.0 993.8L438.0 914.3L440.0 948.7L441.6 920.0L443.6 974.4L446.3 860.1L448.9 909.9L450.9 948.1L452.5 869.5L454.3 970.8L456.3 877.3L457.9 910.9L459.9 834.0L461.5 853.9L462.3 798.4L463.1 785.0L464.3 799.8L465.5 941.9L467.9 897.8L470.9 909.5L472.3 923.9L473.9 891.4L476.3 951.3L478.9 913.4L480.9 940.4L485.9 865.4L488.5 947.6L491.9 888.4L494.9 958.0L497.9 960.3L500.9 991.0L504.9 1000.0L508.9 941.1L511.9 987.4L513.9 962.0L515.9 968.1L517.4 952.9L520.2 977.7L522.8 978.1L526.8 942.8L528.8 960.0L530.8 943.5L533.4 952.2L535.4 939.4L537.8 950.3L540.8 905.4L543.4 807.0L544.8 832.9L546.4 890.9L548.2 839.5L550.8 869.4L552.8 882.8L556.8 901.3L558.8 904.3L560.8 960.9L562.8 930.6L564.8 952.7L566.8 890.5L568.8 880.3L571.4 961.6L573.4 915.3L575.4 963.1L577.8 821.3L579.4 746.7L580.8 732.9L582.2 760.4L583.4 819.1L584.8 963.0L586.8 873.2L589.7 1022.9L591.7 1008.5L594.7 1013.4L597.7 1012.4L601.7 1014.2L604.7 1006.3L607.7 920.5L609.7 952.4L611.3 932.6L613.7 987.0L615.7 946.8L617.7 935.2L619.7 947.9L622.1 877.1L623.7 903.3L625.3 876.5L627.7 918.1L629.3 861.2L631.7 967.9L633.7 934.6L635.7 954.1L638.1 906.4L640.1 967.3L641.7 950.9L644.1 999.1L646.7 1015.3L648.7 1012.1L651.7 1013.5L654.7 1009.8L657.7 1006.8L660.6 1006.4L665.6 1009.5L668.6 1016.2L670.0 1004.7L671.6 1031.4L674.0 866.8L676.0 1000.5L678.6 873.1L681.2 990.6L685.6 1017.1L689.6 1017.9L694.6 1021.4L698.6 1018.4L701.6 1008.5L704.0 993.3L704.0 991.8L706.4 972.6L708.4 979.2L710.0 977.5L712.0 999.7L716.0 1000.9L719.0 1013.0L722.0 1016.8L725.0 1004.0L727.6 995.5L729.6 986.5L732.0 1011.5L735.0 1017.4L739.0 1019.5L742.9 1020.4L746.9 1017.8L750.3 1016.5L751.9 1003.0L754.3 987.0L756.3 997.8L758.9 1005.3L761.3 1009.4L763.3 991.1L765.5 1004.6L766.9 993.9L768.3 1006.1L769.5 919.9L770.9 866.6L772.9 899.8L773.9 834.2L775.5 919.3L776.5 973.2L778.9 934.3L780.9 971.5L783.9 988.3L786.9 991.6L788.9 960.1L791.3 900.4L793.3 950.3L794.9 983.9L796.3 977.7L797.9 1005.7L799.9 999.6L801.9 989.5L802.9 995.9L805.5 951.2L807.9 981.5L809.9 997.4L813.4 967.8L816.8 997.7L819.8 945.1L822.8 995.8L824.8 953.8L826.8 979.2L828.8 993.6L831.8 1010.6L834.8 999.5L836.8 1014.9L839.8 1007.7L841.8 1017.4L843.2 1002.9L845.8 1019.2L848.8 1014.6L850.8 1018.7L852.8 1013.5L856.8 1013.1L859.8 1007.4L861.8 989.7L864.4 1001.9L866.2 999.7L868.2 985.9L870.8 1000.6L873.4 997.7L875.8 1000.7L878.8 999.7L880.8 1006.5L883.7 1009.7L886.1 1014.6L888.7 1009.1L890.7 1008.0L892.7 1013.6L895.7 1011.6L898.1 1014.8L900.7 1006.6L903.1 999.6L905.7 1007.9L907.3 1011.9L908.7 1006.8L911.7 1017.0L914.7 1014.7L918.7 1016.7L923.7 1014.6L927.7 1013.6L931.7 1015.6L933.7 1011.0L935.7 1015.9L937.7 1008.7L940.1 1014.7L942.7 1010.6L946.1 1016.8L948.7 1017.7L950.7 1011.7L953.7 1016.7L956.6 1016.4L960.0 1021.6L963.6 1019.0L966.0 1019.6L968.6 1009.6L971.2 1007.7L974.6 1016.5L978.0 1011.5L980.6 1016.5L985.6 1017.5L988.6 1010.7L991.6 1016.3L994.6 1018.5L998.0 1018.5L998.0 1019.7L1001.0 1017.5L1003.0 1019.8L1006.0 1017.6L1009.0 1018.9L1012.0 1016.4L1014.4 1015.0L1017.0 1017.5L1020.0 1016.6L1022.4 1018.5L1025.0 1020.7L1028.0 1019.0L1031.0 1020.9L1033.9 1021.6L1036.9 1019.8L1039.9 1022.0L1042.9 1020.8L1045.9 1022.1L1049.9 1022.2L1053.9 1023.8L1057.9 1020.4L1061.9 1022.0L1065.9 1022.7L1069.5 1021.6L1072.9 1022.8L1076.9 1023.8L1080.3 1021.8L1083.9 1021.2L1086.9 1023.0L1091.9 1024.7L1095.9 1024.0L1099.9 1023.5L1103.9 1023.7L1108.8 1021.7L1112.8 1022.2L1115.8 1022.9L1119.8 1024.0L1122.8 1023.7L1125.8 1023.7L1130.8 1025.3L1134.8 1023.6L1137.8 1024.0L1140.2 1019.8L1142.2 1022.4L1144.8 1018.8L1147.4 1023.9L1150.8 1023.7L1153.8 1024.7L1156.8 1023.6L1159.8 1024.8L1163.8 1022.7L1167.8 1022.3L1170.8 1021.8L1173.8 1023.2L1175.8 1021.8L1178.7 1024.8L1183.7 1025.7L1186.7 1025.8L1189.7 1025.9L1194.7 1026.0L1197.7 1024.9L1201.7 1024.8L1205.7 1022.8L1208.7 1018.9L1211.3 1024.2L1214.7 1020.6L1217.7 1019.5L1219.7 1017.9L1222.1 1014.7L1224.7 1020.7L1227.7 1024.4L1231.7 1025.9L1234.7 1024.8L1237.7 1025.4L1240.7 1024.9L1244.7 1020.7L1247.7 1021.6L1250.6 1022.4L1253.6 1025.0L1257.6 1021.6L1260.6 1021.8L1263.2 1020.6L1265.6 1009.6L1268.6 1010.9L1270.6 1013.8L1273.2 1008.8L1275.6 1006.7L1278.6 1012.8L1281.6 1010.8L1284.6 1010.0L1287.6 1016.7L1290.0 1014.8L1292.0 1009.1L1292.0 1011.3L1293.8 986.7L1296.3 1010.9L1299.3 995.8L1302.1 1009.0L1305.4 1008.3L1308.7 1016.7L1312.0 1013.6L1314.5 1004.7L1318.6 1012.1L1321.1 1010.4L1324.1 1001.7L1326.9 1008.0L1330.2 1015.6L1334.4 1004.1L1336.8 1006.7L1339.3 1000.4L1342.6 1003.7L1345.1 1010.3L1346.8 1005.7L1349.3 1012.1L1351.7 1006.6L1354.2 1009.2L1356.7 1007.7L1359.2 1010.5L1362.5 1014.0L1365.8 1007.3L1370.8 1007.0L1374.1 1006.6L1377.4 1006.7L1380.7 1001.3L1382.7 1005.8L1386.5 997.4L1388.7 1002.4L1391.0 993.1L1393.1 1000.5L1396.4 994.5L1398.9 1004.2L1401.4 974.2L1403.9 1001.7L1405.5 992.2L1408.0 1001.6L1412.2 989.0L1413.8 1001.1L1415.8 984.8L1418.0 995.9L1419.6 990.9L1421.3 997.5L1422.9 994.9L1425.1 1004.9L1427.9 1000.4L1430.4 992.4L1432.0 999.6L1434.0 991.6L1436.2 994.0L1438.6 1000.2L1441.6 977.5L1444.9 997.4L1448.2 970.1L1450.2 979.2L1452.7 983.1L1454.9 969.3L1456.5 982.4L1458.8 967.3L1461.0 974.3L1463.5 974.2" stroke="#ff7f0e" stroke-width="2.1"/></g>
<path d="M116.50 1054.5v5.1M284.50 1054.5v5.1M453.50 1054.5v5.1M621.50 1054.5v5.1M789.50 1054.5v5.1M958.50 1054.5v5.1M1126.50 1054.5v5.1M1294.50 1054.5v5.1M116.5 613.50h-5.3M116.5 672.50h-5.3M116.5 732.50h-5.3M116.5 791.50h-5.3M116.5 851.50h-5.3M116.5 910.50h-5.3M116.5 969.50h-5.3M116.5 1029.50h-5.3" stroke="#000" stroke-width="1" fill="none"/>
<rect x="116.5" y="575.5" width="1347.0" height="479.0" fill="none" stroke="#000" stroke-width="1.05"/>
<rect x="1047.5" y="584.6" width="405.9000000000001" height="80.5" rx="2.8" fill="#fff" fill-opacity="0.8" stroke="#ccc" stroke-opacity="0.8" stroke-width="1.1"/>
<circle cx="1073.5" cy="599.5" r="2.9" fill="#1f77b4"/>
<path d="M1053.9 638.9000000000001H1093.1" stroke="#ff7f0e" stroke-width="2.1" fill="none"/>
<defs><filter id="nf" x="0" y="0" width="1472" height="1172" filterUnits="userSpaceOnUse"><feOffset dx="0" dy="0"/></filter></defs><g filter="url(#nf)">
<text transform="translate(1107.35,68.55) scale(0.2172,0.1750)" font-size="100" stroke="#000" stroke-width="2.82" stroke-linejoin="round">Raw Data</text>
<text transform="translate(1107.31,95.75) scale(0.2242,0.1791)" font-size="100" stroke="#000" stroke-width="2.75" stroke-linejoin="round">Butterworth Filtered Data</text>
<text transform="translate(1107.84,116.71) scale(0.2264,0.1771)" font-size="100" stroke="#000" stroke-width="2.75" stroke-linejoin="round">(N=6, Tc=3.3333 min, Type: low)</text>
<text transform="translate(1107.35,605.55) scale(0.2172,0.1750)" font-size="100" stroke="#000" stroke-width="2.82" stroke-linejoin="round">Raw Data</text>
<text transform="translate(1107.31,632.75) scale(0.2242,0.1791)" font-size="100" stroke="#000" stroke-width="2.75" stroke-linejoin="round">Butterworth Filtered Data</text>
<text transform="translate(1107.84,653.71) scale(0.2264,0.1771)" font-size="100" stroke="#000" stroke-width="2.75" stroke-linejoin="round">(N=6, Tc=3.3333 min, Type: low)</text>
<text transform="translate(116.32,28.45) scale(0.3308,0.2463)" font-size="100" stroke="#000" stroke-width="1.93" stroke-linejoin="round">(a)</text>
<text transform="translate(116.35,565.52) scale(0.3242,0.2527)" font-size="100" stroke="#000" stroke-width="1.92" stroke-linejoin="round">(b)</text>
<text transform="translate(634.01,29.64) scale(0.3278,0.2810)" font-size="100" stroke="#000" stroke-width="1.81" stroke-linejoin="round">10.0 MHz N0000030</text>
<text transform="translate(765.13,1157.91) scale(0.2401,0.2190)" font-size="100" stroke="#000" stroke-width="2.40" stroke-linejoin="round">UTC</text>
<text transform="translate(66.87,62.54) scale(0.2765,0.2307)" font-size="100" stroke="#000" stroke-width="2.18" stroke-linejoin="round">1.5</text>
<text transform="translate(66.85,116.55) scale(0.2787,0.2275)" font-size="100" stroke="#000" stroke-width="2.18" stroke-linejoin="round">1.0</text>
<text transform="translate(67.44,171.55) scale(0.2723,0.2275)" font-size="100" stroke="#000" stroke-width="2.21" stroke-linejoin="round">0.5</text>
<text transform="translate(67.43,226.55) scale(0.2744,0.2275)" font-size="100" stroke="#000" stroke-width="2.20" stroke-linejoin="round">0.0</text>
<text transform="translate(50.52,281.55) scale(0.2767,0.2275)" font-size="100" stroke="#000" stroke-width="2.19" stroke-linejoin="round">&#8722;0.5</text>
<text transform="translate(50.51,336.55) scale(0.2796,0.2275)" font-size="100" stroke="#000" stroke-width="2.18" stroke-linejoin="round">&#8722;1.0</text>
<text transform="translate(50.52,391.54) scale(0.2767,0.2307)" font-size="100" stroke="#000" stroke-width="2.18" stroke-linejoin="round">&#8722;1.5</text>
<text transform="translate(50.51,445.55) scale(0.2796,0.2275)" font-size="100" stroke="#000" stroke-width="2.18" stroke-linejoin="round">&#8722;2.0</text>
<text transform="translate(50.52,500.55) scale(0.2767,0.2275)" font-size="100" stroke="#000" stroke-width="2.19" stroke-linejoin="round">&#8722;2.5</text>
<text transform="translate(36.22,620.55) scale(0.2752,0.2275)" font-size="100" stroke="#000" stroke-width="2.20" stroke-linejoin="round">0.175</text>
<text transform="translate(36.22,679.55) scale(0.2775,0.2275)" font-size="100" stroke="#000" stroke-width="2.19" stroke-linejoin="round">0.150</text>
<text transform="translate(36.22,739.55) scale(0.2752,0.2275)" font-size="100" stroke="#000" stroke-width="2.20" stroke-linejoin="round">0.125</text>
<text transform="translate(36.22,798.55) scale(0.2775,0.2275)" font-size="100" stroke="#000" stroke-width="2.19" stroke-linejoin="round">0.100</text>
<text transform="translate(36.22,858.55) scale(0.2752,0.2275)" font-size="100" stroke="#000" stroke-width="2.20" stroke-linejoin="round">0.075</text>
<text transform="translate(36.22,917.55) scale(0.2775,0.2275)" font-size="100" stroke="#000" stroke-width="2.19" stroke-linejoin="round">0.050</text>
<text transform="translate(36.22,976.55) scale(0.2752,0.2275)" font-size="100" stroke="#000" stroke-width="2.20" stroke-linejoin="round">0.025</text>
<text transform="translate(36.22,1036.55) scale(0.2775,0.2275)" font-size="100" stroke="#000" stroke-width="2.19" stroke-linejoin="round">0.000</text>
<text transform="translate(42.20,389.50) rotate(-90) translate(-1.59,-4.69) scale(0.2665,0.2101)" font-size="100" stroke="#000" stroke-width="2.32" stroke-linejoin="round">Doppler Shift [Hz]</text>
<text transform="translate(29.40,918.60) rotate(-90) translate(-1.61,-4.75) scale(0.2698,0.2133)" font-size="100" stroke="#000" stroke-width="2.29" stroke-linejoin="round">Peak Voltage [V]</text>
<text transform="translate(19.98,1132.50) rotate(-30) translate(-0.82,-0.50) scale(0.2730,0.2289)" font-size="100" stroke="#000" stroke-width="2.20" stroke-linejoin="round">08-25 00</text>
<text transform="translate(187.98,1132.50) rotate(-30) translate(-0.82,-0.50) scale(0.2730,0.2289)" font-size="100" stroke="#000" stroke-width="2.20" stroke-linejoin="round">08-25 03</text>
<text transform="translate(356.98,1132.50) rotate(-30) translate(-0.82,-0.50) scale(0.2730,0.2289)" font-size="100" stroke="#000" stroke-width="2.20" stroke-linejoin="round">08-25 06</text>
<text transform="translate(524.98,1132.50) rotate(-30) translate(-0.82,-0.50) scale(0.2730,0.2289)" font-size="100" stroke="#000" stroke-width="2.20" stroke-linejoin="round">08-25 09</text>
<text transform="translate(692.98,1132.50) rotate(-30) translate(-0.82,-0.50) scale(0.2730,0.2289)" font-size="100" stroke="#000" stroke-width="2.20" stroke-linejoin="round">08-25 12</text>
<text transform="translate(861.98,1132.50) rotate(-30) translate(-0.81,-0.50) scale(0.2723,0.2289)" font-size="100" stroke="#000" stroke-width="2.20" stroke-linejoin="round">08-25 15</text>
<text transform="translate(1029.98,1132.50) rotate(-30) translate(-0.81,-0.50) scale(0.2723,0.2289)" font-size="100" stroke="#000" stroke-width="2.20" stroke-linejoin="round">08-25 18</text>
<text transform="translate(1197.98,1132.50) rotate(-30) translate(-0.81,-0.50) scale(0.2723,0.2289)" font-size="100" stroke="#000" stroke-width="2.20" stroke-linejoin="round">08-25 21</text>
</g>
</svg>
</body></html>
